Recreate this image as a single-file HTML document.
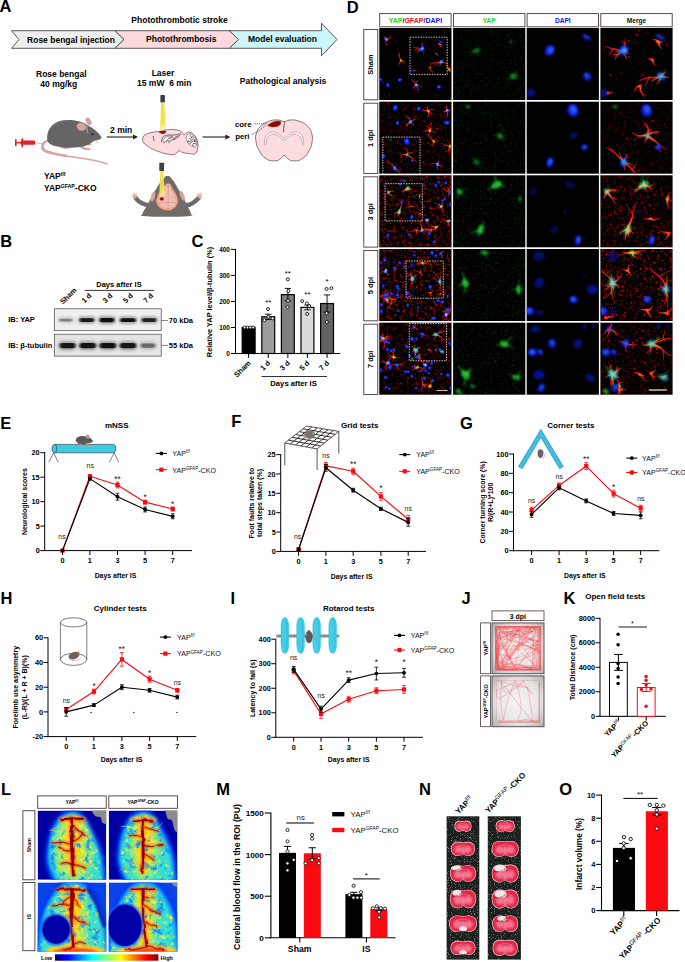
<!DOCTYPE html>
<html><head><meta charset="utf-8"><title>Figure</title>
<style>
html,body{margin:0;padding:0;background:#fff;}
body{width:685px;height:962px;overflow:hidden;font-family:"Liberation Sans", sans-serif;}
svg{display:block;font-family:"Liberation Sans", sans-serif;}
</style></head><body>
<svg width="685" height="962" viewBox="0 0 685 962">
<defs>
<linearGradient id="beam" x1="0" x2="0" y1="0" y2="1"><stop offset="0" stop-color="#efdc3a"/><stop offset="0.75" stop-color="#f4e658"/><stop offset="1" stop-color="#f9f0a0" stop-opacity="0.7"/></linearGradient>
<filter id="blurB" x="-30%" y="-80%" width="160%" height="260%"><feGaussianBlur stdDeviation="1.5 1.3"/></filter>
<filter id="blurB2" x="-30%" y="-80%" width="160%" height="260%"><feGaussianBlur stdDeviation="0.9 0.7"/></filter>
<clipPath id="clipB1"><rect x="54.3" y="308.8" width="106.9" height="21.9"/></clipPath>
<clipPath id="clipB2"><rect x="54.3" y="334.2" width="106.9" height="21.9"/></clipPath>
<filter id="bl04" x="-20%" y="-20%" width="140%" height="140%"><feGaussianBlur stdDeviation="0.45"/></filter>
<filter id="bl07" x="-20%" y="-20%" width="140%" height="140%"><feGaussianBlur stdDeviation="0.8"/></filter>
<filter id="bl03" x="-20%" y="-20%" width="140%" height="140%"><feGaussianBlur stdDeviation="0.3"/></filter>
<filter id="nR0" x="0" y="0" width="100%" height="100%" color-interpolation-filters="sRGB"><feTurbulence type="fractalNoise" baseFrequency="0.5" numOctaves="2" seed="3"/><feColorMatrix type="matrix" values="0 0 0 0 0.93 0 0 0 0 0.06 0 0 0 0 0.05 9 0 0 0 -6.615"/></filter>
<filter id="nRo0" x="0" y="0" width="100%" height="100%" color-interpolation-filters="sRGB"><feTurbulence type="fractalNoise" baseFrequency="0.85" numOctaves="2" seed="23"/><feColorMatrix type="matrix" values="0 0 0 0 0.8 0 0 0 0 0.05 0 0 0 0 0.05 7 0 0 0 -5.145"/></filter>
<filter id="nH0" x="0" y="0" width="100%" height="100%" color-interpolation-filters="sRGB"><feTurbulence type="fractalNoise" baseFrequency="0.3" numOctaves="2" seed="63"/><feColorMatrix type="matrix" values="0 0 0 0 0.8 0 0 0 0 0.04 0 0 0 0 0.04 0.0 0 0 0 -0.000"/></filter>
<filter id="nG0" x="0" y="0" width="100%" height="100%" color-interpolation-filters="sRGB"><feTurbulence type="fractalNoise" baseFrequency="0.4" numOctaves="2" seed="43"/><feColorMatrix type="matrix" values="0 0 0 0 0.06 0 0 0 0 0.5 0 0 0 0 0.08 1.3 0 0 0 -0.780"/></filter>
<filter id="nGf0" x="0" y="0" width="100%" height="100%" color-interpolation-filters="sRGB"><feTurbulence type="fractalNoise" baseFrequency="0.7" numOctaves="2" seed="44"/><feColorMatrix type="matrix" values="0 0 0 0 0.12 0 0 0 0 0.75 0 0 0 0 0.15 9 0 0 0 -6.300"/></filter>
<clipPath id="cd00"><rect x="379.3" y="28.0" width="72.2" height="72.0"/></clipPath>
<clipPath id="cd01"><rect x="453.1" y="28.0" width="72.2" height="72.0"/></clipPath>
<clipPath id="cd02"><rect x="526.7" y="28.0" width="72.2" height="72.0"/></clipPath>
<clipPath id="cd03"><rect x="600.4" y="28.0" width="72.2" height="72.0"/></clipPath>
<filter id="nR1" x="0" y="0" width="100%" height="100%" color-interpolation-filters="sRGB"><feTurbulence type="fractalNoise" baseFrequency="0.5" numOctaves="2" seed="5"/><feColorMatrix type="matrix" values="0 0 0 0 0.93 0 0 0 0 0.06 0 0 0 0 0.05 9 0 0 0 -6.480"/></filter>
<filter id="nRo1" x="0" y="0" width="100%" height="100%" color-interpolation-filters="sRGB"><feTurbulence type="fractalNoise" baseFrequency="0.85" numOctaves="2" seed="25"/><feColorMatrix type="matrix" values="0 0 0 0 0.8 0 0 0 0 0.05 0 0 0 0 0.05 7 0 0 0 -4.970"/></filter>
<filter id="nH1" x="0" y="0" width="100%" height="100%" color-interpolation-filters="sRGB"><feTurbulence type="fractalNoise" baseFrequency="0.3" numOctaves="2" seed="65"/><feColorMatrix type="matrix" values="0 0 0 0 0.8 0 0 0 0 0.04 0 0 0 0 0.04 1.0 0 0 0 -0.520"/></filter>
<filter id="nG1" x="0" y="0" width="100%" height="100%" color-interpolation-filters="sRGB"><feTurbulence type="fractalNoise" baseFrequency="0.4" numOctaves="2" seed="45"/><feColorMatrix type="matrix" values="0 0 0 0 0.06 0 0 0 0 0.5 0 0 0 0 0.08 1.3 0 0 0 -0.780"/></filter>
<filter id="nGf1" x="0" y="0" width="100%" height="100%" color-interpolation-filters="sRGB"><feTurbulence type="fractalNoise" baseFrequency="0.7" numOctaves="2" seed="46"/><feColorMatrix type="matrix" values="0 0 0 0 0.12 0 0 0 0 0.75 0 0 0 0 0.15 9 0 0 0 -6.300"/></filter>
<clipPath id="cd10"><rect x="379.3" y="101.7" width="72.2" height="72.0"/></clipPath>
<clipPath id="cd11"><rect x="453.1" y="101.7" width="72.2" height="72.0"/></clipPath>
<clipPath id="cd12"><rect x="526.7" y="101.7" width="72.2" height="72.0"/></clipPath>
<clipPath id="cd13"><rect x="600.4" y="101.7" width="72.2" height="72.0"/></clipPath>
<filter id="nR2" x="0" y="0" width="100%" height="100%" color-interpolation-filters="sRGB"><feTurbulence type="fractalNoise" baseFrequency="0.5" numOctaves="2" seed="7"/><feColorMatrix type="matrix" values="0 0 0 0 0.93 0 0 0 0 0.06 0 0 0 0 0.05 9 0 0 0 -6.210"/></filter>
<filter id="nRo2" x="0" y="0" width="100%" height="100%" color-interpolation-filters="sRGB"><feTurbulence type="fractalNoise" baseFrequency="0.85" numOctaves="2" seed="27"/><feColorMatrix type="matrix" values="0 0 0 0 0.8 0 0 0 0 0.05 0 0 0 0 0.05 7 0 0 0 -4.690"/></filter>
<filter id="nH2" x="0" y="0" width="100%" height="100%" color-interpolation-filters="sRGB"><feTurbulence type="fractalNoise" baseFrequency="0.3" numOctaves="2" seed="67"/><feColorMatrix type="matrix" values="0 0 0 0 0.8 0 0 0 0 0.04 0 0 0 0 0.04 2.25 0 0 0 -1.170"/></filter>
<filter id="nG2" x="0" y="0" width="100%" height="100%" color-interpolation-filters="sRGB"><feTurbulence type="fractalNoise" baseFrequency="0.4" numOctaves="2" seed="47"/><feColorMatrix type="matrix" values="0 0 0 0 0.06 0 0 0 0 0.5 0 0 0 0 0.08 1.3 0 0 0 -0.767"/></filter>
<filter id="nGf2" x="0" y="0" width="100%" height="100%" color-interpolation-filters="sRGB"><feTurbulence type="fractalNoise" baseFrequency="0.7" numOctaves="2" seed="48"/><feColorMatrix type="matrix" values="0 0 0 0 0.12 0 0 0 0 0.75 0 0 0 0 0.15 9 0 0 0 -6.300"/></filter>
<clipPath id="cd20"><rect x="379.3" y="175.3" width="72.2" height="72.0"/></clipPath>
<clipPath id="cd21"><rect x="453.1" y="175.3" width="72.2" height="72.0"/></clipPath>
<clipPath id="cd22"><rect x="526.7" y="175.3" width="72.2" height="72.0"/></clipPath>
<clipPath id="cd23"><rect x="600.4" y="175.3" width="72.2" height="72.0"/></clipPath>
<filter id="nR3" x="0" y="0" width="100%" height="100%" color-interpolation-filters="sRGB"><feTurbulence type="fractalNoise" baseFrequency="0.5" numOctaves="2" seed="9"/><feColorMatrix type="matrix" values="0 0 0 0 0.93 0 0 0 0 0.06 0 0 0 0 0.05 9 0 0 0 -6.030"/></filter>
<filter id="nRo3" x="0" y="0" width="100%" height="100%" color-interpolation-filters="sRGB"><feTurbulence type="fractalNoise" baseFrequency="0.85" numOctaves="2" seed="29"/><feColorMatrix type="matrix" values="0 0 0 0 0.8 0 0 0 0 0.05 0 0 0 0 0.05 7 0 0 0 -4.620"/></filter>
<filter id="nH3" x="0" y="0" width="100%" height="100%" color-interpolation-filters="sRGB"><feTurbulence type="fractalNoise" baseFrequency="0.3" numOctaves="2" seed="69"/><feColorMatrix type="matrix" values="0 0 0 0 0.8 0 0 0 0 0.04 0 0 0 0 0.04 2.5 0 0 0 -1.300"/></filter>
<filter id="nG3" x="0" y="0" width="100%" height="100%" color-interpolation-filters="sRGB"><feTurbulence type="fractalNoise" baseFrequency="0.4" numOctaves="2" seed="49"/><feColorMatrix type="matrix" values="0 0 0 0 0.06 0 0 0 0 0.5 0 0 0 0 0.08 1.3 0 0 0 -0.767"/></filter>
<filter id="nGf3" x="0" y="0" width="100%" height="100%" color-interpolation-filters="sRGB"><feTurbulence type="fractalNoise" baseFrequency="0.7" numOctaves="2" seed="50"/><feColorMatrix type="matrix" values="0 0 0 0 0.12 0 0 0 0 0.75 0 0 0 0 0.15 9 0 0 0 -6.300"/></filter>
<clipPath id="cd30"><rect x="379.3" y="249.0" width="72.2" height="72.0"/></clipPath>
<clipPath id="cd31"><rect x="453.1" y="249.0" width="72.2" height="72.0"/></clipPath>
<clipPath id="cd32"><rect x="526.7" y="249.0" width="72.2" height="72.0"/></clipPath>
<clipPath id="cd33"><rect x="600.4" y="249.0" width="72.2" height="72.0"/></clipPath>
<filter id="nR4" x="0" y="0" width="100%" height="100%" color-interpolation-filters="sRGB"><feTurbulence type="fractalNoise" baseFrequency="0.5" numOctaves="2" seed="11"/><feColorMatrix type="matrix" values="0 0 0 0 0.93 0 0 0 0 0.06 0 0 0 0 0.05 9 0 0 0 -6.345"/></filter>
<filter id="nRo4" x="0" y="0" width="100%" height="100%" color-interpolation-filters="sRGB"><feTurbulence type="fractalNoise" baseFrequency="0.85" numOctaves="2" seed="31"/><feColorMatrix type="matrix" values="0 0 0 0 0.8 0 0 0 0 0.05 0 0 0 0 0.05 7 0 0 0 -4.830"/></filter>
<filter id="nH4" x="0" y="0" width="100%" height="100%" color-interpolation-filters="sRGB"><feTurbulence type="fractalNoise" baseFrequency="0.3" numOctaves="2" seed="71"/><feColorMatrix type="matrix" values="0 0 0 0 0.8 0 0 0 0 0.04 0 0 0 0 0.04 1.5 0 0 0 -0.780"/></filter>
<filter id="nG4" x="0" y="0" width="100%" height="100%" color-interpolation-filters="sRGB"><feTurbulence type="fractalNoise" baseFrequency="0.4" numOctaves="2" seed="51"/><feColorMatrix type="matrix" values="0 0 0 0 0.06 0 0 0 0 0.5 0 0 0 0 0.08 1.3 0 0 0 -0.767"/></filter>
<filter id="nGf4" x="0" y="0" width="100%" height="100%" color-interpolation-filters="sRGB"><feTurbulence type="fractalNoise" baseFrequency="0.7" numOctaves="2" seed="52"/><feColorMatrix type="matrix" values="0 0 0 0 0.12 0 0 0 0 0.75 0 0 0 0 0.15 9 0 0 0 -6.300"/></filter>
<clipPath id="cd40"><rect x="379.3" y="322.7" width="72.2" height="72.0"/></clipPath>
<clipPath id="cd41"><rect x="453.1" y="322.7" width="72.2" height="72.0"/></clipPath>
<clipPath id="cd42"><rect x="526.7" y="322.7" width="72.2" height="72.0"/></clipPath>
<clipPath id="cd43"><rect x="600.4" y="322.7" width="72.2" height="72.0"/></clipPath>
<radialGradient id="gJ" cx="50%" cy="50%" r="70%"><stop offset="0" stop-color="#f4f4f4"/><stop offset="0.6" stop-color="#e6e6e6"/><stop offset="1" stop-color="#b0b0b0"/></radialGradient>
<filter id="lb05" x="-40%" y="-40%" width="180%" height="180%"><feGaussianBlur stdDeviation="0.4"/></filter>
<filter id="lb1" x="-40%" y="-40%" width="180%" height="180%"><feGaussianBlur stdDeviation="0.9"/></filter>
<filter id="lb2" x="-40%" y="-40%" width="180%" height="180%"><feGaussianBlur stdDeviation="1.8"/></filter>
<filter id="lb3" x="-40%" y="-40%" width="180%" height="180%"><feGaussianBlur stdDeviation="3.0"/></filter>
<filter id="lb5" x="-40%" y="-40%" width="180%" height="180%"><feGaussianBlur stdDeviation="5.0"/></filter>
<filter id="lwob" x="-10%" y="-10%" width="120%" height="120%"><feTurbulence type="fractalNoise" baseFrequency="0.09" numOctaves="2" seed="4" result="n"/><feDisplacementMap in="SourceGraphic" in2="n" scale="3.2" xChannelSelector="R" yChannelSelector="G"/><feGaussianBlur stdDeviation="0.35"/></filter>
<linearGradient id="jet" x1="0" x2="1" y1="0" y2="0"><stop offset="0" stop-color="#00007f"/><stop offset="0.12" stop-color="#0000ff"/><stop offset="0.36" stop-color="#00ffff"/><stop offset="0.5" stop-color="#7fff7f"/><stop offset="0.64" stop-color="#ffff00"/><stop offset="0.88" stop-color="#ff0000"/><stop offset="1" stop-color="#7f0000"/></linearGradient>
<clipPath id="cl0"><rect x="37.6" y="810.6" width="68.7" height="69.2"/></clipPath>
<clipPath id="clb0"><path d="M72.6 814.8 C76.1 814.8 79.1 816.6 82.2 819.9 C85.3 823.3 88.6 829.9 91.1 834.7 C93.7 839.6 95.9 844.1 97.5 848.9 C99.1 853.7 100.4 858.0 100.7 863.7 C101.0 869.4 104.2 879.4 99.4 883.0 C94.6 886.7 78.7 885.6 72.0 885.6 C65.2 885.6 62.8 886.4 59.2 883.0 C55.6 879.6 51.8 870.4 50.2 865.0 C48.6 859.6 49.2 856.0 49.6 850.8 C50.0 845.7 50.9 839.2 52.8 834.1 C54.7 829.0 57.8 823.2 61.1 819.9 C64.4 816.7 69.1 814.8 72.6 814.8Z"/></clipPath>
<filter id="lnB0" x="0" y="0" width="100%" height="100%" color-interpolation-filters="sRGB"><feTurbulence type="fractalNoise" baseFrequency="0.14" numOctaves="3" seed="2"/><feColorMatrix type="matrix" values="0 0 0 0 0.05 0 0 0 0 0.55 0 0 0 0 1 4.5 0 0 0 -2.45"/></filter>
<filter id="lnY0" x="0" y="0" width="100%" height="100%" color-interpolation-filters="sRGB"><feTurbulence type="fractalNoise" baseFrequency="0.2" numOctaves="3" seed="12"/><feColorMatrix type="matrix" values="0 0 0 0 1 0 0 0 0 0.95 0 0 0 0 0.2 0 4 0 0 -2.3"/></filter>
<clipPath id="cl1"><rect x="108.7" y="810.6" width="68.7" height="69.2"/></clipPath>
<clipPath id="clb1"><path d="M143.7 814.8 C147.2 814.8 150.2 816.6 153.3 819.9 C156.4 823.3 159.7 829.9 162.2 834.7 C164.8 839.6 167.0 844.1 168.6 848.9 C170.2 853.7 171.5 858.0 171.8 863.7 C172.1 869.4 175.3 879.4 170.5 883.0 C165.7 886.7 149.8 885.6 143.1 885.6 C136.3 885.6 133.9 886.4 130.3 883.0 C126.7 879.6 122.9 870.4 121.3 865.0 C119.7 859.6 120.3 856.0 120.7 850.8 C121.1 845.7 122.0 839.2 123.9 834.1 C125.8 829.0 128.9 823.2 132.2 819.9 C135.5 816.7 140.2 814.8 143.7 814.8Z"/></clipPath>
<filter id="lnB1" x="0" y="0" width="100%" height="100%" color-interpolation-filters="sRGB"><feTurbulence type="fractalNoise" baseFrequency="0.14" numOctaves="3" seed="3"/><feColorMatrix type="matrix" values="0 0 0 0 0.05 0 0 0 0 0.55 0 0 0 0 1 4.5 0 0 0 -2.45"/></filter>
<filter id="lnY1" x="0" y="0" width="100%" height="100%" color-interpolation-filters="sRGB"><feTurbulence type="fractalNoise" baseFrequency="0.2" numOctaves="3" seed="13"/><feColorMatrix type="matrix" values="0 0 0 0 1 0 0 0 0 0.95 0 0 0 0 0.2 0 4 0 0 -2.3"/></filter>
<clipPath id="cl2"><rect x="37.6" y="882.4" width="68.7" height="69.2"/></clipPath>
<clipPath id="clb2"><path d="M72.6 884.0 C76.6 883.9 81.0 885.0 84.7 887.9 C88.5 890.8 92.2 896.5 95.0 901.4 C97.7 906.3 99.8 911.8 101.3 917.5 C102.8 923.2 103.7 929.1 103.9 935.5 C104.1 941.9 107.9 952.5 102.6 956.1 C97.3 959.7 82.0 957.4 72.0 957.4 C61.9 957.4 47.7 959.5 42.6 956.1 C37.4 952.7 41.2 942.7 41.3 936.8 C41.4 930.9 41.8 926.3 43.2 920.7 C44.6 915.1 46.7 908.7 49.6 903.3 C52.5 898.0 56.6 891.7 60.4 888.5 C64.3 885.3 68.5 884.1 72.6 884.0Z"/></clipPath>
<filter id="lnB2" x="0" y="0" width="100%" height="100%" color-interpolation-filters="sRGB"><feTurbulence type="fractalNoise" baseFrequency="0.14" numOctaves="3" seed="4"/><feColorMatrix type="matrix" values="0 0 0 0 0.05 0 0 0 0 0.55 0 0 0 0 1 4.5 0 0 0 -2.45"/></filter>
<filter id="lnY2" x="0" y="0" width="100%" height="100%" color-interpolation-filters="sRGB"><feTurbulence type="fractalNoise" baseFrequency="0.2" numOctaves="3" seed="14"/><feColorMatrix type="matrix" values="0 0 0 0 1 0 0 0 0 0.95 0 0 0 0 0.2 0 4 0 0 -2.3"/></filter>
<clipPath id="cl3"><rect x="108.7" y="882.4" width="68.7" height="69.2"/></clipPath>
<clipPath id="clb3"><path d="M143.7 884.0 C147.7 883.9 152.1 885.0 155.8 887.9 C159.6 890.8 163.3 896.5 166.1 901.4 C168.8 906.3 170.9 911.8 172.4 917.5 C173.9 923.2 174.8 929.1 175.0 935.5 C175.2 941.9 179.0 952.5 173.7 956.1 C168.4 959.7 153.1 957.4 143.1 957.4 C133.0 957.4 118.8 959.5 113.7 956.1 C108.5 952.7 112.3 942.7 112.4 936.8 C112.5 930.9 112.9 926.3 114.3 920.7 C115.7 915.1 117.8 908.7 120.7 903.3 C123.6 898.0 127.7 891.7 131.5 888.5 C135.4 885.3 139.6 884.1 143.7 884.0Z"/></clipPath>
<filter id="lnB3" x="0" y="0" width="100%" height="100%" color-interpolation-filters="sRGB"><feTurbulence type="fractalNoise" baseFrequency="0.14" numOctaves="3" seed="5"/><feColorMatrix type="matrix" values="0 0 0 0 0.05 0 0 0 0 0.55 0 0 0 0 1 4.5 0 0 0 -2.45"/></filter>
<filter id="lnY3" x="0" y="0" width="100%" height="100%" color-interpolation-filters="sRGB"><feTurbulence type="fractalNoise" baseFrequency="0.2" numOctaves="3" seed="15"/><feColorMatrix type="matrix" values="0 0 0 0 1 0 0 0 0 0.95 0 0 0 0 0.2 0 4 0 0 -2.3"/></filter>
<filter id="nb1" x="-40%" y="-40%" width="180%" height="180%"><feGaussianBlur stdDeviation="0.9"/></filter>
<filter id="nb05" x="-40%" y="-40%" width="180%" height="180%"><feGaussianBlur stdDeviation="0.5"/></filter>
<filter id="nsp" x="0" y="0" width="100%" height="100%" color-interpolation-filters="sRGB"><feTurbulence type="fractalNoise" baseFrequency="1.3" numOctaves="1" seed="8"/><feColorMatrix type="matrix" values="0 0 0 0 0.60 0 0 0 0 0.64 0 0 0 0 0.62 5 0 0 0 -2.9"/></filter>
</defs>
<rect width="685" height="962" fill="#fff"/>
<g id="panelA">
<text x="-0.60" y="11.90" font-size="16.5" font-weight="bold" text-anchor="start" fill="#000" >A</text>
<text x="179.50" y="23.20" font-size="8.5" font-weight="bold" text-anchor="middle" fill="#000" >Photothrombotic stroke</text>
<path d="M11.5 30.7 L115 30.7 L124 39.5 L115 48.3 L11.5 48.3 L19 39.5 Z" fill="#efefef" stroke="#3a3030" stroke-width="0.8" />
<path d="M115 30.7 L229.5 30.7 L238.5 39.5 L229.5 48.3 L115 48.3 L124 39.5 Z" fill="#fcd9dc" stroke="#3a3030" stroke-width="0.8" />
<path d="M229.5 30.7 L321.5 30.7 L321.5 23.2 L337 39.5 L321.5 55.8 L321.5 48.3 L229.5 48.3 L238.5 39.5 Z" fill="#ccf6f8" stroke="#3a3030" stroke-width="0.8" />
<text x="71.00" y="42.60" font-size="8.5" font-weight="bold" text-anchor="middle" fill="#000" >Rose bengal injection</text>
<text x="181.20" y="42.00" font-size="8.5" font-weight="bold" text-anchor="middle" fill="#000" >Photothrombosis</text>
<text x="282.50" y="42.00" font-size="8.5" font-weight="bold" text-anchor="middle" fill="#000" >Model evaluation</text>
<text x="61.30" y="77.20" font-size="8.5" font-weight="bold" text-anchor="middle" fill="#000" >Rose bengal</text>
<text x="58.80" y="86.80" font-size="8.5" font-weight="bold" text-anchor="middle" fill="#000" >40 mg/kg</text>
<text x="163.00" y="76.20" font-size="8.5" font-weight="bold" text-anchor="middle" fill="#000" >Laser</text>
<text x="164.20" y="86.20" font-size="8.5" font-weight="bold" text-anchor="middle" fill="#000" xml:space="preserve">15 mW  6 min</text>
<text x="283.00" y="84.20" font-size="8.5" font-weight="bold" text-anchor="middle" fill="#000" >Pathological analysis</text>
<g><rect x="20.50" y="140.60" width="14.50" height="4.20" fill="#e0202a" stroke="none" stroke-width="1" rx="1"/>
<rect x="15.50" y="142.00" width="5.50" height="1.40" fill="#e0202a" stroke="none" stroke-width="1" />
<rect x="15.00" y="139.30" width="1.60" height="6.80" fill="#e0202a" stroke="none" stroke-width="1" />
<rect x="21.50" y="138.30" width="1.60" height="8.80" fill="#e0202a" stroke="none" stroke-width="1" />
<line x1="35.00" y1="142.70" x2="43.00" y2="143.60" stroke="#888" stroke-width="0.5" />
</g><path d="M49 140 C42 142 39 148 45 151.5 C58 157.5 88 156.5 107 164" fill="none" stroke="#d4a6a0" stroke-width="1.5" stroke-linecap="round"/>
<path d="M49.5 139.5 C43 142 40.5 147 45 150.5 C50 153 58 154.6 66 155.6" fill="none" stroke="#d4a6a0" stroke-width="2.3" stroke-linecap="round"/>
<path d="M60 146 q4 3 9 1.6" fill="none" stroke="#d4a6a0" stroke-width="2" stroke-linecap="round"/>
<path d="M80 146.5 q5 3 9.5 2.5" fill="none" stroke="#d4a6a0" stroke-width="2.2" stroke-linecap="round"/>
<path d="M84 143.5 q4 1.6 7 0.6" fill="none" stroke="#d4a6a0" stroke-width="1.8" stroke-linecap="round"/>
<path d="M47.5 141 C45.5 129 54 120.5 66 120 C76 119.5 84 122 89 126 C95 129 100 134.5 101.8 137.6 C101 139.6 98 140.6 94 140.8 C91 143.5 86 146.5 80 147 C72 148 64 148 58 146.5 C52.5 145.6 48.5 144 47.5 141 Z" fill="#676564" stroke="none" stroke-width="1" />
<path d="M58 146 q6 2.6 10 1 q-4 -3 -9 -3 Z" fill="#676564" stroke="none" stroke-width="1" />
<path d="M52 128 C56 122.6 62 121 68 120.8" fill="none" stroke="#8a8887" stroke-width="0.5" />
<ellipse cx="88.6" cy="121.4" rx="2.2" ry="3.8" fill="#d4a6a0" stroke="#b98884" stroke-width="0.4" transform="rotate(-28 88.6 121.4)"/>
<ellipse cx="81.4" cy="126.8" rx="4.7" ry="4.0" fill="#d4a6a0" stroke="#b98884" stroke-width="0.5" transform="rotate(20 81.4 126.8)"/>
<circle cx="92.60" cy="134.20" r="0.95" fill="#111" stroke="none" stroke-width="1" />
<circle cx="101.20" cy="137.60" r="0.80" fill="#d4a6a0" stroke="none" stroke-width="1" />
<line x1="97.50" y1="139.50" x2="94.50" y2="143.50" stroke="#bbb" stroke-width="0.35" />
<line x1="97.50" y1="139.50" x2="96.50" y2="144.50" stroke="#bbb" stroke-width="0.35" />
<line x1="97.50" y1="139.50" x2="99.00" y2="144.50" stroke="#bbb" stroke-width="0.35" />
<line x1="97.50" y1="139.50" x2="92.50" y2="142.50" stroke="#bbb" stroke-width="0.35" />
<line x1="86.70" y1="124.00" x2="87.30" y2="133.00" stroke="#ddd" stroke-width="0.6" />
<text x="121.20" y="133.20" font-size="8.5" font-weight="bold" text-anchor="middle" fill="#000" >2 min</text>
<line x1="106.80" y1="137.00" x2="134.00" y2="137.00" stroke="#2a1e1e" stroke-width="1.1" />
<path d="M133 134.6 L138 137 L133 139.4 Z" fill="#2a1e1e" stroke="none" stroke-width="1" />
<text x="44.00" y="179.40" font-size="8.5" font-weight="bold" text-anchor="start" fill="#000" >YAP<tspan font-size="5.20" dy="-3.20">f/f</tspan></text>
<text x="44.00" y="190.70" font-size="8.5" font-weight="bold" text-anchor="start" fill="#000" >YAP<tspan font-size="5.20" dy="-3.20">GFAP</tspan><tspan dy="3.20" dx="0">-CKO</tspan></text>
<rect x="160.40" y="95.10" width="4.50" height="7.40" fill="#3b4045" stroke="none" stroke-width="1" rx="0.4"/>
<rect x="159.30" y="162.80" width="4.80" height="8.20" fill="#3b4045" stroke="none" stroke-width="1" rx="0.4"/>
<path d="M161.2 102.5 L164.2 102.5 L166.0 130.6 L159.9 130.6 Z" fill="url(#beam)" stroke="none" stroke-width="1" />
<path d="M142.8 138.1 C143.4 136.1 142.8 136.2 145.6 134.6 C148.3 133.1 149.5 133.0 153.1 132.2 C156.8 131.3 155.5 132.1 159.3 131.5 C163.1 130.9 163.1 130.3 167.5 129.8 C171.9 129.4 172.1 129.4 175.8 129.8 C179.4 130.3 179.1 130.3 181.2 131.6 C183.4 132.9 182.4 134.2 183.7 134.6 C185.0 135.1 184.5 133.9 186.1 133.3 C187.6 132.6 187.1 131.4 189.5 132.2 C191.9 132.9 192.8 133.2 195.0 136.0 C197.2 138.9 197.1 139.4 197.7 142.9 C198.4 146.4 198.1 146.2 197.4 149.1 C196.8 151.9 197.4 152.4 195.2 153.6 C193.1 154.8 192.8 153.9 189.5 153.6 C186.1 153.3 185.4 153.2 182.6 152.5 C179.9 151.7 180.9 150.4 179.2 150.7 C177.4 151.0 177.9 152.5 176.0 153.6 C174.2 154.6 175.0 154.6 172.3 154.7 C169.7 154.7 169.6 154.6 166.2 153.9 C162.7 153.1 163.0 153.1 159.3 151.8 C155.6 150.5 155.7 150.7 152.4 149.1 C149.1 147.4 149.3 147.5 147.0 145.6 C144.6 143.8 144.6 144.2 143.5 142.2 C142.4 140.2 142.3 140.1 142.8 138.1Z" fill="#fcdcdf" stroke="#2e1c1c" stroke-width="0.55" />
<path d="M158.9 131.8 C158.4 132.4 159.6 132.9 160.9 133.4 C162.3 133.9 162.7 134.2 164.1 133.7 C165.5 133.2 166.5 132.3 166.2 131.6 C165.8 130.9 164.7 131.0 162.7 131.1 C160.8 131.1 159.4 131.1 158.9 131.8Z" fill="#9c1216" stroke="none" stroke-width="1" />
<path d="M161.4 142.3 C161.7 141.1 161.3 139.5 162.7 137.7 C164.2 135.8 164.3 136.0 166.8 135.3 C169.4 134.6 169.4 135.3 172.3 135.1 C175.3 134.8 175.6 134.9 177.8 134.4 C180.1 133.8 179.9 133.4 180.7 133.0" fill="none" stroke="#2e1c1c" stroke-width="0.65" />
<path d="M163.8 143.2 C164.4 142.2 164.4 140.8 166.2 139.4 C167.9 138.1 168.4 138.6 170.3 137.9 C172.2 137.3 172.5 137.3 173.3 137.1" fill="none" stroke="#2e1c1c" stroke-width="0.65" />
<path d="M168.6 143.2 C169.1 142.5 169.2 141.7 170.5 140.7 C171.9 139.7 172.1 140.0 173.7 139.3 C175.3 138.7 175.1 139.1 176.6 138.2 C178.0 137.3 178.2 137.1 179.2 136.0 C180.1 134.9 179.9 134.6 180.2 134.1" fill="none" stroke="#2e1c1c" stroke-width="0.65" />
<path d="M153.1 136.0 C153.4 137.3 153.8 139.6 154.1 141.0" fill="none" stroke="#2e1c1c" stroke-width="0.65" />
<path d="M166.2 142.2 C166.5 141.6 166.7 140.2 167.5 140.1 C168.3 140.0 168.7 141.3 169.2 141.8" fill="none" stroke="#2e1c1c" stroke-width="0.65" />
<path d="M173.7 140.1 C174.1 139.4 173.8 138.6 175.1 137.4 C176.4 136.2 177.6 136.2 178.5 135.7" fill="none" stroke="#2e1c1c" stroke-width="0.65" />
<path d="M163.1 141.8 C162.8 140.9 163.2 139.5 164.8 138.1 C166.3 136.6 166.9 136.8 168.9 136.3 C170.9 135.8 172.3 135.8 172.3 136.3 C172.3 136.8 170.5 136.9 168.9 138.2 C167.3 139.5 167.7 140.3 166.2 141.2 C164.6 142.2 163.5 142.6 163.1 141.8Z" fill="#fff" stroke="#2e1c1c" stroke-width="0.45" />
<path d="M186.5 136.0 C187.1 134.2 187.6 134.0 189.5 134.0 C191.4 134.0 191.8 134.0 193.6 136.0 C195.4 138.0 195.7 138.8 196.3 141.5 C197.0 144.2 197.0 145.0 196.1 146.3 C195.2 147.6 194.7 146.9 192.9 146.3 C191.2 145.8 191.1 145.7 189.5 144.2 C187.9 142.8 187.8 143.0 187.0 140.8 C186.2 138.6 185.8 137.8 186.5 136.0Z" fill="#fff" stroke="#2e1c1c" stroke-width="0.45" />
<path d="M187.4 142.2 C188.3 141.8 189.0 142.1 190.9 140.8 C192.7 139.5 193.4 138.3 194.3 137.4" fill="none" stroke="#2e1c1c" stroke-width="0.7" />
<path d="M189.5 144.2 C190.2 143.5 190.6 142.4 192.2 141.5 C193.9 140.6 194.7 141.0 195.7 140.8" fill="none" stroke="#2e1c1c" stroke-width="0.7" />
<path d="M188.4 138.1 C189.0 138.3 189.8 139.3 190.9 138.8 C192.0 138.2 192.1 136.7 192.5 136.0" fill="none" stroke="#2e1c1c" stroke-width="0.7" />
<path d="M192.9 146.3 C193.0 145.6 192.4 144.1 193.3 143.6 C194.2 143.0 195.5 144.1 196.3 144.2" fill="none" stroke="#2e1c1c" stroke-width="0.7" />
<path d="M190.2 135.3 C190.5 136.0 191.2 137.0 191.5 137.7" fill="none" stroke="#2e1c1c" stroke-width="0.7" />
<path d="M194.3 139.0 C194.5 140.0 195.0 141.7 195.2 142.6" fill="none" stroke="#2e1c1c" stroke-width="0.7" />
<path d="M187.8 140.1 C188.3 140.6 189.0 141.3 189.5 141.8" fill="none" stroke="#2e1c1c" stroke-width="0.7" />
<line x1="202.60" y1="137.00" x2="226.40" y2="137.00" stroke="#2a1e1e" stroke-width="1.1" />
<path d="M225.4 134.6 L230.4 137 L225.4 139.4 Z" fill="#2a1e1e" stroke="none" stroke-width="1" />
<path d="M284.2 121.6 C286.9 121.6 285.6 120.3 289.3 120.1 C293.0 119.9 293.4 119.4 298.1 120.8 C302.7 122.3 303.3 122.3 306.8 125.5 C310.4 128.7 310.1 128.5 311.5 132.8 C312.9 137.1 312.7 136.9 312.1 141.6 C311.5 146.2 311.7 145.9 309.2 150.3 C306.7 154.8 306.8 155.6 302.7 158.4 C298.7 161.2 298.0 160.8 294.0 160.8 C289.9 160.9 290.2 160.0 287.6 158.5 C285.0 157.0 286.0 155.3 284.2 155.3 C282.4 155.3 283.5 157.0 280.8 158.5 C278.2 160.0 278.5 160.9 274.4 160.8 C270.4 160.8 269.7 161.2 265.7 158.4 C261.6 155.6 261.8 154.8 259.2 150.3 C256.7 145.9 256.7 146.2 256.0 141.6 C255.3 136.9 255.1 137.1 256.6 132.8 C258.1 128.5 257.9 128.7 261.6 125.5 C265.2 122.3 265.7 122.3 270.3 120.8 C275.0 119.4 275.4 119.9 279.1 120.1 C282.8 120.3 281.5 121.6 284.2 121.6Z" fill="#fcdcdf" stroke="#2e1c1c" stroke-width="0.55" />
<path d="M284.6 121.6 C284.4 123.0 284.2 124.1 283.9 127.0 C283.6 129.8 283.6 130.8 283.5 132.2" fill="none" stroke="#2a1a1a" stroke-width="0.7" />
<path d="M267.7 125.5 C268.1 124.3 269.0 123.6 271.8 122.3 C274.6 121.1 275.9 120.9 278.4 120.8 C280.8 120.8 280.7 120.8 281.0 122.0 C281.3 123.3 281.1 124.2 279.4 125.5 C277.7 126.9 277.1 126.8 274.7 127.1 C272.3 127.5 272.2 127.3 270.3 126.8 C268.5 126.4 267.3 126.7 267.7 125.5Z" fill="#8c0c0c" stroke="#e8c0a0" stroke-width="0.35" />
<path d="M264.5 143.9 C264.3 142.6 264.2 139.4 265.2 137.2 C266.2 135.0 267.7 133.8 269.6 132.8 C271.5 131.8 272.7 131.6 274.7 132.1 C276.8 132.5 277.9 133.8 279.8 135.0 C281.7 136.2 282.5 138.1 284.2 138.1 C286.0 138.1 286.7 136.2 288.6 135.0 C290.5 133.8 291.6 132.5 293.7 132.1 C295.7 131.6 297.0 131.8 298.8 132.8 C300.6 133.8 301.8 135.0 302.7 137.2 C303.7 139.4 303.7 142.7 303.6 143.9 C303.5 145.1 302.7 144.2 302.2 143.0 C301.6 141.9 301.9 139.7 301.0 138.1 C300.1 136.4 299.2 135.6 297.8 134.9 C296.3 134.1 295.4 133.8 293.7 134.1 C292.0 134.5 291.2 135.4 289.3 136.6 C287.4 137.8 286.2 140.1 284.2 140.1 C282.2 140.1 281.0 137.8 279.1 136.6 C277.2 135.4 276.4 134.5 274.7 134.1 C273.0 133.8 272.1 134.1 270.6 134.9 C269.1 135.6 268.0 136.3 267.1 138.1 C266.2 139.9 266.8 142.7 266.2 143.9 C265.7 145.1 264.7 145.3 264.5 143.9Z" fill="#fff" stroke="#6a5050" stroke-width="0.4" />
<line x1="279.09" y1="137.20" x2="278.36" y2="143.04" stroke="#fff" stroke-width="0.5" />
<line x1="289.31" y1="137.20" x2="290.48" y2="143.04" stroke="#fff" stroke-width="0.5" />
<text x="235.00" y="126.60" font-size="7.8" font-weight="bold" text-anchor="start" fill="#000" >core</text>
<text x="235.20" y="138.80" font-size="7.8" font-weight="bold" text-anchor="start" fill="#000" >peri</text>
<line x1="254.50" y1="123.80" x2="268.00" y2="123.80" stroke="#111" stroke-width="0.65" stroke-dasharray="1.2 1"/>
<path d="M251.5 134.6 C256 132.6 261 129.4 265.6 125.6" fill="none" stroke="#111" stroke-width="0.65" stroke-dasharray="1.2 1"/>
<path d="M151.8 204.6 C150.1 204.6 149.1 205.5 145.6 204.6 C142.1 203.7 141.4 203.0 138.7 201.2 C136.1 199.4 136.5 198.7 135.7 197.8" fill="none" stroke="#6e6c6b" stroke-width="4.4" stroke-linecap="round"/>
<path d="M183.3 204.6 C185.0 204.6 186.2 205.6 189.5 204.6 C192.8 203.6 193.2 202.6 195.7 200.8 C198.1 198.9 198.0 198.6 198.8 197.8" fill="none" stroke="#6e6c6b" stroke-width="4.4" stroke-linecap="round"/>
<circle cx="134.88" cy="196.38" r="2.00" fill="#e2aca6" stroke="none" stroke-width="1" />
<line x1="134.88" y1="196.38" x2="131.33" y2="195.76" stroke="#e2aca6" stroke-width="0.85" stroke-linecap="round"/>
<line x1="134.88" y1="196.38" x2="132.33" y2="193.84" stroke="#e2aca6" stroke-width="0.85" stroke-linecap="round"/>
<line x1="134.88" y1="196.38" x2="134.25" y2="192.84" stroke="#e2aca6" stroke-width="0.85" stroke-linecap="round"/>
<line x1="134.88" y1="196.38" x2="136.40" y2="193.12" stroke="#e2aca6" stroke-width="0.85" stroke-linecap="round"/>
<circle cx="199.77" cy="196.38" r="2.00" fill="#e2aca6" stroke="none" stroke-width="1" />
<line x1="199.77" y1="196.38" x2="196.65" y2="194.58" stroke="#e2aca6" stroke-width="0.85" stroke-linecap="round"/>
<line x1="199.77" y1="196.38" x2="198.25" y2="193.12" stroke="#e2aca6" stroke-width="0.85" stroke-linecap="round"/>
<line x1="199.77" y1="196.38" x2="200.40" y2="192.84" stroke="#e2aca6" stroke-width="0.85" stroke-linecap="round"/>
<line x1="199.77" y1="196.38" x2="202.32" y2="193.84" stroke="#e2aca6" stroke-width="0.85" stroke-linecap="round"/>
<path d="M167.5 176.1 C170.1 176.1 169.6 176.4 172.3 179.6 C175.1 182.9 175.1 183.7 177.8 188.2 C180.6 192.6 180.2 192.0 182.6 196.4 C185.0 200.8 184.5 200.0 186.7 204.6 C188.9 209.2 190.1 210.5 190.9 213.5 C191.6 216.5 196.1 215.0 189.5 215.9 C182.9 216.7 178.4 216.7 166.2 216.7 C153.9 216.7 149.8 216.7 143.5 215.9 C137.2 215.0 141.5 216.5 142.6 213.5 C143.7 210.5 145.2 209.2 147.6 204.6 C150.1 200.0 149.4 200.8 151.8 196.4 C154.1 192.0 153.6 192.6 156.6 188.2 C159.5 183.7 159.8 182.9 162.7 179.6 C165.7 176.4 165.0 176.1 167.5 176.1Z" fill="#6e6c6b" stroke="none" stroke-width="1" />
<ellipse cx="152.9" cy="196.7" rx="2.0" ry="5.0" fill="#d9a49e" transform="rotate(16 152.9 196.7)"/>
<ellipse cx="182.3" cy="195.7" rx="2.0" ry="5.0" fill="#d9a49e" transform="rotate(-22 182.3 195.7)"/>
<path d="M168.2 183.3 C171.5 183.2 170.8 185.7 173.3 189.5 C175.8 193.4 176.5 193.7 177.5 197.8 C178.6 201.8 178.5 201.5 177.1 204.6 C175.7 207.7 175.0 207.9 172.3 209.4 C169.7 211.0 170.3 210.6 167.3 210.4 C164.2 210.1 163.8 210.4 160.9 208.5 C158.1 206.6 157.7 206.1 156.6 203.2 C155.5 200.4 155.7 201.2 156.8 197.8 C158.0 194.3 157.9 194.1 160.9 190.2 C164.0 186.4 164.9 183.5 168.2 183.3Z" fill="#e8b3a4" stroke="#c4683a" stroke-width="0.9" />
<path d="M168.2 185.7 C170.9 185.6 170.3 187.5 172.3 190.9 C174.3 194.3 175.0 194.9 175.8 198.4 C176.5 202.0 176.3 201.6 175.2 204.1 C174.1 206.5 173.8 206.5 171.6 207.6 C169.5 208.8 169.8 208.7 167.3 208.5 C164.7 208.2 164.4 208.3 162.0 206.8 C159.7 205.3 159.4 205.0 158.5 202.7 C157.6 200.4 157.7 201.1 158.7 198.0 C159.8 195.0 159.8 194.5 162.3 191.2 C164.8 187.9 165.5 185.8 168.2 185.7Z" fill="#eebfb2" stroke="#cf8a70" stroke-width="0.35" />
<line x1="168.22" y1="184.72" x2="167.94" y2="209.00" stroke="#c4745a" stroke-width="0.4" />
<line x1="157.65" y1="202.97" x2="177.13" y2="202.14" stroke="#c4745a" stroke-width="0.4" />
<ellipse cx="161.8" cy="198.9" rx="2.2" ry="1.7" fill="#9c1216"/>
<path d="M160.3 171.0 L163.2 171.0 L165.1 195.7 L159.3 196.4 Z" fill="url(#beam)" stroke="none" stroke-width="1" opacity="0.92"/>
<line x1="161.36" y1="179.64" x2="155.86" y2="178.55" stroke="#ccc" stroke-width="0.3" />
<line x1="161.36" y1="180.74" x2="155.86" y2="181.57" stroke="#ccc" stroke-width="0.3" />
<line x1="173.70" y1="179.64" x2="179.20" y2="178.55" stroke="#ccc" stroke-width="0.3" />
<line x1="173.70" y1="180.74" x2="179.20" y2="181.57" stroke="#ccc" stroke-width="0.3" />
</g>
<g id="panelB">
<text x="0.20" y="247.20" font-size="16.5" font-weight="bold" text-anchor="start" fill="#000" >B</text>
<text x="119.00" y="287.20" font-size="7.5" font-weight="bold" text-anchor="middle" fill="#000" >Days after IS</text>
<line x1="84.70" y1="290.40" x2="154.20" y2="290.40" stroke="#000" stroke-width="0.8" />
<text x="63.00" y="304.60" font-size="7.3" font-weight="bold" text-anchor="start" fill="#000" transform="rotate(-45 63.00 304.60)" >Sham</text>
<text x="84.50" y="303.60" font-size="7.3" font-weight="bold" text-anchor="start" fill="#000" transform="rotate(-45 84.50 303.60)" >1 d</text>
<text x="105.50" y="303.60" font-size="7.3" font-weight="bold" text-anchor="start" fill="#000" transform="rotate(-45 105.50 303.60)" >3 d</text>
<text x="126.00" y="303.60" font-size="7.3" font-weight="bold" text-anchor="start" fill="#000" transform="rotate(-45 126.00 303.60)" >5 d</text>
<text x="146.30" y="303.60" font-size="7.3" font-weight="bold" text-anchor="start" fill="#000" transform="rotate(-45 146.30 303.60)" >7 d</text>
<text x="8.20" y="321.90" font-size="7.5" font-weight="bold" text-anchor="start" fill="#000" >IB: YAP</text>
<text x="8.20" y="347.80" font-size="7.5" font-weight="bold" text-anchor="start" fill="#000" >IB: β-tubulin</text>
<text x="168.80" y="323.20" font-size="7.5" font-weight="bold" text-anchor="start" fill="#000" >70 kDa</text>
<text x="168.80" y="348.10" font-size="7.5" font-weight="bold" text-anchor="start" fill="#000" >55 kDa</text>
<line x1="161.20" y1="320.50" x2="168.00" y2="320.50" stroke="#333" stroke-width="0.6" />
<line x1="161.20" y1="345.40" x2="168.00" y2="345.40" stroke="#333" stroke-width="0.6" />
<rect x="54.30" y="308.80" width="106.90" height="21.90" fill="#efefef" stroke="none" stroke-width="1" />
<rect x="54.30" y="334.20" width="106.90" height="21.90" fill="#e4e4e4" stroke="none" stroke-width="1" />
<g clip-path="url(#clipB1)"><rect x="57.7" y="316.6" width="16.2" height="7.0" rx="3.3" fill="#606060" opacity="0.20" filter="url(#blurB)"/>
<rect x="59.3" y="318.8" width="13.0" height="2.6" rx="1.3" fill="#080808" opacity="0.40" filter="url(#blurB2)"/>
<rect x="78.0" y="316.1" width="17.7" height="8.0" rx="3.8" fill="#606060" opacity="0.46" filter="url(#blurB)"/>
<rect x="79.5" y="318.3" width="14.5" height="3.6" rx="1.8" fill="#080808" opacity="0.92" filter="url(#blurB2)"/>
<rect x="98.1" y="315.8" width="17.7" height="8.6" rx="4.1" fill="#606060" opacity="0.50" filter="url(#blurB)"/>
<rect x="99.7" y="318.0" width="14.5" height="4.2" rx="2.1" fill="#080808" opacity="1.00" filter="url(#blurB2)"/>
<rect x="118.8" y="316.0" width="18.4" height="8.3" rx="4.0" fill="#606060" opacity="0.48" filter="url(#blurB)"/>
<rect x="120.4" y="318.2" width="15.2" height="3.9" rx="1.9" fill="#080808" opacity="0.97" filter="url(#blurB2)"/>
<rect x="140.2" y="316.1" width="17.7" height="8.0" rx="3.8" fill="#606060" opacity="0.44" filter="url(#blurB)"/>
<rect x="141.8" y="318.3" width="14.5" height="3.6" rx="1.8" fill="#080808" opacity="0.88" filter="url(#blurB2)"/>
</g><g clip-path="url(#clipB2)"><rect x="58.1" y="340.8" width="18.7" height="9.6" rx="4.6" fill="#606060" opacity="0.47" filter="url(#blurB)"/>
<rect x="59.8" y="343.0" width="15.5" height="5.2" rx="2.6" fill="#080808" opacity="0.93" filter="url(#blurB2)"/>
<rect x="78.1" y="340.8" width="19.2" height="9.6" rx="4.6" fill="#606060" opacity="0.47" filter="url(#blurB)"/>
<rect x="79.7" y="343.0" width="16.0" height="5.2" rx="2.6" fill="#080808" opacity="0.95" filter="url(#blurB2)"/>
<rect x="98.2" y="340.7" width="19.2" height="9.8" rx="4.7" fill="#606060" opacity="0.48" filter="url(#blurB)"/>
<rect x="99.8" y="342.9" width="16.0" height="5.4" rx="2.7" fill="#080808" opacity="0.97" filter="url(#blurB2)"/>
<rect x="118.4" y="340.8" width="19.2" height="9.6" rx="4.6" fill="#606060" opacity="0.47" filter="url(#blurB)"/>
<rect x="120.0" y="343.0" width="16.0" height="5.2" rx="2.6" fill="#080808" opacity="0.95" filter="url(#blurB2)"/>
<rect x="139.2" y="341.3" width="17.7" height="8.6" rx="4.1" fill="#606060" opacity="0.25" filter="url(#blurB)"/>
<rect x="140.8" y="343.5" width="14.5" height="4.2" rx="2.1" fill="#080808" opacity="0.50" filter="url(#blurB2)"/>
</g><rect x="54.30" y="308.80" width="106.90" height="21.90" fill="none" stroke="#444" stroke-width="0.7" />
<rect x="54.30" y="334.20" width="106.90" height="21.90" fill="none" stroke="#444" stroke-width="0.7" />
</g>
<g id="panelC">
<text x="191.40" y="247.00" font-size="16.5" font-weight="bold" text-anchor="start" fill="#000" >C</text>
<line x1="235.50" y1="248.88" x2="235.50" y2="354.00" stroke="#000" stroke-width="1" />
<line x1="235.00" y1="353.50" x2="340.30" y2="353.50" stroke="#000" stroke-width="1" />
<line x1="230.90" y1="353.50" x2="235.50" y2="353.50" stroke="#000" stroke-width="1" />
<text x="229.90" y="355.80" font-size="6.4" font-weight="bold" text-anchor="end" fill="#000" >0</text>
<line x1="230.90" y1="327.47" x2="235.50" y2="327.47" stroke="#000" stroke-width="1" />
<text x="229.90" y="329.77" font-size="6.4" font-weight="bold" text-anchor="end" fill="#000" >100</text>
<line x1="230.90" y1="301.44" x2="235.50" y2="301.44" stroke="#000" stroke-width="1" />
<text x="229.90" y="303.74" font-size="6.4" font-weight="bold" text-anchor="end" fill="#000" >200</text>
<line x1="230.90" y1="275.41" x2="235.50" y2="275.41" stroke="#000" stroke-width="1" />
<text x="229.90" y="277.71" font-size="6.4" font-weight="bold" text-anchor="end" fill="#000" >300</text>
<line x1="230.90" y1="249.38" x2="235.50" y2="249.38" stroke="#000" stroke-width="1" />
<text x="229.90" y="251.68" font-size="6.4" font-weight="bold" text-anchor="end" fill="#000" >400</text>
<text x="212.00" y="302.00" font-size="7.4" font-weight="bold" text-anchor="middle" fill="#000" transform="rotate(-90 212.00 302.00)" >Relative YAP level/β-tubulin (%)</text>
<rect x="242.20" y="327.47" width="12.90" height="26.03" fill="#000" stroke="#000" stroke-width="1.2" />
<line x1="246.25" y1="353.50" x2="246.25" y2="353.50" stroke="#000" stroke-width="0" />
<line x1="248.65" y1="353.50" x2="248.65" y2="357.90" stroke="#000" stroke-width="1" />
<rect x="261.80" y="316.80" width="12.90" height="36.70" fill="#9b9ca0" stroke="#000" stroke-width="1.2" />
<line x1="265.85" y1="353.50" x2="265.85" y2="353.50" stroke="#000" stroke-width="0" />
<line x1="268.25" y1="353.50" x2="268.25" y2="357.90" stroke="#000" stroke-width="1" />
<line x1="268.25" y1="314.19" x2="268.25" y2="319.40" stroke="#000" stroke-width="0.9" />
<line x1="265.05" y1="314.19" x2="271.45" y2="314.19" stroke="#000" stroke-width="0.9" />
<line x1="265.05" y1="319.40" x2="271.45" y2="319.40" stroke="#000" stroke-width="0.9" />
<rect x="281.40" y="294.67" width="12.90" height="58.83" fill="#7f7f7f" stroke="#000" stroke-width="1.2" />
<line x1="285.45" y1="353.50" x2="285.45" y2="353.50" stroke="#000" stroke-width="0" />
<line x1="287.85" y1="353.50" x2="287.85" y2="357.90" stroke="#000" stroke-width="1" />
<line x1="287.85" y1="288.42" x2="287.85" y2="300.92" stroke="#000" stroke-width="0.9" />
<line x1="284.65" y1="288.42" x2="291.05" y2="288.42" stroke="#000" stroke-width="0.9" />
<line x1="284.65" y1="300.92" x2="291.05" y2="300.92" stroke="#000" stroke-width="0.9" />
<rect x="301.00" y="307.43" width="12.90" height="46.07" fill="#d9d9d9" stroke="#000" stroke-width="1.2" />
<line x1="305.05" y1="353.50" x2="305.05" y2="353.50" stroke="#000" stroke-width="0" />
<line x1="307.45" y1="353.50" x2="307.45" y2="357.90" stroke="#000" stroke-width="1" />
<line x1="307.45" y1="305.08" x2="307.45" y2="309.77" stroke="#000" stroke-width="0.9" />
<line x1="304.25" y1="305.08" x2="310.65" y2="305.08" stroke="#000" stroke-width="0.9" />
<line x1="304.25" y1="309.77" x2="310.65" y2="309.77" stroke="#000" stroke-width="0.9" />
<rect x="320.60" y="303.52" width="12.90" height="49.98" fill="#636363" stroke="#000" stroke-width="1.2" />
<line x1="324.65" y1="353.50" x2="324.65" y2="353.50" stroke="#000" stroke-width="0" />
<line x1="327.05" y1="353.50" x2="327.05" y2="357.90" stroke="#000" stroke-width="1" />
<line x1="327.05" y1="294.93" x2="327.05" y2="312.11" stroke="#000" stroke-width="0.9" />
<line x1="323.85" y1="294.93" x2="330.25" y2="294.93" stroke="#000" stroke-width="0.9" />
<line x1="323.85" y1="312.11" x2="330.25" y2="312.11" stroke="#000" stroke-width="0.9" />
<circle cx="244.60" cy="327.47" r="1.45" fill="#fff" stroke="#000" stroke-width="0.85" />
<circle cx="247.50" cy="327.47" r="1.45" fill="#fff" stroke="#000" stroke-width="0.85" />
<circle cx="250.40" cy="327.47" r="1.45" fill="#fff" stroke="#000" stroke-width="0.85" />
<circle cx="253.20" cy="327.47" r="1.45" fill="#fff" stroke="#000" stroke-width="0.85" />
<circle cx="268.00" cy="308.99" r="1.50" fill="#fff" stroke="#000" stroke-width="0.85" />
<circle cx="264.40" cy="320.18" r="1.50" fill="#fff" stroke="#000" stroke-width="0.85" />
<circle cx="268.40" cy="316.80" r="1.50" fill="#fff" stroke="#000" stroke-width="0.85" />
<circle cx="272.60" cy="318.36" r="1.50" fill="#fff" stroke="#000" stroke-width="0.85" />
<circle cx="287.80" cy="279.31" r="1.50" fill="#fff" stroke="#000" stroke-width="0.85" />
<circle cx="287.60" cy="307.17" r="1.50" fill="#fff" stroke="#000" stroke-width="0.85" />
<circle cx="288.00" cy="300.66" r="1.50" fill="#fff" stroke="#000" stroke-width="0.85" />
<circle cx="288.40" cy="291.03" r="1.50" fill="#fff" stroke="#000" stroke-width="0.85" />
<circle cx="302.20" cy="301.18" r="1.50" fill="#fff" stroke="#000" stroke-width="0.85" />
<circle cx="306.80" cy="303.52" r="1.50" fill="#fff" stroke="#000" stroke-width="0.85" />
<circle cx="307.20" cy="313.93" r="1.50" fill="#fff" stroke="#000" stroke-width="0.85" />
<circle cx="309.20" cy="306.13" r="1.50" fill="#fff" stroke="#000" stroke-width="0.85" />
<circle cx="326.60" cy="288.95" r="1.50" fill="#fff" stroke="#000" stroke-width="0.85" />
<circle cx="331.40" cy="288.16" r="1.50" fill="#fff" stroke="#000" stroke-width="0.85" />
<circle cx="326.80" cy="322.00" r="1.50" fill="#fff" stroke="#000" stroke-width="0.85" />
<circle cx="326.60" cy="313.15" r="1.50" fill="#fff" stroke="#000" stroke-width="0.85" />
<text x="268.20" y="305.12" font-size="7.8" text-anchor="middle" fill="#000" >**</text>
<text x="287.80" y="275.71" font-size="7.8" text-anchor="middle" fill="#000" >**</text>
<text x="307.40" y="297.31" font-size="7.8" text-anchor="middle" fill="#000" >**</text>
<text x="327.00" y="283.78" font-size="7.8" text-anchor="middle" fill="#000" >*</text>
<text x="251.20" y="363.50" font-size="7.4" font-weight="bold" text-anchor="end" fill="#000" transform="rotate(-45 251.20 363.50)" >Sham</text>
<text x="270.80" y="363.50" font-size="7.4" font-weight="bold" text-anchor="end" fill="#000" transform="rotate(-45 270.80 363.50)" >1 d</text>
<text x="290.40" y="363.50" font-size="7.4" font-weight="bold" text-anchor="end" fill="#000" transform="rotate(-45 290.40 363.50)" >3 d</text>
<text x="310.00" y="363.50" font-size="7.4" font-weight="bold" text-anchor="end" fill="#000" transform="rotate(-45 310.00 363.50)" >5 d</text>
<text x="329.60" y="363.50" font-size="7.4" font-weight="bold" text-anchor="end" fill="#000" transform="rotate(-45 329.60 363.50)" >7 d</text>
<line x1="261.60" y1="376.50" x2="327.00" y2="376.50" stroke="#000" stroke-width="0.8" />
<text x="293.60" y="385.80" font-size="7.7" font-weight="bold" text-anchor="middle" fill="#000" >Days after IS</text>
</g>
<g id="panelD">
<text x="346.70" y="13.00" font-size="16.5" font-weight="bold" text-anchor="start" fill="#000" >D</text>
<rect x="379.70" y="13.60" width="71.40" height="13.20" fill="#fff" stroke="#4a3a3a" stroke-width="0.9" />
<rect x="453.50" y="13.60" width="71.40" height="13.20" fill="#fff" stroke="#4a3a3a" stroke-width="0.9" />
<rect x="527.10" y="13.60" width="71.40" height="13.20" fill="#fff" stroke="#4a3a3a" stroke-width="0.9" />
<rect x="600.80" y="13.60" width="71.40" height="13.20" fill="#fff" stroke="#4a3a3a" stroke-width="0.9" />
<text x="415.40" y="22.80" font-size="7.0" font-weight="bold" text-anchor="middle" fill="#000" ><tspan fill="#1fd02c">YAP</tspan><tspan fill="#222">/</tspan><tspan fill="#f01414">GFAP</tspan><tspan fill="#222">/</tspan><tspan fill="#1414f0">DAPI</tspan></text>
<text x="489.20" y="22.80" font-size="6.6" font-weight="bold" text-anchor="middle" fill="#1fd02c" >YAP</text>
<text x="562.80" y="22.80" font-size="6.6" font-weight="bold" text-anchor="middle" fill="#1414f0" >DAPI</text>
<text x="636.50" y="22.80" font-size="6.6" font-weight="bold" text-anchor="middle" fill="#111" >Merge</text>
<rect x="363.80" y="29.50" width="14.00" height="70.30" fill="#fff" stroke="#4a3a3a" stroke-width="0.9" />
<text x="373.50" y="64.60" font-size="7.4" font-weight="bold" text-anchor="middle" fill="#000" transform="rotate(-90 373.50 64.60)" >Sham</text>
<rect x="379.30" y="28.00" width="72.20" height="72.00" fill="#000" stroke="none" stroke-width="1" />
<rect x="453.10" y="28.00" width="72.20" height="72.00" fill="#000" stroke="none" stroke-width="1" />
<rect x="526.70" y="28.00" width="72.20" height="72.00" fill="#000" stroke="none" stroke-width="1" />
<rect x="600.40" y="28.00" width="72.20" height="72.00" fill="#000" stroke="none" stroke-width="1" />
<g clip-path="url(#cd00)"><rect x="379.3" y="28.0" width="72.2" height="72.0" filter="url(#nRo0)"/><g filter="url(#bl03)"><path d="M421.9 48.2 L420.3 48.4 L418.7 48.0 L416.9 47.5 L415.3 47.3 L413.6 46.8 L411.9 46.5 L411.9 46.8 L413.5 47.3 L415.1 47.9 L416.8 48.2 L418.4 48.8 L420.1 49.3 L421.9 49.2ZM416.6 47.6 L415.7 48.9 L414.8 50.2 L414.2 51.6 L414.5 51.7 L415.2 50.4 L416.2 49.2 L417.2 48.1ZM421.7 48.3 L420.5 48.9 L419.6 49.7 L418.7 50.6 L418.0 51.6 L417.5 52.8 L417.4 54.0 L417.6 54.0 L417.9 52.8 L418.5 51.8 L419.3 51.0 L420.2 50.3 L421.1 49.5 L422.1 49.2ZM419.0 50.4 L417.9 50.6 L416.8 50.7 L415.8 50.7 L415.8 51.0 L416.8 51.1 L417.9 51.1 L419.0 51.1ZM421.5 49.0 L421.9 49.6 L422.2 50.4 L422.5 51.2 L422.8 52.1 L423.3 52.8 L423.6 53.6 L423.9 53.5 L423.7 52.6 L423.3 51.8 L423.1 51.0 L422.9 50.2 L422.8 49.4 L422.3 48.5ZM422.4 48.8 L422.5 47.7 L422.6 46.6 L422.8 45.5 L423.0 44.4 L423.0 43.3 L423.2 42.2 L423.0 42.1 L422.6 43.2 L422.4 44.3 L422.2 45.4 L421.9 46.4 L421.6 47.5 L421.4 48.7ZM422.8 45.2 L422.1 44.6 L421.5 43.7 L420.9 42.9 L420.7 43.1 L421.1 44.0 L421.6 44.9 L422.2 45.7ZM421.6 49.1 L422.2 49.5 L422.8 49.8 L423.4 50.3 L424.1 50.5 L424.8 50.6 L425.4 50.8 L425.5 50.6 L424.9 50.2 L424.3 50.0 L423.7 49.6 L423.3 49.2 L422.7 48.8 L422.2 48.3Z" fill="#e81410" opacity="1.0"/>
<ellipse cx="421.9" cy="48.7" rx="0.7" ry="0.6" fill="#e81410" opacity="1.0"/>
<path d="M421.8 48.3 L420.1 48.7 L418.5 49.2 L416.8 49.6 L416.9 49.9 L418.6 49.6 L420.3 49.3 L422.0 49.1ZM421.7 48.4 L420.7 49.1 L419.8 49.9 L418.8 50.6 L418.9 50.8 L420.0 50.3 L421.1 49.6 L422.1 49.1ZM421.5 48.8 L421.7 49.6 L421.9 50.5 L422.1 51.3 L422.3 51.3 L422.3 50.4 L422.3 49.6 L422.3 48.7ZM422.3 48.9 L422.5 47.8 L422.8 46.7 L423.2 45.7 L423.0 45.6 L422.4 46.5 L421.9 47.6 L421.5 48.6ZM421.8 49.1 L422.4 49.3 L423.0 49.5 L423.7 49.8 L423.8 49.6 L423.3 49.1 L422.7 48.7 L422.0 48.4Z" fill="#ff8a1e" opacity="0.6"/>
<path d="M439.3 44.4 L439.5 45.1 L439.8 45.9 L440.2 46.6 L440.7 47.3 L441.3 47.8 L441.7 48.4 L441.9 48.2 L441.6 47.5 L441.0 46.9 L440.8 46.3 L440.5 45.6 L440.4 44.9 L440.2 44.1ZM440.0 43.9 L439.5 43.5 L439.0 43.3 L438.4 43.0 L437.8 42.7 L437.2 42.7 L436.6 42.7 L436.5 42.9 L437.1 43.1 L437.7 43.3 L438.1 43.6 L438.5 44.0 L439.1 44.3 L439.5 44.7ZM439.6 44.7 L440.1 44.9 L440.5 44.9 L441.1 44.8 L441.5 44.7 L441.9 44.4 L442.3 44.2 L442.2 44.0 L441.7 44.1 L441.3 44.1 L440.9 44.2 L440.6 44.1 L440.2 44.0 L440.0 43.8Z" fill="#e81410" opacity="1.0"/>
<ellipse cx="439.8" cy="44.3" rx="0.7" ry="0.6" fill="#e81410" opacity="1.0"/>
<path d="M439.4 44.4 L439.8 45.1 L440.2 45.7 L440.6 46.4 L440.8 46.3 L440.7 45.6 L440.4 44.8 L440.1 44.1ZM440.1 44.0 L439.6 43.6 L439.1 43.3 L438.6 42.9 L438.4 43.1 L438.8 43.6 L439.1 44.1 L439.5 44.5ZM439.6 44.6 L440.1 44.7 L440.6 44.7 L441.0 44.6 L441.0 44.3 L440.6 44.2 L440.2 44.1 L439.9 43.9Z" fill="#ff8a1e" opacity="0.6"/>
<path d="M441.1 61.6 L439.2 62.1 L437.2 62.3 L435.0 62.3 L433.0 62.8 L431.1 63.6 L429.4 64.8 L429.5 65.0 L431.3 64.0 L433.2 63.4 L435.2 62.9 L437.2 63.1 L439.3 63.0 L441.4 62.6ZM434.8 62.5 L434.2 64.2 L433.4 65.9 L432.8 67.7 L433.1 67.7 L433.8 66.0 L434.7 64.5 L435.5 62.7ZM441.2 62.6 L442.0 62.6 L442.7 62.6 L443.5 62.8 L444.2 62.9 L445.0 63.0 L445.8 63.1 L445.8 62.9 L445.1 62.6 L444.4 62.4 L443.6 62.1 L442.9 61.9 L442.1 61.7 L441.3 61.6ZM441.6 62.5 L442.1 61.9 L442.5 61.4 L442.8 60.9 L443.4 60.4 L443.8 59.8 L444.0 59.1 L443.8 59.0 L443.5 59.6 L443.0 60.0 L442.4 60.3 L441.9 60.9 L441.4 61.3 L440.9 61.8ZM440.8 61.9 L440.5 62.8 L440.4 63.6 L440.0 64.3 L439.7 65.0 L439.0 65.6 L438.5 66.3 L438.7 66.5 L439.3 65.9 L440.0 65.4 L440.6 64.7 L441.1 63.9 L441.3 63.0 L441.7 62.3Z" fill="#e81410" opacity="1.0"/>
<ellipse cx="441.2" cy="62.1" rx="0.7" ry="0.6" fill="#e81410" opacity="1.0"/>
<path d="M441.1 61.8 L439.2 62.6 L437.4 63.7 L435.7 64.8 L435.8 65.0 L437.6 64.1 L439.5 63.2 L441.4 62.5ZM441.2 62.5 L441.9 62.6 L442.7 62.7 L443.4 62.9 L443.5 62.7 L442.8 62.3 L442.1 62.0 L441.3 61.7ZM441.6 62.4 L441.9 61.7 L442.2 61.1 L442.5 60.5 L442.3 60.4 L441.8 60.9 L441.4 61.4 L440.9 61.9ZM440.9 61.9 L440.5 62.7 L440.1 63.5 L439.9 64.3 L440.1 64.4 L440.5 63.7 L441.1 63.0 L441.6 62.3Z" fill="#ff8a1e" opacity="0.6"/>
<path d="M436.3 53.8 L436.7 54.4 L437.0 54.7 L437.2 55.3 L437.4 55.9 L437.8 56.5 L438.2 56.9 L438.4 56.7 L438.1 56.2 L437.9 55.7 L437.9 55.1 L437.7 54.5 L437.4 53.9 L437.2 53.4ZM436.9 53.1 L436.5 53.0 L436.0 52.9 L435.7 52.9 L435.3 52.8 L434.9 52.7 L434.5 52.5 L434.4 52.7 L434.7 53.0 L435.0 53.3 L435.4 53.5 L435.9 53.7 L436.2 53.9 L436.7 54.0Z" fill="#e81410" opacity="0.9"/>
<ellipse cx="436.8" cy="53.6" rx="0.7" ry="0.6" fill="#e81410" opacity="0.9"/>
<path d="M436.4 53.7 L436.6 54.2 L436.8 54.8 L437.1 55.4 L437.3 55.3 L437.2 54.7 L437.2 54.1 L437.2 53.5ZM436.9 53.2 L436.5 53.1 L436.1 53.0 L435.7 52.9 L435.6 53.2 L435.9 53.4 L436.2 53.7 L436.6 53.9Z" fill="#ff8a1e" opacity="0.6"/>
<path d="M430.3 66.5 L429.5 66.8 L428.8 67.3 L428.2 67.9 L427.8 68.5 L427.4 69.2 L427.1 70.0 L427.3 70.1 L427.7 69.4 L428.2 68.9 L428.7 68.3 L429.3 67.9 L430.0 67.6 L430.6 67.4ZM430.0 67.0 L430.0 68.2 L430.3 69.5 L430.9 70.6 L431.6 71.6 L432.2 72.6 L432.8 73.6 L433.0 73.5 L432.5 72.4 L432.1 71.3 L431.4 70.2 L431.0 69.2 L430.9 68.1 L431.0 67.0ZM431.0 70.7 L431.9 71.3 L432.9 71.9 L433.9 72.1 L434.0 71.9 L433.0 71.5 L432.2 70.8 L431.4 70.1Z" fill="#e81410" opacity="0.9"/>
<ellipse cx="430.5" cy="67.0" rx="0.7" ry="0.6" fill="#e81410" opacity="0.9"/>
<path d="M430.4 66.6 L429.6 66.8 L428.9 67.0 L428.2 67.2 L428.2 67.5 L429.0 67.5 L429.8 67.4 L430.5 67.3ZM430.1 67.0 L430.3 68.2 L430.6 69.4 L431.0 70.5 L431.2 70.5 L431.1 69.3 L430.9 68.1 L430.8 66.9Z" fill="#ff8a1e" opacity="0.6"/>
<path d="M413.9 71.2 L414.3 71.0 L414.7 70.8 L415.3 70.7 L415.7 70.5 L416.3 70.5 L416.8 70.2 L416.7 70.0 L416.2 70.1 L415.7 70.0 L415.1 70.0 L414.7 70.0 L414.1 70.1 L413.6 70.2Z" fill="#e81410" opacity="0.9"/>
<ellipse cx="413.7" cy="70.7" rx="0.7" ry="0.6" fill="#e81410" opacity="0.9"/>
<path d="M413.7 71.1 L414.2 71.0 L414.7 71.0 L415.2 71.0 L415.3 70.7 L414.8 70.6 L414.3 70.4 L413.7 70.3Z" fill="#ff8a1e" opacity="0.6"/>
<path d="M386.1 39.4 L385.7 40.5 L385.6 41.6 L385.6 42.7 L385.8 43.8 L386.2 44.8 L386.7 45.8 L386.9 45.7 L386.6 44.6 L386.3 43.6 L386.2 42.6 L386.4 41.6 L386.6 40.6 L387.0 39.7ZM385.6 42.8 L386.1 43.7 L386.7 44.5 L387.5 45.0 L387.6 44.9 L387.0 44.2 L386.5 43.4 L386.2 42.5ZM386.9 39.2 L386.2 38.5 L385.6 38.0 L385.0 37.3 L384.4 36.5 L383.7 36.0 L383.1 35.3 L382.9 35.5 L383.4 36.2 L384.1 36.9 L384.5 37.6 L384.9 38.4 L385.6 39.2 L386.2 39.8ZM386.7 40.0 L387.6 39.6 L388.6 39.1 L389.2 38.4 L390.1 37.8 L390.6 37.0 L391.2 36.2 L391.0 36.1 L390.3 36.7 L389.6 37.4 L388.8 37.8 L388.0 38.5 L387.2 38.8 L386.4 39.1ZM389.2 38.4 L390.0 37.8 L390.5 37.0 L390.7 36.2 L390.5 36.1 L390.1 36.9 L389.5 37.5 L388.8 37.8Z" fill="#e81410" opacity="1.0"/>
<ellipse cx="386.5" cy="39.5" rx="0.7" ry="0.6" fill="#e81410" opacity="1.0"/>
<path d="M386.2 39.4 L385.8 40.4 L385.6 41.5 L385.4 42.5 L385.6 42.6 L386.0 41.6 L386.4 40.6 L386.9 39.7ZM386.8 39.3 L386.3 38.5 L385.7 37.9 L385.0 37.2 L384.8 37.4 L385.3 38.2 L385.8 38.9 L386.2 39.7ZM386.5 39.9 L387.5 39.9 L388.4 39.9 L389.4 39.8 L389.4 39.6 L388.5 39.4 L387.5 39.3 L386.6 39.1Z" fill="#ff8a1e" opacity="0.6"/>
<path d="M416.5 85.1 L417.0 84.2 L417.1 83.5 L417.4 82.6 L417.7 81.8 L417.9 80.9 L417.9 80.1 L417.7 80.0 L417.5 80.9 L417.2 81.7 L416.9 82.4 L416.4 83.2 L416.2 84.1 L415.7 84.7ZM417.4 82.4 L417.2 81.7 L416.8 81.0 L416.3 80.4 L416.1 80.5 L416.4 81.2 L416.7 81.9 L416.8 82.6ZM416.1 85.3 L417.1 85.2 L418.1 85.5 L419.1 85.8 L420.1 86.0 L420.9 86.7 L421.5 87.5 L421.7 87.4 L421.2 86.4 L420.4 85.7 L419.3 85.2 L418.3 84.9 L417.3 84.5 L416.1 84.4ZM419.1 85.8 L420.0 86.2 L420.9 86.3 L421.8 86.7 L421.9 86.5 L421.1 86.0 L420.1 85.7 L419.4 85.2ZM415.7 85.1 L416.4 86.2 L416.7 87.5 L416.9 88.8 L416.7 90.3 L416.9 91.6 L417.2 93.0 L417.4 93.0 L417.3 91.6 L417.2 90.2 L417.5 88.9 L417.4 87.4 L417.1 86.0 L416.5 84.7ZM417.1 89.2 L418.3 89.4 L419.6 89.8 L420.8 89.7 L420.8 89.4 L419.6 89.4 L418.5 88.9 L417.2 88.5ZM415.7 84.7 L415.4 85.5 L414.7 86.3 L414.0 86.9 L413.1 87.4 L412.2 87.8 L411.2 88.0 L411.2 88.3 L412.3 88.2 L413.3 87.9 L414.3 87.5 L415.2 86.8 L415.9 86.1 L416.5 85.1ZM413.8 87.2 L413.7 88.2 L414.0 89.0 L413.9 89.9 L414.1 90.0 L414.4 89.1 L414.3 88.1 L414.5 87.2ZM416.5 84.7 L416.0 83.6 L415.4 82.6 L414.6 81.7 L413.7 81.0 L412.9 80.3 L412.0 79.5 L411.8 79.7 L412.6 80.5 L413.4 81.4 L414.2 82.2 L414.8 83.1 L415.4 84.0 L415.7 85.0ZM414.5 81.7 L413.6 81.3 L412.6 80.8 L411.6 80.6 L411.5 80.8 L412.5 81.2 L413.3 81.7 L414.2 82.2Z" fill="#e81410" opacity="1.0"/>
<ellipse cx="416.1" cy="84.9" rx="0.6" ry="0.5" fill="#e81410" opacity="1.0"/>
<path d="M416.4 85.0 L416.7 84.2 L417.1 83.4 L417.4 82.7 L417.2 82.5 L416.7 83.2 L416.2 83.9 L415.8 84.8ZM416.2 85.2 L417.2 85.0 L418.3 85.0 L419.3 84.8 L419.3 84.5 L418.2 84.5 L417.2 84.5 L416.1 84.5ZM415.8 85.0 L416.5 86.3 L417.3 87.4 L418.2 88.5 L418.4 88.4 L417.7 87.2 L417.0 86.0 L416.4 84.7ZM415.9 84.7 L415.2 85.5 L414.6 86.3 L414.0 87.2 L414.2 87.3 L415.0 86.6 L415.7 85.9 L416.4 85.1ZM416.4 84.7 L415.9 83.7 L415.2 82.7 L414.5 81.9 L414.3 82.0 L414.9 83.0 L415.4 84.0 L415.8 85.0Z" fill="#ff8a1e" opacity="0.6"/>
<path d="M448.9 70.0 L449.3 70.6 L449.8 71.4 L450.3 71.9 L450.7 72.6 L451.2 73.2 L451.7 73.9 L451.9 73.8 L451.6 73.0 L451.2 72.3 L450.9 71.6 L450.4 70.9 L450.1 70.3 L449.8 69.5ZM449.8 69.5 L449.0 68.3 L448.5 66.7 L447.7 65.4 L446.8 64.0 L445.6 63.2 L444.7 61.9 L444.5 62.0 L445.2 63.4 L446.4 64.5 L447.2 65.7 L447.8 67.1 L448.2 68.5 L448.9 70.0ZM447.8 65.5 L447.3 64.1 L446.6 62.8 L445.5 61.9 L445.3 62.1 L446.3 63.1 L446.8 64.3 L447.1 65.6ZM449.8 70.0 L450.1 69.3 L450.7 68.5 L451.1 67.7 L451.4 66.8 L451.5 65.9 L451.5 65.1 L451.3 65.0 L451.1 65.9 L450.9 66.7 L450.5 67.5 L450.0 68.2 L449.5 68.7 L448.9 69.5Z" fill="#e81410" opacity="1.0"/>
<ellipse cx="449.3" cy="69.8" rx="0.7" ry="0.6" fill="#e81410" opacity="1.0"/>
<path d="M449.0 69.9 L449.3 70.6 L449.7 71.3 L449.9 72.0 L450.2 72.0 L450.1 71.2 L449.9 70.4 L449.7 69.6ZM449.6 69.5 L448.7 68.3 L447.6 67.2 L446.6 66.0 L446.4 66.2 L447.2 67.5 L448.2 68.7 L449.0 70.0ZM449.6 70.0 L450.1 69.3 L450.7 68.6 L451.2 67.9 L451.0 67.7 L450.3 68.3 L449.7 68.9 L449.0 69.5Z" fill="#ff8a1e" opacity="0.6"/>
<path d="M400.5 60.2 L400.2 61.1 L399.9 62.0 L399.5 62.9 L399.2 63.8 L399.1 64.7 L398.6 65.5 L398.9 65.7 L399.4 64.9 L399.7 63.9 L400.1 63.1 L400.6 62.3 L401.0 61.4 L401.4 60.6ZM399.8 62.7 L398.9 62.8 L398.0 63.1 L397.3 63.5 L397.4 63.7 L398.2 63.4 L399.0 63.4 L399.8 63.3ZM401.4 60.2 L400.6 59.0 L400.2 57.4 L399.6 56.0 L399.0 54.7 L398.7 53.2 L398.8 51.6 L398.6 51.6 L398.3 53.1 L398.5 54.7 L399.1 56.2 L399.5 57.7 L399.8 59.2 L400.6 60.6ZM399.7 56.2 L400.0 54.7 L399.8 53.4 L400.0 52.0 L399.7 52.0 L399.4 53.3 L399.4 54.8 L399.0 56.0ZM400.8 60.8 L401.6 61.1 L402.4 61.8 L403.2 62.4 L403.9 63.1 L404.5 63.9 L405.0 64.8 L405.2 64.7 L404.9 63.7 L404.4 62.8 L403.7 62.0 L402.9 61.2 L402.2 60.5 L401.1 60.0ZM403.5 62.5 L404.4 62.3 L405.3 62.1 L406.2 62.0 L406.2 61.7 L405.3 61.7 L404.3 61.8 L403.4 61.8Z" fill="#e81410" opacity="1.0"/>
<ellipse cx="401.0" cy="60.4" rx="0.6" ry="0.6" fill="#e81410" opacity="1.0"/>
<path d="M400.6 60.2 L400.2 61.1 L399.8 61.9 L399.5 62.8 L399.7 62.9 L400.2 62.2 L400.7 61.4 L401.3 60.6ZM401.3 60.3 L400.7 58.8 L400.0 57.5 L399.3 56.1 L399.1 56.2 L399.6 57.6 L400.2 59.1 L400.6 60.5ZM400.9 60.8 L401.9 60.8 L402.9 61.1 L403.8 61.4 L403.9 61.2 L403.1 60.7 L402.1 60.3 L401.0 60.0Z" fill="#ff8a1e" opacity="0.6"/>
</g><g filter="url(#bl04)"><ellipse cx="421.9" cy="48.7" rx="2.8" ry="2.4" fill="#0a22f0" opacity="1.00" transform="rotate(126 421.9 48.7)"/>
<ellipse cx="421.5" cy="48.4" rx="1.6" ry="1.3" fill="#2a58ff" opacity="1.00" transform="rotate(126 421.9 48.7)"/>
<ellipse cx="441.2" cy="62.1" rx="2.6" ry="2.1" fill="#0a22f0" opacity="0.70" transform="rotate(41 441.2 62.1)"/>
<ellipse cx="440.9" cy="61.9" rx="1.4" ry="1.1" fill="#2a58ff" opacity="0.70" transform="rotate(41 441.2 62.1)"/>
<ellipse cx="440.9" cy="42.0" rx="2.8" ry="1.0" fill="#0a22f0" opacity="0.75" transform="rotate(30 440.9 42.0)"/>
<ellipse cx="440.5" cy="41.8" rx="1.6" ry="0.5" fill="#2a58ff" opacity="0.75" transform="rotate(30 440.9 42.0)"/>
<ellipse cx="411.9" cy="70.7" rx="2.6" ry="2.1" fill="#0a22f0" opacity="0.50" transform="rotate(0 411.9 70.7)"/>
<ellipse cx="386.0" cy="38.9" rx="2.1" ry="1.7" fill="#0a22f0" opacity="0.95" transform="rotate(6 386.0 38.9)"/>
<ellipse cx="385.7" cy="38.7" rx="1.2" ry="0.9" fill="#2a58ff" opacity="0.95" transform="rotate(6 386.0 38.9)"/>
<ellipse cx="416.3" cy="85.3" rx="2.1" ry="1.8" fill="#0a22f0" opacity="0.95" transform="rotate(50 416.3 85.3)"/>
<ellipse cx="416.0" cy="85.1" rx="1.2" ry="1.0" fill="#2a58ff" opacity="0.95" transform="rotate(50 416.3 85.3)"/>
<ellipse cx="380.3" cy="79.5" rx="2.1" ry="1.5" fill="#0a22f0" opacity="0.95" transform="rotate(15 380.3 79.5)"/>
<ellipse cx="380.0" cy="79.3" rx="1.2" ry="0.8" fill="#2a58ff" opacity="0.95" transform="rotate(15 380.3 79.5)"/>
<ellipse cx="399.6" cy="79.8" rx="2.1" ry="1.7" fill="#0a22f0" opacity="0.95" transform="rotate(167 399.6 79.8)"/>
<ellipse cx="399.3" cy="79.6" rx="1.2" ry="0.9" fill="#2a58ff" opacity="0.95" transform="rotate(167 399.6 79.8)"/>
<ellipse cx="387.7" cy="85.2" rx="2.1" ry="1.6" fill="#0a22f0" opacity="0.95" transform="rotate(69 387.7 85.2)"/>
<ellipse cx="387.4" cy="84.9" rx="1.2" ry="0.9" fill="#2a58ff" opacity="0.95" transform="rotate(69 387.7 85.2)"/>
<ellipse cx="438.8" cy="86.9" rx="2.1" ry="1.9" fill="#0a22f0" opacity="0.95" transform="rotate(177 438.8 86.9)"/>
<ellipse cx="438.5" cy="86.7" rx="1.2" ry="1.0" fill="#2a58ff" opacity="0.95" transform="rotate(177 438.8 86.9)"/>
</g><g filter="url(#bl04)" style="mix-blend-mode:screen"><ellipse cx="421.9" cy="48.7" rx="2.1" ry="1.3" fill="#28d838" opacity="0.28" transform="rotate(165 421.9 48.7)"/>
<circle cx="423.1" cy="48.6" r="1.0" fill="#28d838" opacity="0.18"/>
<circle cx="422.6" cy="48.9" r="0.7" fill="#28d838" opacity="0.18"/>
<circle cx="422.4" cy="48.8" r="0.9" fill="#28d838" opacity="0.18"/>
<line x1="421.9" y1="48.7" x2="418.3" y2="49.7" stroke="#28d838" stroke-width="0.7" stroke-linecap="round" opacity="0.19"/>
<line x1="421.9" y1="48.7" x2="418.9" y2="51.3" stroke="#28d838" stroke-width="0.7" stroke-linecap="round" opacity="0.19"/>
<line x1="421.9" y1="48.7" x2="422.7" y2="51.8" stroke="#28d838" stroke-width="0.7" stroke-linecap="round" opacity="0.19"/>
<ellipse cx="439.8" cy="44.3" rx="1.2" ry="0.8" fill="#28d838" opacity="0.20" transform="rotate(60 439.8 44.3)"/>
<circle cx="439.2" cy="43.7" r="0.5" fill="#28d838" opacity="0.13"/>
<circle cx="440.0" cy="43.8" r="0.5" fill="#28d838" opacity="0.13"/>
<circle cx="439.9" cy="44.6" r="0.4" fill="#28d838" opacity="0.13"/>
<line x1="439.8" y1="44.3" x2="440.7" y2="45.8" stroke="#28d838" stroke-width="0.4" stroke-linecap="round" opacity="0.14"/>
<line x1="439.8" y1="44.3" x2="438.6" y2="42.9" stroke="#28d838" stroke-width="0.4" stroke-linecap="round" opacity="0.14"/>
<line x1="439.8" y1="44.3" x2="441.4" y2="44.9" stroke="#28d838" stroke-width="0.4" stroke-linecap="round" opacity="0.14"/>
<ellipse cx="441.2" cy="62.1" rx="2.3" ry="1.4" fill="#28d838" opacity="0.30" transform="rotate(155 441.2 62.1)"/>
<circle cx="441.1" cy="61.6" r="1.1" fill="#28d838" opacity="0.19"/>
<circle cx="440.2" cy="61.5" r="1.1" fill="#28d838" opacity="0.19"/>
<circle cx="441.6" cy="62.6" r="1.0" fill="#28d838" opacity="0.19"/>
<line x1="441.2" y1="62.1" x2="437.2" y2="64.0" stroke="#28d838" stroke-width="0.8" stroke-linecap="round" opacity="0.20"/>
<line x1="441.2" y1="62.1" x2="444.2" y2="63.2" stroke="#28d838" stroke-width="0.8" stroke-linecap="round" opacity="0.20"/>
<line x1="441.2" y1="62.1" x2="443.4" y2="58.5" stroke="#28d838" stroke-width="0.8" stroke-linecap="round" opacity="0.20"/>
<ellipse cx="386.5" cy="39.5" rx="1.7" ry="1.1" fill="#c8e020" opacity="0.40" transform="rotate(241 386.5 39.5)"/>
<circle cx="386.9" cy="39.8" r="0.8" fill="#c8e020" opacity="0.25"/>
<circle cx="387.3" cy="40.2" r="0.8" fill="#c8e020" opacity="0.25"/>
<circle cx="386.4" cy="38.5" r="0.5" fill="#c8e020" opacity="0.25"/>
<ellipse cx="416.1" cy="84.9" rx="1.7" ry="1.1" fill="#c8e020" opacity="0.40" transform="rotate(353 416.1 84.9)"/>
<circle cx="416.5" cy="85.5" r="0.6" fill="#c8e020" opacity="0.25"/>
<circle cx="416.6" cy="85.0" r="0.6" fill="#c8e020" opacity="0.25"/>
<circle cx="416.2" cy="85.7" r="0.8" fill="#c8e020" opacity="0.25"/>
<ellipse cx="449.3" cy="69.8" rx="1.7" ry="1.1" fill="#c8e020" opacity="0.40" transform="rotate(6 449.3 69.8)"/>
<circle cx="448.7" cy="70.1" r="0.8" fill="#c8e020" opacity="0.25"/>
<circle cx="449.1" cy="69.4" r="0.8" fill="#c8e020" opacity="0.25"/>
<circle cx="448.8" cy="70.2" r="0.8" fill="#c8e020" opacity="0.25"/>
<ellipse cx="401.0" cy="60.4" rx="1.7" ry="1.1" fill="#c8e020" opacity="0.40" transform="rotate(343 401.0 60.4)"/>
<circle cx="401.4" cy="60.4" r="0.7" fill="#c8e020" opacity="0.25"/>
<circle cx="401.7" cy="61.1" r="0.6" fill="#c8e020" opacity="0.25"/>
<circle cx="401.4" cy="61.4" r="0.6" fill="#c8e020" opacity="0.25"/>
</g></g>
<rect x="410.00" y="37.20" width="37.20" height="37.20" fill="none" stroke="#fff" stroke-width="0.75" stroke-dasharray="1.5 1.1"/>
<g clip-path="url(#cd01)"><rect x="453.1" y="28.0" width="72.2" height="72.0" filter="url(#nG0)"/><rect x="453.1" y="28.0" width="72.2" height="72.0" filter="url(#nGf0)" opacity="0.22"/><g transform="translate(453.1 28.0)" filter="url(#bl07)"><ellipse cx="23.1" cy="22.4" rx="4.0" ry="2.5" fill="#28d838" opacity="0.28" transform="rotate(165 23.1 22.4)"/>
<circle cx="25.5" cy="22.2" r="1.9" fill="#28d838" opacity="0.18"/>
<circle cx="24.5" cy="22.8" r="1.3" fill="#28d838" opacity="0.18"/>
<circle cx="24.0" cy="22.5" r="1.8" fill="#28d838" opacity="0.18"/>
<line x1="23.1" y1="22.4" x2="16.0" y2="24.3" stroke="#28d838" stroke-width="1.4" stroke-linecap="round" opacity="0.19"/>
<line x1="23.1" y1="22.4" x2="17.3" y2="27.3" stroke="#28d838" stroke-width="1.4" stroke-linecap="round" opacity="0.19"/>
<line x1="23.1" y1="22.4" x2="24.7" y2="28.4" stroke="#28d838" stroke-width="1.4" stroke-linecap="round" opacity="0.19"/>
<ellipse cx="57.8" cy="13.7" rx="2.4" ry="1.5" fill="#28d838" opacity="0.20" transform="rotate(60 57.8 13.7)"/>
<circle cx="56.7" cy="12.7" r="1.0" fill="#28d838" opacity="0.13"/>
<circle cx="58.2" cy="12.8" r="1.1" fill="#28d838" opacity="0.13"/>
<circle cx="58.1" cy="14.4" r="0.8" fill="#28d838" opacity="0.13"/>
<line x1="57.8" y1="13.7" x2="59.5" y2="16.7" stroke="#28d838" stroke-width="0.8" stroke-linecap="round" opacity="0.14"/>
<line x1="57.8" y1="13.7" x2="55.5" y2="11.1" stroke="#28d838" stroke-width="0.8" stroke-linecap="round" opacity="0.14"/>
<line x1="57.8" y1="13.7" x2="61.0" y2="14.9" stroke="#28d838" stroke-width="0.8" stroke-linecap="round" opacity="0.14"/>
<ellipse cx="60.6" cy="48.4" rx="4.4" ry="2.8" fill="#28d838" opacity="0.30" transform="rotate(155 60.6 48.4)"/>
<circle cx="60.3" cy="47.3" r="2.2" fill="#28d838" opacity="0.19"/>
<circle cx="58.6" cy="47.2" r="2.2" fill="#28d838" opacity="0.19"/>
<circle cx="61.3" cy="49.3" r="1.9" fill="#28d838" opacity="0.19"/>
<line x1="60.6" y1="48.4" x2="52.8" y2="52.1" stroke="#28d838" stroke-width="1.5" stroke-linecap="round" opacity="0.20"/>
<line x1="60.6" y1="48.4" x2="66.5" y2="50.5" stroke="#28d838" stroke-width="1.5" stroke-linecap="round" opacity="0.20"/>
<line x1="60.6" y1="48.4" x2="64.8" y2="41.2" stroke="#28d838" stroke-width="1.5" stroke-linecap="round" opacity="0.20"/>
</g></g>
<g clip-path="url(#cd02)"><g transform="translate(526.7 28.0)" filter="url(#bl07)"><ellipse cx="23.1" cy="22.4" rx="5.5" ry="4.6" fill="#0a22f0" opacity="1.00" transform="rotate(126 23.1 22.4)"/>
<ellipse cx="22.3" cy="21.8" rx="3.0" ry="2.5" fill="#2a58ff" opacity="1.00" transform="rotate(126 23.1 22.4)"/>
<ellipse cx="60.6" cy="48.4" rx="5.0" ry="4.0" fill="#0a22f0" opacity="0.70" transform="rotate(41 60.6 48.4)"/>
<ellipse cx="59.9" cy="47.9" rx="2.8" ry="2.2" fill="#2a58ff" opacity="0.70" transform="rotate(41 60.6 48.4)"/>
<ellipse cx="59.9" cy="9.4" rx="5.5" ry="1.9" fill="#0a22f0" opacity="0.75" transform="rotate(30 59.9 9.4)"/>
<ellipse cx="59.1" cy="8.8" rx="3.0" ry="1.1" fill="#2a58ff" opacity="0.75" transform="rotate(30 59.9 9.4)"/>
<ellipse cx="3.6" cy="65.0" rx="5.0" ry="4.0" fill="#0a22f0" opacity="0.50" transform="rotate(0 3.6 65.0)"/>
</g></g>
<g clip-path="url(#cd03)"><rect x="600.4" y="28.0" width="72.2" height="72.0" filter="url(#nR0)"/><rect x="600.4" y="28.0" width="72.2" height="72.0" filter="url(#nGf0)" opacity="0.2"/><g transform="translate(600.4 28.0)"><g filter="url(#bl04)"><path d="M23.0 21.2 L20.0 21.6 L16.8 20.9 L13.5 20.0 L10.3 19.7 L7.0 18.8 L3.7 18.2 L3.7 18.5 L6.8 19.5 L9.9 20.7 L13.3 21.4 L16.3 22.5 L19.5 23.6 L23.2 23.6ZM12.9 20.3 L11.1 22.7 L9.5 25.3 L8.3 28.1 L8.5 28.2 L10.1 25.6 L11.9 23.3 L13.8 21.0ZM22.6 21.3 L20.3 22.5 L18.6 24.2 L16.9 25.9 L15.5 28.0 L14.6 30.2 L14.5 32.6 L14.7 32.6 L15.4 30.4 L16.5 28.4 L18.0 26.9 L19.8 25.5 L21.6 24.1 L23.6 23.5ZM17.4 25.8 L15.4 26.1 L13.3 26.3 L11.2 26.4 L11.2 26.6 L13.3 26.9 L15.4 27.0 L17.5 27.0ZM22.1 23.0 L22.9 24.1 L23.5 25.7 L24.1 27.2 L24.8 28.9 L25.8 30.2 L26.6 31.7 L26.8 31.6 L26.5 30.0 L25.8 28.4 L25.5 26.8 L25.2 25.2 L24.9 23.6 L24.1 21.8ZM24.3 22.5 L24.3 20.4 L24.6 18.3 L25.0 16.1 L25.2 13.9 L25.1 11.8 L25.5 9.7 L25.3 9.6 L24.4 11.6 L24.1 13.8 L23.5 15.9 L22.9 17.9 L22.3 20.0 L21.9 22.3ZM24.7 15.6 L23.3 14.4 L22.2 12.7 L21.0 11.2 L20.8 11.3 L21.7 13.0 L22.5 14.8 L23.8 16.4ZM22.4 23.3 L23.6 24.1 L24.7 24.6 L26.0 25.4 L27.4 25.8 L28.7 26.0 L30.0 26.3 L30.1 26.0 L28.9 25.4 L27.7 24.8 L26.6 24.1 L25.9 23.2 L24.7 22.3 L23.8 21.5Z" fill="#e81410" opacity="1.0"/>
<ellipse cx="23.1" cy="22.4" rx="2.0" ry="1.7" fill="#e81410" opacity="1.0"/>
<path d="M23.0 21.5 L19.7 22.3 L16.5 23.3 L13.3 24.2 L13.3 24.5 L16.7 24.1 L20.0 23.6 L23.3 23.2ZM22.6 21.7 L20.8 23.1 L19.1 24.6 L17.1 26.0 L17.3 26.2 L19.5 25.4 L21.5 24.2 L23.6 23.1ZM22.2 22.5 L22.7 24.1 L23.1 25.7 L23.6 27.4 L23.8 27.3 L23.9 25.6 L24.0 24.0 L24.0 22.3ZM23.9 22.6 L24.4 20.5 L24.9 18.5 L25.6 16.4 L25.4 16.3 L24.1 18.1 L23.1 20.1 L22.3 22.1ZM22.8 23.2 L24.0 23.4 L25.3 23.9 L26.6 24.3 L26.7 24.1 L25.7 23.2 L24.7 22.3 L23.4 21.6Z" fill="#ff8a1e" opacity="0.6"/>
<path d="M56.6 14.0 L57.1 15.4 L57.7 17.0 L58.6 18.3 L59.5 19.7 L60.7 20.5 L61.7 21.6 L61.9 21.5 L61.3 20.1 L60.3 18.9 L59.8 17.6 L59.3 16.2 L59.1 14.9 L58.9 13.4ZM58.4 12.8 L57.3 12.2 L56.3 11.8 L55.2 11.2 L53.9 10.7 L52.7 10.7 L51.5 10.7 L51.5 10.9 L52.6 11.5 L53.7 11.8 L54.5 12.5 L55.2 13.2 L56.3 14.0 L57.1 14.7ZM57.3 14.8 L58.5 15.1 L59.3 15.0 L60.4 14.9 L61.2 14.5 L61.9 14.0 L62.6 13.4 L62.5 13.2 L61.6 13.4 L60.8 13.5 L60.0 13.5 L59.5 13.2 L58.6 13.0 L58.2 12.6Z" fill="#e81410" opacity="1.0"/>
<ellipse cx="57.8" cy="13.7" rx="2.0" ry="1.7" fill="#e81410" opacity="1.0"/>
<path d="M57.0 14.1 L57.9 15.3 L58.7 16.6 L59.5 17.9 L59.7 17.8 L59.5 16.3 L59.0 14.8 L58.5 13.3ZM58.4 13.1 L57.4 12.4 L56.4 11.8 L55.4 11.1 L55.2 11.3 L55.8 12.3 L56.5 13.3 L57.1 14.3ZM57.5 14.6 L58.5 14.6 L59.4 14.5 L60.2 14.2 L60.2 14.0 L59.4 13.6 L58.7 13.3 L58.0 12.9Z" fill="#ff8a1e" opacity="0.6"/>
<path d="M60.4 47.2 L56.7 48.3 L52.8 48.7 L48.6 48.6 L44.7 49.7 L40.9 51.3 L37.7 53.6 L37.8 53.8 L41.3 51.9 L45.1 50.8 L48.9 50.0 L52.7 50.4 L56.8 50.3 L60.9 49.5ZM48.2 49.1 L47.0 52.4 L45.4 55.7 L44.4 59.2 L44.7 59.3 L46.0 55.9 L47.8 52.8 L49.3 49.5ZM60.6 49.5 L62.1 49.5 L63.4 49.4 L64.9 49.7 L66.4 49.9 L67.9 50.1 L69.4 50.2 L69.5 50.0 L68.1 49.4 L66.7 48.8 L65.3 48.3 L63.9 47.7 L62.2 47.5 L60.7 47.2ZM61.5 49.2 L62.3 48.1 L63.2 47.0 L63.8 46.0 L64.8 45.0 L65.6 43.8 L65.9 42.5 L65.7 42.4 L65.0 43.5 L64.0 44.3 L62.9 44.8 L61.8 45.9 L60.8 46.7 L59.8 47.5ZM59.6 47.9 L58.9 49.7 L58.9 51.1 L58.2 52.6 L57.6 54.0 L56.4 55.2 L55.4 56.5 L55.5 56.7 L56.9 55.7 L58.3 54.8 L59.4 53.4 L60.4 52.0 L61.0 50.1 L61.7 48.9Z" fill="#e81410" opacity="1.0"/>
<ellipse cx="60.6" cy="48.4" rx="2.0" ry="1.7" fill="#e81410" opacity="1.0"/>
<path d="M60.3 47.6 L56.6 49.3 L53.2 51.4 L49.9 53.7 L50.0 53.9 L53.6 52.2 L57.3 50.5 L61.0 49.2ZM60.5 49.2 L61.9 49.3 L63.4 49.5 L64.9 49.8 L65.0 49.6 L63.7 48.7 L62.3 48.1 L60.8 47.5ZM61.3 48.9 L62.0 47.7 L62.6 46.4 L63.0 45.1 L62.8 45.0 L61.8 46.0 L60.9 46.9 L59.9 47.9ZM59.9 47.9 L59.2 49.4 L58.5 51.0 L58.1 52.7 L58.3 52.8 L59.3 51.4 L60.3 50.2 L61.4 48.8Z" fill="#ff8a1e" opacity="0.6"/>
<path d="M50.9 32.2 L51.6 33.4 L52.3 34.1 L52.7 35.1 L53.2 36.3 L53.9 37.4 L54.9 38.1 L55.0 37.9 L54.5 36.9 L54.2 35.8 L54.1 34.7 L53.9 33.5 L53.3 32.3 L53.1 31.3ZM52.3 30.6 L51.5 30.6 L50.5 30.4 L49.8 30.4 L49.1 30.3 L48.3 30.1 L47.5 29.8 L47.3 30.0 L47.9 30.7 L48.5 31.3 L49.3 31.8 L50.2 32.1 L50.8 32.5 L51.7 32.9Z" fill="#e81410" opacity="0.9"/>
<ellipse cx="52.0" cy="31.8" rx="2.0" ry="1.7" fill="#e81410" opacity="0.9"/>
<path d="M51.1 32.0 L51.6 33.0 L52.0 34.2 L52.6 35.2 L52.9 35.1 L52.9 33.9 L52.9 32.8 L52.8 31.5ZM52.3 31.0 L51.5 30.9 L50.6 30.7 L49.7 30.6 L49.7 30.9 L50.3 31.5 L50.9 32.1 L51.7 32.6Z" fill="#ff8a1e" opacity="0.6"/>
<path d="M39.3 56.7 L37.8 57.4 L36.5 58.3 L35.2 59.5 L34.5 60.8 L33.7 62.2 L33.2 63.6 L33.5 63.7 L34.4 62.5 L35.4 61.5 L36.4 60.3 L37.5 59.7 L38.8 59.2 L40.1 58.9ZM38.5 57.8 L38.7 60.2 L39.2 62.8 L40.5 64.9 L41.8 66.7 L43.1 68.7 L44.4 70.6 L44.6 70.5 L43.7 68.4 L42.8 66.2 L41.7 64.1 L40.8 62.0 L40.8 60.0 L40.9 57.7ZM40.7 65.0 L42.5 66.1 L44.4 67.2 L46.5 67.7 L46.5 67.4 L44.6 66.6 L43.0 65.4 L41.4 64.0Z" fill="#e81410" opacity="0.9"/>
<ellipse cx="39.7" cy="57.8" rx="2.0" ry="1.7" fill="#e81410" opacity="0.9"/>
<path d="M39.5 56.9 L38.1 57.4 L36.7 57.9 L35.3 58.4 L35.3 58.7 L36.8 58.8 L38.4 58.7 L39.9 58.6ZM38.8 57.8 L39.3 60.2 L40.1 62.4 L40.8 64.7 L41.1 64.6 L40.9 62.3 L40.6 59.9 L40.6 57.7Z" fill="#ff8a1e" opacity="0.6"/>
<path d="M7.5 66.1 L8.4 65.7 L9.2 65.4 L10.3 65.1 L11.1 64.7 L12.2 64.5 L13.1 64.0 L13.0 63.8 L12.0 63.8 L11.1 63.6 L10.0 63.7 L9.1 63.6 L7.9 63.7 L6.9 63.9Z" fill="#e81410" opacity="0.9"/>
<ellipse cx="7.2" cy="65.0" rx="2.0" ry="1.7" fill="#e81410" opacity="0.9"/>
<path d="M7.2 65.8 L8.1 65.7 L9.2 65.6 L10.2 65.4 L10.2 65.2 L9.2 64.8 L8.3 64.4 L7.3 64.1Z" fill="#ff8a1e" opacity="0.6"/>
</g><g filter="url(#bl07)" opacity="0.92"><ellipse cx="23.1" cy="22.4" rx="5.5" ry="4.6" fill="#0a22f0" opacity="1.00" transform="rotate(126 23.1 22.4)"/>
<ellipse cx="22.3" cy="21.8" rx="3.0" ry="2.5" fill="#2a58ff" opacity="1.00" transform="rotate(126 23.1 22.4)"/>
<ellipse cx="60.6" cy="48.4" rx="5.0" ry="4.0" fill="#0a22f0" opacity="0.70" transform="rotate(41 60.6 48.4)"/>
<ellipse cx="59.9" cy="47.9" rx="2.8" ry="2.2" fill="#2a58ff" opacity="0.70" transform="rotate(41 60.6 48.4)"/>
<ellipse cx="59.9" cy="9.4" rx="5.5" ry="1.9" fill="#0a22f0" opacity="0.75" transform="rotate(30 59.9 9.4)"/>
<ellipse cx="59.1" cy="8.8" rx="3.0" ry="1.1" fill="#2a58ff" opacity="0.75" transform="rotate(30 59.9 9.4)"/>
<ellipse cx="3.6" cy="65.0" rx="5.0" ry="4.0" fill="#0a22f0" opacity="0.50" transform="rotate(0 3.6 65.0)"/>
</g><g filter="url(#bl07)" style="mix-blend-mode:screen"><ellipse cx="23.1" cy="22.4" rx="4.0" ry="2.5" fill="#28d838" opacity="0.28" transform="rotate(165 23.1 22.4)"/>
<circle cx="25.5" cy="22.2" r="1.9" fill="#28d838" opacity="0.18"/>
<circle cx="24.5" cy="22.8" r="1.3" fill="#28d838" opacity="0.18"/>
<circle cx="24.0" cy="22.5" r="1.8" fill="#28d838" opacity="0.18"/>
<line x1="23.1" y1="22.4" x2="16.0" y2="24.3" stroke="#28d838" stroke-width="1.4" stroke-linecap="round" opacity="0.19"/>
<line x1="23.1" y1="22.4" x2="17.3" y2="27.3" stroke="#28d838" stroke-width="1.4" stroke-linecap="round" opacity="0.19"/>
<line x1="23.1" y1="22.4" x2="24.7" y2="28.4" stroke="#28d838" stroke-width="1.4" stroke-linecap="round" opacity="0.19"/>
<ellipse cx="57.8" cy="13.7" rx="2.4" ry="1.5" fill="#28d838" opacity="0.20" transform="rotate(60 57.8 13.7)"/>
<circle cx="56.7" cy="12.7" r="1.0" fill="#28d838" opacity="0.13"/>
<circle cx="58.2" cy="12.8" r="1.1" fill="#28d838" opacity="0.13"/>
<circle cx="58.1" cy="14.4" r="0.8" fill="#28d838" opacity="0.13"/>
<line x1="57.8" y1="13.7" x2="59.5" y2="16.7" stroke="#28d838" stroke-width="0.8" stroke-linecap="round" opacity="0.14"/>
<line x1="57.8" y1="13.7" x2="55.5" y2="11.1" stroke="#28d838" stroke-width="0.8" stroke-linecap="round" opacity="0.14"/>
<line x1="57.8" y1="13.7" x2="61.0" y2="14.9" stroke="#28d838" stroke-width="0.8" stroke-linecap="round" opacity="0.14"/>
<ellipse cx="60.6" cy="48.4" rx="4.4" ry="2.8" fill="#28d838" opacity="0.30" transform="rotate(155 60.6 48.4)"/>
<circle cx="60.3" cy="47.3" r="2.2" fill="#28d838" opacity="0.19"/>
<circle cx="58.6" cy="47.2" r="2.2" fill="#28d838" opacity="0.19"/>
<circle cx="61.3" cy="49.3" r="1.9" fill="#28d838" opacity="0.19"/>
<line x1="60.6" y1="48.4" x2="52.8" y2="52.1" stroke="#28d838" stroke-width="1.5" stroke-linecap="round" opacity="0.20"/>
<line x1="60.6" y1="48.4" x2="66.5" y2="50.5" stroke="#28d838" stroke-width="1.5" stroke-linecap="round" opacity="0.20"/>
<line x1="60.6" y1="48.4" x2="64.8" y2="41.2" stroke="#28d838" stroke-width="1.5" stroke-linecap="round" opacity="0.20"/>
</g></g></g>
<rect x="363.80" y="103.20" width="14.00" height="70.30" fill="#fff" stroke="#4a3a3a" stroke-width="0.9" />
<text x="373.50" y="138.30" font-size="7.4" font-weight="bold" text-anchor="middle" fill="#000" transform="rotate(-90 373.50 138.30)" >1 dpi</text>
<rect x="379.30" y="101.70" width="72.20" height="72.00" fill="#000" stroke="none" stroke-width="1" />
<rect x="453.10" y="101.70" width="72.20" height="72.00" fill="#000" stroke="none" stroke-width="1" />
<rect x="526.70" y="101.70" width="72.20" height="72.00" fill="#000" stroke="none" stroke-width="1" />
<rect x="600.40" y="101.70" width="72.20" height="72.00" fill="#000" stroke="none" stroke-width="1" />
<g clip-path="url(#cd10)"><rect x="379.3" y="101.7" width="72.2" height="72.0" filter="url(#nRo1)"/><rect x="379.3" y="101.7" width="72.2" height="72.0" filter="url(#nH1)"/><g filter="url(#bl03)"><path d="M406.7 155.0 L408.4 156.1 L410.0 157.5 L411.8 158.4 L413.3 159.8 L415.1 161.0 L416.9 161.9 L417.0 161.7 L415.3 160.6 L413.7 159.3 L412.2 157.9 L410.4 156.8 L408.9 155.4 L407.3 154.2ZM411.7 158.4 L412.7 159.8 L413.2 161.6 L413.9 163.3 L414.1 163.3 L413.6 161.5 L413.3 159.7 L412.3 158.0ZM407.5 154.6 L407.5 153.4 L407.9 152.0 L407.7 150.7 L407.2 149.4 L406.5 148.3 L405.7 147.3 L405.5 147.5 L406.2 148.6 L406.7 149.7 L407.1 150.9 L407.1 152.1 L406.7 153.2 L406.5 154.5ZM407.7 150.6 L406.9 149.7 L406.0 148.8 L405.0 148.2 L404.9 148.4 L405.8 149.2 L406.4 150.1 L407.1 151.0ZM407.0 154.1 L405.4 154.0 L404.1 154.3 L402.7 154.4 L401.4 154.1 L400.2 153.3 L398.9 152.6 L398.8 152.8 L399.9 153.7 L401.1 154.5 L402.5 155.1 L404.1 155.1 L405.6 154.8 L406.9 155.1ZM402.5 154.4 L401.4 155.2 L400.3 156.1 L399.6 157.2 L399.8 157.4 L400.7 156.4 L401.7 155.7 L402.8 155.0ZM407.3 155.0 L408.1 154.2 L409.0 153.6 L410.2 153.3 L411.3 152.9 L412.4 152.6 L413.6 152.6 L413.7 152.4 L412.5 152.2 L411.2 152.3 L410.0 152.6 L408.9 152.9 L407.7 153.4 L406.6 154.2ZM410.1 153.3 L411.2 153.4 L412.3 153.2 L413.3 153.2 L413.4 153.0 L412.3 152.8 L411.2 152.8 L410.2 152.6ZM406.5 154.6 L406.5 155.1 L406.4 155.8 L406.2 156.4 L406.0 157.0 L405.5 157.6 L405.2 158.2 L405.5 158.3 L405.9 157.8 L406.4 157.3 L406.8 156.7 L407.1 156.0 L407.4 155.4 L407.5 154.6Z" fill="#e81410" opacity="1.0"/>
<ellipse cx="407.0" cy="154.6" rx="0.7" ry="0.6" fill="#e81410" opacity="1.0"/>
<path d="M406.8 154.9 L408.5 156.0 L410.3 157.0 L412.0 158.2 L412.1 158.0 L410.6 156.6 L408.9 155.5 L407.2 154.3ZM407.3 154.8 L407.8 153.6 L408.5 152.5 L409.1 151.4 L408.9 151.2 L408.1 152.2 L407.3 153.3 L406.6 154.4ZM407.0 154.2 L405.5 154.3 L404.1 154.5 L402.6 154.5 L402.6 154.8 L404.1 154.9 L405.5 154.9 L407.0 155.0ZM407.2 154.9 L408.2 154.2 L409.1 153.4 L410.1 152.8 L410.0 152.5 L408.8 153.0 L407.8 153.7 L406.8 154.3ZM406.6 154.5 L406.5 155.2 L406.4 155.9 L406.5 156.6 L406.7 156.6 L406.9 155.9 L407.1 155.3 L407.4 154.7Z" fill="#ff8a1e" opacity="0.6"/>
<path d="M395.1 168.1 L393.9 166.3 L392.3 165.1 L390.8 163.5 L389.1 162.4 L387.4 161.2 L385.5 160.4 L385.4 160.6 L387.2 161.6 L388.7 162.9 L390.4 164.1 L391.7 165.6 L393.3 167.0 L394.3 168.6ZM390.9 163.5 L389.5 162.3 L388.2 161.0 L387.2 159.4 L387.0 159.6 L387.9 161.2 L389.0 162.7 L390.4 164.0ZM394.5 168.8 L396.1 169.6 L397.5 170.7 L398.6 172.3 L400.1 173.6 L401.5 174.7 L402.7 176.2 L402.9 176.1 L401.9 174.4 L400.4 173.1 L399.1 171.8 L398.1 170.3 L396.6 168.9 L395.0 167.9ZM399.1 172.3 L400.3 171.0 L401.2 169.5 L401.7 167.8 L401.4 167.8 L400.8 169.4 L399.9 170.7 L398.6 171.8ZM394.2 168.5 L394.5 169.2 L394.8 169.6 L394.8 170.3 L394.8 171.1 L395.0 171.7 L395.1 172.4 L395.3 172.4 L395.4 171.7 L395.3 171.0 L395.5 170.4 L395.6 169.6 L395.3 168.8 L395.2 168.2ZM395.2 168.6 L395.5 167.8 L395.9 167.0 L396.1 166.2 L396.5 165.3 L396.6 164.4 L396.4 163.5 L396.2 163.6 L396.1 164.4 L395.9 165.2 L395.5 165.9 L395.1 166.7 L394.7 167.4 L394.3 168.1Z" fill="#e81410" opacity="1.0"/>
<ellipse cx="394.7" cy="168.3" rx="0.7" ry="0.6" fill="#e81410" opacity="1.0"/>
<path d="M395.1 168.2 L394.1 166.3 L393.2 164.5 L392.6 162.6 L392.3 162.6 L392.8 164.7 L393.6 166.6 L394.3 168.5ZM394.6 168.7 L396.5 169.1 L398.3 169.5 L400.2 169.9 L400.2 169.7 L398.4 169.1 L396.6 168.5 L394.8 168.0ZM394.4 168.5 L394.8 169.1 L395.2 169.6 L395.5 170.2 L395.8 170.1 L395.6 169.5 L395.3 168.8 L395.0 168.2ZM395.1 168.5 L395.3 167.7 L395.6 166.8 L395.7 166.0 L395.5 165.9 L395.1 166.7 L394.7 167.4 L394.3 168.2Z" fill="#ff8a1e" opacity="0.6"/>
<path d="M428.5 110.6 L427.1 110.4 L425.8 110.2 L424.6 109.7 L423.3 109.3 L422.2 108.7 L421.2 107.7 L421.0 107.9 L421.9 108.9 L423.1 109.7 L424.3 110.3 L425.6 110.9 L427.0 111.2 L428.3 111.5ZM424.4 109.7 L423.2 110.2 L422.1 110.5 L420.9 110.7 L420.9 111.0 L422.1 110.9 L423.4 110.7 L424.6 110.3ZM428.7 110.8 L428.2 110.2 L427.7 109.6 L427.5 108.8 L427.4 107.9 L427.4 107.0 L427.2 106.1 L427.0 106.2 L427.0 107.1 L426.9 107.9 L426.9 108.8 L427.0 109.7 L427.5 110.6 L428.1 111.3ZM427.5 108.8 L427.6 108.1 L427.8 107.3 L428.0 106.6 L427.8 106.5 L427.5 107.2 L427.1 107.9 L426.9 108.7ZM428.7 111.4 L429.4 110.7 L430.5 110.2 L431.5 109.9 L432.8 109.9 L433.9 109.6 L435.0 109.1 L434.9 108.9 L433.8 109.2 L432.6 109.5 L431.6 109.3 L430.3 109.6 L429.2 109.9 L428.1 110.7ZM431.5 110.0 L432.6 109.9 L433.6 110.0 L434.6 110.3 L434.7 110.1 L433.7 109.6 L432.6 109.4 L431.5 109.3ZM428.1 111.4 L429.2 112.2 L430.2 112.6 L431.1 113.4 L432.2 113.9 L433.2 114.7 L434.4 115.0 L434.4 114.8 L433.3 114.3 L432.5 113.5 L431.5 112.8 L430.6 112.0 L429.5 111.5 L428.7 110.7ZM431.0 113.0 L430.9 114.1 L430.7 115.2 L430.7 116.3 L430.9 116.3 L431.1 115.2 L431.4 114.2 L431.6 113.2ZM428.0 111.1 L428.0 112.2 L428.1 113.4 L428.3 114.5 L428.6 115.5 L428.7 116.6 L428.5 117.7 L428.7 117.7 L429.1 116.7 L429.1 115.5 L428.9 114.3 L428.7 113.2 L428.8 112.2 L428.8 111.0ZM428.3 114.2 L427.8 115.1 L427.3 116.1 L427.2 117.1 L427.5 117.1 L427.7 116.1 L428.2 115.3 L428.8 114.6Z" fill="#e81410" opacity="1.0"/>
<ellipse cx="428.4" cy="111.1" rx="0.6" ry="0.5" fill="#e81410" opacity="1.0"/>
<path d="M428.4 110.7 L427.1 110.7 L425.7 110.6 L424.4 110.3 L424.3 110.5 L425.6 111.0 L427.0 111.3 L428.4 111.4ZM428.7 110.9 L428.3 110.1 L428.0 109.4 L427.7 108.6 L427.4 108.6 L427.5 109.5 L427.8 110.3 L428.1 111.2ZM428.6 111.3 L429.6 110.6 L430.4 109.8 L431.3 109.1 L431.2 108.9 L430.1 109.5 L429.2 110.2 L428.2 110.8ZM428.1 111.2 L428.8 112.2 L429.5 113.2 L430.2 114.2 L430.4 114.1 L429.9 113.0 L429.3 111.9 L428.7 110.9ZM428.1 111.1 L428.3 112.2 L428.5 113.3 L428.7 114.4 L428.9 114.4 L428.9 113.3 L428.9 112.1 L428.7 111.0Z" fill="#ff8a1e" opacity="0.6"/>
<path d="M446.8 110.0 L446.4 110.6 L445.7 111.0 L444.9 111.2 L444.0 111.2 L443.2 111.1 L442.4 110.7 L442.3 110.9 L443.0 111.4 L443.9 111.7 L444.8 111.9 L445.8 111.8 L446.8 111.4 L447.5 110.7ZM444.6 111.4 L444.3 112.3 L444.2 113.1 L444.2 113.9 L444.4 113.9 L444.6 113.1 L444.9 112.4 L445.2 111.7ZM447.6 110.2 L447.3 109.3 L447.0 108.3 L446.6 107.5 L446.4 106.5 L446.2 105.6 L446.2 104.7 L446.0 104.6 L445.8 105.6 L445.9 106.6 L445.9 107.6 L446.3 108.6 L446.4 109.5 L446.7 110.5ZM446.4 107.8 L447.2 107.2 L447.7 106.4 L447.9 105.6 L447.7 105.5 L447.3 106.3 L446.7 106.9 L446.0 107.3ZM447.1 110.8 L448.2 110.8 L449.2 110.8 L450.3 110.9 L451.4 110.9 L452.5 110.6 L453.5 110.3 L453.4 110.0 L452.4 110.2 L451.3 110.4 L450.4 110.2 L449.3 110.0 L448.2 110.0 L447.2 109.9ZM450.1 110.8 L451.0 111.3 L451.8 111.8 L452.7 112.2 L452.8 112.0 L452.0 111.4 L451.3 110.8 L450.5 110.3ZM446.7 110.4 L446.8 112.0 L447.3 113.3 L447.2 114.8 L447.2 116.2 L446.7 117.7 L446.7 119.2 L447.0 119.2 L447.2 117.7 L447.7 116.4 L447.9 114.8 L448.0 113.3 L447.6 111.7 L447.6 110.3ZM447.3 114.5 L446.4 115.4 L445.2 116.0 L443.9 116.5 L444.0 116.7 L445.3 116.4 L446.6 115.9 L447.8 115.1Z" fill="#e81410" opacity="1.0"/>
<ellipse cx="447.2" cy="110.3" rx="0.7" ry="0.6" fill="#e81410" opacity="1.0"/>
<path d="M447.0 110.0 L446.2 110.5 L445.5 111.0 L444.8 111.6 L444.9 111.8 L445.7 111.4 L446.5 111.0 L447.3 110.7ZM447.5 110.3 L447.3 109.3 L447.0 108.4 L446.8 107.4 L446.6 107.5 L446.5 108.4 L446.7 109.4 L446.8 110.4ZM447.2 110.7 L448.2 110.6 L449.3 110.5 L450.3 110.4 L450.3 110.1 L449.3 110.1 L448.2 110.0 L447.1 110.0ZM446.8 110.4 L447.0 111.8 L447.1 113.3 L447.2 114.9 L447.4 114.9 L447.5 113.4 L447.6 111.8 L447.5 110.3Z" fill="#ff8a1e" opacity="0.6"/>
<path d="M410.1 121.5 L409.1 122.3 L408.4 123.3 L407.5 124.2 L407.1 125.3 L406.5 126.3 L405.6 127.1 L405.8 127.3 L406.8 126.6 L407.5 125.6 L408.1 124.5 L408.9 123.8 L409.7 122.9 L410.6 122.2ZM407.8 124.0 L406.8 124.2 L405.7 124.2 L404.7 123.9 L404.6 124.1 L405.6 124.5 L406.7 124.7 L407.8 124.7ZM410.8 121.7 L410.2 120.4 L409.7 119.0 L409.0 117.6 L408.0 116.5 L406.9 115.6 L405.6 114.8 L405.5 115.0 L406.7 115.9 L407.6 116.9 L408.5 118.0 L409.0 119.3 L409.4 120.7 L409.9 122.0ZM408.9 117.5 L407.5 117.1 L406.3 117.1 L405.0 117.1 L404.9 117.3 L406.2 117.5 L407.5 117.6 L408.6 118.1ZM410.6 122.2 L411.5 121.5 L412.6 120.9 L413.5 120.2 L414.4 119.3 L414.9 118.2 L415.5 117.2 L415.3 117.0 L414.6 118.0 L413.9 119.0 L413.1 119.7 L412.1 120.3 L411.1 120.8 L410.1 121.5ZM413.3 120.3 L414.4 120.2 L415.4 120.1 L416.5 120.0 L416.5 119.7 L415.4 119.6 L414.4 119.7 L413.3 119.6ZM410.0 122.2 L410.9 123.0 L411.8 123.4 L412.6 124.0 L413.3 124.9 L414.0 125.6 L414.6 126.5 L414.8 126.4 L414.4 125.4 L413.7 124.5 L413.2 123.6 L412.3 122.8 L411.3 122.2 L410.7 121.5ZM412.6 123.9 L413.0 124.9 L413.4 125.7 L413.9 126.6 L414.1 126.5 L413.8 125.5 L413.5 124.6 L413.2 123.7ZM410.1 121.5 L409.3 122.1 L408.5 122.7 L407.4 123.2 L406.7 124.0 L406.1 124.9 L405.4 125.6 L405.5 125.8 L406.4 125.2 L407.1 124.3 L407.9 123.7 L408.8 123.4 L409.7 122.8 L410.6 122.2ZM407.3 123.5 L407.5 124.4 L407.6 125.3 L407.5 126.3 L407.7 126.3 L408.0 125.4 L408.0 124.4 L408.0 123.4Z" fill="#e81410" opacity="1.0"/>
<ellipse cx="410.3" cy="121.9" rx="0.7" ry="0.6" fill="#e81410" opacity="1.0"/>
<path d="M410.2 121.5 L409.2 122.2 L408.1 122.8 L407.1 123.4 L407.3 123.7 L408.3 123.1 L409.4 122.7 L410.5 122.2ZM410.7 121.7 L410.0 120.5 L409.4 119.1 L408.6 117.9 L408.4 118.0 L409.0 119.3 L409.4 120.7 L410.0 122.0ZM410.6 122.2 L411.5 121.4 L412.4 120.6 L413.3 120.0 L413.2 119.7 L412.1 120.3 L411.1 120.9 L410.1 121.6ZM410.0 122.0 L410.6 122.9 L411.1 123.9 L411.7 124.8 L411.9 124.7 L411.5 123.7 L411.1 122.7 L410.7 121.7ZM410.1 121.6 L409.5 122.5 L408.9 123.4 L408.5 124.4 L408.7 124.5 L409.3 123.7 L410.0 122.9 L410.6 122.1Z" fill="#ff8a1e" opacity="0.6"/>
<path d="M437.4 164.3 L437.2 165.3 L437.0 166.5 L437.0 167.6 L437.1 168.8 L437.6 169.7 L437.7 170.8 L437.9 170.8 L437.9 169.7 L437.6 168.6 L437.6 167.6 L437.7 166.5 L437.9 165.5 L438.2 164.4ZM437.0 167.7 L437.4 168.7 L437.9 169.4 L438.3 170.3 L438.5 170.3 L438.3 169.3 L437.8 168.4 L437.6 167.5ZM438.0 164.0 L437.0 163.3 L435.9 163.1 L434.8 163.1 L433.7 163.0 L432.6 163.0 L431.5 162.9 L431.5 163.1 L432.5 163.4 L433.6 163.5 L434.7 163.7 L435.8 163.8 L436.8 164.1 L437.5 164.7ZM434.7 163.1 L433.8 163.3 L432.8 163.1 L431.8 163.2 L431.8 163.4 L432.8 163.5 L433.7 163.8 L434.8 163.7ZM438.1 164.6 L438.7 163.7 L439.0 162.8 L439.0 161.8 L439.1 160.9 L439.1 159.9 L438.8 159.0 L438.6 159.1 L438.7 160.0 L438.6 160.9 L438.4 161.8 L438.3 162.7 L438.0 163.5 L437.4 164.1ZM439.0 161.8 L439.1 161.0 L439.2 160.3 L439.6 159.5 L439.4 159.4 L438.9 160.1 L438.6 160.9 L438.4 161.8ZM437.6 164.7 L438.5 165.1 L439.3 165.7 L440.2 166.2 L441.1 166.8 L442.1 167.0 L443.1 167.2 L443.2 167.0 L442.2 166.6 L441.3 166.3 L440.5 165.7 L439.7 165.1 L438.9 164.5 L438.0 164.0ZM440.4 166.3 L441.4 166.0 L442.2 165.6 L442.9 165.1 L442.8 164.8 L442.0 165.2 L441.1 165.6 L440.3 165.7Z" fill="#e81410" opacity="1.0"/>
<ellipse cx="437.8" cy="164.3" rx="0.6" ry="0.5" fill="#e81410" opacity="1.0"/>
<path d="M437.5 164.2 L437.0 165.1 L436.5 166.1 L435.9 167.0 L436.1 167.1 L436.8 166.3 L437.5 165.5 L438.1 164.5ZM438.0 164.1 L437.2 163.4 L436.3 162.7 L435.5 162.0 L435.3 162.2 L436.0 163.0 L436.8 163.8 L437.6 164.6ZM438.0 164.6 L438.6 163.8 L439.1 163.0 L439.6 162.2 L439.4 162.1 L438.8 162.8 L438.2 163.5 L437.5 164.1ZM437.6 164.6 L438.4 165.2 L439.3 165.7 L440.2 166.2 L440.3 166.0 L439.5 165.4 L438.8 164.7 L438.0 164.1Z" fill="#ff8a1e" opacity="0.6"/>
<path d="M433.7 141.6 L434.3 141.0 L434.9 140.5 L435.5 139.9 L436.1 139.3 L436.6 138.7 L437.2 138.1 L437.0 137.9 L436.3 138.4 L435.7 138.9 L435.1 139.5 L434.5 139.9 L433.8 140.5 L433.2 141.0ZM435.5 139.9 L436.1 139.5 L436.7 139.0 L437.0 138.3 L436.8 138.2 L436.4 138.7 L435.8 139.1 L435.2 139.4ZM433.4 141.7 L434.4 141.7 L435.5 141.8 L436.5 141.6 L437.5 141.2 L438.4 141.0 L439.4 141.1 L439.4 140.8 L438.4 140.7 L437.4 140.8 L436.4 141.0 L435.4 141.1 L434.5 141.0 L433.5 140.9ZM436.6 141.6 L437.3 141.1 L438.2 140.8 L439.0 140.4 L438.9 140.2 L438.1 140.5 L437.2 140.7 L436.3 141.0ZM433.0 141.2 L432.9 142.2 L432.6 143.2 L432.5 144.3 L432.5 145.3 L432.2 146.3 L432.0 147.3 L432.2 147.4 L432.5 146.4 L432.9 145.4 L433.0 144.3 L433.2 143.3 L433.6 142.5 L433.9 141.4ZM432.7 144.0 L431.8 144.3 L430.8 144.6 L430.1 145.2 L430.2 145.4 L431.1 144.9 L431.9 144.8 L432.8 144.6ZM433.8 141.0 L433.0 140.0 L432.2 139.0 L431.4 138.0 L430.7 137.0 L430.2 135.8 L429.9 134.5 L429.6 134.6 L429.8 135.9 L430.2 137.1 L430.9 138.3 L431.6 139.4 L432.4 140.5 L433.1 141.6ZM431.2 137.9 L430.0 137.6 L428.8 137.6 L427.6 137.8 L427.7 138.0 L428.8 138.0 L430.0 138.1 L431.0 138.5Z" fill="#e81410" opacity="1.0"/>
<ellipse cx="433.5" cy="141.3" rx="0.6" ry="0.5" fill="#e81410" opacity="1.0"/>
<path d="M433.8 141.4 L434.0 140.7 L434.4 140.0 L434.8 139.3 L434.6 139.1 L434.0 139.7 L433.6 140.4 L433.1 141.2ZM433.3 141.6 L434.3 141.9 L435.3 142.2 L436.3 142.3 L436.4 142.0 L435.4 141.7 L434.5 141.4 L433.6 141.0ZM433.1 141.2 L432.9 142.3 L432.8 143.3 L432.7 144.3 L433.0 144.4 L433.2 143.4 L433.4 142.3 L433.8 141.4ZM433.7 141.1 L432.7 140.2 L431.7 139.3 L430.7 138.5 L430.5 138.7 L431.4 139.7 L432.3 140.6 L433.2 141.5Z" fill="#ff8a1e" opacity="0.6"/>
<path d="M429.6 130.9 L430.6 131.4 L431.7 131.8 L432.6 131.8 L433.6 132.2 L434.6 132.5 L435.5 132.8 L435.6 132.6 L434.7 132.1 L433.8 131.7 L432.9 131.2 L431.7 131.0 L430.9 130.6 L430.1 130.1ZM432.7 131.8 L433.6 131.9 L434.6 131.8 L435.5 131.8 L435.5 131.6 L434.6 131.4 L433.6 131.3 L432.8 131.2ZM429.4 130.3 L429.1 131.5 L429.0 132.5 L428.7 133.6 L428.3 134.8 L428.3 135.8 L428.0 136.9 L428.2 137.0 L428.7 136.0 L428.8 134.8 L429.3 133.8 L429.7 132.8 L429.9 131.6 L430.3 130.7ZM428.8 133.4 L428.0 133.9 L427.0 134.2 L426.1 134.7 L426.2 134.9 L427.2 134.6 L428.1 134.4 L429.1 134.0ZM429.9 130.0 L428.7 129.9 L427.5 129.9 L426.2 130.0 L425.1 130.3 L423.9 130.6 L422.9 131.2 L423.0 131.4 L424.1 131.0 L425.2 130.8 L426.4 130.6 L427.5 130.6 L428.7 130.7 L429.8 131.0ZM426.0 130.1 L425.5 131.1 L425.3 132.2 L425.1 133.2 L425.3 133.3 L425.7 132.3 L426.0 131.3 L426.6 130.4ZM430.3 130.3 L429.7 129.3 L429.1 128.4 L428.6 127.3 L428.3 126.3 L428.4 125.2 L428.6 124.1 L428.4 124.0 L428.0 125.1 L427.8 126.3 L428.0 127.5 L428.4 128.6 L428.9 129.7 L429.4 130.7ZM428.5 127.1 L427.6 126.6 L426.6 126.2 L425.6 125.9 L425.5 126.1 L426.4 126.6 L427.3 127.1 L428.2 127.7ZM430.3 130.7 L430.8 129.2 L431.0 127.8 L431.2 126.4 L431.4 124.9 L431.3 123.5 L431.5 122.1 L431.2 122.1 L430.9 123.4 L430.8 124.9 L430.6 126.3 L430.2 127.7 L430.0 129.1 L429.4 130.3ZM431.2 126.3 L430.9 125.0 L430.3 123.9 L430.1 122.6 L429.9 122.6 L429.9 123.9 L430.4 125.2 L430.6 126.4Z" fill="#e81410" opacity="1.0"/>
<ellipse cx="429.8" cy="130.5" rx="0.7" ry="0.6" fill="#e81410" opacity="1.0"/>
<path d="M429.6 130.7 L430.3 131.5 L431.0 132.2 L431.8 132.9 L432.0 132.7 L431.3 131.9 L430.7 131.1 L430.1 130.3ZM429.5 130.4 L429.2 131.5 L428.9 132.5 L428.6 133.6 L428.9 133.7 L429.4 132.7 L429.7 131.6 L430.2 130.6ZM429.9 130.1 L428.7 130.1 L427.5 130.2 L426.3 130.3 L426.3 130.5 L427.5 130.6 L428.7 130.7 L429.8 130.9ZM430.2 130.4 L429.9 129.3 L429.5 128.2 L429.1 127.1 L428.9 127.2 L429.0 128.3 L429.3 129.5 L429.5 130.6ZM430.2 130.7 L430.8 129.5 L431.7 128.4 L432.6 127.2 L432.4 127.1 L431.4 128.1 L430.4 129.1 L429.5 130.3Z" fill="#ff8a1e" opacity="0.6"/>
<path d="M450.2 145.9 L448.8 145.5 L447.5 145.1 L446.1 144.6 L444.7 144.4 L443.4 144.0 L442.3 143.2 L442.1 143.4 L443.2 144.4 L444.6 144.9 L446.0 145.3 L447.2 145.8 L448.5 146.4 L449.9 146.8ZM445.8 144.7 L444.8 145.4 L443.8 146.2 L442.8 147.0 L442.9 147.2 L444.0 146.6 L445.1 145.9 L446.2 145.2ZM450.5 146.2 L450.3 145.4 L449.9 144.7 L449.6 144.1 L449.4 143.2 L449.0 142.6 L448.7 141.8 L448.5 141.9 L448.6 142.7 L448.9 143.4 L448.9 144.2 L449.2 145.0 L449.5 145.8 L449.6 146.5ZM450.2 146.8 L451.3 146.4 L452.3 145.8 L453.1 145.1 L453.9 144.3 L454.6 143.4 L454.9 142.4 L454.7 142.3 L454.2 143.2 L453.5 144.0 L452.7 144.6 L451.8 145.2 L450.9 145.7 L449.9 145.9ZM453.2 144.8 L453.2 143.9 L453.1 142.9 L452.9 141.9 L452.6 141.9 L452.7 142.9 L452.6 143.9 L452.5 144.8ZM449.6 146.3 L449.6 147.5 L449.6 148.8 L450.0 150.0 L450.7 151.0 L451.2 152.0 L451.8 153.1 L452.0 153.0 L451.6 151.9 L451.2 150.8 L450.6 149.7 L450.3 148.6 L450.4 147.5 L450.5 146.4ZM450.2 150.2 L451.2 150.6 L452.2 150.9 L453.2 151.2 L453.3 151.0 L452.4 150.5 L451.4 150.1 L450.5 149.6ZM449.6 146.3 L449.4 147.6 L448.7 148.9 L448.4 150.3 L448.0 151.8 L447.9 153.3 L448.2 154.7 L448.4 154.6 L448.3 153.2 L448.5 151.8 L449.0 150.5 L449.5 149.1 L450.2 148.0 L450.5 146.4ZM448.5 150.1 L447.4 150.7 L446.2 151.1 L445.0 151.7 L445.1 151.9 L446.3 151.5 L447.6 151.3 L448.8 150.7Z" fill="#e81410" opacity="1.0"/>
<ellipse cx="450.1" cy="146.3" rx="0.7" ry="0.6" fill="#e81410" opacity="1.0"/>
<path d="M450.1 146.0 L448.7 145.8 L447.3 145.6 L445.9 145.5 L445.9 145.8 L447.3 146.0 L448.6 146.4 L450.0 146.7ZM450.4 146.4 L450.4 145.6 L450.4 144.8 L450.4 144.0 L450.2 144.0 L449.9 144.7 L449.8 145.5 L449.7 146.3ZM450.2 146.7 L451.2 146.3 L452.2 145.8 L453.2 145.4 L453.1 145.2 L452.0 145.4 L451.0 145.7 L449.9 146.0ZM449.7 146.3 L449.7 147.5 L449.8 148.7 L449.9 149.9 L450.1 149.9 L450.3 148.7 L450.3 147.5 L450.4 146.4ZM449.7 146.1 L449.1 147.4 L448.4 148.8 L448.0 150.1 L448.2 150.2 L448.8 148.9 L449.6 147.7 L450.4 146.5Z" fill="#ff8a1e" opacity="0.6"/>
</g><g filter="url(#bl04)"><ellipse cx="407.0" cy="154.6" rx="1.8" ry="1.5" fill="#0a22f0" opacity="0.50" transform="rotate(161 407.0 154.6)"/>
<ellipse cx="394.7" cy="168.3" rx="2.6" ry="1.7" fill="#0a22f0" opacity="1.00" transform="rotate(100 394.7 168.3)"/>
<ellipse cx="394.3" cy="168.1" rx="1.4" ry="0.9" fill="#2a58ff" opacity="1.00" transform="rotate(100 394.7 168.3)"/>
<ellipse cx="406.6" cy="141.6" rx="3.3" ry="2.7" fill="#0a22f0" opacity="1.00" transform="rotate(80 406.6 141.6)"/>
<ellipse cx="406.1" cy="141.2" rx="1.8" ry="1.5" fill="#2a58ff" opacity="1.00" transform="rotate(80 406.6 141.6)"/>
<ellipse cx="412.6" cy="160.5" rx="1.6" ry="1.5" fill="#0a22f0" opacity="0.90" transform="rotate(0 412.6 160.5)"/>
<ellipse cx="412.3" cy="160.4" rx="0.9" ry="0.8" fill="#2a58ff" opacity="0.90" transform="rotate(0 412.6 160.5)"/>
<ellipse cx="395.1" cy="107.9" rx="2.9" ry="2.3" fill="#0a22f0" opacity="0.95" transform="rotate(105 395.1 107.9)"/>
<ellipse cx="394.7" cy="107.6" rx="1.6" ry="1.2" fill="#2a58ff" opacity="0.95" transform="rotate(105 395.1 107.9)"/>
<ellipse cx="418.6" cy="108.6" rx="2.1" ry="2.0" fill="#0a22f0" opacity="0.95" transform="rotate(128 418.6 108.6)"/>
<ellipse cx="418.3" cy="108.4" rx="1.2" ry="1.1" fill="#2a58ff" opacity="0.95" transform="rotate(128 418.6 108.6)"/>
<ellipse cx="447.5" cy="110.7" rx="2.1" ry="1.8" fill="#0a22f0" opacity="0.95" transform="rotate(9 447.5 110.7)"/>
<ellipse cx="447.1" cy="110.5" rx="1.2" ry="1.0" fill="#2a58ff" opacity="0.95" transform="rotate(9 447.5 110.7)"/>
<ellipse cx="410.9" cy="121.7" rx="2.1" ry="1.7" fill="#0a22f0" opacity="0.95" transform="rotate(130 410.9 121.7)"/>
<ellipse cx="410.6" cy="121.5" rx="1.2" ry="0.9" fill="#2a58ff" opacity="0.95" transform="rotate(130 410.9 121.7)"/>
<ellipse cx="397.4" cy="123.1" rx="2.1" ry="1.4" fill="#0a22f0" opacity="0.95" transform="rotate(83 397.4 123.1)"/>
<ellipse cx="397.1" cy="122.9" rx="1.2" ry="0.8" fill="#2a58ff" opacity="0.95" transform="rotate(83 397.4 123.1)"/>
<ellipse cx="446.7" cy="122.5" rx="2.9" ry="2.0" fill="#0a22f0" opacity="0.95" transform="rotate(169 446.7 122.5)"/>
<ellipse cx="446.3" cy="122.2" rx="1.6" ry="1.1" fill="#2a58ff" opacity="0.95" transform="rotate(169 446.7 122.5)"/>
<ellipse cx="383.4" cy="156.2" rx="2.1" ry="1.6" fill="#0a22f0" opacity="0.95" transform="rotate(118 383.4 156.2)"/>
<ellipse cx="383.0" cy="156.0" rx="1.2" ry="0.9" fill="#2a58ff" opacity="0.95" transform="rotate(118 383.4 156.2)"/>
<ellipse cx="437.4" cy="164.4" rx="2.1" ry="1.7" fill="#0a22f0" opacity="0.95" transform="rotate(50 437.4 164.4)"/>
<ellipse cx="437.0" cy="164.2" rx="1.2" ry="0.9" fill="#2a58ff" opacity="0.95" transform="rotate(50 437.4 164.4)"/>
</g><g filter="url(#bl04)" style="mix-blend-mode:screen"><ellipse cx="407.0" cy="154.6" rx="2.1" ry="1.3" fill="#28d838" opacity="0.33" transform="rotate(30 407.0 154.6)"/>
<circle cx="407.2" cy="155.5" r="1.0" fill="#28d838" opacity="0.21"/>
<circle cx="407.3" cy="154.9" r="0.7" fill="#28d838" opacity="0.21"/>
<circle cx="406.4" cy="155.5" r="0.8" fill="#28d838" opacity="0.21"/>
<line x1="407.0" y1="154.6" x2="410.2" y2="156.4" stroke="#28d838" stroke-width="0.7" stroke-linecap="round" opacity="0.23"/>
<line x1="407.0" y1="154.6" x2="408.4" y2="150.7" stroke="#28d838" stroke-width="0.7" stroke-linecap="round" opacity="0.23"/>
<line x1="407.0" y1="154.6" x2="403.9" y2="154.8" stroke="#28d838" stroke-width="0.7" stroke-linecap="round" opacity="0.23"/>
<ellipse cx="394.7" cy="168.3" rx="1.9" ry="1.2" fill="#28d838" opacity="0.28" transform="rotate(-115 394.7 168.3)"/>
<circle cx="394.5" cy="167.7" r="0.8" fill="#28d838" opacity="0.18"/>
<circle cx="395.7" cy="167.8" r="0.8" fill="#28d838" opacity="0.18"/>
<circle cx="394.0" cy="167.4" r="0.8" fill="#28d838" opacity="0.18"/>
<line x1="394.7" y1="168.3" x2="393.4" y2="165.5" stroke="#28d838" stroke-width="0.6" stroke-linecap="round" opacity="0.19"/>
<line x1="394.7" y1="168.3" x2="397.4" y2="168.8" stroke="#28d838" stroke-width="0.6" stroke-linecap="round" opacity="0.19"/>
<line x1="394.7" y1="168.3" x2="396.5" y2="171.5" stroke="#28d838" stroke-width="0.6" stroke-linecap="round" opacity="0.19"/>
<ellipse cx="390.2" cy="139.7" rx="1.5" ry="0.9" fill="#28d838" opacity="0.33" transform="rotate(20 390.2 139.7)"/>
<circle cx="391.1" cy="139.5" r="0.7" fill="#28d838" opacity="0.21"/>
<circle cx="390.0" cy="139.5" r="0.6" fill="#28d838" opacity="0.21"/>
<circle cx="390.8" cy="139.9" r="0.6" fill="#28d838" opacity="0.21"/>
<ellipse cx="428.4" cy="111.1" rx="1.7" ry="1.1" fill="#c8e020" opacity="0.40" transform="rotate(342 428.4 111.1)"/>
<circle cx="428.6" cy="111.7" r="0.7" fill="#c8e020" opacity="0.25"/>
<circle cx="428.0" cy="110.2" r="0.7" fill="#c8e020" opacity="0.25"/>
<circle cx="427.9" cy="110.4" r="0.8" fill="#c8e020" opacity="0.25"/>
<ellipse cx="447.2" cy="110.3" rx="1.7" ry="1.1" fill="#c8e020" opacity="0.40" transform="rotate(332 447.2 110.3)"/>
<circle cx="447.5" cy="109.3" r="0.6" fill="#c8e020" opacity="0.25"/>
<circle cx="446.5" cy="110.8" r="0.8" fill="#c8e020" opacity="0.25"/>
<circle cx="446.8" cy="109.6" r="0.7" fill="#c8e020" opacity="0.25"/>
<ellipse cx="410.3" cy="121.9" rx="1.7" ry="1.1" fill="#c8e020" opacity="0.40" transform="rotate(128 410.3 121.9)"/>
<circle cx="409.8" cy="122.1" r="0.6" fill="#c8e020" opacity="0.25"/>
<circle cx="409.7" cy="122.3" r="0.6" fill="#c8e020" opacity="0.25"/>
<circle cx="411.4" cy="121.7" r="0.7" fill="#c8e020" opacity="0.25"/>
<ellipse cx="437.8" cy="164.3" rx="1.7" ry="1.1" fill="#c8e020" opacity="0.40" transform="rotate(72 437.8 164.3)"/>
<circle cx="437.5" cy="163.7" r="0.8" fill="#c8e020" opacity="0.25"/>
<circle cx="437.0" cy="164.6" r="0.7" fill="#c8e020" opacity="0.25"/>
<circle cx="438.1" cy="165.3" r="0.6" fill="#c8e020" opacity="0.25"/>
<ellipse cx="433.5" cy="141.3" rx="1.7" ry="1.1" fill="#c8e020" opacity="0.40" transform="rotate(239 433.5 141.3)"/>
<circle cx="433.4" cy="140.9" r="0.7" fill="#c8e020" opacity="0.25"/>
<circle cx="434.0" cy="142.1" r="0.8" fill="#c8e020" opacity="0.25"/>
<circle cx="433.9" cy="141.8" r="0.8" fill="#c8e020" opacity="0.25"/>
<ellipse cx="429.8" cy="130.5" rx="1.7" ry="1.1" fill="#c8e020" opacity="0.40" transform="rotate(335 429.8 130.5)"/>
<circle cx="429.0" cy="129.8" r="0.6" fill="#c8e020" opacity="0.25"/>
<circle cx="430.2" cy="130.9" r="0.7" fill="#c8e020" opacity="0.25"/>
<circle cx="429.7" cy="131.3" r="0.9" fill="#c8e020" opacity="0.25"/>
<ellipse cx="450.1" cy="146.3" rx="1.7" ry="1.1" fill="#c8e020" opacity="0.40" transform="rotate(104 450.1 146.3)"/>
<circle cx="449.3" cy="147.0" r="0.6" fill="#c8e020" opacity="0.25"/>
<circle cx="449.3" cy="146.7" r="0.7" fill="#c8e020" opacity="0.25"/>
<circle cx="449.3" cy="146.6" r="0.8" fill="#c8e020" opacity="0.25"/>
</g></g>
<rect x="382.80" y="137.10" width="37.20" height="37.20" fill="none" stroke="#fff" stroke-width="0.75" stroke-dasharray="1.5 1.1"/>
<g clip-path="url(#cd11)"><rect x="453.1" y="101.7" width="72.2" height="72.0" filter="url(#nG1)"/><rect x="453.1" y="101.7" width="72.2" height="72.0" filter="url(#nGf1)" opacity="0.22"/><g transform="translate(453.1 101.7)" filter="url(#bl07)"><ellipse cx="46.9" cy="33.9" rx="4.0" ry="2.5" fill="#28d838" opacity="0.33" transform="rotate(30 46.9 33.9)"/>
<circle cx="47.3" cy="35.7" r="1.9" fill="#28d838" opacity="0.21"/>
<circle cx="47.6" cy="34.5" r="1.4" fill="#28d838" opacity="0.21"/>
<circle cx="45.8" cy="35.6" r="1.5" fill="#28d838" opacity="0.21"/>
<line x1="46.9" y1="33.9" x2="53.1" y2="37.5" stroke="#28d838" stroke-width="1.4" stroke-linecap="round" opacity="0.23"/>
<line x1="46.9" y1="33.9" x2="49.6" y2="26.5" stroke="#28d838" stroke-width="1.4" stroke-linecap="round" opacity="0.23"/>
<line x1="46.9" y1="33.9" x2="41.0" y2="34.4" stroke="#28d838" stroke-width="1.4" stroke-linecap="round" opacity="0.23"/>
<ellipse cx="23.1" cy="60.6" rx="3.6" ry="2.3" fill="#28d838" opacity="0.28" transform="rotate(-115 23.1 60.6)"/>
<circle cx="22.7" cy="59.3" r="1.5" fill="#28d838" opacity="0.18"/>
<circle cx="25.1" cy="59.7" r="1.6" fill="#28d838" opacity="0.18"/>
<circle cx="21.7" cy="58.9" r="1.5" fill="#28d838" opacity="0.18"/>
<line x1="23.1" y1="60.6" x2="20.6" y2="55.2" stroke="#28d838" stroke-width="1.2" stroke-linecap="round" opacity="0.19"/>
<line x1="23.1" y1="60.6" x2="28.3" y2="61.6" stroke="#28d838" stroke-width="1.2" stroke-linecap="round" opacity="0.19"/>
<line x1="23.1" y1="60.6" x2="26.7" y2="66.8" stroke="#28d838" stroke-width="1.2" stroke-linecap="round" opacity="0.19"/>
<ellipse cx="14.4" cy="5.1" rx="2.8" ry="1.8" fill="#28d838" opacity="0.33" transform="rotate(20 14.4 5.1)"/>
<circle cx="16.1" cy="4.7" r="1.3" fill="#28d838" opacity="0.21"/>
<circle cx="14.0" cy="4.6" r="1.2" fill="#28d838" opacity="0.21"/>
<circle cx="15.6" cy="5.5" r="1.2" fill="#28d838" opacity="0.21"/>
</g></g>
<g clip-path="url(#cd12)"><g transform="translate(526.7 101.7)" filter="url(#bl07)"><ellipse cx="46.9" cy="33.9" rx="3.5" ry="2.8" fill="#0a22f0" opacity="0.50" transform="rotate(161 46.9 33.9)"/>
<ellipse cx="23.1" cy="60.6" rx="5.0" ry="3.3" fill="#0a22f0" opacity="1.00" transform="rotate(100 23.1 60.6)"/>
<ellipse cx="22.4" cy="60.1" rx="2.8" ry="1.8" fill="#2a58ff" opacity="1.00" transform="rotate(100 23.1 60.6)"/>
<ellipse cx="46.2" cy="8.7" rx="6.5" ry="5.2" fill="#0a22f0" opacity="1.00" transform="rotate(80 46.2 8.7)"/>
<ellipse cx="45.2" cy="8.0" rx="3.6" ry="2.9" fill="#2a58ff" opacity="1.00" transform="rotate(80 46.2 8.7)"/>
<ellipse cx="57.8" cy="45.5" rx="3.2" ry="2.9" fill="#0a22f0" opacity="0.90" transform="rotate(0 57.8 45.5)"/>
<ellipse cx="57.3" cy="45.2" rx="1.8" ry="1.6" fill="#2a58ff" opacity="0.90" transform="rotate(0 57.8 45.5)"/>
</g></g>
<g clip-path="url(#cd13)"><rect x="600.4" y="101.7" width="72.2" height="72.0" filter="url(#nR1)"/><rect x="600.4" y="101.7" width="72.2" height="72.0" filter="url(#nH1)" opacity="0.7"/><rect x="600.4" y="101.7" width="72.2" height="72.0" filter="url(#nGf1)" opacity="0.2"/><g transform="translate(600.4 101.7)"><g filter="url(#bl04)"><path d="M46.2 34.9 L49.5 37.0 L52.8 39.6 L56.2 41.4 L59.3 44.1 L62.6 46.3 L66.2 48.1 L66.3 47.9 L63.0 45.6 L59.9 43.2 L57.2 40.4 L53.7 38.1 L50.9 35.5 L47.6 33.0ZM56.2 41.2 L58.2 44.0 L59.1 47.5 L60.4 50.9 L60.6 50.8 L59.7 47.3 L59.0 43.8 L57.1 40.6ZM48.1 34.0 L48.1 31.7 L48.7 29.0 L48.4 26.3 L47.4 23.9 L46.0 21.8 L44.3 19.9 L44.1 20.1 L45.4 22.2 L46.5 24.5 L47.0 26.8 L47.0 29.1 L46.2 31.2 L45.8 33.8ZM48.2 26.2 L46.6 24.6 L45.0 22.9 L43.0 21.7 L42.9 21.9 L44.6 23.4 L45.9 25.1 L47.3 26.9ZM47.1 32.8 L43.9 32.6 L41.3 33.3 L38.7 33.5 L36.1 32.9 L33.7 31.5 L31.2 30.1 L31.0 30.3 L33.3 32.1 L35.5 33.9 L38.3 34.9 L41.4 35.1 L44.3 34.6 L46.8 35.1ZM38.2 33.7 L36.1 35.2 L34.1 37.0 L32.7 39.1 L32.9 39.3 L34.6 37.3 L36.6 35.9 L38.8 34.7ZM47.7 34.8 L49.1 33.3 L51.0 32.2 L53.2 31.5 L55.3 30.6 L57.5 30.0 L59.8 30.1 L59.9 29.8 L57.6 29.3 L55.1 29.5 L52.8 30.1 L50.5 30.5 L48.2 31.5 L46.2 33.1ZM53.0 31.3 L55.1 31.5 L57.2 31.2 L59.3 31.1 L59.3 30.9 L57.2 30.6 L55.1 30.6 L53.1 30.2ZM45.8 33.9 L45.9 34.9 L45.6 36.2 L45.4 37.4 L44.9 38.6 L44.1 39.7 L43.7 41.0 L43.9 41.1 L44.8 40.1 L45.8 39.3 L46.6 38.1 L47.3 36.8 L47.9 35.6 L48.1 34.0Z" fill="#e81410" opacity="1.0"/>
<ellipse cx="46.9" cy="33.9" rx="2.0" ry="1.7" fill="#e81410" opacity="1.0"/>
<path d="M46.4 34.7 L49.9 36.7 L53.4 38.6 L56.7 40.8 L56.9 40.6 L53.9 37.9 L50.6 35.6 L47.4 33.2ZM47.7 34.3 L48.6 32.1 L49.8 29.9 L51.0 27.6 L50.8 27.5 L49.1 29.4 L47.5 31.4 L46.2 33.5ZM46.9 33.1 L44.0 33.3 L41.3 33.7 L38.5 33.9 L38.4 34.2 L41.3 34.6 L44.2 34.6 L46.9 34.8ZM47.4 34.7 L49.3 33.2 L51.0 31.7 L52.9 30.3 L52.8 30.1 L50.6 30.9 L48.5 32.1 L46.5 33.2ZM46.1 33.7 L46.0 35.1 L45.9 36.5 L46.1 37.8 L46.3 37.9 L46.8 36.6 L47.3 35.4 L47.8 34.1Z" fill="#ff8a1e" opacity="0.6"/>
<path d="M24.1 60.0 L21.6 56.5 L18.4 54.3 L15.6 51.2 L12.2 49.2 L8.8 46.8 L5.1 45.3 L5.0 45.5 L8.5 47.5 L11.5 50.0 L14.8 52.4 L17.1 55.4 L20.3 58.1 L22.1 61.3ZM15.6 51.4 L12.9 49.1 L10.4 46.5 L8.5 43.4 L8.3 43.5 L9.9 46.8 L12.2 49.6 L14.8 52.2ZM22.5 61.7 L25.6 63.3 L28.4 65.3 L30.7 68.3 L33.5 70.8 L36.3 72.9 L38.6 75.8 L38.8 75.7 L37.0 72.5 L34.2 69.9 L31.7 67.3 L29.9 64.3 L26.9 61.7 L23.7 59.6ZM31.6 68.2 L34.0 65.8 L35.7 62.8 L36.5 59.6 L36.3 59.6 L35.1 62.7 L33.2 65.3 L30.8 67.4ZM22.0 61.0 L22.6 62.3 L23.1 63.2 L23.3 64.4 L23.3 65.9 L23.7 67.1 L24.0 68.5 L24.2 68.5 L24.4 67.1 L24.4 65.7 L24.7 64.6 L24.9 63.2 L24.5 61.6 L24.2 60.3ZM24.2 61.2 L24.7 59.7 L25.5 58.0 L26.0 56.5 L26.6 54.7 L26.7 53.0 L26.3 51.3 L26.1 51.4 L25.9 53.0 L25.5 54.6 L24.7 55.9 L23.8 57.4 L22.9 58.6 L22.1 60.1Z" fill="#e81410" opacity="1.0"/>
<ellipse cx="23.1" cy="60.6" rx="2.0" ry="1.7" fill="#e81410" opacity="1.0"/>
<path d="M23.9 60.3 L22.0 56.7 L20.2 53.2 L18.8 49.5 L18.6 49.5 L19.4 53.5 L20.8 57.3 L22.3 61.0ZM22.9 61.5 L26.5 62.2 L30.1 62.9 L33.7 63.6 L33.8 63.3 L30.3 62.1 L26.9 60.9 L23.3 59.8ZM22.4 61.1 L23.2 62.1 L24.0 63.1 L24.8 64.2 L25.0 64.2 L24.8 62.8 L24.4 61.5 L23.9 60.2ZM23.9 61.0 L24.3 59.3 L24.7 57.7 L25.0 56.0 L24.8 55.9 L23.9 57.4 L23.1 58.9 L22.3 60.3Z" fill="#ff8a1e" opacity="0.6"/>
</g><g filter="url(#bl07)" opacity="0.92"><ellipse cx="46.9" cy="33.9" rx="3.5" ry="2.8" fill="#0a22f0" opacity="0.50" transform="rotate(161 46.9 33.9)"/>
<ellipse cx="23.1" cy="60.6" rx="5.0" ry="3.3" fill="#0a22f0" opacity="1.00" transform="rotate(100 23.1 60.6)"/>
<ellipse cx="22.4" cy="60.1" rx="2.8" ry="1.8" fill="#2a58ff" opacity="1.00" transform="rotate(100 23.1 60.6)"/>
<ellipse cx="46.2" cy="8.7" rx="6.5" ry="5.2" fill="#0a22f0" opacity="1.00" transform="rotate(80 46.2 8.7)"/>
<ellipse cx="45.2" cy="8.0" rx="3.6" ry="2.9" fill="#2a58ff" opacity="1.00" transform="rotate(80 46.2 8.7)"/>
<ellipse cx="57.8" cy="45.5" rx="3.2" ry="2.9" fill="#0a22f0" opacity="0.90" transform="rotate(0 57.8 45.5)"/>
<ellipse cx="57.3" cy="45.2" rx="1.8" ry="1.6" fill="#2a58ff" opacity="0.90" transform="rotate(0 57.8 45.5)"/>
</g><g filter="url(#bl07)" style="mix-blend-mode:screen"><ellipse cx="46.9" cy="33.9" rx="4.0" ry="2.5" fill="#28d838" opacity="0.33" transform="rotate(30 46.9 33.9)"/>
<circle cx="47.3" cy="35.7" r="1.9" fill="#28d838" opacity="0.21"/>
<circle cx="47.6" cy="34.5" r="1.4" fill="#28d838" opacity="0.21"/>
<circle cx="45.8" cy="35.6" r="1.5" fill="#28d838" opacity="0.21"/>
<line x1="46.9" y1="33.9" x2="53.1" y2="37.5" stroke="#28d838" stroke-width="1.4" stroke-linecap="round" opacity="0.23"/>
<line x1="46.9" y1="33.9" x2="49.6" y2="26.5" stroke="#28d838" stroke-width="1.4" stroke-linecap="round" opacity="0.23"/>
<line x1="46.9" y1="33.9" x2="41.0" y2="34.4" stroke="#28d838" stroke-width="1.4" stroke-linecap="round" opacity="0.23"/>
<ellipse cx="23.1" cy="60.6" rx="3.6" ry="2.3" fill="#28d838" opacity="0.28" transform="rotate(-115 23.1 60.6)"/>
<circle cx="22.7" cy="59.3" r="1.5" fill="#28d838" opacity="0.18"/>
<circle cx="25.1" cy="59.7" r="1.6" fill="#28d838" opacity="0.18"/>
<circle cx="21.7" cy="58.9" r="1.5" fill="#28d838" opacity="0.18"/>
<line x1="23.1" y1="60.6" x2="20.6" y2="55.2" stroke="#28d838" stroke-width="1.2" stroke-linecap="round" opacity="0.19"/>
<line x1="23.1" y1="60.6" x2="28.3" y2="61.6" stroke="#28d838" stroke-width="1.2" stroke-linecap="round" opacity="0.19"/>
<line x1="23.1" y1="60.6" x2="26.7" y2="66.8" stroke="#28d838" stroke-width="1.2" stroke-linecap="round" opacity="0.19"/>
<ellipse cx="14.4" cy="5.1" rx="2.8" ry="1.8" fill="#28d838" opacity="0.33" transform="rotate(20 14.4 5.1)"/>
<circle cx="16.1" cy="4.7" r="1.3" fill="#28d838" opacity="0.21"/>
<circle cx="14.0" cy="4.6" r="1.2" fill="#28d838" opacity="0.21"/>
<circle cx="15.6" cy="5.5" r="1.2" fill="#28d838" opacity="0.21"/>
</g></g></g>
<rect x="363.80" y="176.80" width="14.00" height="70.30" fill="#fff" stroke="#4a3a3a" stroke-width="0.9" />
<text x="373.50" y="211.90" font-size="7.4" font-weight="bold" text-anchor="middle" fill="#000" transform="rotate(-90 373.50 211.90)" >3 dpi</text>
<rect x="379.30" y="175.30" width="72.20" height="72.00" fill="#000" stroke="none" stroke-width="1" />
<rect x="453.10" y="175.30" width="72.20" height="72.00" fill="#000" stroke="none" stroke-width="1" />
<rect x="526.70" y="175.30" width="72.20" height="72.00" fill="#000" stroke="none" stroke-width="1" />
<rect x="600.40" y="175.30" width="72.20" height="72.00" fill="#000" stroke="none" stroke-width="1" />
<g clip-path="url(#cd20)"><rect x="379.3" y="175.3" width="72.2" height="72.0" filter="url(#nRo2)"/><rect x="379.3" y="175.3" width="72.2" height="72.0" filter="url(#nH2)"/><g filter="url(#bl03)"><path d="M407.2 188.1 L406.1 188.8 L405.2 189.7 L404.5 190.6 L403.6 191.3 L402.6 192.0 L401.7 192.9 L401.9 193.1 L402.8 192.3 L403.9 191.8 L404.9 191.1 L405.8 190.2 L406.7 189.5 L407.7 189.0ZM404.7 190.5 L403.6 190.5 L402.6 190.8 L401.5 190.8 L401.5 191.1 L402.6 191.2 L403.7 191.1 L404.7 191.2ZM407.3 189.0 L408.2 189.2 L409.1 189.6 L410.0 190.1 L410.9 190.7 L411.9 191.1 L413.0 191.2 L413.0 191.0 L412.0 190.7 L411.2 190.2 L410.4 189.5 L409.5 189.0 L408.6 188.4 L407.6 188.1ZM410.5 190.1 L411.0 189.4 L411.9 188.9 L412.5 188.2 L412.3 188.0 L411.6 188.6 L410.8 188.9 L410.0 189.5ZM407.9 188.6 L407.9 188.1 L407.9 187.7 L407.8 187.1 L407.6 186.8 L407.5 186.5 L407.5 186.1 L407.3 186.0 L407.1 186.4 L407.0 186.9 L407.2 187.4 L407.1 187.7 L407.0 188.1 L406.9 188.5ZM407.1 188.9 L407.5 189.3 L407.9 189.7 L408.1 190.3 L408.3 191.1 L408.7 191.7 L409.1 192.2 L409.3 192.1 L409.1 191.5 L408.8 190.8 L408.8 190.2 L408.6 189.5 L408.3 188.8 L407.8 188.2Z" fill="#e81410" opacity="1.0"/>
<ellipse cx="407.4" cy="188.5" rx="0.7" ry="0.6" fill="#e81410" opacity="1.0"/>
<path d="M407.3 188.2 L406.2 188.7 L405.1 189.2 L404.0 189.8 L404.1 190.0 L405.3 189.6 L406.4 189.3 L407.6 188.9ZM407.3 188.9 L408.3 189.1 L409.3 189.5 L410.3 189.7 L410.4 189.5 L409.4 189.1 L408.5 188.6 L407.5 188.2ZM407.8 188.5 L407.7 188.1 L407.7 187.7 L407.6 187.3 L407.4 187.2 L407.2 187.6 L407.1 188.1 L407.0 188.6ZM407.1 188.7 L407.4 189.3 L407.8 189.9 L408.2 190.4 L408.4 190.3 L408.2 189.7 L408.0 189.0 L407.8 188.4Z" fill="#ff8a1e" opacity="0.6"/>
<path d="M388.0 192.1 L388.7 193.3 L389.6 194.5 L390.7 195.3 L391.5 196.3 L392.0 197.7 L392.9 198.7 L393.1 198.5 L392.3 197.4 L392.0 196.1 L391.2 194.9 L390.1 193.9 L389.5 192.8 L388.9 191.6ZM390.8 195.4 L392.0 195.7 L393.1 196.2 L394.1 196.9 L394.2 196.7 L393.4 195.8 L392.2 195.2 L391.0 194.8ZM388.5 192.4 L389.5 192.2 L390.5 191.9 L391.6 191.7 L392.5 191.4 L393.5 191.2 L394.5 191.3 L394.6 191.0 L393.6 190.8 L392.5 190.9 L391.4 191.1 L390.4 191.2 L389.4 191.3 L388.4 191.4ZM391.4 191.7 L392.3 191.8 L393.2 192.1 L394.1 192.3 L394.2 192.0 L393.3 191.7 L392.5 191.3 L391.6 191.0ZM388.0 191.7 L387.7 192.4 L387.6 193.0 L387.4 193.6 L387.1 194.2 L386.7 194.9 L386.6 195.6 L386.8 195.6 L387.1 195.0 L387.5 194.5 L388.0 194.0 L388.3 193.4 L388.6 192.6 L388.9 192.1Z" fill="#e81410" opacity="1.0"/>
<ellipse cx="388.4" cy="191.9" rx="0.7" ry="0.6" fill="#e81410" opacity="1.0"/>
<path d="M388.1 192.1 L389.0 193.2 L390.0 194.2 L391.0 195.1 L391.2 194.9 L390.3 193.9 L389.4 192.8 L388.8 191.7ZM388.6 192.2 L389.5 191.7 L390.4 191.2 L391.3 190.7 L391.2 190.5 L390.2 190.7 L389.2 191.1 L388.3 191.5ZM388.1 191.8 L387.9 192.4 L387.8 193.1 L387.7 193.8 L387.9 193.9 L388.2 193.3 L388.5 192.6 L388.8 192.0Z" fill="#ff8a1e" opacity="0.6"/>
<path d="M399.7 211.7 L400.1 209.3 L401.4 206.9 L402.1 204.4 L402.1 201.9 L402.9 199.5 L404.3 197.3 L404.1 197.2 L402.6 199.3 L401.6 201.7 L401.4 204.4 L400.6 206.7 L399.3 208.8 L398.7 211.5ZM402.1 204.2 L401.1 202.1 L399.7 200.2 L398.5 198.3 L398.3 198.4 L399.3 200.4 L400.6 202.4 L401.4 204.5ZM398.8 211.4 L398.4 212.3 L398.0 213.4 L397.8 214.4 L397.6 215.5 L397.7 216.5 L397.6 217.5 L397.9 217.5 L398.1 216.5 L398.2 215.5 L398.5 214.5 L398.7 213.5 L399.2 212.7 L399.7 211.8ZM397.8 214.5 L397.9 215.3 L397.7 216.2 L397.5 217.1 L397.7 217.2 L398.1 216.4 L398.4 215.5 L398.5 214.5ZM399.1 211.1 L398.3 211.3 L397.4 211.7 L396.6 212.1 L395.8 212.6 L395.3 213.3 L394.9 214.1 L395.1 214.2 L395.6 213.5 L396.2 213.0 L397.0 212.7 L397.7 212.4 L398.5 212.2 L399.3 212.1ZM398.7 211.7 L398.9 212.4 L399.1 213.2 L399.2 213.9 L399.3 214.8 L399.6 215.4 L399.8 216.2 L400.0 216.1 L400.1 215.4 L399.8 214.6 L399.8 213.9 L399.8 213.1 L399.8 212.3 L399.7 211.5ZM399.0 212.0 L399.6 212.3 L400.2 212.6 L400.8 213.0 L401.4 213.2 L401.8 213.6 L402.2 214.2 L402.4 214.2 L402.2 213.5 L401.8 212.9 L401.2 212.4 L400.6 212.0 L400.1 211.6 L399.5 211.2Z" fill="#e81410" opacity="1.0"/>
<ellipse cx="399.2" cy="211.6" rx="0.7" ry="0.6" fill="#e81410" opacity="1.0"/>
<path d="M399.6 211.7 L400.4 209.3 L401.3 206.9 L402.2 204.5 L402.0 204.4 L400.9 206.7 L399.8 209.0 L398.9 211.5ZM398.9 211.4 L398.5 212.4 L398.2 213.4 L398.0 214.5 L398.3 214.5 L398.7 213.6 L399.1 212.6 L399.6 211.8ZM399.1 211.2 L398.3 211.6 L397.5 212.0 L396.8 212.5 L396.9 212.7 L397.7 212.4 L398.5 212.2 L399.4 212.0ZM398.9 211.8 L399.4 212.4 L399.9 213.0 L400.5 213.6 L400.7 213.4 L400.3 212.7 L399.9 212.1 L399.6 211.4ZM399.1 212.0 L399.8 212.1 L400.5 212.2 L401.2 212.3 L401.2 212.1 L400.6 211.7 L399.9 211.5 L399.4 211.2Z" fill="#ff8a1e" opacity="0.6"/>
<path d="M419.2 195.9 L419.2 196.9 L419.4 197.8 L419.7 198.5 L419.7 199.4 L419.8 200.2 L419.9 201.1 L420.2 201.1 L420.2 200.2 L420.3 199.4 L420.3 198.5 L420.2 197.6 L420.1 196.8 L420.2 196.0ZM420.2 196.1 L420.2 195.4 L420.4 194.8 L420.6 194.1 L420.7 193.5 L421.1 192.9 L421.4 192.3 L421.2 192.2 L420.8 192.7 L420.3 193.2 L419.9 193.9 L419.6 194.5 L419.4 195.2 L419.2 195.9Z" fill="#e81410" opacity="0.8"/>
<ellipse cx="419.7" cy="196.0" rx="0.7" ry="0.6" fill="#e81410" opacity="0.8"/>
<path d="M419.3 195.9 L419.2 196.7 L419.1 197.6 L419.1 198.5 L419.4 198.5 L419.6 197.7 L419.9 196.9 L420.1 196.0ZM420.1 196.0 L420.0 195.3 L420.1 194.7 L420.1 194.0 L419.9 193.9 L419.6 194.5 L419.4 195.2 L419.3 196.0Z" fill="#ff8a1e" opacity="0.6"/>
<path d="M420.5 213.0 L419.7 213.0 L418.8 212.9 L418.0 212.8 L417.2 212.5 L416.4 212.2 L415.5 212.1 L415.5 212.3 L416.3 212.6 L417.0 213.0 L417.8 213.4 L418.7 213.6 L419.5 213.9 L420.4 214.0ZM420.0 213.3 L419.9 213.8 L419.4 214.5 L419.2 215.1 L418.9 215.8 L418.7 216.5 L418.7 217.2 L418.9 217.2 L419.1 216.5 L419.4 216.0 L419.8 215.4 L420.1 214.8 L420.6 214.4 L420.9 213.6Z" fill="#e81410" opacity="1.0"/>
<ellipse cx="420.4" cy="213.5" rx="0.7" ry="0.6" fill="#e81410" opacity="1.0"/>
<path d="M420.6 213.1 L419.8 212.9 L419.0 212.6 L418.2 212.3 L418.1 212.5 L418.7 213.0 L419.5 213.4 L420.3 213.8ZM420.1 213.4 L419.9 214.1 L419.9 214.8 L420.0 215.5 L420.2 215.5 L420.4 214.8 L420.6 214.2 L420.8 213.6Z" fill="#ff8a1e" opacity="0.6"/>
<path d="M410.9 206.5 L411.7 206.8 L412.6 206.9 L413.5 206.8 L414.1 206.5 L414.9 206.4 L415.6 206.2 L415.6 205.9 L414.8 206.0 L414.1 206.0 L413.3 206.2 L412.6 206.1 L411.9 205.9 L411.4 205.6ZM411.0 205.5 L410.5 205.7 L410.0 205.9 L409.4 205.9 L408.8 205.9 L408.2 205.8 L407.6 205.8 L407.6 206.0 L408.2 206.2 L408.7 206.4 L409.3 206.6 L410.0 206.7 L410.6 206.6 L411.2 206.5Z" fill="#e81410" opacity="0.9"/>
<ellipse cx="411.1" cy="206.0" rx="0.7" ry="0.6" fill="#e81410" opacity="0.9"/>
<path d="M410.9 206.3 L411.6 206.8 L412.3 207.1 L413.0 207.4 L413.1 207.2 L412.5 206.7 L411.9 206.2 L411.4 205.7ZM411.1 205.6 L410.5 205.8 L409.9 206.0 L409.4 206.2 L409.4 206.4 L410.0 206.5 L410.6 206.4 L411.2 206.4Z" fill="#ff8a1e" opacity="0.6"/>
<path d="M448.5 220.8 L447.1 220.8 L445.7 220.6 L444.3 220.0 L442.8 219.6 L441.3 219.2 L439.8 219.2 L439.8 219.5 L441.3 219.6 L442.7 220.1 L444.1 220.6 L445.4 221.2 L446.9 221.5 L448.5 221.7ZM444.4 220.0 L443.3 219.3 L442.4 218.3 L441.3 217.5 L441.1 217.7 L442.1 218.6 L442.9 219.6 L444.0 220.5ZM448.5 221.7 L449.3 221.6 L450.2 221.5 L451.0 221.1 L451.7 220.8 L452.4 220.3 L453.0 219.9 L452.9 219.7 L452.2 220.0 L451.4 220.3 L450.7 220.6 L450.0 220.8 L449.2 220.8 L448.5 220.8ZM448.1 221.3 L448.1 222.3 L448.3 223.3 L448.7 224.1 L449.1 225.0 L449.8 225.6 L450.4 226.3 L450.6 226.2 L450.1 225.4 L449.5 224.6 L449.3 223.8 L448.9 223.0 L448.9 222.2 L449.0 221.3ZM448.8 223.7 L448.1 224.3 L447.6 224.9 L447.0 225.5 L447.2 225.7 L447.9 225.2 L448.5 224.7 L449.2 224.2Z" fill="#e81410" opacity="1.0"/>
<ellipse cx="448.5" cy="221.3" rx="0.6" ry="0.5" fill="#e81410" opacity="1.0"/>
<path d="M448.6 220.9 L447.2 220.7 L445.8 220.2 L444.4 219.5 L444.3 219.8 L445.6 220.6 L446.9 221.2 L448.4 221.6ZM448.6 221.6 L449.4 221.3 L450.1 221.0 L450.8 220.6 L450.7 220.4 L449.9 220.6 L449.2 220.8 L448.4 221.0ZM448.2 221.2 L448.0 222.1 L447.9 223.1 L448.0 224.0 L448.2 224.0 L448.3 223.1 L448.6 222.2 L448.8 221.4Z" fill="#ff8a1e" opacity="0.6"/>
<path d="M427.3 220.1 L426.8 219.6 L426.3 219.2 L425.7 218.9 L425.0 218.7 L424.4 218.7 L423.8 218.7 L423.8 218.9 L424.4 219.1 L425.0 219.2 L425.5 219.4 L426.0 219.8 L426.4 220.2 L426.7 220.6ZM427.1 220.7 L427.8 220.5 L428.5 220.3 L429.0 219.9 L429.7 219.7 L430.3 219.2 L430.7 218.6 L430.5 218.5 L430.0 219.0 L429.5 219.3 L428.9 219.4 L428.2 219.7 L427.6 219.8 L426.9 219.9ZM426.6 220.5 L427.0 221.6 L427.4 222.7 L427.9 223.8 L428.1 225.0 L428.7 226.0 L428.9 227.2 L429.2 227.2 L429.1 226.0 L428.5 224.8 L428.4 223.7 L428.1 222.5 L427.7 221.4 L427.4 220.2ZM427.9 223.8 L428.2 224.9 L428.8 225.9 L429.5 226.7 L429.7 226.5 L429.1 225.6 L428.6 224.7 L428.5 223.7Z" fill="#e81410" opacity="1.0"/>
<ellipse cx="427.0" cy="220.3" rx="0.6" ry="0.5" fill="#e81410" opacity="1.0"/>
<path d="M427.3 220.2 L427.0 219.7 L426.7 219.1 L426.3 218.6 L426.1 218.7 L426.4 219.3 L426.5 219.9 L426.7 220.5ZM426.9 220.7 L427.6 220.7 L428.3 220.8 L429.0 220.7 L429.1 220.5 L428.4 220.4 L427.7 220.2 L427.1 220.0ZM426.7 220.3 L426.7 221.5 L426.6 222.7 L426.7 223.9 L426.9 223.9 L427.0 222.7 L427.2 221.6 L427.3 220.3Z" fill="#ff8a1e" opacity="0.6"/>
<path d="M441.5 206.7 L442.2 205.9 L442.5 205.1 L443.1 204.3 L443.4 203.5 L443.8 202.6 L444.4 201.8 L444.2 201.7 L443.5 202.4 L443.0 203.2 L442.6 204.1 L442.0 204.7 L441.5 205.6 L440.9 206.2ZM443.2 204.2 L443.1 203.4 L443.1 202.5 L443.1 201.7 L442.8 201.7 L442.7 202.5 L442.5 203.3 L442.6 204.2ZM440.8 206.6 L441.4 207.7 L441.7 208.8 L442.1 210.1 L442.7 211.1 L443.4 212.1 L443.7 213.2 L443.9 213.2 L443.8 212.0 L443.2 210.9 L442.6 209.8 L442.4 208.6 L442.1 207.4 L441.6 206.3ZM442.0 209.9 L441.9 211.0 L442.1 212.2 L442.6 213.2 L442.8 213.1 L442.5 212.0 L442.5 211.0 L442.7 210.0ZM441.4 206.1 L440.7 205.8 L440.0 205.4 L439.2 205.1 L438.6 205.1 L437.8 204.8 L437.1 204.7 L437.0 204.9 L437.7 205.2 L438.3 205.6 L439.2 205.7 L439.7 206.1 L440.3 206.5 L441.0 206.9Z" fill="#e81410" opacity="1.0"/>
<ellipse cx="441.2" cy="206.5" rx="0.6" ry="0.5" fill="#e81410" opacity="1.0"/>
<path d="M441.5 206.6 L441.9 205.7 L442.2 204.8 L442.5 204.0 L442.3 203.9 L441.8 204.6 L441.4 205.5 L440.9 206.3ZM441.0 206.7 L441.9 207.6 L442.9 208.3 L443.9 208.9 L444.1 208.7 L443.1 207.9 L442.2 207.1 L441.4 206.2ZM441.4 206.1 L440.6 205.9 L439.9 205.6 L439.1 205.5 L439.1 205.8 L439.8 206.0 L440.4 206.4 L441.0 206.8Z" fill="#ff8a1e" opacity="0.6"/>
<path d="M449.8 191.5 L450.0 189.9 L450.3 188.4 L450.7 186.9 L451.1 185.4 L452.0 184.2 L453.2 183.1 L453.1 182.9 L451.8 183.8 L450.7 185.1 L450.1 186.7 L449.5 188.2 L449.1 189.8 L448.8 191.4ZM450.6 186.5 L449.5 185.7 L448.5 184.7 L447.7 183.5 L447.5 183.6 L448.1 184.9 L449.1 186.0 L450.2 187.0ZM449.4 191.9 L450.6 191.8 L451.8 192.2 L453.2 192.6 L454.4 192.8 L455.8 193.3 L457.1 193.4 L457.1 193.2 L455.8 192.9 L454.7 192.3 L453.3 191.9 L452.1 191.4 L450.8 191.0 L449.3 190.9ZM453.6 192.4 L454.0 191.4 L454.8 190.4 L455.3 189.3 L455.1 189.2 L454.5 190.2 L453.6 191.0 L452.9 192.1ZM448.9 191.6 L449.1 192.3 L449.3 192.9 L449.3 193.8 L449.4 194.6 L449.6 195.4 L449.9 196.1 L450.2 196.0 L450.0 195.2 L450.0 194.5 L450.0 193.7 L450.1 193.0 L450.0 192.1 L449.8 191.3ZM448.8 191.4 L448.8 192.3 L448.8 193.2 L448.5 194.1 L448.5 195.0 L448.2 196.0 L448.2 197.0 L448.5 197.0 L448.6 196.0 L449.0 195.2 L449.2 194.2 L449.6 193.5 L449.7 192.4 L449.8 191.5ZM449.5 191.0 L448.0 190.4 L446.6 190.3 L445.2 189.6 L443.8 189.2 L442.5 188.4 L441.4 187.4 L441.2 187.6 L442.2 188.7 L443.5 189.6 L444.9 190.3 L446.2 191.0 L447.9 191.3 L449.2 191.9ZM445.4 189.8 L445.0 188.5 L444.6 187.3 L444.6 185.9 L444.4 185.9 L444.2 187.3 L444.4 188.7 L444.7 190.0Z" fill="#e81410" opacity="1.0"/>
<ellipse cx="449.3" cy="191.4" rx="0.7" ry="0.6" fill="#e81410" opacity="1.0"/>
<path d="M449.7 191.3 L449.1 189.8 L448.4 188.4 L447.7 186.9 L447.5 187.0 L448.0 188.5 L448.5 190.0 L449.0 191.6ZM449.4 191.8 L450.7 191.5 L452.0 191.0 L453.3 190.6 L453.2 190.4 L451.9 190.6 L450.6 190.9 L449.3 191.0ZM449.0 191.6 L449.4 192.3 L449.9 193.0 L450.4 193.5 L450.6 193.4 L450.2 192.7 L449.9 192.0 L449.7 191.3ZM449.0 191.3 L448.7 192.2 L448.3 193.1 L448.1 194.0 L448.3 194.1 L448.8 193.2 L449.3 192.5 L449.7 191.6ZM449.3 191.0 L447.8 191.1 L446.3 191.2 L444.8 191.1 L444.8 191.3 L446.3 191.6 L447.8 191.8 L449.3 191.8Z" fill="#ff8a1e" opacity="0.6"/>
<path d="M436.2 226.8 L435.1 226.5 L433.9 226.1 L432.7 226.0 L431.5 226.2 L430.4 226.4 L429.2 226.7 L429.3 226.9 L430.5 226.7 L431.6 226.7 L432.8 226.7 L433.9 226.8 L434.8 227.3 L435.9 227.7ZM433.0 226.1 L432.3 225.5 L431.8 224.6 L431.5 223.6 L431.3 223.6 L431.4 224.7 L431.8 225.7 L432.5 226.6ZM436.4 227.6 L437.0 227.0 L437.5 226.4 L438.3 226.0 L439.0 225.4 L439.7 224.9 L440.4 224.4 L440.3 224.2 L439.5 224.6 L438.7 225.0 L437.9 225.4 L437.2 225.8 L436.4 226.3 L435.7 226.9ZM435.6 227.2 L435.5 227.9 L435.5 228.6 L435.4 229.4 L435.6 230.2 L435.8 230.9 L435.9 231.6 L436.1 231.6 L436.2 230.8 L436.1 230.1 L436.1 229.4 L436.3 228.8 L436.4 228.0 L436.5 227.3Z" fill="#e81410" opacity="1.0"/>
<ellipse cx="436.1" cy="227.2" rx="0.7" ry="0.6" fill="#e81410" opacity="1.0"/>
<path d="M436.2 226.9 L435.1 226.5 L434.1 226.1 L433.0 225.6 L432.9 225.9 L433.9 226.5 L434.9 227.1 L435.9 227.6ZM436.3 227.5 L436.9 226.9 L437.6 226.3 L438.1 225.6 L437.9 225.5 L437.3 226.0 L436.5 226.4 L435.8 227.0ZM435.7 227.1 L435.5 227.8 L435.4 228.6 L435.3 229.3 L435.5 229.3 L435.8 228.7 L436.1 228.0 L436.4 227.4Z" fill="#ff8a1e" opacity="0.6"/>
<path d="M430.6 229.9 L430.7 230.5 L430.4 231.3 L430.3 232.0 L430.2 232.8 L430.2 233.6 L430.2 234.3 L430.4 234.4 L430.6 233.6 L430.7 232.9 L431.0 232.2 L431.2 231.5 L431.5 230.8 L431.6 230.0ZM431.1 229.4 L430.0 229.6 L428.9 229.5 L427.8 229.1 L426.6 228.9 L425.4 228.8 L424.2 228.9 L424.2 229.1 L425.4 229.2 L426.5 229.4 L427.6 229.7 L428.6 230.2 L429.9 230.4 L431.2 230.4ZM427.4 229.2 L426.9 230.0 L426.1 230.6 L425.1 231.0 L425.2 231.2 L426.2 231.0 L427.2 230.5 L428.0 229.6ZM431.2 229.5 L429.8 229.2 L428.4 229.0 L427.0 228.8 L425.5 228.9 L424.1 229.4 L422.9 230.1 L423.0 230.3 L424.3 229.8 L425.6 229.4 L427.0 229.5 L428.3 229.8 L429.7 230.1 L431.0 230.4ZM427.2 228.9 L426.1 228.2 L425.1 227.5 L424.2 226.6 L424.0 226.7 L424.8 227.8 L425.8 228.6 L426.8 229.4ZM431.6 230.1 L432.0 229.1 L432.7 228.2 L433.5 227.4 L434.6 226.9 L435.7 226.5 L436.8 225.9 L436.7 225.7 L435.6 226.1 L434.4 226.4 L433.2 226.8 L432.2 227.6 L431.3 228.6 L430.7 229.7ZM433.6 227.4 L434.4 226.6 L435.1 225.8 L435.7 224.8 L435.5 224.7 L434.8 225.5 L434.0 226.2 L433.1 226.8ZM431.1 230.4 L432.3 230.3 L433.3 229.9 L434.2 229.6 L435.3 229.6 L436.4 229.4 L437.4 229.0 L437.3 228.8 L436.3 229.0 L435.3 229.1 L434.2 229.0 L433.1 229.2 L432.0 229.5 L431.1 229.4ZM433.9 229.5 L434.5 230.3 L435.1 231.1 L435.8 231.7 L436.0 231.5 L435.4 230.8 L434.9 230.0 L434.5 229.1Z" fill="#e81410" opacity="1.0"/>
<ellipse cx="431.1" cy="229.9" rx="0.7" ry="0.6" fill="#e81410" opacity="1.0"/>
<path d="M430.7 230.0 L430.9 230.7 L430.9 231.4 L431.0 232.2 L431.2 232.2 L431.4 231.4 L431.5 230.7 L431.5 229.9ZM430.9 229.6 L430.0 230.2 L429.0 230.7 L427.9 231.1 L427.9 231.4 L429.1 231.2 L430.2 230.8 L431.3 230.3ZM431.2 229.6 L429.8 229.3 L428.4 229.1 L427.0 229.0 L426.9 229.2 L428.3 229.6 L429.7 229.9 L431.0 230.3ZM431.5 230.0 L431.7 228.8 L432.0 227.7 L432.4 226.5 L432.2 226.4 L431.6 227.5 L431.1 228.6 L430.7 229.9ZM431.1 230.3 L432.2 230.2 L433.3 230.0 L434.3 229.8 L434.3 229.5 L433.2 229.6 L432.2 229.6 L431.1 229.6Z" fill="#ff8a1e" opacity="0.6"/>
<path d="M416.9 230.3 L416.4 229.7 L415.9 229.2 L415.2 228.7 L414.6 228.6 L414.1 228.1 L413.5 227.7 L413.4 227.9 L413.9 228.4 L414.3 228.9 L415.0 229.3 L415.5 229.7 L415.9 230.2 L416.2 230.7ZM416.9 230.7 L417.2 230.0 L417.4 229.2 L417.5 228.5 L417.6 227.7 L417.5 227.0 L417.1 226.3 L416.9 226.4 L417.1 227.1 L417.1 227.8 L416.9 228.4 L416.8 229.1 L416.5 229.7 L416.2 230.3ZM416.5 230.9 L417.6 231.1 L418.8 231.3 L420.0 231.4 L421.1 231.6 L422.3 232.0 L423.5 232.1 L423.5 231.8 L422.3 231.6 L421.3 231.2 L420.1 230.8 L418.9 230.6 L417.8 230.4 L416.6 230.1ZM419.9 231.3 L420.8 231.9 L421.7 232.5 L422.7 232.9 L422.8 232.7 L421.9 232.1 L421.0 231.5 L420.2 230.9ZM416.1 230.5 L416.1 231.3 L416.1 232.1 L416.2 232.9 L416.3 233.7 L416.5 234.5 L416.7 235.2 L416.9 235.2 L416.9 234.4 L416.8 233.6 L416.7 232.8 L416.8 232.1 L416.8 231.3 L417.0 230.5ZM416.2 233.0 L416.7 233.5 L417.0 234.1 L417.3 234.8 L417.5 234.7 L417.4 234.0 L417.1 233.3 L416.7 232.7ZM416.4 230.1 L415.5 230.4 L414.2 230.4 L413.1 230.8 L412.0 231.3 L411.1 232.0 L410.2 232.6 L410.3 232.8 L411.3 232.3 L412.3 231.6 L413.3 231.3 L414.4 231.0 L415.4 231.2 L416.7 230.9ZM413.3 230.8 L412.4 230.4 L411.6 229.8 L410.6 229.4 L410.5 229.7 L411.4 230.1 L412.1 230.8 L413.1 231.3Z" fill="#e81410" opacity="1.0"/>
<ellipse cx="416.5" cy="230.5" rx="0.5" ry="0.5" fill="#e81410" opacity="1.0"/>
<path d="M416.8 230.3 L416.3 229.8 L415.8 229.3 L415.3 228.9 L415.1 229.0 L415.5 229.6 L415.9 230.2 L416.3 230.7ZM416.9 230.6 L417.0 229.9 L417.1 229.2 L417.2 228.5 L417.0 228.4 L416.7 229.0 L416.4 229.7 L416.2 230.4ZM416.5 230.8 L417.7 230.9 L418.9 230.9 L420.1 230.9 L420.1 230.6 L418.9 230.5 L417.7 230.4 L416.6 230.2ZM416.2 230.5 L416.4 231.3 L416.5 232.1 L416.7 232.9 L416.9 232.9 L417.0 232.1 L416.9 231.2 L416.9 230.5ZM416.5 230.2 L415.4 230.5 L414.3 230.9 L413.2 231.4 L413.3 231.7 L414.4 231.3 L415.5 231.1 L416.6 230.8Z" fill="#ff8a1e" opacity="0.6"/>
<path d="M422.5 229.5 L421.9 228.1 L421.4 226.8 L421.3 225.2 L420.9 223.7 L420.3 222.2 L419.3 221.0 L419.1 221.2 L419.9 222.5 L420.4 223.9 L420.6 225.4 L420.6 226.8 L421.1 228.4 L421.5 229.9ZM421.3 225.5 L422.1 224.4 L422.8 223.1 L423.2 221.8 L423.0 221.7 L422.4 223.0 L421.6 224.0 L420.7 225.1ZM421.9 230.2 L423.2 230.3 L424.6 230.3 L425.7 229.9 L426.9 229.9 L428.1 230.2 L429.2 230.9 L429.4 230.7 L428.3 229.9 L427.1 229.4 L425.8 229.2 L424.4 229.5 L423.3 229.4 L422.0 229.2ZM425.8 229.9 L427.0 229.6 L428.0 229.0 L428.9 228.3 L428.8 228.1 L427.7 228.6 L426.7 229.1 L425.7 229.2ZM421.6 229.4 L421.2 230.1 L420.4 230.9 L419.9 231.6 L419.4 232.4 L418.7 233.0 L418.0 233.7 L418.2 233.9 L419.0 233.3 L419.7 232.8 L420.4 232.1 L421.1 231.4 L421.8 230.8 L422.4 230.0Z" fill="#e81410" opacity="1.0"/>
<ellipse cx="422.0" cy="229.7" rx="0.7" ry="0.6" fill="#e81410" opacity="1.0"/>
<path d="M422.4 229.6 L422.0 228.2 L421.8 226.6 L421.4 225.1 L421.1 225.2 L421.3 226.7 L421.3 228.2 L421.6 229.8ZM421.8 230.1 L423.0 230.5 L424.2 231.0 L425.4 231.4 L425.5 231.1 L424.4 230.5 L423.3 229.9 L422.2 229.3ZM421.7 229.4 L421.1 230.2 L420.6 231.0 L420.2 231.9 L420.4 232.0 L421.0 231.3 L421.6 230.6 L422.3 230.0Z" fill="#ff8a1e" opacity="0.6"/>
</g><g filter="url(#bl04)"><ellipse cx="407.4" cy="188.5" rx="2.6" ry="1.8" fill="#0a22f0" opacity="0.32" transform="rotate(16 407.4 188.5)"/>
<ellipse cx="388.4" cy="191.9" rx="2.1" ry="1.8" fill="#0a22f0" opacity="0.24" transform="rotate(107 388.4 191.9)"/>
<ellipse cx="399.2" cy="211.6" rx="2.3" ry="1.5" fill="#0a22f0" opacity="0.35" transform="rotate(134 399.2 211.6)"/>
<ellipse cx="411.5" cy="217.2" rx="2.6" ry="1.4" fill="#0a22f0" opacity="1.00" transform="rotate(100 411.5 217.2)"/>
<ellipse cx="411.1" cy="216.9" rx="1.4" ry="0.8" fill="#2a58ff" opacity="1.00" transform="rotate(100 411.5 217.2)"/>
<ellipse cx="404.8" cy="202.3" rx="0.8" ry="0.7" fill="#0a22f0" opacity="0.56" transform="rotate(0 404.8 202.3)"/>
<ellipse cx="448.6" cy="220.8" rx="1.9" ry="1.4" fill="#0a22f0" opacity="0.90" transform="rotate(11 448.6 220.8)"/>
<ellipse cx="448.3" cy="220.7" rx="1.1" ry="0.8" fill="#2a58ff" opacity="0.90" transform="rotate(11 448.6 220.8)"/>
<ellipse cx="426.8" cy="220.0" rx="1.9" ry="1.8" fill="#0a22f0" opacity="0.90" transform="rotate(50 426.8 220.0)"/>
<ellipse cx="426.5" cy="219.8" rx="1.0" ry="1.0" fill="#2a58ff" opacity="0.90" transform="rotate(50 426.8 220.0)"/>
<ellipse cx="450.3" cy="192.0" rx="1.9" ry="1.5" fill="#0a22f0" opacity="0.90" transform="rotate(158 450.3 192.0)"/>
<ellipse cx="450.0" cy="191.8" rx="1.0" ry="0.8" fill="#2a58ff" opacity="0.90" transform="rotate(158 450.3 192.0)"/>
<ellipse cx="422.6" cy="230.6" rx="2.2" ry="1.5" fill="#0a22f0" opacity="0.90" transform="rotate(37 422.6 230.6)"/>
<ellipse cx="422.3" cy="230.4" rx="1.2" ry="0.8" fill="#2a58ff" opacity="0.90" transform="rotate(37 422.6 230.6)"/>
<ellipse cx="434.3" cy="241.8" rx="1.8" ry="1.6" fill="#0a22f0" opacity="0.76" transform="rotate(152 434.3 241.8)"/>
<ellipse cx="434.0" cy="241.6" rx="1.0" ry="0.9" fill="#2a58ff" opacity="0.76" transform="rotate(152 434.3 241.8)"/>
<ellipse cx="445.6" cy="182.9" rx="1.9" ry="1.4" fill="#0a22f0" opacity="0.81" transform="rotate(159 445.6 182.9)"/>
<ellipse cx="445.4" cy="182.7" rx="1.1" ry="0.8" fill="#2a58ff" opacity="0.81" transform="rotate(159 445.6 182.9)"/>
<ellipse cx="438.8" cy="182.2" rx="1.9" ry="1.3" fill="#0a22f0" opacity="0.70" transform="rotate(44 438.8 182.2)"/>
<ellipse cx="438.5" cy="182.0" rx="1.1" ry="0.7" fill="#2a58ff" opacity="0.70" transform="rotate(44 438.8 182.2)"/>
<ellipse cx="438.7" cy="204.5" rx="1.6" ry="1.1" fill="#0a22f0" opacity="0.85" transform="rotate(150 438.7 204.5)"/>
<ellipse cx="438.5" cy="204.3" rx="0.9" ry="0.6" fill="#2a58ff" opacity="0.85" transform="rotate(150 438.7 204.5)"/>
<ellipse cx="435.8" cy="185.7" rx="2.1" ry="1.5" fill="#0a22f0" opacity="0.84" transform="rotate(52 435.8 185.7)"/>
<ellipse cx="435.5" cy="185.5" rx="1.1" ry="0.8" fill="#2a58ff" opacity="0.84" transform="rotate(52 435.8 185.7)"/>
<ellipse cx="444.5" cy="199.3" rx="1.6" ry="1.4" fill="#0a22f0" opacity="0.76" transform="rotate(123 444.5 199.3)"/>
<ellipse cx="444.2" cy="199.1" rx="0.9" ry="0.8" fill="#2a58ff" opacity="0.76" transform="rotate(123 444.5 199.3)"/>
<ellipse cx="450.4" cy="204.7" rx="2.0" ry="1.6" fill="#0a22f0" opacity="0.80" transform="rotate(96 450.4 204.7)"/>
<ellipse cx="450.1" cy="204.5" rx="1.1" ry="0.9" fill="#2a58ff" opacity="0.80" transform="rotate(96 450.4 204.7)"/>
<ellipse cx="400.2" cy="184.6" rx="2.2" ry="1.5" fill="#0a22f0" opacity="0.68" transform="rotate(97 400.2 184.6)"/>
<ellipse cx="399.9" cy="184.4" rx="1.2" ry="0.8" fill="#2a58ff" opacity="0.68" transform="rotate(97 400.2 184.6)"/>
<ellipse cx="442.2" cy="200.6" rx="1.8" ry="1.5" fill="#0a22f0" opacity="0.69" transform="rotate(130 442.2 200.6)"/>
<ellipse cx="441.9" cy="200.4" rx="1.0" ry="0.8" fill="#2a58ff" opacity="0.69" transform="rotate(130 442.2 200.6)"/>
<ellipse cx="404.0" cy="180.6" rx="1.6" ry="1.4" fill="#0a22f0" opacity="0.81" transform="rotate(169 404.0 180.6)"/>
<ellipse cx="403.7" cy="180.4" rx="0.9" ry="0.7" fill="#2a58ff" opacity="0.81" transform="rotate(169 404.0 180.6)"/>
<ellipse cx="429.2" cy="233.6" rx="2.0" ry="1.8" fill="#0a22f0" opacity="0.77" transform="rotate(40 429.2 233.6)"/>
<ellipse cx="428.9" cy="233.4" rx="1.1" ry="1.0" fill="#2a58ff" opacity="0.77" transform="rotate(40 429.2 233.6)"/>
<ellipse cx="409.0" cy="234.6" rx="1.8" ry="1.3" fill="#0a22f0" opacity="0.74" transform="rotate(169 409.0 234.6)"/>
<ellipse cx="408.7" cy="234.4" rx="1.0" ry="0.7" fill="#2a58ff" opacity="0.74" transform="rotate(169 409.0 234.6)"/>
<ellipse cx="387.8" cy="235.5" rx="2.1" ry="1.7" fill="#0a22f0" opacity="0.72" transform="rotate(102 387.8 235.5)"/>
<ellipse cx="387.5" cy="235.3" rx="1.2" ry="1.0" fill="#2a58ff" opacity="0.72" transform="rotate(102 387.8 235.5)"/>
<ellipse cx="401.3" cy="202.4" rx="1.6" ry="1.3" fill="#0a22f0" opacity="0.78" transform="rotate(139 401.3 202.4)"/>
<ellipse cx="401.0" cy="202.3" rx="0.9" ry="0.7" fill="#2a58ff" opacity="0.78" transform="rotate(139 401.3 202.4)"/>
</g><g filter="url(#bl04)" style="mix-blend-mode:screen"><ellipse cx="407.4" cy="188.5" rx="2.9" ry="1.8" fill="#28d838" opacity="0.63" transform="rotate(150 407.4 188.5)"/>
<circle cx="407.6" cy="189.4" r="1.1" fill="#28d838" opacity="0.40"/>
<circle cx="408.8" cy="188.2" r="1.5" fill="#28d838" opacity="0.40"/>
<circle cx="406.2" cy="189.5" r="1.0" fill="#28d838" opacity="0.40"/>
<line x1="407.4" y1="188.5" x2="403.2" y2="191.0" stroke="#28d838" stroke-width="1.0" stroke-linecap="round" opacity="0.43"/>
<line x1="407.4" y1="188.5" x2="411.5" y2="189.3" stroke="#28d838" stroke-width="1.0" stroke-linecap="round" opacity="0.43"/>
<line x1="407.4" y1="188.5" x2="406.6" y2="184.0" stroke="#28d838" stroke-width="1.0" stroke-linecap="round" opacity="0.43"/>
<ellipse cx="388.4" cy="191.9" rx="1.9" ry="1.2" fill="#28d838" opacity="0.53" transform="rotate(50 388.4 191.9)"/>
<circle cx="387.5" cy="191.9" r="0.7" fill="#28d838" opacity="0.34"/>
<circle cx="388.1" cy="192.9" r="0.9" fill="#28d838" opacity="0.34"/>
<circle cx="388.9" cy="191.9" r="0.7" fill="#28d838" opacity="0.34"/>
<line x1="388.4" y1="191.9" x2="390.9" y2="194.9" stroke="#28d838" stroke-width="0.6" stroke-linecap="round" opacity="0.36"/>
<line x1="388.4" y1="191.9" x2="391.5" y2="190.8" stroke="#28d838" stroke-width="0.6" stroke-linecap="round" opacity="0.36"/>
<line x1="388.4" y1="191.9" x2="387.2" y2="195.4" stroke="#28d838" stroke-width="0.6" stroke-linecap="round" opacity="0.36"/>
<ellipse cx="399.2" cy="211.6" rx="2.5" ry="1.6" fill="#28d838" opacity="0.63" transform="rotate(-65 399.2 211.6)"/>
<circle cx="399.2" cy="213.0" r="0.8" fill="#28d838" opacity="0.40"/>
<circle cx="399.5" cy="210.6" r="1.3" fill="#28d838" opacity="0.40"/>
<circle cx="399.4" cy="212.7" r="1.3" fill="#28d838" opacity="0.40"/>
<line x1="399.2" y1="211.6" x2="400.9" y2="207.9" stroke="#28d838" stroke-width="0.8" stroke-linecap="round" opacity="0.43"/>
<line x1="399.2" y1="211.6" x2="398.0" y2="214.9" stroke="#28d838" stroke-width="0.8" stroke-linecap="round" opacity="0.43"/>
<line x1="399.2" y1="211.6" x2="394.5" y2="213.3" stroke="#28d838" stroke-width="0.8" stroke-linecap="round" opacity="0.43"/>
<ellipse cx="419.7" cy="196.0" rx="1.5" ry="0.9" fill="#28d838" opacity="0.33" transform="rotate(100 419.7 196.0)"/>
<circle cx="419.1" cy="195.3" r="0.6" fill="#28d838" opacity="0.21"/>
<circle cx="419.2" cy="196.1" r="0.6" fill="#28d838" opacity="0.21"/>
<circle cx="419.2" cy="196.3" r="0.5" fill="#28d838" opacity="0.21"/>
<line x1="419.7" y1="196.0" x2="419.3" y2="198.4" stroke="#28d838" stroke-width="0.5" stroke-linecap="round" opacity="0.23"/>
<line x1="419.7" y1="196.0" x2="420.1" y2="193.9" stroke="#28d838" stroke-width="0.5" stroke-linecap="round" opacity="0.23"/>
<ellipse cx="448.5" cy="221.3" rx="2.1" ry="1.3" fill="#b8e020" opacity="0.46" transform="rotate(331 448.5 221.3)"/>
<circle cx="447.6" cy="220.7" r="0.8" fill="#b8e020" opacity="0.29"/>
<circle cx="448.2" cy="220.9" r="0.8" fill="#b8e020" opacity="0.29"/>
<circle cx="449.5" cy="220.5" r="0.9" fill="#b8e020" opacity="0.29"/>
<ellipse cx="427.0" cy="220.3" rx="2.1" ry="1.3" fill="#b8e020" opacity="0.46" transform="rotate(180 427.0 220.3)"/>
<circle cx="427.8" cy="221.2" r="0.8" fill="#b8e020" opacity="0.29"/>
<circle cx="426.5" cy="220.2" r="0.8" fill="#b8e020" opacity="0.29"/>
<circle cx="427.7" cy="220.0" r="0.8" fill="#b8e020" opacity="0.29"/>
<ellipse cx="441.2" cy="206.5" rx="2.1" ry="1.3" fill="#b8e020" opacity="0.46" transform="rotate(320 441.2 206.5)"/>
<circle cx="441.9" cy="206.6" r="1.0" fill="#b8e020" opacity="0.29"/>
<circle cx="440.6" cy="206.9" r="1.0" fill="#b8e020" opacity="0.29"/>
<circle cx="440.6" cy="205.6" r="1.0" fill="#b8e020" opacity="0.29"/>
<ellipse cx="436.1" cy="227.2" rx="2.1" ry="1.3" fill="#b8e020" opacity="0.46" transform="rotate(168 436.1 227.2)"/>
<circle cx="436.2" cy="226.7" r="0.8" fill="#b8e020" opacity="0.29"/>
<circle cx="436.8" cy="226.4" r="0.9" fill="#b8e020" opacity="0.29"/>
<circle cx="435.5" cy="228.0" r="0.9" fill="#b8e020" opacity="0.29"/>
<ellipse cx="422.0" cy="229.7" rx="2.1" ry="1.3" fill="#b8e020" opacity="0.46" transform="rotate(82 422.0 229.7)"/>
<circle cx="422.9" cy="229.8" r="0.7" fill="#b8e020" opacity="0.29"/>
<circle cx="421.8" cy="230.4" r="0.8" fill="#b8e020" opacity="0.29"/>
<circle cx="423.2" cy="229.2" r="0.8" fill="#b8e020" opacity="0.29"/>
</g></g>
<rect x="385.10" y="183.70" width="37.20" height="37.20" fill="none" stroke="#fff" stroke-width="0.75" stroke-dasharray="1.5 1.1"/>
<g clip-path="url(#cd21)"><rect x="453.1" y="175.3" width="72.2" height="72.0" filter="url(#nG2)"/><rect x="453.1" y="175.3" width="72.2" height="72.0" filter="url(#nGf2)" opacity="0.22"/><g transform="translate(453.1 175.3)" filter="url(#bl07)"><ellipse cx="43.3" cy="9.4" rx="5.7" ry="3.6" fill="#28d838" opacity="0.63" transform="rotate(150 43.3 9.4)"/>
<circle cx="43.7" cy="11.0" r="2.2" fill="#28d838" opacity="0.40"/>
<circle cx="46.0" cy="8.8" r="2.9" fill="#28d838" opacity="0.40"/>
<circle cx="40.9" cy="11.3" r="2.0" fill="#28d838" opacity="0.40"/>
<line x1="43.3" y1="9.4" x2="35.0" y2="14.2" stroke="#28d838" stroke-width="1.9" stroke-linecap="round" opacity="0.43"/>
<line x1="43.3" y1="9.4" x2="51.3" y2="10.8" stroke="#28d838" stroke-width="1.9" stroke-linecap="round" opacity="0.43"/>
<line x1="43.3" y1="9.4" x2="41.8" y2="0.5" stroke="#28d838" stroke-width="1.9" stroke-linecap="round" opacity="0.43"/>
<ellipse cx="6.5" cy="15.9" rx="3.6" ry="2.3" fill="#28d838" opacity="0.53" transform="rotate(50 6.5 15.9)"/>
<circle cx="4.6" cy="15.9" r="1.4" fill="#28d838" opacity="0.34"/>
<circle cx="5.8" cy="17.9" r="1.8" fill="#28d838" opacity="0.34"/>
<circle cx="7.4" cy="15.9" r="1.3" fill="#28d838" opacity="0.34"/>
<line x1="6.5" y1="15.9" x2="11.3" y2="21.6" stroke="#28d838" stroke-width="1.2" stroke-linecap="round" opacity="0.36"/>
<line x1="6.5" y1="15.9" x2="12.5" y2="13.7" stroke="#28d838" stroke-width="1.2" stroke-linecap="round" opacity="0.36"/>
<line x1="6.5" y1="15.9" x2="4.0" y2="22.7" stroke="#28d838" stroke-width="1.2" stroke-linecap="round" opacity="0.36"/>
<ellipse cx="27.4" cy="54.2" rx="4.8" ry="3.1" fill="#28d838" opacity="0.63" transform="rotate(-65 27.4 54.2)"/>
<circle cx="27.3" cy="56.9" r="1.5" fill="#28d838" opacity="0.40"/>
<circle cx="27.9" cy="52.2" r="2.4" fill="#28d838" opacity="0.40"/>
<circle cx="27.7" cy="56.4" r="2.5" fill="#28d838" opacity="0.40"/>
<line x1="27.4" y1="54.2" x2="30.8" y2="47.0" stroke="#28d838" stroke-width="1.6" stroke-linecap="round" opacity="0.43"/>
<line x1="27.4" y1="54.2" x2="25.1" y2="60.6" stroke="#28d838" stroke-width="1.6" stroke-linecap="round" opacity="0.43"/>
<line x1="27.4" y1="54.2" x2="18.3" y2="57.5" stroke="#28d838" stroke-width="1.6" stroke-linecap="round" opacity="0.43"/>
<ellipse cx="67.1" cy="23.8" rx="2.8" ry="1.8" fill="#28d838" opacity="0.33" transform="rotate(100 67.1 23.8)"/>
<circle cx="66.0" cy="22.5" r="1.2" fill="#28d838" opacity="0.21"/>
<circle cx="66.1" cy="24.0" r="1.1" fill="#28d838" opacity="0.21"/>
<circle cx="66.2" cy="24.4" r="1.0" fill="#28d838" opacity="0.21"/>
<line x1="67.1" y1="23.8" x2="66.3" y2="28.5" stroke="#28d838" stroke-width="1.0" stroke-linecap="round" opacity="0.23"/>
<line x1="67.1" y1="23.8" x2="67.8" y2="19.9" stroke="#28d838" stroke-width="1.0" stroke-linecap="round" opacity="0.23"/>
</g></g>
<g clip-path="url(#cd22)"><g transform="translate(526.7 175.3)" filter="url(#bl07)"><ellipse cx="43.3" cy="9.4" rx="5.0" ry="3.4" fill="#0a22f0" opacity="0.32" transform="rotate(16 43.3 9.4)"/>
<ellipse cx="6.5" cy="15.9" rx="4.0" ry="3.5" fill="#0a22f0" opacity="0.24" transform="rotate(107 6.5 15.9)"/>
<ellipse cx="27.4" cy="54.2" rx="4.5" ry="2.9" fill="#0a22f0" opacity="0.35" transform="rotate(134 27.4 54.2)"/>
<ellipse cx="51.3" cy="65.0" rx="5.0" ry="2.8" fill="#0a22f0" opacity="1.00" transform="rotate(100 51.3 65.0)"/>
<ellipse cx="50.5" cy="64.5" rx="2.8" ry="1.5" fill="#2a58ff" opacity="1.00" transform="rotate(100 51.3 65.0)"/>
<ellipse cx="38.3" cy="36.1" rx="1.5" ry="1.4" fill="#0a22f0" opacity="0.56" transform="rotate(0 38.3 36.1)"/>
</g></g>
<g clip-path="url(#cd23)"><rect x="600.4" y="175.3" width="72.2" height="72.0" filter="url(#nR2)"/><rect x="600.4" y="175.3" width="72.2" height="72.0" filter="url(#nH2)" opacity="0.7"/><rect x="600.4" y="175.3" width="72.2" height="72.0" filter="url(#nGf2)" opacity="0.2"/><g transform="translate(600.4 175.3)"><g filter="url(#bl04)"><path d="M42.7 8.4 L40.6 9.8 L38.9 11.6 L37.6 13.3 L35.9 14.8 L33.9 16.1 L32.3 17.9 L32.5 18.1 L34.4 16.7 L36.5 15.8 L38.5 14.5 L40.3 12.7 L42.0 11.3 L43.9 10.4ZM38.1 13.3 L35.9 13.4 L33.9 13.8 L31.8 13.9 L31.8 14.2 L33.9 14.4 L36.0 14.2 L38.0 14.5ZM43.0 10.5 L44.8 10.9 L46.6 11.6 L48.3 12.4 L50.1 13.5 L52.1 14.3 L54.1 14.4 L54.1 14.2 L52.2 13.6 L50.6 12.6 L49.2 11.3 L47.4 10.1 L45.7 9.0 L43.7 8.3ZM49.2 12.2 L50.3 11.0 L51.9 10.1 L53.1 8.7 L52.9 8.5 L51.5 9.6 L49.9 10.2 L48.4 11.4ZM44.5 9.6 L44.5 8.5 L44.3 7.7 L44.1 6.6 L43.7 6.1 L43.4 5.4 L43.5 4.5 L43.2 4.5 L42.7 5.2 L42.6 6.1 L42.7 7.2 L42.5 7.7 L42.4 8.6 L42.2 9.2ZM42.5 10.2 L43.4 10.9 L44.1 11.7 L44.6 12.9 L45.1 14.3 L45.8 15.5 L46.8 16.5 L47.0 16.3 L46.5 15.1 L46.0 13.8 L46.0 12.6 L45.8 11.3 L45.1 9.8 L44.2 8.6Z" fill="#e81410" opacity="1.0"/>
<ellipse cx="43.3" cy="9.4" rx="2.0" ry="1.7" fill="#e81410" opacity="1.0"/>
<path d="M43.0 8.6 L41.0 9.7 L38.8 10.6 L36.8 11.9 L36.9 12.1 L39.1 11.4 L41.4 10.9 L43.7 10.2ZM43.1 10.2 L45.0 10.6 L46.9 11.2 L48.9 11.5 L49.0 11.3 L47.2 10.4 L45.5 9.4 L43.6 8.6ZM44.2 9.3 L43.9 8.6 L43.8 7.8 L43.6 6.9 L43.3 6.9 L42.9 7.7 L42.6 8.5 L42.5 9.4ZM42.6 9.8 L43.3 10.8 L44.1 12.0 L45.0 13.0 L45.2 12.9 L44.8 11.6 L44.6 10.3 L44.1 9.0Z" fill="#ff8a1e" opacity="0.6"/>
<path d="M5.5 16.4 L6.9 18.8 L8.7 21.1 L10.7 22.5 L12.3 24.5 L13.4 27.1 L15.3 29.0 L15.5 28.8 L14.0 26.6 L13.4 24.1 L11.9 21.7 L9.8 19.8 L8.6 17.7 L7.5 15.3ZM11.2 22.7 L13.4 23.2 L15.6 24.1 L17.5 25.5 L17.7 25.3 L16.0 23.6 L13.8 22.4 L11.5 21.6ZM6.7 17.0 L8.6 16.6 L10.6 16.1 L12.6 15.6 L14.4 15.0 L16.3 14.5 L18.3 14.6 L18.3 14.4 L16.4 13.7 L14.3 13.9 L12.2 14.2 L10.3 14.4 L8.3 14.5 L6.3 14.7ZM12.3 15.5 L14.0 15.6 L15.7 16.3 L17.5 16.5 L17.6 16.3 L15.9 15.7 L14.4 14.8 L12.5 14.3ZM5.4 15.4 L5.0 16.8 L4.8 18.0 L4.4 19.2 L3.8 20.4 L3.2 21.7 L3.1 23.1 L3.3 23.1 L3.9 21.9 L4.7 21.0 L5.6 20.0 L6.4 18.8 L6.9 17.4 L7.6 16.4Z" fill="#e81410" opacity="1.0"/>
<ellipse cx="6.5" cy="15.9" rx="2.0" ry="1.7" fill="#e81410" opacity="1.0"/>
<path d="M5.8 16.4 L7.5 18.5 L9.5 20.4 L11.6 22.1 L11.7 21.9 L10.1 19.8 L8.5 17.7 L7.2 15.4ZM6.9 16.7 L8.5 15.5 L10.2 14.5 L12.0 13.5 L11.9 13.3 L9.9 13.7 L8.0 14.3 L6.1 15.1ZM5.7 15.6 L5.5 16.9 L5.3 18.3 L5.2 19.7 L5.4 19.7 L6.1 18.5 L6.7 17.4 L7.3 16.1Z" fill="#ff8a1e" opacity="0.6"/>
<path d="M28.6 54.4 L29.2 49.7 L31.7 45.2 L33.1 40.1 L33.0 35.3 L34.5 30.6 L37.2 26.4 L37.0 26.3 L33.9 30.2 L32.0 34.9 L31.6 40.1 L30.0 44.6 L27.5 48.7 L26.3 53.9ZM32.9 39.9 L30.9 35.8 L28.2 32.1 L25.8 28.3 L25.6 28.4 L27.7 32.4 L30.1 36.3 L31.8 40.4ZM26.4 53.6 L25.6 55.5 L24.9 57.6 L24.6 59.6 L24.3 61.7 L24.6 63.6 L24.4 65.6 L24.7 65.7 L25.3 63.7 L25.4 61.7 L26.0 59.9 L26.6 58.0 L27.5 56.3 L28.5 54.7ZM24.7 59.7 L24.9 61.4 L24.6 63.1 L24.1 64.9 L24.4 65.0 L25.2 63.4 L25.8 61.6 L25.9 59.7ZM27.2 53.0 L25.5 53.5 L23.8 54.2 L22.4 55.0 L20.8 56.1 L19.7 57.5 L19.1 59.0 L19.3 59.1 L20.4 57.8 L21.6 56.9 L23.0 56.3 L24.6 55.7 L26.1 55.5 L27.7 55.3ZM26.3 54.4 L26.7 55.7 L27.0 57.2 L27.2 58.7 L27.5 60.3 L28.3 61.5 L28.6 63.0 L28.9 63.0 L29.0 61.5 L28.6 59.9 L28.7 58.6 L28.7 57.0 L28.8 55.5 L28.6 53.9ZM26.8 55.2 L28.0 55.7 L29.2 56.3 L30.5 56.9 L31.6 57.3 L32.5 58.1 L33.2 59.2 L33.4 59.2 L33.2 57.8 L32.4 56.6 L31.2 55.6 L30.2 54.8 L29.1 53.9 L28.0 53.1Z" fill="#e81410" opacity="1.0"/>
<ellipse cx="27.4" cy="54.2" rx="2.0" ry="1.7" fill="#e81410" opacity="1.0"/>
<path d="M28.3 54.4 L29.7 49.7 L31.4 45.0 L33.2 40.3 L32.9 40.2 L30.6 44.6 L28.5 49.2 L26.6 53.9ZM26.7 53.8 L25.9 55.7 L25.5 57.7 L25.2 59.7 L25.4 59.8 L26.3 58.0 L27.2 56.2 L28.2 54.5ZM27.2 53.3 L25.6 54.0 L24.1 54.9 L22.8 55.9 L22.9 56.1 L24.5 55.7 L26.1 55.3 L27.7 55.0ZM26.7 54.6 L27.7 55.8 L28.8 56.9 L30.0 57.9 L30.2 57.7 L29.4 56.4 L28.8 55.0 L28.2 53.7ZM27.2 55.0 L28.6 55.2 L29.9 55.3 L31.2 55.4 L31.3 55.2 L30.2 54.4 L28.8 53.9 L27.7 53.3Z" fill="#ff8a1e" opacity="0.6"/>
<path d="M66.0 23.7 L66.0 25.7 L66.5 27.3 L67.0 28.8 L67.2 30.4 L67.4 32.1 L67.7 33.8 L68.0 33.7 L68.1 32.1 L68.3 30.4 L68.4 28.7 L68.2 26.9 L68.0 25.3 L68.3 23.9ZM68.3 24.0 L68.3 22.8 L68.5 21.6 L68.9 20.3 L69.1 19.1 L69.9 17.9 L70.4 16.7 L70.2 16.5 L69.2 17.5 L68.3 18.4 L67.5 19.7 L66.9 20.9 L66.4 22.2 L66.0 23.6Z" fill="#e81410" opacity="0.8"/>
<ellipse cx="67.1" cy="23.8" rx="2.0" ry="1.7" fill="#e81410" opacity="0.8"/>
<path d="M66.3 23.7 L66.2 25.3 L66.0 27.0 L66.1 28.7 L66.4 28.8 L66.9 27.1 L67.5 25.6 L68.0 24.0ZM68.0 23.9 L67.9 22.6 L67.8 21.3 L67.9 19.9 L67.7 19.9 L67.0 21.1 L66.6 22.4 L66.3 23.8Z" fill="#ff8a1e" opacity="0.6"/>
<path d="M68.7 56.6 L67.1 56.7 L65.4 56.5 L63.9 56.4 L62.4 55.9 L60.7 55.3 L59.0 55.2 L59.0 55.5 L60.6 56.0 L61.9 56.9 L63.3 57.7 L65.1 58.2 L66.7 58.7 L68.5 58.9ZM67.5 57.4 L67.3 58.4 L66.6 59.7 L66.1 60.9 L65.5 62.2 L65.2 63.6 L65.3 65.0 L65.6 65.0 L65.9 63.7 L66.6 62.6 L67.3 61.6 L68.1 60.5 L69.0 59.6 L69.7 58.1Z" fill="#e81410" opacity="1.0"/>
<ellipse cx="68.6" cy="57.8" rx="2.0" ry="1.7" fill="#e81410" opacity="1.0"/>
<path d="M68.9 57.0 L67.3 56.5 L65.7 56.1 L64.1 55.5 L64.0 55.7 L65.3 56.8 L66.8 57.8 L68.3 58.6ZM67.8 57.5 L67.6 58.9 L67.6 60.3 L67.8 61.7 L68.1 61.7 L68.5 60.4 L68.9 59.1 L69.4 58.0Z" fill="#ff8a1e" opacity="0.6"/>
<path d="M50.0 44.4 L51.6 45.0 L53.4 45.2 L55.1 44.9 L56.4 44.4 L57.8 44.0 L59.3 43.5 L59.2 43.3 L57.7 43.2 L56.2 43.3 L54.6 43.6 L53.3 43.4 L52.1 43.0 L51.0 42.3ZM50.3 42.2 L49.2 42.5 L48.3 42.9 L47.2 43.1 L46.1 43.0 L44.9 42.9 L43.7 43.0 L43.6 43.3 L44.8 43.6 L45.8 44.1 L46.9 44.5 L48.3 44.7 L49.6 44.5 L50.8 44.5Z" fill="#e81410" opacity="0.9"/>
<ellipse cx="50.5" cy="43.3" rx="2.0" ry="1.7" fill="#e81410" opacity="0.9"/>
<path d="M50.0 44.0 L51.4 44.8 L52.8 45.4 L54.2 46.0 L54.3 45.7 L53.2 44.7 L52.1 43.7 L51.1 42.6ZM50.4 42.5 L49.2 42.8 L48.2 43.3 L47.1 43.8 L47.1 44.0 L48.3 44.2 L49.5 44.1 L50.7 44.2Z" fill="#ff8a1e" opacity="0.6"/>
</g><g filter="url(#bl07)" opacity="0.92"><ellipse cx="43.3" cy="9.4" rx="5.0" ry="3.4" fill="#0a22f0" opacity="0.32" transform="rotate(16 43.3 9.4)"/>
<ellipse cx="6.5" cy="15.9" rx="4.0" ry="3.5" fill="#0a22f0" opacity="0.24" transform="rotate(107 6.5 15.9)"/>
<ellipse cx="27.4" cy="54.2" rx="4.5" ry="2.9" fill="#0a22f0" opacity="0.35" transform="rotate(134 27.4 54.2)"/>
<ellipse cx="51.3" cy="65.0" rx="5.0" ry="2.8" fill="#0a22f0" opacity="1.00" transform="rotate(100 51.3 65.0)"/>
<ellipse cx="50.5" cy="64.5" rx="2.8" ry="1.5" fill="#2a58ff" opacity="1.00" transform="rotate(100 51.3 65.0)"/>
<ellipse cx="38.3" cy="36.1" rx="1.5" ry="1.4" fill="#0a22f0" opacity="0.56" transform="rotate(0 38.3 36.1)"/>
</g><g filter="url(#bl07)" style="mix-blend-mode:screen"><ellipse cx="43.3" cy="9.4" rx="5.7" ry="3.6" fill="#28d838" opacity="0.63" transform="rotate(150 43.3 9.4)"/>
<circle cx="43.7" cy="11.0" r="2.2" fill="#28d838" opacity="0.40"/>
<circle cx="46.0" cy="8.8" r="2.9" fill="#28d838" opacity="0.40"/>
<circle cx="40.9" cy="11.3" r="2.0" fill="#28d838" opacity="0.40"/>
<line x1="43.3" y1="9.4" x2="35.0" y2="14.2" stroke="#28d838" stroke-width="1.9" stroke-linecap="round" opacity="0.43"/>
<line x1="43.3" y1="9.4" x2="51.3" y2="10.8" stroke="#28d838" stroke-width="1.9" stroke-linecap="round" opacity="0.43"/>
<line x1="43.3" y1="9.4" x2="41.8" y2="0.5" stroke="#28d838" stroke-width="1.9" stroke-linecap="round" opacity="0.43"/>
<ellipse cx="6.5" cy="15.9" rx="3.6" ry="2.3" fill="#28d838" opacity="0.53" transform="rotate(50 6.5 15.9)"/>
<circle cx="4.6" cy="15.9" r="1.4" fill="#28d838" opacity="0.34"/>
<circle cx="5.8" cy="17.9" r="1.8" fill="#28d838" opacity="0.34"/>
<circle cx="7.4" cy="15.9" r="1.3" fill="#28d838" opacity="0.34"/>
<line x1="6.5" y1="15.9" x2="11.3" y2="21.6" stroke="#28d838" stroke-width="1.2" stroke-linecap="round" opacity="0.36"/>
<line x1="6.5" y1="15.9" x2="12.5" y2="13.7" stroke="#28d838" stroke-width="1.2" stroke-linecap="round" opacity="0.36"/>
<line x1="6.5" y1="15.9" x2="4.0" y2="22.7" stroke="#28d838" stroke-width="1.2" stroke-linecap="round" opacity="0.36"/>
<ellipse cx="27.4" cy="54.2" rx="4.8" ry="3.1" fill="#28d838" opacity="0.63" transform="rotate(-65 27.4 54.2)"/>
<circle cx="27.3" cy="56.9" r="1.5" fill="#28d838" opacity="0.40"/>
<circle cx="27.9" cy="52.2" r="2.4" fill="#28d838" opacity="0.40"/>
<circle cx="27.7" cy="56.4" r="2.5" fill="#28d838" opacity="0.40"/>
<line x1="27.4" y1="54.2" x2="30.8" y2="47.0" stroke="#28d838" stroke-width="1.6" stroke-linecap="round" opacity="0.43"/>
<line x1="27.4" y1="54.2" x2="25.1" y2="60.6" stroke="#28d838" stroke-width="1.6" stroke-linecap="round" opacity="0.43"/>
<line x1="27.4" y1="54.2" x2="18.3" y2="57.5" stroke="#28d838" stroke-width="1.6" stroke-linecap="round" opacity="0.43"/>
<ellipse cx="67.1" cy="23.8" rx="2.8" ry="1.8" fill="#28d838" opacity="0.33" transform="rotate(100 67.1 23.8)"/>
<circle cx="66.0" cy="22.5" r="1.2" fill="#28d838" opacity="0.21"/>
<circle cx="66.1" cy="24.0" r="1.1" fill="#28d838" opacity="0.21"/>
<circle cx="66.2" cy="24.4" r="1.0" fill="#28d838" opacity="0.21"/>
<line x1="67.1" y1="23.8" x2="66.3" y2="28.5" stroke="#28d838" stroke-width="1.0" stroke-linecap="round" opacity="0.23"/>
<line x1="67.1" y1="23.8" x2="67.8" y2="19.9" stroke="#28d838" stroke-width="1.0" stroke-linecap="round" opacity="0.23"/>
</g></g></g>
<rect x="363.80" y="250.50" width="14.00" height="70.30" fill="#fff" stroke="#4a3a3a" stroke-width="0.9" />
<text x="373.50" y="285.60" font-size="7.4" font-weight="bold" text-anchor="middle" fill="#000" transform="rotate(-90 373.50 285.60)" >5 dpi</text>
<rect x="379.30" y="249.00" width="72.20" height="72.00" fill="#000" stroke="none" stroke-width="1" />
<rect x="453.10" y="249.00" width="72.20" height="72.00" fill="#000" stroke="none" stroke-width="1" />
<rect x="526.70" y="249.00" width="72.20" height="72.00" fill="#000" stroke="none" stroke-width="1" />
<rect x="600.40" y="249.00" width="72.20" height="72.00" fill="#000" stroke="none" stroke-width="1" />
<g clip-path="url(#cd30)"><rect x="379.3" y="249.0" width="72.2" height="72.0" filter="url(#nRo3)"/><rect x="379.3" y="249.0" width="72.2" height="72.0" filter="url(#nH3)"/><g filter="url(#bl03)"><path d="M412.9 278.2 L412.1 276.9 L411.1 275.6 L409.9 274.5 L408.7 273.7 L407.6 272.5 L406.3 271.7 L406.1 271.9 L407.4 272.8 L408.2 274.0 L409.5 275.0 L410.6 276.1 L411.3 277.4 L412.0 278.7ZM409.9 274.5 L408.7 273.7 L407.6 273.1 L406.6 272.1 L406.4 272.2 L407.2 273.4 L408.4 274.2 L409.5 275.1ZM412.1 278.1 L411.3 278.9 L410.7 279.7 L410.1 280.5 L409.4 281.2 L408.6 281.8 L407.7 282.4 L407.9 282.6 L408.8 282.1 L409.7 281.6 L410.5 280.9 L411.3 280.2 L412.0 279.4 L412.7 278.9ZM410.5 280.4 L409.8 279.8 L409.0 279.4 L408.2 278.9 L408.1 279.0 L408.7 279.7 L409.5 280.3 L410.0 280.9ZM412.0 278.3 L411.4 279.9 L411.3 281.5 L411.6 283.0 L411.8 284.6 L412.1 286.0 L412.0 287.6 L412.2 287.6 L412.5 286.1 L412.3 284.5 L412.3 283.0 L412.1 281.4 L412.3 280.0 L412.9 278.7ZM411.6 282.8 L410.8 283.9 L410.0 285.0 L408.9 285.8 L409.0 286.0 L410.3 285.3 L411.3 284.3 L412.2 283.2ZM412.7 278.9 L413.7 278.3 L414.8 277.5 L415.6 276.6 L416.3 275.6 L416.9 274.6 L417.7 273.7 L417.6 273.6 L416.7 274.3 L415.9 275.3 L415.1 276.2 L414.2 277.0 L413.2 277.5 L412.2 278.1ZM415.7 276.3 L415.2 275.3 L415.0 274.2 L414.4 273.3 L414.2 273.4 L414.6 274.4 L414.7 275.4 L415.0 276.5ZM412.3 279.0 L412.9 279.1 L413.5 279.5 L414.2 279.9 L414.8 280.3 L415.3 280.8 L415.8 281.4 L416.0 281.3 L415.7 280.6 L415.3 279.9 L414.6 279.4 L414.0 278.9 L413.4 278.4 L412.6 278.0Z" fill="#e81410" opacity="1.0"/>
<ellipse cx="412.4" cy="278.5" rx="0.7" ry="0.6" fill="#e81410" opacity="1.0"/>
<path d="M412.8 278.4 L412.5 276.9 L412.2 275.4 L411.7 273.9 L411.5 274.0 L411.8 275.5 L411.8 277.0 L412.0 278.6ZM412.3 278.1 L411.4 278.6 L410.4 279.0 L409.5 279.4 L409.6 279.7 L410.6 279.4 L411.6 279.2 L412.6 278.8ZM412.0 278.5 L412.2 280.1 L412.5 281.6 L412.8 283.1 L413.0 283.1 L413.0 281.5 L412.8 280.0 L412.8 278.5ZM412.6 278.8 L413.6 278.1 L414.6 277.4 L415.6 276.8 L415.5 276.6 L414.4 277.0 L413.3 277.5 L412.2 278.2ZM412.3 278.8 L413.0 279.0 L413.8 279.3 L414.5 279.5 L414.6 279.3 L413.9 278.9 L413.3 278.5 L412.6 278.1Z" fill="#ff8a1e" opacity="0.6"/>
<path d="M440.4 281.7 L439.9 279.1 L438.5 276.8 L436.7 274.9 L434.6 273.4 L432.6 271.8 L430.9 269.9 L430.7 270.1 L432.3 272.1 L434.3 273.8 L436.3 275.4 L438.0 277.3 L439.1 279.5 L439.5 281.9ZM436.7 275.5 L438.6 274.2 L440.5 273.0 L442.7 272.3 L442.7 272.1 L440.4 272.5 L438.3 273.7 L436.3 274.9ZM439.5 281.8 L439.5 283.5 L439.8 284.9 L439.9 286.5 L440.3 287.9 L440.4 289.5 L440.5 291.0 L440.7 291.0 L440.8 289.5 L440.9 287.9 L440.5 286.3 L440.6 284.9 L440.3 283.3 L440.5 281.8ZM439.9 286.3 L439.2 287.6 L439.0 288.9 L438.6 290.3 L438.8 290.3 L439.4 289.1 L439.8 287.7 L440.5 286.6ZM440.1 281.3 L439.5 281.3 L438.9 281.0 L438.3 280.7 L437.7 280.3 L437.0 280.1 L436.3 279.9 L436.3 280.1 L436.9 280.5 L437.5 280.8 L437.9 281.2 L438.5 281.7 L439.1 282.1 L439.9 282.3Z" fill="#e81410" opacity="1.0"/>
<ellipse cx="440.0" cy="281.8" rx="0.7" ry="0.6" fill="#e81410" opacity="1.0"/>
<path d="M440.3 281.9 L440.5 279.3 L440.7 276.7 L440.4 274.1 L440.2 274.1 L440.2 276.7 L439.9 279.2 L439.6 281.8ZM439.6 281.9 L440.0 283.4 L440.4 284.9 L441.0 286.4 L441.2 286.3 L440.9 284.8 L440.6 283.3 L440.3 281.8ZM439.9 281.4 L439.3 281.6 L438.6 281.6 L437.9 281.7 L437.9 281.9 L438.6 282.1 L439.3 282.2 L440.0 282.2Z" fill="#ff8a1e" opacity="0.6"/>
<path d="M422.5 263.4 L423.8 263.3 L424.9 262.8 L425.9 262.4 L427.2 262.3 L428.3 262.0 L429.5 262.0 L429.5 261.7 L428.3 261.6 L427.1 261.8 L425.9 261.7 L424.7 262.1 L423.5 262.4 L422.5 262.4ZM425.6 262.2 L426.2 263.2 L426.9 264.0 L427.6 264.8 L427.8 264.7 L427.3 263.7 L426.6 262.8 L426.3 261.9ZM422.4 262.4 L421.5 262.6 L420.4 262.5 L419.3 262.8 L418.4 263.2 L417.4 263.4 L416.4 263.6 L416.4 263.8 L417.5 263.9 L418.5 263.7 L419.6 263.4 L420.5 263.3 L421.4 263.5 L422.5 263.4ZM419.5 262.7 L418.6 262.5 L417.7 262.3 L416.7 262.4 L416.7 262.6 L417.7 262.7 L418.5 263.0 L419.3 263.4ZM422.0 263.1 L422.4 263.6 L422.7 264.3 L423.2 265.0 L423.8 265.4 L424.5 265.6 L425.2 265.6 L425.2 265.4 L424.6 265.2 L424.0 264.9 L423.6 264.4 L423.3 263.9 L423.2 263.3 L422.9 262.6Z" fill="#e81410" opacity="1.0"/>
<ellipse cx="422.5" cy="262.9" rx="0.7" ry="0.6" fill="#e81410" opacity="1.0"/>
<path d="M422.4 263.2 L423.6 263.4 L424.7 263.7 L425.9 263.9 L426.0 263.7 L424.9 263.2 L423.7 262.8 L422.5 262.5ZM422.4 262.5 L421.4 262.6 L420.4 262.8 L419.4 262.9 L419.4 263.1 L420.4 263.3 L421.5 263.2 L422.5 263.2ZM422.1 262.9 L422.3 263.6 L422.5 264.3 L422.8 264.9 L423.0 264.8 L423.0 264.1 L422.9 263.5 L422.8 262.8Z" fill="#ff8a1e" opacity="0.6"/>
<path d="M419.8 272.4 L420.2 273.0 L420.6 273.4 L421.0 274.2 L421.6 274.7 L422.2 275.0 L422.8 275.3 L422.9 275.1 L422.4 274.7 L421.9 274.2 L421.5 273.7 L421.4 273.1 L420.9 272.5 L420.7 271.9ZM420.7 272.3 L420.8 271.6 L420.8 271.0 L420.7 270.5 L420.8 269.9 L421.0 269.5 L421.5 269.0 L421.3 268.8 L420.8 269.1 L420.3 269.6 L420.1 270.3 L420.0 271.0 L419.9 271.5 L419.7 272.1ZM420.3 271.7 L419.9 271.7 L419.3 271.5 L418.8 271.5 L418.3 271.5 L417.7 271.5 L417.2 271.6 L417.2 271.8 L417.7 271.9 L418.2 272.0 L418.7 272.1 L419.2 272.3 L419.6 272.5 L420.2 272.7Z" fill="#e81410" opacity="0.9"/>
<ellipse cx="420.2" cy="272.2" rx="0.7" ry="0.6" fill="#e81410" opacity="0.9"/>
<path d="M419.9 272.4 L420.3 272.9 L420.8 273.4 L421.3 273.9 L421.5 273.8 L421.2 273.2 L420.8 272.6 L420.6 272.0ZM420.6 272.3 L420.8 271.7 L421.0 271.2 L421.1 270.6 L420.9 270.5 L420.5 271.0 L420.2 271.5 L419.9 272.0ZM420.2 271.8 L419.7 271.9 L419.2 272.0 L418.7 272.2 L418.7 272.4 L419.2 272.4 L419.7 272.5 L420.3 272.5Z" fill="#ff8a1e" opacity="0.6"/>
<path d="M429.8 292.7 L430.1 293.6 L430.6 294.3 L431.1 294.7 L431.5 295.4 L432.0 296.0 L432.5 296.6 L432.7 296.5 L432.4 295.8 L432.0 295.1 L431.7 294.4 L431.2 293.8 L430.8 293.1 L430.8 292.5ZM430.4 293.1 L431.2 292.9 L431.8 292.4 L432.4 291.8 L432.7 291.2 L432.9 290.5 L432.9 289.8 L432.7 289.7 L432.4 290.4 L432.2 291.0 L431.8 291.5 L431.3 291.8 L430.7 292.1 L430.2 292.1ZM430.4 292.1 L429.7 292.0 L429.0 291.9 L428.3 292.0 L427.6 291.9 L426.9 291.9 L426.2 291.9 L426.2 292.1 L426.9 292.3 L427.5 292.4 L428.2 292.6 L428.9 292.7 L429.5 292.9 L430.2 293.1Z" fill="#e81410" opacity="1.0"/>
<ellipse cx="430.3" cy="292.6" rx="0.7" ry="0.6" fill="#e81410" opacity="1.0"/>
<path d="M429.9 292.7 L430.1 293.5 L430.5 294.2 L430.8 294.9 L431.0 294.8 L430.9 294.0 L430.8 293.3 L430.7 292.5ZM430.4 293.0 L431.0 292.6 L431.6 292.4 L432.3 292.2 L432.2 291.9 L431.5 291.9 L430.8 292.0 L430.1 292.3ZM430.4 292.2 L429.7 292.2 L429.0 292.1 L428.3 292.0 L428.2 292.2 L428.9 292.5 L429.5 292.8 L430.2 293.0Z" fill="#ff8a1e" opacity="0.6"/>
<path d="M440.9 294.0 L439.9 293.7 L439.1 293.7 L438.3 293.7 L437.4 293.5 L436.6 293.4 L435.7 293.3 L435.7 293.5 L436.5 293.8 L437.3 294.1 L438.1 294.4 L439.0 294.5 L439.9 294.6 L440.5 294.9ZM441.2 294.6 L441.3 294.0 L441.6 293.4 L442.2 292.8 L442.6 292.1 L443.1 291.5 L443.5 290.9 L443.3 290.8 L442.8 291.3 L442.2 291.7 L441.7 292.4 L441.1 292.8 L440.6 293.5 L440.2 294.3Z" fill="#e81410" opacity="1.0"/>
<ellipse cx="440.7" cy="294.5" rx="0.7" ry="0.6" fill="#e81410" opacity="1.0"/>
<path d="M440.9 294.1 L440.1 293.9 L439.3 293.5 L438.5 293.2 L438.4 293.4 L439.0 293.9 L439.8 294.4 L440.5 294.8ZM441.1 294.5 L441.0 293.7 L441.0 293.0 L440.9 292.2 L440.7 292.2 L440.5 292.9 L440.4 293.7 L440.3 294.5Z" fill="#ff8a1e" opacity="0.6"/>
<path d="M408.8 296.8 L409.7 296.7 L410.4 296.4 L411.3 296.3 L412.2 296.1 L413.0 295.7 L413.7 295.3 L413.7 295.1 L412.8 295.3 L412.0 295.6 L411.2 295.6 L410.3 295.6 L409.4 295.8 L408.6 295.8Z" fill="#e81410" opacity="1.0"/>
<ellipse cx="408.7" cy="296.3" rx="0.7" ry="0.6" fill="#e81410" opacity="1.0"/>
<path d="M408.7 296.7 L409.6 296.7 L410.4 296.6 L411.3 296.6 L411.3 296.3 L410.4 296.2 L409.6 296.1 L408.7 296.0Z" fill="#ff8a1e" opacity="0.6"/>
<path d="M384.1 295.0 L382.7 295.3 L381.4 295.8 L380.0 296.2 L378.8 296.8 L377.5 297.2 L376.1 297.3 L376.1 297.5 L377.5 297.6 L378.9 297.3 L380.3 296.8 L381.6 296.4 L382.9 296.1 L384.3 295.9ZM380.0 296.2 L378.9 296.8 L377.8 297.3 L376.6 297.5 L376.6 297.8 L377.9 297.7 L379.1 297.3 L380.3 296.8ZM384.4 295.8 L385.1 295.4 L386.2 295.2 L387.2 294.8 L388.1 294.4 L389.0 293.9 L389.9 293.6 L389.9 293.4 L388.9 293.5 L387.9 293.9 L386.9 294.3 L386.0 294.5 L385.0 294.6 L384.0 295.0ZM387.1 294.9 L388.0 294.7 L388.9 294.5 L389.8 294.6 L389.8 294.4 L388.9 294.1 L387.9 294.2 L387.0 294.3ZM383.8 295.6 L384.2 296.7 L385.0 297.7 L386.0 298.4 L387.0 299.0 L388.1 299.4 L389.2 299.8 L389.3 299.6 L388.3 299.0 L387.2 298.5 L386.3 297.9 L385.4 297.2 L384.9 296.3 L384.6 295.3ZM385.9 298.3 L386.5 299.2 L387.2 299.9 L387.7 300.8 L387.9 300.7 L387.5 299.8 L387.0 298.9 L386.4 298.0Z" fill="#e81410" opacity="1.0"/>
<ellipse cx="384.2" cy="295.4" rx="0.6" ry="0.5" fill="#e81410" opacity="1.0"/>
<path d="M384.2 295.1 L382.8 295.1 L381.4 295.1 L380.0 295.2 L380.0 295.5 L381.4 295.6 L382.8 295.7 L384.2 295.8ZM384.4 295.7 L385.2 295.0 L385.9 294.3 L386.5 293.5 L386.3 293.3 L385.6 294.0 L384.8 294.6 L384.0 295.1ZM383.8 295.5 L384.1 296.6 L384.4 297.7 L384.6 298.9 L384.9 298.8 L384.8 297.7 L384.7 296.5 L384.5 295.4Z" fill="#ff8a1e" opacity="0.6"/>
<path d="M446.5 315.0 L447.7 314.2 L448.6 313.3 L449.6 312.6 L450.8 311.9 L451.9 311.0 L452.6 309.9 L452.4 309.8 L451.5 310.8 L450.5 311.5 L449.3 312.0 L448.2 312.7 L447.1 313.6 L446.0 314.2ZM449.8 312.4 L450.1 311.2 L450.1 309.9 L449.8 308.7 L449.5 308.8 L449.6 310.0 L449.5 311.1 L449.1 312.2ZM445.8 314.6 L445.8 316.0 L446.0 317.2 L445.8 318.6 L445.6 320.1 L446.0 321.3 L445.9 322.7 L446.1 322.7 L446.4 321.4 L446.2 320.0 L446.4 318.7 L446.8 317.4 L446.7 315.9 L446.8 314.6ZM445.8 318.4 L445.1 319.3 L444.1 320.1 L443.2 321.0 L443.4 321.1 L444.4 320.4 L445.4 319.8 L446.4 318.9ZM445.9 314.2 L445.3 314.9 L445.0 315.6 L444.4 316.3 L443.9 316.9 L443.4 317.6 L442.8 318.1 L443.0 318.3 L443.7 317.9 L444.3 317.3 L444.9 316.7 L445.5 316.2 L446.0 315.4 L446.6 315.0ZM446.7 314.5 L446.5 313.7 L446.3 312.9 L446.1 311.9 L445.8 311.2 L445.4 310.3 L444.8 309.7 L444.6 309.8 L445.0 310.6 L445.2 311.3 L445.5 312.2 L445.5 312.9 L445.6 313.8 L445.8 314.7Z" fill="#e81410" opacity="1.0"/>
<ellipse cx="446.3" cy="314.6" rx="0.7" ry="0.6" fill="#e81410" opacity="1.0"/>
<path d="M446.4 315.0 L447.7 314.5 L448.8 313.8 L450.0 313.2 L449.9 313.0 L448.6 313.4 L447.4 313.9 L446.1 314.2ZM445.9 314.6 L446.1 316.0 L446.3 317.4 L446.6 318.7 L446.9 318.6 L446.7 317.3 L446.8 315.9 L446.7 314.5ZM446.1 314.3 L445.4 314.7 L444.7 315.1 L444.0 315.7 L444.1 315.9 L444.9 315.5 L445.7 315.3 L446.5 314.9ZM446.6 314.4 L446.0 313.7 L445.3 313.1 L444.7 312.5 L444.5 312.7 L445.0 313.4 L445.5 314.1 L446.0 314.8Z" fill="#ff8a1e" opacity="0.6"/>
<path d="M386.2 270.9 L386.2 270.1 L386.0 269.4 L385.7 268.6 L385.2 268.1 L384.7 267.5 L384.1 267.2 L383.9 267.3 L384.5 267.8 L384.9 268.4 L385.2 269.0 L385.4 269.6 L385.4 270.3 L385.3 270.9ZM385.4 271.1 L385.9 271.9 L386.3 272.9 L386.8 273.7 L387.0 274.7 L387.4 275.7 L388.0 276.5 L388.2 276.4 L387.7 275.5 L387.5 274.5 L387.3 273.6 L386.9 272.6 L386.7 271.6 L386.1 270.7ZM387.1 273.9 L388.0 273.8 L388.9 273.5 L389.7 273.2 L389.7 273.0 L388.8 273.2 L387.9 273.3 L387.0 273.3ZM385.8 270.5 L384.5 270.5 L383.3 270.9 L382.3 271.4 L381.1 271.8 L379.9 272.2 L379.0 272.9 L379.1 273.1 L380.1 272.5 L381.3 272.3 L382.4 272.0 L383.6 271.5 L384.7 271.2 L385.7 271.3ZM382.1 271.6 L381.6 272.5 L381.0 273.4 L380.7 274.5 L380.9 274.6 L381.4 273.6 L382.0 272.8 L382.6 271.8Z" fill="#e81410" opacity="1.0"/>
<ellipse cx="385.8" cy="270.9" rx="0.6" ry="0.5" fill="#e81410" opacity="1.0"/>
<path d="M386.1 270.9 L386.0 270.2 L385.8 269.4 L385.6 268.7 L385.3 268.8 L385.4 269.5 L385.4 270.2 L385.4 270.9ZM385.5 271.1 L386.1 271.9 L386.8 272.7 L387.4 273.4 L387.6 273.3 L387.1 272.4 L386.6 271.6 L386.0 270.7ZM385.7 270.6 L384.6 271.0 L383.4 271.3 L382.2 271.5 L382.3 271.8 L383.5 271.7 L384.7 271.5 L385.9 271.2Z" fill="#ff8a1e" opacity="0.6"/>
<path d="M440.5 253.5 L439.9 254.0 L439.5 254.5 L439.0 255.0 L438.6 255.5 L438.2 255.9 L437.6 256.3 L437.7 256.5 L438.4 256.2 L438.9 255.9 L439.4 255.3 L439.9 255.0 L440.4 254.5 L440.9 254.3ZM441.1 254.1 L441.5 253.2 L441.9 252.4 L442.5 251.6 L443.0 250.8 L443.5 250.1 L444.2 249.4 L444.1 249.2 L443.3 249.8 L442.6 250.5 L442.0 251.3 L441.4 252.0 L440.9 252.9 L440.4 253.7ZM442.1 251.7 L443.0 252.0 L443.9 252.0 L444.7 252.2 L444.8 252.0 L444.0 251.6 L443.1 251.5 L442.4 251.2ZM440.4 254.1 L440.9 254.8 L441.2 255.7 L441.4 256.5 L441.5 257.5 L441.8 258.5 L442.2 259.3 L442.4 259.3 L442.1 258.3 L442.0 257.4 L442.0 256.5 L441.9 255.5 L441.6 254.6 L441.1 253.7ZM441.5 256.7 L442.2 257.3 L443.0 257.7 L443.7 258.1 L443.8 258.0 L443.2 257.4 L442.5 256.9 L441.9 256.3Z" fill="#e81410" opacity="1.0"/>
<ellipse cx="440.7" cy="253.9" rx="0.6" ry="0.5" fill="#e81410" opacity="1.0"/>
<path d="M440.6 253.6 L440.0 253.9 L439.4 254.2 L438.8 254.5 L438.9 254.7 L439.6 254.5 L440.2 254.4 L440.9 254.2ZM441.0 254.1 L441.5 253.3 L442.0 252.4 L442.2 251.5 L442.0 251.4 L441.6 252.2 L441.1 253.0 L440.5 253.7ZM440.4 254.0 L440.8 254.9 L441.0 255.7 L441.2 256.7 L441.4 256.7 L441.4 255.7 L441.3 254.7 L441.0 253.8Z" fill="#ff8a1e" opacity="0.6"/>
<path d="M391.7 303.6 L392.2 302.9 L393.0 302.3 L394.0 301.8 L394.8 301.2 L395.6 300.4 L396.2 299.6 L396.0 299.4 L395.3 300.2 L394.5 300.8 L393.6 301.4 L392.7 301.7 L391.8 302.2 L391.0 303.1ZM394.1 301.7 L394.3 300.8 L394.5 299.9 L395.0 299.1 L394.8 299.0 L394.2 299.7 L393.8 300.6 L393.5 301.5ZM391.0 303.1 L390.4 304.0 L389.8 304.9 L389.5 305.9 L389.0 306.8 L388.8 307.9 L388.7 308.9 L388.9 308.9 L389.1 307.9 L389.5 307.0 L390.0 306.2 L390.4 305.2 L391.0 304.4 L391.7 303.6ZM389.5 306.0 L389.5 307.0 L389.7 307.8 L389.6 308.7 L389.8 308.8 L390.1 307.9 L390.0 306.9 L390.1 306.0ZM391.5 303.0 L390.6 302.5 L389.5 302.2 L388.4 302.2 L387.4 302.4 L386.4 302.5 L385.4 302.4 L385.4 302.6 L386.4 302.9 L387.4 302.9 L388.5 302.8 L389.5 302.9 L390.3 303.2 L391.1 303.7ZM388.5 302.2 L387.5 302.2 L386.5 302.3 L385.7 302.7 L385.7 302.9 L386.7 302.7 L387.5 302.7 L388.4 302.8Z" fill="#e81410" opacity="1.0"/>
<ellipse cx="391.3" cy="303.4" rx="0.6" ry="0.5" fill="#e81410" opacity="1.0"/>
<path d="M391.5 303.6 L392.3 302.9 L393.1 302.3 L393.9 301.6 L393.7 301.4 L392.8 301.9 L391.9 302.5 L391.1 303.1ZM391.0 303.3 L390.7 304.2 L390.2 305.1 L389.8 306.1 L390.0 306.2 L390.6 305.3 L391.2 304.5 L391.6 303.5ZM391.5 303.1 L390.5 302.7 L389.5 302.3 L388.5 302.1 L388.4 302.3 L389.4 302.7 L390.3 303.2 L391.2 303.7Z" fill="#ff8a1e" opacity="0.6"/>
<path d="M392.3 298.6 L390.9 297.8 L389.2 296.9 L387.5 296.7 L385.9 296.5 L384.2 296.2 L382.5 296.3 L382.5 296.6 L384.2 296.6 L385.8 297.1 L387.5 297.4 L389.1 297.7 L390.4 298.6 L391.8 299.5ZM387.6 296.7 L386.1 296.5 L384.6 296.1 L383.2 295.7 L383.1 295.9 L384.5 296.5 L385.9 297.1 L387.4 297.4ZM392.0 299.6 L393.7 299.7 L395.4 299.4 L396.7 298.6 L398.2 298.1 L399.8 297.9 L401.3 297.5 L401.3 297.2 L399.7 297.5 L398.1 297.5 L396.5 298.0 L395.0 298.6 L393.6 298.8 L392.2 298.5ZM396.9 298.6 L398.0 297.6 L398.9 296.6 L399.9 295.5 L399.8 295.3 L398.6 296.2 L397.6 297.2 L396.4 298.0ZM391.6 299.0 L391.5 299.9 L391.4 300.8 L391.2 301.8 L390.9 302.8 L391.1 303.9 L391.5 304.7 L391.7 304.7 L391.5 303.7 L391.5 302.8 L391.8 302.0 L392.2 301.1 L392.4 300.1 L392.6 299.1Z" fill="#e81410" opacity="1.0"/>
<ellipse cx="392.1" cy="299.0" rx="0.8" ry="0.6" fill="#e81410" opacity="1.0"/>
<path d="M392.2 298.7 L390.6 298.1 L389.1 297.5 L387.5 297.0 L387.4 297.2 L388.9 297.9 L390.4 298.7 L391.9 299.4ZM392.0 299.4 L393.6 299.5 L395.2 299.5 L396.8 299.7 L396.8 299.5 L395.3 299.1 L393.7 298.9 L392.1 298.6ZM391.7 299.0 L391.6 299.9 L391.5 300.9 L391.2 301.8 L391.4 301.9 L391.9 301.0 L392.2 300.1 L392.5 299.1Z" fill="#ff8a1e" opacity="0.6"/>
<path d="M386.4 299.9 L386.8 300.7 L387.2 301.3 L387.5 301.9 L387.5 302.7 L387.4 303.5 L387.5 304.3 L387.7 304.3 L387.8 303.5 L388.0 302.8 L388.1 302.0 L388.0 301.1 L387.6 300.3 L387.3 299.6ZM386.6 299.4 L385.9 300.0 L385.3 300.6 L384.6 301.1 L383.9 301.8 L383.4 302.5 L383.0 303.3 L383.2 303.4 L383.7 302.7 L384.3 302.2 L385.0 301.6 L385.7 301.2 L386.5 300.6 L387.2 300.1ZM387.0 299.3 L385.7 299.1 L384.4 298.5 L383.2 297.7 L381.9 297.3 L380.7 296.4 L379.4 295.9 L379.3 296.1 L380.5 296.8 L381.6 297.7 L383.0 298.3 L384.0 299.1 L385.3 299.9 L386.8 300.2ZM383.3 297.8 L382.4 296.9 L381.5 296.1 L380.7 295.0 L380.5 295.1 L381.1 296.3 L381.9 297.3 L382.8 298.2ZM387.1 300.2 L387.8 299.6 L388.4 298.9 L388.7 298.2 L388.9 297.4 L389.1 296.6 L389.3 295.9 L389.0 295.8 L388.7 296.5 L388.4 297.2 L388.1 297.9 L387.7 298.6 L387.2 299.0 L386.6 299.4Z" fill="#e81410" opacity="1.0"/>
<ellipse cx="386.9" cy="299.8" rx="0.7" ry="0.6" fill="#e81410" opacity="1.0"/>
<path d="M386.6 300.0 L387.2 300.6 L387.9 301.0 L388.5 301.5 L388.7 301.4 L388.2 300.7 L387.6 300.1 L387.2 299.5ZM386.7 299.4 L385.9 299.9 L385.2 300.4 L384.6 301.1 L384.7 301.3 L385.5 300.8 L386.2 300.4 L387.0 300.1ZM387.0 299.4 L385.7 298.9 L384.4 298.3 L383.1 297.7 L383.0 297.9 L384.2 298.7 L385.5 299.4 L386.7 300.1ZM387.0 300.1 L387.7 299.7 L388.4 299.2 L389.0 298.7 L388.9 298.5 L388.1 298.8 L387.4 299.1 L386.7 299.4Z" fill="#ff8a1e" opacity="0.6"/>
<path d="M386.9 296.0 L387.7 296.1 L388.4 296.2 L389.2 296.5 L389.9 296.7 L390.7 297.0 L391.5 297.1 L391.6 296.8 L390.8 296.6 L390.1 296.2 L389.4 295.9 L388.7 295.6 L387.8 295.3 L387.1 295.1ZM386.6 295.3 L385.8 296.5 L385.3 297.7 L384.5 298.9 L384.1 300.2 L383.6 301.3 L382.7 302.4 L382.9 302.6 L383.9 301.6 L384.6 300.4 L385.1 299.1 L385.9 298.1 L386.5 296.8 L387.3 295.8ZM384.7 298.7 L383.6 299.3 L382.6 300.1 L381.7 300.9 L381.8 301.1 L382.9 300.4 L383.9 299.8 L385.0 299.3ZM387.4 295.4 L386.8 294.2 L386.4 292.9 L386.0 291.6 L385.5 290.3 L385.2 289.0 L384.7 287.7 L384.5 287.8 L384.8 289.1 L385.1 290.5 L385.4 291.8 L385.7 293.1 L386.1 294.4 L386.6 295.7ZM385.7 291.4 L384.5 291.5 L383.3 291.6 L382.1 291.5 L382.1 291.8 L383.3 292.0 L384.5 292.0 L385.7 292.0ZM387.4 295.7 L387.7 294.4 L388.2 293.3 L388.9 292.1 L389.5 291.0 L390.4 290.1 L391.3 289.1 L391.1 288.9 L390.2 289.8 L389.2 290.7 L388.4 291.8 L387.7 292.9 L387.0 294.1 L386.6 295.4ZM388.8 291.7 L387.8 291.1 L386.8 290.6 L385.8 289.8 L385.7 290.0 L386.5 290.9 L387.5 291.6 L388.5 292.2Z" fill="#e81410" opacity="1.0"/>
<ellipse cx="387.0" cy="295.5" rx="0.6" ry="0.5" fill="#e81410" opacity="1.0"/>
<path d="M387.0 295.9 L387.8 295.8 L388.6 295.8 L389.4 295.7 L389.4 295.5 L388.6 295.4 L387.8 295.3 L387.0 295.2ZM386.7 295.4 L386.0 296.6 L385.5 297.9 L385.0 299.1 L385.3 299.2 L385.9 298.0 L386.6 296.8 L387.3 295.7ZM387.2 295.3 L386.2 294.4 L385.3 293.4 L384.4 292.4 L384.2 292.6 L385.0 293.7 L385.8 294.8 L386.7 295.8ZM387.3 295.6 L387.5 294.3 L387.9 293.1 L388.2 291.8 L388.0 291.7 L387.5 293.0 L387.0 294.1 L386.6 295.5Z" fill="#ff8a1e" opacity="0.6"/>
<path d="M448.6 311.2 L449.5 311.0 L450.2 310.7 L451.1 310.7 L451.9 310.7 L452.7 311.0 L453.4 311.5 L453.6 311.3 L452.9 310.7 L452.1 310.2 L451.2 310.0 L450.3 309.9 L449.3 310.1 L448.4 310.2ZM448.0 310.7 L447.9 312.2 L447.3 313.7 L446.6 315.3 L446.5 316.9 L446.4 318.5 L446.0 320.1 L446.3 320.1 L446.8 318.6 L447.1 317.0 L447.3 315.3 L448.0 314.0 L448.7 312.5 L449.0 310.8ZM446.9 315.0 L445.5 315.3 L444.1 315.6 L442.6 315.6 L442.6 315.9 L444.1 316.0 L445.6 315.8 L447.0 315.7ZM448.4 310.2 L447.3 310.5 L446.2 310.8 L445.2 311.1 L444.1 311.2 L442.9 311.0 L441.8 311.0 L441.8 311.3 L442.9 311.4 L444.0 311.7 L445.2 311.8 L446.4 311.6 L447.5 311.4 L448.6 311.2ZM444.9 311.2 L444.2 311.9 L443.5 312.7 L443.1 313.7 L443.3 313.8 L443.8 312.9 L444.6 312.4 L445.4 311.7ZM449.0 311.0 L449.3 310.1 L449.9 309.4 L450.7 308.7 L451.3 307.8 L451.8 307.0 L452.4 306.2 L452.2 306.0 L451.4 306.7 L450.8 307.5 L450.2 308.2 L449.4 308.8 L448.6 309.5 L448.1 310.5ZM450.5 308.8 L451.3 308.3 L452.2 308.0 L453.0 307.5 L452.9 307.3 L452.0 307.7 L451.2 307.8 L450.3 308.1Z" fill="#e81410" opacity="1.0"/>
<ellipse cx="448.5" cy="310.7" rx="0.7" ry="0.6" fill="#e81410" opacity="1.0"/>
<path d="M448.6 311.1 L449.4 311.0 L450.3 310.8 L451.2 310.5 L451.1 310.3 L450.2 310.3 L449.4 310.3 L448.5 310.3ZM448.2 310.6 L447.5 312.0 L446.8 313.5 L446.2 315.0 L446.4 315.1 L447.2 313.7 L448.1 312.3 L448.9 310.9ZM448.4 310.4 L447.3 310.8 L446.3 311.3 L445.3 311.9 L445.4 312.2 L446.5 311.7 L447.6 311.4 L448.7 311.1ZM448.9 310.8 L449.0 309.8 L449.0 308.8 L449.0 307.8 L448.8 307.7 L448.5 308.7 L448.4 309.7 L448.1 310.7Z" fill="#ff8a1e" opacity="0.6"/>
</g><g filter="url(#bl04)"><ellipse cx="412.4" cy="278.5" rx="2.8" ry="2.3" fill="#0a22f0" opacity="0.48" transform="rotate(113 412.4 278.5)"/>
<ellipse cx="440.0" cy="281.8" rx="2.8" ry="2.3" fill="#0a22f0" opacity="0.56" transform="rotate(2 440.0 281.8)"/>
<ellipse cx="430.3" cy="287.0" rx="2.1" ry="1.9" fill="#0a22f0" opacity="1.00" transform="rotate(0 430.3 287.0)"/>
<ellipse cx="430.0" cy="286.8" rx="1.1" ry="1.0" fill="#2a58ff" opacity="1.00" transform="rotate(0 430.3 287.0)"/>
<ellipse cx="412.4" cy="264.7" rx="2.8" ry="2.6" fill="#0a22f0" opacity="0.40" transform="rotate(0 412.4 264.7)"/>
<ellipse cx="407.6" cy="293.0" rx="2.3" ry="2.1" fill="#0a22f0" opacity="0.95" transform="rotate(0 407.6 293.0)"/>
<ellipse cx="407.2" cy="292.8" rx="1.3" ry="1.1" fill="#2a58ff" opacity="0.95" transform="rotate(0 407.6 293.0)"/>
<ellipse cx="412.8" cy="293.7" rx="2.1" ry="1.2" fill="#0a22f0" opacity="0.40" transform="rotate(0 412.8 293.7)"/>
<ellipse cx="435.9" cy="274.4" rx="1.3" ry="0.6" fill="#0a22f0" opacity="0.32" transform="rotate(70 435.9 274.4)"/>
<ellipse cx="384.7" cy="295.3" rx="2.1" ry="1.8" fill="#0a22f0" opacity="0.95" transform="rotate(115 384.7 295.3)"/>
<ellipse cx="384.3" cy="295.0" rx="1.2" ry="1.0" fill="#2a58ff" opacity="0.95" transform="rotate(115 384.7 295.3)"/>
<ellipse cx="445.4" cy="315.4" rx="2.2" ry="1.6" fill="#0a22f0" opacity="0.95" transform="rotate(30 445.4 315.4)"/>
<ellipse cx="445.1" cy="315.1" rx="1.2" ry="0.9" fill="#2a58ff" opacity="0.95" transform="rotate(30 445.4 315.4)"/>
<ellipse cx="385.2" cy="271.5" rx="2.0" ry="1.6" fill="#0a22f0" opacity="0.95" transform="rotate(167 385.2 271.5)"/>
<ellipse cx="384.9" cy="271.3" rx="1.1" ry="0.9" fill="#2a58ff" opacity="0.95" transform="rotate(167 385.2 271.5)"/>
<ellipse cx="440.6" cy="253.3" rx="1.9" ry="1.4" fill="#0a22f0" opacity="0.95" transform="rotate(174 440.6 253.3)"/>
<ellipse cx="440.3" cy="253.2" rx="1.1" ry="0.8" fill="#2a58ff" opacity="0.95" transform="rotate(174 440.6 253.3)"/>
<ellipse cx="386.3" cy="299.6" rx="1.9" ry="1.6" fill="#0a22f0" opacity="0.95" transform="rotate(105 386.3 299.6)"/>
<ellipse cx="386.0" cy="299.4" rx="1.0" ry="0.9" fill="#2a58ff" opacity="0.95" transform="rotate(105 386.3 299.6)"/>
<ellipse cx="386.9" cy="295.3" rx="2.0" ry="1.5" fill="#0a22f0" opacity="0.95" transform="rotate(24 386.9 295.3)"/>
<ellipse cx="386.6" cy="295.2" rx="1.1" ry="0.8" fill="#2a58ff" opacity="0.95" transform="rotate(24 386.9 295.3)"/>
<ellipse cx="447.7" cy="310.3" rx="2.3" ry="2.1" fill="#0a22f0" opacity="0.95" transform="rotate(64 447.7 310.3)"/>
<ellipse cx="447.3" cy="310.1" rx="1.3" ry="1.2" fill="#2a58ff" opacity="0.95" transform="rotate(64 447.7 310.3)"/>
<ellipse cx="381.3" cy="305.0" rx="2.0" ry="1.4" fill="#0a22f0" opacity="0.84" transform="rotate(114 381.3 305.0)"/>
<ellipse cx="381.0" cy="304.8" rx="1.1" ry="0.8" fill="#2a58ff" opacity="0.84" transform="rotate(114 381.3 305.0)"/>
<ellipse cx="418.1" cy="307.7" rx="1.8" ry="1.3" fill="#0a22f0" opacity="0.72" transform="rotate(121 418.1 307.7)"/>
<ellipse cx="417.8" cy="307.5" rx="1.0" ry="0.7" fill="#2a58ff" opacity="0.72" transform="rotate(121 418.1 307.7)"/>
<ellipse cx="432.0" cy="252.9" rx="2.1" ry="1.9" fill="#0a22f0" opacity="0.82" transform="rotate(72 432.0 252.9)"/>
<ellipse cx="431.6" cy="252.7" rx="1.2" ry="1.1" fill="#2a58ff" opacity="0.82" transform="rotate(72 432.0 252.9)"/>
<ellipse cx="404.4" cy="267.0" rx="1.9" ry="1.6" fill="#0a22f0" opacity="0.77" transform="rotate(41 404.4 267.0)"/>
<ellipse cx="404.1" cy="266.8" rx="1.0" ry="0.9" fill="#2a58ff" opacity="0.77" transform="rotate(41 404.4 267.0)"/>
<ellipse cx="391.4" cy="293.6" rx="1.7" ry="1.5" fill="#0a22f0" opacity="0.90" transform="rotate(47 391.4 293.6)"/>
<ellipse cx="391.2" cy="293.4" rx="0.9" ry="0.8" fill="#2a58ff" opacity="0.90" transform="rotate(47 391.4 293.6)"/>
<ellipse cx="435.8" cy="255.8" rx="1.7" ry="1.6" fill="#0a22f0" opacity="0.73" transform="rotate(99 435.8 255.8)"/>
<ellipse cx="435.5" cy="255.6" rx="0.9" ry="0.9" fill="#2a58ff" opacity="0.73" transform="rotate(99 435.8 255.8)"/>
<ellipse cx="407.6" cy="305.0" rx="1.7" ry="1.3" fill="#0a22f0" opacity="0.94" transform="rotate(110 407.6 305.0)"/>
<ellipse cx="407.3" cy="304.9" rx="1.0" ry="0.7" fill="#2a58ff" opacity="0.94" transform="rotate(110 407.6 305.0)"/>
<ellipse cx="384.8" cy="260.2" rx="1.9" ry="1.8" fill="#0a22f0" opacity="0.85" transform="rotate(172 384.8 260.2)"/>
<ellipse cx="384.5" cy="260.0" rx="1.1" ry="1.0" fill="#2a58ff" opacity="0.85" transform="rotate(172 384.8 260.2)"/>
<ellipse cx="398.3" cy="288.9" rx="1.9" ry="1.5" fill="#0a22f0" opacity="0.85" transform="rotate(22 398.3 288.9)"/>
<ellipse cx="398.0" cy="288.7" rx="1.0" ry="0.8" fill="#2a58ff" opacity="0.85" transform="rotate(22 398.3 288.9)"/>
<ellipse cx="397.4" cy="295.1" rx="1.9" ry="1.7" fill="#0a22f0" opacity="0.95" transform="rotate(90 397.4 295.1)"/>
<ellipse cx="397.1" cy="294.9" rx="1.0" ry="0.9" fill="#2a58ff" opacity="0.95" transform="rotate(90 397.4 295.1)"/>
<ellipse cx="381.2" cy="311.7" rx="2.2" ry="1.4" fill="#0a22f0" opacity="0.92" transform="rotate(63 381.2 311.7)"/>
<ellipse cx="380.9" cy="311.5" rx="1.2" ry="0.8" fill="#2a58ff" opacity="0.92" transform="rotate(63 381.2 311.7)"/>
<ellipse cx="438.1" cy="300.9" rx="2.1" ry="1.5" fill="#0a22f0" opacity="0.83" transform="rotate(16 438.1 300.9)"/>
<ellipse cx="437.7" cy="300.7" rx="1.1" ry="0.8" fill="#2a58ff" opacity="0.83" transform="rotate(16 438.1 300.9)"/>
<ellipse cx="406.8" cy="293.4" rx="1.8" ry="1.3" fill="#0a22f0" opacity="0.74" transform="rotate(63 406.8 293.4)"/>
<ellipse cx="406.5" cy="293.2" rx="1.0" ry="0.7" fill="#2a58ff" opacity="0.74" transform="rotate(63 406.8 293.4)"/>
<ellipse cx="397.5" cy="286.4" rx="1.9" ry="1.8" fill="#0a22f0" opacity="0.85" transform="rotate(14 397.5 286.4)"/>
<ellipse cx="397.3" cy="286.2" rx="1.0" ry="1.0" fill="#2a58ff" opacity="0.85" transform="rotate(14 397.5 286.4)"/>
<ellipse cx="433.6" cy="318.4" rx="2.2" ry="1.9" fill="#0a22f0" opacity="0.92" transform="rotate(39 433.6 318.4)"/>
<ellipse cx="433.3" cy="318.2" rx="1.2" ry="1.0" fill="#2a58ff" opacity="0.92" transform="rotate(39 433.6 318.4)"/>
<ellipse cx="447.5" cy="296.3" rx="1.9" ry="1.3" fill="#0a22f0" opacity="0.83" transform="rotate(89 447.5 296.3)"/>
<ellipse cx="447.3" cy="296.2" rx="1.0" ry="0.7" fill="#2a58ff" opacity="0.83" transform="rotate(89 447.5 296.3)"/>
<ellipse cx="394.4" cy="268.4" rx="1.9" ry="1.6" fill="#0a22f0" opacity="0.73" transform="rotate(48 394.4 268.4)"/>
<ellipse cx="394.1" cy="268.2" rx="1.1" ry="0.9" fill="#2a58ff" opacity="0.73" transform="rotate(48 394.4 268.4)"/>
<ellipse cx="381.2" cy="262.4" rx="1.7" ry="1.2" fill="#0a22f0" opacity="0.76" transform="rotate(31 381.2 262.4)"/>
<ellipse cx="380.9" cy="262.3" rx="0.9" ry="0.6" fill="#2a58ff" opacity="0.76" transform="rotate(31 381.2 262.4)"/>
<ellipse cx="399.9" cy="263.0" rx="1.7" ry="1.4" fill="#0a22f0" opacity="0.89" transform="rotate(16 399.9 263.0)"/>
<ellipse cx="399.7" cy="262.9" rx="0.9" ry="0.8" fill="#2a58ff" opacity="0.89" transform="rotate(16 399.9 263.0)"/>
<ellipse cx="398.4" cy="311.1" rx="1.6" ry="1.2" fill="#0a22f0" opacity="0.77" transform="rotate(12 398.4 311.1)"/>
<ellipse cx="398.1" cy="310.9" rx="0.9" ry="0.7" fill="#2a58ff" opacity="0.77" transform="rotate(12 398.4 311.1)"/>
<ellipse cx="394.7" cy="268.3" rx="1.9" ry="1.5" fill="#0a22f0" opacity="0.92" transform="rotate(38 394.7 268.3)"/>
<ellipse cx="394.4" cy="268.1" rx="1.0" ry="0.8" fill="#2a58ff" opacity="0.92" transform="rotate(38 394.7 268.3)"/>
<ellipse cx="414.0" cy="255.3" rx="1.7" ry="1.3" fill="#0a22f0" opacity="0.77" transform="rotate(65 414.0 255.3)"/>
<ellipse cx="413.7" cy="255.1" rx="0.9" ry="0.7" fill="#2a58ff" opacity="0.77" transform="rotate(65 414.0 255.3)"/>
<ellipse cx="442.3" cy="302.1" rx="2.1" ry="1.8" fill="#0a22f0" opacity="0.79" transform="rotate(134 442.3 302.1)"/>
<ellipse cx="442.0" cy="301.9" rx="1.2" ry="1.0" fill="#2a58ff" opacity="0.79" transform="rotate(134 442.3 302.1)"/>
<ellipse cx="383.1" cy="286.0" rx="2.1" ry="1.6" fill="#0a22f0" opacity="0.73" transform="rotate(122 383.1 286.0)"/>
<ellipse cx="382.8" cy="285.7" rx="1.2" ry="0.9" fill="#2a58ff" opacity="0.73" transform="rotate(122 383.1 286.0)"/>
</g><g filter="url(#bl04)" style="mix-blend-mode:screen"><ellipse cx="412.4" cy="278.5" rx="2.7" ry="1.7" fill="#28d838" opacity="0.59" transform="rotate(-105 412.4 278.5)"/>
<circle cx="411.8" cy="278.2" r="0.9" fill="#28d838" opacity="0.38"/>
<circle cx="411.6" cy="278.5" r="0.9" fill="#28d838" opacity="0.38"/>
<circle cx="412.8" cy="279.1" r="1.3" fill="#28d838" opacity="0.38"/>
<line x1="412.4" y1="278.5" x2="411.0" y2="273.2" stroke="#28d838" stroke-width="0.9" stroke-linecap="round" opacity="0.41"/>
<line x1="412.4" y1="278.5" x2="408.7" y2="279.8" stroke="#28d838" stroke-width="0.9" stroke-linecap="round" opacity="0.41"/>
<line x1="412.4" y1="278.5" x2="412.0" y2="283.7" stroke="#28d838" stroke-width="0.9" stroke-linecap="round" opacity="0.41"/>
<ellipse cx="440.0" cy="281.8" rx="2.3" ry="1.4" fill="#28d838" opacity="0.56" transform="rotate(-88 440.0 281.8)"/>
<circle cx="439.3" cy="282.0" r="0.9" fill="#28d838" opacity="0.36"/>
<circle cx="440.3" cy="282.4" r="0.9" fill="#28d838" opacity="0.36"/>
<circle cx="439.5" cy="281.3" r="1.0" fill="#28d838" opacity="0.36"/>
<line x1="440.0" y1="281.8" x2="440.1" y2="277.2" stroke="#28d838" stroke-width="0.8" stroke-linecap="round" opacity="0.38"/>
<line x1="440.0" y1="281.8" x2="440.2" y2="285.0" stroke="#28d838" stroke-width="0.8" stroke-linecap="round" opacity="0.38"/>
<line x1="440.0" y1="281.8" x2="436.1" y2="281.8" stroke="#28d838" stroke-width="0.8" stroke-linecap="round" opacity="0.38"/>
<ellipse cx="422.5" cy="262.9" rx="1.9" ry="1.2" fill="#28d838" opacity="0.46" transform="rotate(10 422.5 262.9)"/>
<circle cx="422.3" cy="262.5" r="0.6" fill="#28d838" opacity="0.29"/>
<circle cx="422.8" cy="263.4" r="0.7" fill="#28d838" opacity="0.29"/>
<circle cx="421.3" cy="262.8" r="0.9" fill="#28d838" opacity="0.29"/>
<line x1="422.5" y1="262.9" x2="425.4" y2="263.4" stroke="#28d838" stroke-width="0.6" stroke-linecap="round" opacity="0.32"/>
<line x1="422.5" y1="262.9" x2="418.9" y2="263.5" stroke="#28d838" stroke-width="0.6" stroke-linecap="round" opacity="0.32"/>
<line x1="422.5" y1="262.9" x2="423.1" y2="266.4" stroke="#28d838" stroke-width="0.6" stroke-linecap="round" opacity="0.32"/>
<ellipse cx="446.3" cy="314.6" rx="2.1" ry="1.3" fill="#b8e020" opacity="0.46" transform="rotate(257 446.3 314.6)"/>
<circle cx="446.3" cy="314.1" r="0.8" fill="#b8e020" opacity="0.29"/>
<circle cx="446.1" cy="315.1" r="1.1" fill="#b8e020" opacity="0.29"/>
<circle cx="446.3" cy="315.1" r="1.0" fill="#b8e020" opacity="0.29"/>
<ellipse cx="385.8" cy="270.9" rx="2.1" ry="1.3" fill="#b8e020" opacity="0.46" transform="rotate(300 385.8 270.9)"/>
<circle cx="386.0" cy="269.9" r="1.1" fill="#b8e020" opacity="0.29"/>
<circle cx="386.0" cy="271.9" r="0.8" fill="#b8e020" opacity="0.29"/>
<circle cx="385.7" cy="269.8" r="1.1" fill="#b8e020" opacity="0.29"/>
<ellipse cx="386.9" cy="299.8" rx="2.1" ry="1.3" fill="#b8e020" opacity="0.46" transform="rotate(231 386.9 299.8)"/>
<circle cx="387.9" cy="299.5" r="0.7" fill="#b8e020" opacity="0.29"/>
<circle cx="387.0" cy="300.7" r="1.0" fill="#b8e020" opacity="0.29"/>
<circle cx="387.0" cy="300.5" r="0.9" fill="#b8e020" opacity="0.29"/>
</g></g>
<rect x="406.10" y="261.00" width="37.20" height="37.20" fill="none" stroke="#fff" stroke-width="0.75" stroke-dasharray="1.5 1.1"/>
<g clip-path="url(#cd31)"><rect x="453.1" y="249.0" width="72.2" height="72.0" filter="url(#nG3)"/><rect x="453.1" y="249.0" width="72.2" height="72.0" filter="url(#nGf3)" opacity="0.22"/><g transform="translate(453.1 249.0)" filter="url(#bl07)"><ellipse cx="12.3" cy="33.9" rx="5.2" ry="3.3" fill="#28d838" opacity="0.59" transform="rotate(-105 12.3 33.9)"/>
<circle cx="11.1" cy="33.3" r="1.8" fill="#28d838" opacity="0.38"/>
<circle cx="10.6" cy="33.9" r="1.8" fill="#28d838" opacity="0.38"/>
<circle cx="13.1" cy="35.0" r="2.6" fill="#28d838" opacity="0.38"/>
<line x1="12.3" y1="33.9" x2="9.5" y2="23.7" stroke="#28d838" stroke-width="1.8" stroke-linecap="round" opacity="0.41"/>
<line x1="12.3" y1="33.9" x2="5.1" y2="36.5" stroke="#28d838" stroke-width="1.8" stroke-linecap="round" opacity="0.41"/>
<line x1="12.3" y1="33.9" x2="11.4" y2="44.1" stroke="#28d838" stroke-width="1.8" stroke-linecap="round" opacity="0.41"/>
<ellipse cx="65.7" cy="40.4" rx="4.4" ry="2.8" fill="#28d838" opacity="0.56" transform="rotate(-88 65.7 40.4)"/>
<circle cx="64.3" cy="40.8" r="1.8" fill="#28d838" opacity="0.36"/>
<circle cx="66.3" cy="41.5" r="1.7" fill="#28d838" opacity="0.36"/>
<circle cx="64.7" cy="39.3" r="1.9" fill="#28d838" opacity="0.36"/>
<line x1="65.7" y1="40.4" x2="66.0" y2="31.3" stroke="#28d838" stroke-width="1.5" stroke-linecap="round" opacity="0.38"/>
<line x1="65.7" y1="40.4" x2="66.2" y2="46.6" stroke="#28d838" stroke-width="1.5" stroke-linecap="round" opacity="0.38"/>
<line x1="65.7" y1="40.4" x2="58.3" y2="40.4" stroke="#28d838" stroke-width="1.5" stroke-linecap="round" opacity="0.38"/>
<ellipse cx="31.8" cy="3.6" rx="3.6" ry="2.3" fill="#28d838" opacity="0.46" transform="rotate(10 31.8 3.6)"/>
<circle cx="31.5" cy="2.8" r="1.2" fill="#28d838" opacity="0.29"/>
<circle cx="32.4" cy="4.6" r="1.3" fill="#28d838" opacity="0.29"/>
<circle cx="29.6" cy="3.4" r="1.8" fill="#28d838" opacity="0.29"/>
<line x1="31.8" y1="3.6" x2="37.5" y2="4.6" stroke="#28d838" stroke-width="1.2" stroke-linecap="round" opacity="0.32"/>
<line x1="31.8" y1="3.6" x2="24.8" y2="4.8" stroke="#28d838" stroke-width="1.2" stroke-linecap="round" opacity="0.32"/>
<line x1="31.8" y1="3.6" x2="33.0" y2="10.4" stroke="#28d838" stroke-width="1.2" stroke-linecap="round" opacity="0.32"/>
</g></g>
<g clip-path="url(#cd32)"><g transform="translate(526.7 249.0)" filter="url(#bl07)"><ellipse cx="12.3" cy="33.9" rx="5.5" ry="4.4" fill="#0a22f0" opacity="0.48" transform="rotate(113 12.3 33.9)"/>
<ellipse cx="65.7" cy="40.4" rx="5.5" ry="4.5" fill="#0a22f0" opacity="0.56" transform="rotate(2 65.7 40.4)"/>
<ellipse cx="46.9" cy="50.5" rx="4.0" ry="3.6" fill="#0a22f0" opacity="1.00" transform="rotate(0 46.9 50.5)"/>
<ellipse cx="46.3" cy="50.1" rx="2.2" ry="2.0" fill="#2a58ff" opacity="1.00" transform="rotate(0 46.9 50.5)"/>
<ellipse cx="12.3" cy="7.2" rx="5.5" ry="5.0" fill="#0a22f0" opacity="0.40" transform="rotate(0 12.3 7.2)"/>
<ellipse cx="2.9" cy="62.1" rx="4.5" ry="4.0" fill="#0a22f0" opacity="0.95" transform="rotate(0 2.9 62.1)"/>
<ellipse cx="2.2" cy="61.6" rx="2.5" ry="2.2" fill="#2a58ff" opacity="0.95" transform="rotate(0 2.9 62.1)"/>
<ellipse cx="13.0" cy="63.5" rx="4.0" ry="2.4" fill="#0a22f0" opacity="0.40" transform="rotate(0 13.0 63.5)"/>
<ellipse cx="57.8" cy="26.0" rx="2.5" ry="1.2" fill="#0a22f0" opacity="0.32" transform="rotate(70 57.8 26.0)"/>
</g></g>
<g clip-path="url(#cd33)"><rect x="600.4" y="249.0" width="72.2" height="72.0" filter="url(#nR3)"/><rect x="600.4" y="249.0" width="72.2" height="72.0" filter="url(#nH3)" opacity="0.7"/><rect x="600.4" y="249.0" width="72.2" height="72.0" filter="url(#nGf3)" opacity="0.2"/><g transform="translate(600.4 249.0)"><g filter="url(#bl04)"><path d="M13.3 33.4 L11.7 30.7 L9.8 28.2 L7.4 26.2 L5.0 24.6 L2.9 22.3 L0.3 20.9 L0.1 21.1 L2.5 22.9 L4.1 25.3 L6.6 27.3 L8.6 29.4 L10.0 31.9 L11.2 34.5ZM7.3 26.3 L5.0 24.8 L2.8 23.5 L1.0 21.5 L0.8 21.7 L2.3 23.9 L4.5 25.6 L6.7 27.2ZM11.5 33.0 L9.9 34.6 L8.9 36.2 L7.6 37.7 L6.4 39.1 L4.8 40.3 L3.2 41.6 L3.4 41.8 L5.2 41.0 L7.0 40.1 L8.6 38.7 L10.2 37.4 L11.6 35.8 L13.0 34.8ZM8.5 37.8 L7.1 36.6 L5.5 35.9 L4.0 34.8 L3.9 34.9 L5.1 36.3 L6.6 37.4 L7.7 38.6ZM11.2 33.5 L10.1 36.6 L10.1 39.8 L10.6 42.8 L11.0 45.8 L11.7 48.6 L11.5 51.6 L11.8 51.6 L12.4 48.7 L12.1 45.6 L12.0 42.6 L11.8 39.6 L12.2 36.8 L13.4 34.4ZM10.8 42.3 L9.2 44.5 L7.7 46.6 L5.5 48.2 L5.6 48.4 L8.0 47.1 L9.9 45.1 L11.7 43.1ZM12.9 34.9 L14.8 33.6 L16.9 32.2 L18.5 30.3 L19.8 28.4 L21.0 26.5 L22.5 24.7 L22.4 24.5 L20.5 25.9 L18.9 27.7 L17.4 29.4 L15.7 30.9 L13.8 31.9 L11.7 32.9ZM18.5 29.7 L17.6 27.8 L17.1 25.7 L16.1 23.9 L15.8 24.0 L16.6 26.0 L16.8 28.0 L17.4 30.1ZM11.9 35.0 L13.1 35.3 L14.4 36.1 L15.7 36.8 L16.9 37.4 L17.9 38.4 L18.9 39.6 L19.1 39.5 L18.6 38.1 L17.8 36.7 L16.5 35.6 L15.4 34.6 L14.3 33.6 L12.7 32.8Z" fill="#e81410" opacity="1.0"/>
<ellipse cx="12.3" cy="33.9" rx="2.0" ry="1.7" fill="#e81410" opacity="1.0"/>
<path d="M13.1 33.8 L12.4 30.9 L11.8 27.9 L10.8 25.1 L10.5 25.1 L11.0 28.1 L11.1 31.1 L11.4 34.1ZM12.0 33.1 L10.2 34.0 L8.3 34.9 L6.6 35.9 L6.7 36.1 L8.7 35.7 L10.6 35.3 L12.6 34.7ZM11.4 34.0 L11.8 37.1 L12.5 39.9 L13.1 42.9 L13.3 42.9 L13.4 39.8 L13.1 36.8 L13.1 33.9ZM12.8 34.7 L14.5 33.2 L16.4 31.9 L18.4 30.6 L18.3 30.4 L16.1 31.1 L13.9 32.1 L11.8 33.2ZM12.0 34.7 L13.4 35.1 L14.9 35.5 L16.4 35.8 L16.5 35.6 L15.2 34.7 L14.0 33.9 L12.6 33.1Z" fill="#ff8a1e" opacity="0.6"/>
<path d="M66.9 40.2 L65.7 35.0 L63.1 30.5 L59.4 26.9 L55.4 24.0 L51.5 21.0 L48.0 17.4 L47.8 17.6 L50.9 21.5 L54.6 24.9 L58.5 28.1 L61.8 31.7 L63.9 36.0 L64.6 40.6ZM59.3 28.0 L63.0 25.5 L66.7 23.1 L71.1 21.9 L71.0 21.6 L66.6 22.5 L62.6 24.7 L58.7 27.0ZM64.5 40.4 L64.6 43.6 L65.3 46.4 L65.5 49.6 L66.4 52.3 L66.7 55.3 L66.8 58.3 L67.0 58.3 L67.4 55.3 L67.5 52.3 L66.9 49.2 L67.1 46.4 L66.6 43.2 L66.9 40.5ZM65.7 49.1 L64.4 51.6 L63.9 54.2 L63.2 56.8 L63.4 56.9 L64.5 54.4 L65.2 51.8 L66.7 49.7ZM65.9 39.3 L64.9 39.3 L63.7 38.8 L62.6 38.1 L61.3 37.4 L60.0 37.1 L58.6 36.8 L58.6 37.1 L59.7 37.8 L60.9 38.4 L61.7 39.3 L62.7 40.2 L63.9 41.1 L65.5 41.6Z" fill="#e81410" opacity="1.0"/>
<ellipse cx="65.7" cy="40.4" rx="2.0" ry="1.7" fill="#e81410" opacity="1.0"/>
<path d="M66.6 40.5 L66.9 35.5 L67.1 30.5 L66.5 25.5 L66.2 25.5 L66.2 30.5 L65.6 35.4 L64.8 40.3ZM64.8 40.6 L65.7 43.5 L66.7 46.4 L67.8 49.2 L68.1 49.1 L67.5 46.1 L66.9 43.2 L66.6 40.3ZM65.7 39.6 L64.4 39.8 L63.1 40.1 L61.7 40.2 L61.7 40.5 L63.0 40.9 L64.4 41.2 L65.8 41.3Z" fill="#ff8a1e" opacity="0.6"/>
<path d="M31.8 4.8 L34.4 4.6 L36.6 3.7 L38.5 2.8 L40.9 2.6 L43.1 2.0 L45.5 1.8 L45.5 1.5 L43.1 1.2 L40.7 1.5 L38.5 1.3 L36.0 2.0 L33.8 2.6 L31.8 2.4ZM38.0 2.3 L39.1 4.3 L40.5 5.7 L41.9 7.3 L42.1 7.2 L41.1 5.3 L39.7 3.7 L39.0 1.8ZM31.6 2.5 L29.9 2.9 L27.6 2.8 L25.6 3.4 L23.9 4.3 L22.0 4.8 L20.0 5.1 L20.1 5.4 L22.1 5.5 L24.1 5.3 L26.1 4.7 L28.0 4.5 L29.6 4.9 L32.0 4.8ZM26.0 3.5 L24.3 3.0 L22.4 2.6 L20.6 2.8 L20.6 3.0 L22.4 3.2 L24.0 3.8 L25.7 4.6ZM30.8 4.2 L31.4 5.0 L32.0 6.5 L33.0 7.7 L34.3 8.5 L35.7 8.9 L37.1 8.8 L37.1 8.6 L35.8 8.1 L34.7 7.5 L34.0 6.6 L33.5 5.6 L33.4 4.5 L32.8 3.0Z" fill="#e81410" opacity="1.0"/>
<ellipse cx="31.8" cy="3.6" rx="2.0" ry="1.7" fill="#e81410" opacity="1.0"/>
<path d="M31.6 4.5 L33.9 4.7 L36.2 5.2 L38.5 5.5 L38.6 5.3 L36.4 4.3 L34.2 3.5 L31.9 2.8ZM31.7 2.7 L29.7 3.1 L27.8 3.5 L25.8 3.8 L25.8 4.0 L27.8 4.4 L29.8 4.4 L31.8 4.5ZM30.9 3.8 L31.4 5.0 L31.9 6.3 L32.5 7.5 L32.8 7.5 L32.7 6.1 L32.7 4.8 L32.6 3.4Z" fill="#ff8a1e" opacity="0.6"/>
<path d="M26.4 22.3 L27.3 23.4 L28.1 24.2 L28.9 25.6 L30.0 26.5 L31.2 27.2 L32.4 27.7 L32.6 27.5 L31.6 26.6 L30.6 25.7 L30.0 24.6 L29.8 23.5 L28.9 22.2 L28.4 21.1ZM28.6 21.9 L28.7 20.6 L28.6 19.3 L28.4 18.4 L28.6 17.4 L29.0 16.4 L29.7 15.5 L29.6 15.3 L28.5 15.8 L27.6 16.8 L27.1 18.0 L26.9 19.4 L26.6 20.4 L26.3 21.4ZM27.6 20.5 L26.8 20.6 L25.7 20.3 L24.6 20.2 L23.6 20.4 L22.6 20.3 L21.6 20.6 L21.6 20.8 L22.6 21.1 L23.4 21.5 L24.5 21.7 L25.3 22.0 L26.1 22.5 L27.3 22.8Z" fill="#e81410" opacity="0.9"/>
<ellipse cx="27.4" cy="21.7" rx="2.0" ry="1.7" fill="#e81410" opacity="0.9"/>
<path d="M26.7 22.1 L27.6 23.2 L28.6 24.1 L29.6 25.0 L29.8 24.9 L29.3 23.6 L28.7 22.4 L28.2 21.2ZM28.2 22.0 L28.5 20.9 L28.8 19.7 L29.0 18.5 L28.8 18.4 L28.0 19.4 L27.3 20.3 L26.6 21.3ZM27.4 20.8 L26.4 21.1 L25.4 21.3 L24.4 21.8 L24.5 22.0 L25.5 22.2 L26.4 22.4 L27.5 22.5Z" fill="#ff8a1e" opacity="0.6"/>
<path d="M45.8 61.7 L46.4 63.4 L47.4 64.7 L48.5 65.5 L49.4 66.9 L50.4 67.9 L51.4 69.1 L51.6 69.0 L51.0 67.5 L50.3 66.2 L49.8 64.9 L48.7 63.5 L48.2 62.3 L48.1 61.1ZM47.2 62.5 L48.8 62.0 L49.9 61.1 L51.0 59.9 L51.6 58.6 L51.9 57.2 L51.9 55.9 L51.7 55.8 L51.2 57.1 L50.6 58.2 L49.8 59.2 L48.8 59.7 L47.7 60.2 L46.7 60.2ZM47.2 60.2 L45.9 60.1 L44.4 59.9 L43.1 60.0 L41.8 59.9 L40.4 59.9 L39.1 60.0 L39.0 60.3 L40.3 60.7 L41.6 61.0 L42.9 61.4 L44.3 61.7 L45.4 62.1 L46.7 62.5Z" fill="#e81410" opacity="1.0"/>
<ellipse cx="46.9" cy="61.4" rx="2.0" ry="1.7" fill="#e81410" opacity="1.0"/>
<path d="M46.1 61.6 L46.6 63.0 L47.3 64.4 L48.0 65.7 L48.3 65.7 L48.1 64.1 L47.9 62.6 L47.8 61.2ZM47.3 62.2 L48.3 61.5 L49.5 60.9 L50.8 60.4 L50.7 60.1 L49.4 60.0 L48.0 60.2 L46.6 60.6ZM47.1 60.5 L45.8 60.4 L44.4 60.4 L43.1 60.3 L43.0 60.5 L44.2 61.2 L45.5 61.7 L46.7 62.2Z" fill="#ff8a1e" opacity="0.6"/>
<path d="M67.6 63.9 L65.7 63.3 L64.0 63.3 L62.5 63.4 L60.8 63.1 L59.2 63.0 L57.5 62.8 L57.4 63.0 L59.0 63.7 L60.6 64.2 L62.1 64.8 L63.9 65.1 L65.6 65.3 L66.7 66.1ZM68.3 65.3 L68.5 64.1 L69.0 63.0 L70.2 61.7 L70.8 60.5 L71.7 59.3 L72.6 58.0 L72.4 57.8 L71.2 58.8 L70.0 59.7 L69.0 60.9 L67.9 61.6 L66.8 63.0 L66.0 64.6Z" fill="#e81410" opacity="1.0"/>
<ellipse cx="67.1" cy="65.0" rx="2.0" ry="1.7" fill="#e81410" opacity="1.0"/>
<path d="M67.5 64.2 L65.9 63.7 L64.4 63.2 L62.8 62.5 L62.7 62.7 L63.9 63.9 L65.3 64.9 L66.8 65.8ZM68.0 65.0 L67.8 63.5 L67.6 62.0 L67.5 60.5 L67.3 60.5 L66.8 61.9 L66.4 63.4 L66.3 65.0Z" fill="#ff8a1e" opacity="0.6"/>
<path d="M5.2 69.7 L6.9 69.4 L8.4 68.8 L10.1 68.5 L11.9 68.1 L13.3 67.3 L14.8 66.5 L14.7 66.2 L13.0 66.6 L11.4 67.0 L9.9 67.1 L8.2 67.1 L6.5 67.4 L4.9 67.4Z" fill="#e81410" opacity="1.0"/>
<ellipse cx="5.1" cy="68.6" rx="2.0" ry="1.7" fill="#e81410" opacity="1.0"/>
<path d="M5.0 69.5 L6.7 69.4 L8.3 69.1 L10.0 69.0 L10.1 68.7 L8.4 68.3 L6.7 68.1 L5.1 67.7Z" fill="#ff8a1e" opacity="0.6"/>
</g><g filter="url(#bl07)" opacity="0.92"><ellipse cx="12.3" cy="33.9" rx="5.5" ry="4.4" fill="#0a22f0" opacity="0.48" transform="rotate(113 12.3 33.9)"/>
<ellipse cx="65.7" cy="40.4" rx="5.5" ry="4.5" fill="#0a22f0" opacity="0.56" transform="rotate(2 65.7 40.4)"/>
<ellipse cx="46.9" cy="50.5" rx="4.0" ry="3.6" fill="#0a22f0" opacity="1.00" transform="rotate(0 46.9 50.5)"/>
<ellipse cx="46.3" cy="50.1" rx="2.2" ry="2.0" fill="#2a58ff" opacity="1.00" transform="rotate(0 46.9 50.5)"/>
<ellipse cx="12.3" cy="7.2" rx="5.5" ry="5.0" fill="#0a22f0" opacity="0.40" transform="rotate(0 12.3 7.2)"/>
<ellipse cx="2.9" cy="62.1" rx="4.5" ry="4.0" fill="#0a22f0" opacity="0.95" transform="rotate(0 2.9 62.1)"/>
<ellipse cx="2.2" cy="61.6" rx="2.5" ry="2.2" fill="#2a58ff" opacity="0.95" transform="rotate(0 2.9 62.1)"/>
<ellipse cx="13.0" cy="63.5" rx="4.0" ry="2.4" fill="#0a22f0" opacity="0.40" transform="rotate(0 13.0 63.5)"/>
<ellipse cx="57.8" cy="26.0" rx="2.5" ry="1.2" fill="#0a22f0" opacity="0.32" transform="rotate(70 57.8 26.0)"/>
</g><g filter="url(#bl07)" style="mix-blend-mode:screen"><ellipse cx="12.3" cy="33.9" rx="5.2" ry="3.3" fill="#28d838" opacity="0.59" transform="rotate(-105 12.3 33.9)"/>
<circle cx="11.1" cy="33.3" r="1.8" fill="#28d838" opacity="0.38"/>
<circle cx="10.6" cy="33.9" r="1.8" fill="#28d838" opacity="0.38"/>
<circle cx="13.1" cy="35.0" r="2.6" fill="#28d838" opacity="0.38"/>
<line x1="12.3" y1="33.9" x2="9.5" y2="23.7" stroke="#28d838" stroke-width="1.8" stroke-linecap="round" opacity="0.41"/>
<line x1="12.3" y1="33.9" x2="5.1" y2="36.5" stroke="#28d838" stroke-width="1.8" stroke-linecap="round" opacity="0.41"/>
<line x1="12.3" y1="33.9" x2="11.4" y2="44.1" stroke="#28d838" stroke-width="1.8" stroke-linecap="round" opacity="0.41"/>
<ellipse cx="65.7" cy="40.4" rx="4.4" ry="2.8" fill="#28d838" opacity="0.56" transform="rotate(-88 65.7 40.4)"/>
<circle cx="64.3" cy="40.8" r="1.8" fill="#28d838" opacity="0.36"/>
<circle cx="66.3" cy="41.5" r="1.7" fill="#28d838" opacity="0.36"/>
<circle cx="64.7" cy="39.3" r="1.9" fill="#28d838" opacity="0.36"/>
<line x1="65.7" y1="40.4" x2="66.0" y2="31.3" stroke="#28d838" stroke-width="1.5" stroke-linecap="round" opacity="0.38"/>
<line x1="65.7" y1="40.4" x2="66.2" y2="46.6" stroke="#28d838" stroke-width="1.5" stroke-linecap="round" opacity="0.38"/>
<line x1="65.7" y1="40.4" x2="58.3" y2="40.4" stroke="#28d838" stroke-width="1.5" stroke-linecap="round" opacity="0.38"/>
<ellipse cx="31.8" cy="3.6" rx="3.6" ry="2.3" fill="#28d838" opacity="0.46" transform="rotate(10 31.8 3.6)"/>
<circle cx="31.5" cy="2.8" r="1.2" fill="#28d838" opacity="0.29"/>
<circle cx="32.4" cy="4.6" r="1.3" fill="#28d838" opacity="0.29"/>
<circle cx="29.6" cy="3.4" r="1.8" fill="#28d838" opacity="0.29"/>
<line x1="31.8" y1="3.6" x2="37.5" y2="4.6" stroke="#28d838" stroke-width="1.2" stroke-linecap="round" opacity="0.32"/>
<line x1="31.8" y1="3.6" x2="24.8" y2="4.8" stroke="#28d838" stroke-width="1.2" stroke-linecap="round" opacity="0.32"/>
<line x1="31.8" y1="3.6" x2="33.0" y2="10.4" stroke="#28d838" stroke-width="1.2" stroke-linecap="round" opacity="0.32"/>
</g></g></g>
<rect x="363.80" y="324.20" width="14.00" height="70.30" fill="#fff" stroke="#4a3a3a" stroke-width="0.9" />
<text x="373.50" y="359.30" font-size="7.4" font-weight="bold" text-anchor="middle" fill="#000" transform="rotate(-90 373.50 359.30)" >7 dpi</text>
<rect x="379.30" y="322.70" width="72.20" height="72.00" fill="#000" stroke="none" stroke-width="1" />
<rect x="453.10" y="322.70" width="72.20" height="72.00" fill="#000" stroke="none" stroke-width="1" />
<rect x="526.70" y="322.70" width="72.20" height="72.00" fill="#000" stroke="none" stroke-width="1" />
<rect x="600.40" y="322.70" width="72.20" height="72.00" fill="#000" stroke="none" stroke-width="1" />
<g clip-path="url(#cd40)"><rect x="379.3" y="322.7" width="72.2" height="72.0" filter="url(#nRo4)"/><rect x="379.3" y="322.7" width="72.2" height="72.0" filter="url(#nH4)"/><g filter="url(#bl03)"><path d="M413.6 327.4 L414.6 327.7 L415.5 328.0 L416.3 328.5 L417.2 329.2 L418.1 329.7 L419.1 329.9 L419.2 329.7 L418.2 329.3 L417.4 328.7 L416.8 328.0 L415.9 327.3 L414.9 326.9 L413.9 326.5ZM416.3 328.4 L416.8 329.1 L417.1 330.0 L417.6 330.8 L417.8 330.7 L417.5 329.8 L417.3 328.9 L416.9 328.0ZM413.5 326.6 L413.0 327.0 L412.4 327.3 L411.8 327.9 L411.4 328.5 L411.2 329.1 L410.9 329.7 L411.1 329.9 L411.5 329.4 L411.9 328.7 L412.3 328.3 L412.8 328.0 L413.4 327.8 L414.1 327.3ZM414.2 327.3 L414.6 326.6 L414.8 326.0 L415.2 325.3 L415.3 324.6 L415.5 323.9 L415.5 323.2 L415.2 323.2 L415.0 323.9 L414.8 324.5 L414.5 325.1 L414.1 325.5 L413.8 326.3 L413.4 326.6ZM413.3 327.0 L413.4 327.6 L413.4 328.2 L413.3 328.8 L413.0 329.5 L412.9 330.2 L412.7 330.8 L413.0 330.9 L413.3 330.3 L413.5 329.6 L413.9 329.1 L414.2 328.4 L414.3 327.6 L414.3 326.9Z" fill="#e81410" opacity="1.0"/>
<ellipse cx="413.8" cy="326.9" rx="0.7" ry="0.6" fill="#e81410" opacity="1.0"/>
<path d="M413.6 327.3 L414.6 327.7 L415.5 328.0 L416.5 328.5 L416.6 328.2 L415.7 327.6 L414.8 327.1 L413.9 326.6ZM413.6 326.6 L413.0 327.0 L412.5 327.5 L411.9 327.9 L412.1 328.1 L412.7 327.9 L413.4 327.6 L414.0 327.3ZM414.1 327.2 L414.4 326.6 L414.8 326.0 L415.1 325.3 L414.9 325.2 L414.4 325.7 L413.9 326.2 L413.5 326.7ZM413.4 327.0 L413.5 327.6 L413.5 328.3 L413.6 329.0 L413.9 329.0 L414.0 328.3 L414.1 327.7 L414.2 326.9Z" fill="#ff8a1e" opacity="0.6"/>
<path d="M422.2 334.9 L423.2 335.0 L424.3 335.4 L425.4 335.3 L426.4 335.2 L427.4 334.9 L428.4 334.7 L428.4 334.5 L427.3 334.5 L426.3 334.7 L425.3 334.7 L424.3 334.6 L423.5 334.2 L422.4 333.9ZM425.0 335.2 L425.5 336.0 L426.0 336.7 L426.6 337.5 L426.8 337.3 L426.4 336.5 L426.0 335.7 L425.6 334.9ZM422.4 333.9 L421.8 333.8 L421.2 333.7 L420.5 333.4 L419.9 333.2 L419.3 333.0 L418.7 332.6 L418.6 332.7 L419.0 333.3 L419.6 333.7 L420.2 334.0 L420.8 334.4 L421.5 334.7 L422.2 334.9ZM421.8 334.4 L421.9 335.1 L422.1 335.5 L422.0 336.1 L422.0 336.7 L421.9 337.4 L422.1 338.0 L422.3 337.9 L422.4 337.3 L422.5 336.8 L422.7 336.3 L422.8 335.6 L422.8 334.9 L422.8 334.4Z" fill="#e81410" opacity="0.9"/>
<ellipse cx="422.3" cy="334.4" rx="0.7" ry="0.6" fill="#e81410" opacity="0.9"/>
<path d="M422.2 334.8 L423.2 335.0 L424.3 335.1 L425.3 335.2 L425.4 334.9 L424.4 334.7 L423.4 334.3 L422.4 334.0ZM422.6 334.1 L422.0 333.7 L421.4 333.4 L420.8 333.0 L420.6 333.2 L421.1 333.7 L421.6 334.2 L422.1 334.7ZM421.9 334.3 L421.8 334.9 L421.7 335.4 L421.6 336.0 L421.8 336.1 L422.2 335.6 L422.4 335.1 L422.7 334.5Z" fill="#ff8a1e" opacity="0.6"/>
<path d="M435.4 334.8 L437.5 336.0 L439.5 336.7 L441.3 337.8 L442.9 339.5 L444.9 340.5 L447.1 341.1 L447.2 340.9 L445.1 340.1 L443.2 339.0 L441.8 337.4 L439.9 336.0 L437.8 335.2 L436.0 334.0ZM441.2 337.6 L441.3 339.6 L441.5 341.6 L441.3 343.6 L441.6 343.6 L442.0 341.6 L441.9 339.6 L441.9 337.6ZM435.9 334.8 L437.7 334.0 L439.8 333.5 L441.6 332.7 L443.5 332.1 L445.5 332.0 L447.6 332.1 L447.6 331.9 L445.6 331.5 L443.5 331.5 L441.4 332.0 L439.5 332.7 L437.5 333.1 L435.5 333.9ZM441.9 332.4 L442.1 330.6 L442.5 328.8 L442.8 327.0 L442.6 326.9 L442.1 328.7 L441.6 330.5 L441.2 332.3ZM435.5 333.9 L434.8 334.3 L434.0 334.6 L433.3 334.8 L432.4 334.9 L431.5 334.9 L430.7 335.1 L430.7 335.3 L431.6 335.3 L432.4 335.5 L433.3 335.5 L434.2 335.4 L435.0 335.2 L435.9 334.8ZM435.2 334.3 L435.0 335.3 L435.0 336.3 L434.8 337.4 L434.8 338.3 L434.4 339.3 L434.1 340.3 L434.3 340.4 L434.8 339.5 L435.3 338.6 L435.5 337.5 L435.7 336.5 L435.9 335.4 L436.2 334.5ZM435.0 337.1 L434.2 337.7 L433.6 338.4 L432.9 339.0 L433.1 339.2 L433.9 338.7 L434.6 338.1 L435.4 337.7Z" fill="#e81410" opacity="1.0"/>
<ellipse cx="435.7" cy="334.4" rx="0.7" ry="0.6" fill="#e81410" opacity="1.0"/>
<path d="M435.6 334.8 L437.7 335.5 L439.8 336.3 L441.9 336.8 L442.0 336.6 L439.9 335.8 L437.9 334.9 L435.8 334.0ZM435.9 334.7 L437.6 333.5 L439.3 332.4 L441.1 331.3 L440.9 331.1 L439.1 332.0 L437.3 333.0 L435.5 334.1ZM435.6 334.0 L434.8 334.2 L434.0 334.6 L433.2 335.0 L433.3 335.2 L434.1 335.0 L435.0 334.8 L435.8 334.8ZM435.3 334.3 L435.1 335.2 L434.8 336.2 L434.5 337.2 L434.7 337.3 L435.2 336.4 L435.7 335.5 L436.1 334.5Z" fill="#ff8a1e" opacity="0.6"/>
<path d="M416.1 350.2 L415.7 349.4 L415.5 348.3 L415.1 347.3 L414.8 346.4 L414.4 345.4 L414.0 344.4 L413.8 344.5 L414.0 345.5 L414.2 346.5 L414.5 347.5 L414.8 348.5 L414.8 349.5 L415.2 350.6ZM415.2 347.4 L415.0 346.5 L415.0 345.6 L415.0 344.7 L414.8 344.6 L414.5 345.5 L414.5 346.5 L414.5 347.5ZM415.9 350.8 L416.8 350.2 L417.5 349.5 L418.3 348.8 L419.0 348.0 L419.7 347.3 L420.4 346.5 L420.3 346.3 L419.4 347.0 L418.6 347.6 L417.8 348.3 L417.0 348.8 L416.2 349.5 L415.4 350.0ZM418.4 348.4 L418.0 347.6 L417.8 346.8 L417.7 345.8 L417.5 345.8 L417.4 346.8 L417.5 347.7 L417.8 348.7ZM415.1 350.3 L415.0 351.6 L415.1 352.8 L415.4 354.0 L415.7 355.3 L416.2 356.3 L416.3 357.5 L416.6 357.5 L416.6 356.2 L416.2 355.0 L416.0 353.9 L415.9 352.7 L415.9 351.6 L416.1 350.4ZM415.4 353.8 L414.9 354.8 L414.7 355.9 L414.2 356.9 L414.5 357.0 L415.1 356.1 L415.5 355.0 L416.0 354.1ZM415.5 349.9 L414.9 350.1 L414.0 350.2 L413.2 350.5 L412.5 351.0 L412.0 351.6 L411.6 352.3 L411.8 352.4 L412.3 351.9 L412.9 351.4 L413.5 351.1 L414.2 350.9 L414.9 351.0 L415.7 350.9ZM415.5 350.9 L416.1 351.0 L416.9 351.4 L417.6 351.6 L418.3 351.9 L419.0 352.2 L419.8 352.4 L419.9 352.2 L419.2 351.8 L418.5 351.4 L417.9 351.0 L417.2 350.7 L416.6 350.3 L415.8 349.9Z" fill="#e81410" opacity="1.0"/>
<ellipse cx="415.6" cy="350.4" rx="0.7" ry="0.6" fill="#e81410" opacity="1.0"/>
<path d="M415.9 350.1 L415.2 349.4 L414.4 348.7 L413.6 348.0 L413.4 348.2 L414.1 349.0 L414.8 349.8 L415.3 350.6ZM415.9 350.7 L416.6 349.9 L417.3 349.1 L417.9 348.3 L417.7 348.1 L416.9 348.8 L416.2 349.5 L415.4 350.1ZM415.2 350.3 L415.1 351.5 L414.8 352.6 L414.6 353.8 L414.8 353.9 L415.2 352.8 L415.7 351.7 L416.0 350.5ZM415.5 350.0 L414.8 350.3 L414.1 350.5 L413.3 350.8 L413.4 351.1 L414.2 351.0 L414.9 350.9 L415.7 350.8ZM415.4 350.7 L416.1 351.1 L416.8 351.4 L417.6 351.6 L417.7 351.4 L417.1 351.0 L416.4 350.5 L415.8 350.1Z" fill="#ff8a1e" opacity="0.6"/>
<path d="M442.2 351.4 L441.4 351.3 L440.7 351.2 L440.1 351.3 L439.4 351.2 L438.6 351.2 L438.0 351.4 L438.0 351.6 L438.7 351.6 L439.3 351.8 L439.9 352.0 L440.7 352.0 L441.3 352.1 L441.9 352.4ZM442.4 352.2 L442.6 351.8 L442.9 351.5 L443.3 351.2 L443.7 351.0 L444.3 350.9 L444.7 350.7 L444.7 350.5 L444.1 350.5 L443.7 350.5 L443.1 350.6 L442.6 350.8 L442.1 351.1 L441.6 351.6Z" fill="#e81410" opacity="0.5"/>
<ellipse cx="442.0" cy="351.9" rx="0.7" ry="0.6" fill="#e81410" opacity="0.5"/>
<path d="M442.2 351.5 L441.5 351.4 L440.9 351.2 L440.3 350.9 L440.1 351.1 L440.6 351.5 L441.2 351.9 L441.9 352.2ZM442.4 352.1 L442.6 351.6 L442.7 351.1 L442.8 350.5 L442.6 350.4 L442.3 350.9 L442.0 351.3 L441.7 351.7Z" fill="#ff8a1e" opacity="0.6"/>
<path d="M419.5 358.3 L419.6 357.2 L419.6 356.1 L419.3 355.0 L418.9 354.1 L418.3 353.1 L417.7 352.3 L417.5 352.5 L418.0 353.4 L418.3 354.3 L418.6 355.3 L418.8 356.2 L418.7 357.1 L418.5 358.1ZM419.2 355.4 L419.8 354.9 L420.6 354.5 L421.5 354.0 L421.4 353.8 L420.5 354.1 L419.6 354.3 L418.7 354.9ZM418.5 358.3 L418.6 358.8 L418.6 359.4 L418.5 360.0 L418.2 360.6 L417.9 361.3 L417.6 361.9 L417.8 362.0 L418.2 361.5 L418.6 360.9 L419.1 360.4 L419.4 359.7 L419.5 358.9 L419.5 358.1ZM419.0 358.7 L419.8 358.6 L420.3 358.4 L421.0 358.4 L421.8 358.4 L422.5 358.2 L423.0 357.8 L422.9 357.6 L422.3 357.8 L421.6 357.9 L421.0 357.7 L420.4 357.6 L419.6 357.7 L418.9 357.7Z" fill="#e81410" opacity="1.0"/>
<ellipse cx="419.0" cy="358.2" rx="0.7" ry="0.6" fill="#e81410" opacity="1.0"/>
<path d="M419.4 358.2 L419.3 357.1 L419.2 356.1 L419.0 355.1 L418.8 355.1 L418.7 356.2 L418.7 357.2 L418.6 358.2ZM418.6 358.3 L418.9 359.0 L419.2 359.6 L419.6 360.2 L419.8 360.1 L419.6 359.4 L419.5 358.7 L419.3 358.1ZM418.9 358.6 L419.6 358.7 L420.3 358.7 L421.0 358.8 L421.0 358.5 L420.4 358.3 L419.7 358.0 L419.1 357.8Z" fill="#ff8a1e" opacity="0.6"/>
<path d="M429.5 350.8 L430.1 351.1 L430.7 351.8 L431.2 352.5 L431.8 353.2 L432.6 353.6 L433.5 353.9 L433.5 353.7 L432.8 353.2 L432.2 352.7 L431.8 352.1 L431.3 351.3 L430.8 350.6 L430.0 350.0ZM430.0 350.0 L429.5 349.6 L428.8 349.2 L428.1 349.0 L427.4 348.9 L426.7 348.9 L426.0 349.0 L426.0 349.2 L426.6 349.3 L427.3 349.4 L427.9 349.7 L428.5 349.9 L428.9 350.3 L429.5 350.8Z" fill="#e81410" opacity="0.9"/>
<ellipse cx="429.8" cy="350.4" rx="0.7" ry="0.6" fill="#e81410" opacity="0.9"/>
<path d="M429.7 350.8 L430.5 350.9 L431.4 351.0 L432.2 351.2 L432.3 350.9 L431.5 350.6 L430.7 350.3 L429.9 350.0ZM429.9 350.0 L429.3 349.8 L428.6 349.6 L428.0 349.3 L427.9 349.5 L428.4 350.0 L429.0 350.4 L429.6 350.7Z" fill="#ff8a1e" opacity="0.6"/>
<path d="M434.9 349.9 L435.3 350.5 L435.6 351.0 L435.8 351.6 L436.0 352.3 L436.4 353.0 L436.9 353.4 L437.1 353.2 L436.7 352.7 L436.5 352.1 L436.5 351.5 L436.4 350.8 L436.1 350.0 L435.8 349.4ZM435.6 350.1 L436.0 349.8 L436.7 349.4 L437.1 349.0 L437.6 348.5 L437.8 347.9 L438.0 347.3 L437.7 347.2 L437.4 347.7 L437.1 348.2 L436.7 348.5 L436.2 348.8 L435.7 348.9 L435.1 349.2Z" fill="#e81410" opacity="0.9"/>
<ellipse cx="435.3" cy="349.6" rx="0.7" ry="0.6" fill="#e81410" opacity="0.9"/>
<path d="M435.0 349.9 L435.5 350.3 L435.9 350.9 L436.3 351.5 L436.5 351.4 L436.3 350.7 L436.0 350.0 L435.7 349.4ZM435.6 350.0 L436.0 349.5 L436.5 349.1 L436.9 348.6 L436.7 348.5 L436.2 348.8 L435.6 349.0 L435.1 349.3Z" fill="#ff8a1e" opacity="0.6"/>
<path d="M430.1 385.8 L429.0 385.0 L427.9 384.5 L426.7 384.0 L425.5 383.6 L424.3 383.2 L423.0 382.9 L423.0 383.2 L424.2 383.5 L425.3 384.0 L426.4 384.6 L427.6 385.1 L428.7 385.7 L429.5 386.5ZM426.5 384.0 L425.5 384.3 L424.3 384.3 L423.2 384.2 L423.2 384.5 L424.3 384.7 L425.4 384.8 L426.6 384.6ZM430.2 386.4 L430.9 385.1 L431.3 383.7 L431.3 382.2 L430.8 380.9 L430.5 379.6 L430.1 378.3 L429.9 378.4 L430.1 379.7 L430.4 381.1 L430.7 382.4 L430.6 383.6 L430.1 384.8 L429.4 385.9ZM431.3 382.5 L431.9 381.4 L432.5 380.4 L433.3 379.5 L433.1 379.3 L432.2 380.1 L431.4 381.1 L430.7 382.1ZM429.5 386.4 L430.1 386.9 L430.6 387.3 L431.2 387.7 L431.8 387.9 L432.4 388.3 L433.0 388.6 L433.1 388.5 L432.6 388.0 L432.1 387.5 L431.5 387.2 L431.1 386.8 L430.5 386.3 L430.1 385.8ZM429.5 385.9 L429.0 386.5 L428.8 387.1 L428.4 387.6 L427.9 388.2 L427.5 388.9 L427.3 389.5 L427.5 389.6 L427.9 389.0 L428.3 388.5 L428.8 388.1 L429.3 387.6 L429.7 386.9 L430.2 386.4Z" fill="#e81410" opacity="1.0"/>
<ellipse cx="429.8" cy="386.1" rx="0.6" ry="0.5" fill="#e81410" opacity="1.0"/>
<path d="M430.1 386.0 L429.6 384.8 L428.9 383.8 L428.2 382.7 L427.9 382.9 L428.5 384.0 L429.1 385.1 L429.5 386.3ZM430.1 386.4 L431.0 385.3 L431.8 384.3 L432.6 383.1 L432.4 383.0 L431.5 384.0 L430.6 385.0 L429.6 385.9ZM429.5 386.3 L430.0 386.9 L430.4 387.4 L430.9 387.9 L431.1 387.7 L430.8 387.1 L430.4 386.5 L430.1 386.0ZM429.5 385.9 L429.2 386.6 L428.9 387.2 L428.6 387.9 L428.8 388.0 L429.3 387.5 L429.7 386.8 L430.1 386.3Z" fill="#ff8a1e" opacity="0.6"/>
<path d="M388.0 363.2 L388.4 361.9 L389.3 360.5 L389.7 359.1 L390.4 357.9 L391.6 356.9 L393.0 356.3 L392.9 356.0 L391.4 356.5 L390.1 357.4 L389.2 358.8 L388.6 360.2 L387.7 361.4 L387.1 362.9ZM389.6 359.2 L390.7 358.4 L391.9 357.7 L392.9 356.7 L392.8 356.5 L391.7 357.4 L390.4 357.9 L389.2 358.7ZM387.2 363.3 L387.8 364.2 L388.6 365.0 L389.5 365.5 L390.4 366.1 L391.3 366.6 L392.3 366.9 L392.4 366.7 L391.5 366.3 L390.7 365.7 L389.9 365.0 L389.0 364.4 L388.4 363.7 L388.0 362.8ZM389.7 365.6 L390.6 365.4 L391.5 365.4 L392.5 365.4 L392.5 365.2 L391.6 365.0 L390.6 364.9 L389.7 364.9ZM387.1 363.0 L386.9 364.3 L386.0 365.8 L385.7 367.3 L385.6 368.7 L384.9 370.1 L384.4 371.6 L384.6 371.7 L385.3 370.3 L386.0 369.0 L386.3 367.4 L386.7 365.9 L387.6 364.8 L388.0 363.2ZM385.7 367.4 L386.1 368.8 L386.9 370.0 L387.9 371.0 L388.0 370.8 L387.2 369.7 L386.6 368.5 L386.3 367.3ZM387.8 362.7 L386.5 362.0 L385.2 361.7 L383.9 361.7 L382.6 361.7 L381.4 361.4 L380.1 361.0 L380.0 361.2 L381.2 361.8 L382.5 362.2 L383.8 362.4 L385.2 362.4 L386.3 362.8 L387.3 363.5ZM384.2 361.9 L383.6 360.8 L383.0 359.9 L382.6 358.8 L382.4 358.8 L382.6 360.0 L383.1 361.1 L383.6 362.2Z" fill="#e81410" opacity="1.0"/>
<ellipse cx="387.6" cy="363.1" rx="0.7" ry="0.6" fill="#e81410" opacity="1.0"/>
<path d="M387.9 363.2 L388.5 361.9 L389.2 360.5 L389.7 359.0 L389.5 358.9 L388.8 360.3 L388.0 361.6 L387.2 362.9ZM387.3 363.3 L388.1 364.1 L389.0 364.6 L389.9 365.1 L390.1 364.9 L389.2 364.2 L388.5 363.6 L387.8 362.8ZM387.2 362.9 L386.5 364.2 L385.7 365.6 L385.1 367.0 L385.3 367.1 L386.1 365.8 L387.0 364.6 L387.9 363.3ZM387.7 362.7 L386.4 362.4 L385.2 362.0 L383.9 361.6 L383.8 361.8 L385.0 362.5 L386.2 363.0 L387.5 363.4Z" fill="#ff8a1e" opacity="0.6"/>
<path d="M383.4 337.9 L382.4 337.0 L381.3 336.4 L380.2 336.2 L379.0 336.0 L377.8 336.0 L376.6 335.9 L376.6 336.2 L377.8 336.3 L378.9 336.5 L380.0 336.7 L381.1 337.1 L382.1 337.6 L382.8 338.4ZM380.2 336.2 L379.2 335.9 L378.2 335.5 L377.2 335.2 L377.1 335.4 L378.1 335.8 L379.0 336.4 L380.0 336.7ZM383.5 338.2 L383.6 337.0 L383.4 335.9 L383.0 335.0 L383.0 333.9 L382.9 332.8 L382.7 331.8 L382.5 331.8 L382.5 332.9 L382.5 333.9 L382.5 335.0 L382.8 336.1 L382.9 337.1 L382.7 338.1ZM383.0 334.8 L382.4 334.1 L381.7 333.4 L381.2 332.6 L381.0 332.7 L381.4 333.6 L382.0 334.4 L382.5 335.2ZM383.1 338.6 L384.1 338.5 L385.2 338.7 L386.4 338.9 L387.5 338.8 L388.6 338.7 L389.7 338.4 L389.7 338.1 L388.6 338.3 L387.5 338.3 L386.3 338.4 L385.3 338.1 L384.3 337.8 L383.1 337.7ZM386.5 338.9 L387.3 338.6 L388.3 338.5 L389.3 338.6 L389.4 338.3 L388.4 338.1 L387.3 338.1 L386.3 338.4ZM382.7 338.2 L382.8 338.9 L382.8 339.6 L382.8 340.5 L382.9 341.3 L383.3 342.0 L383.6 342.6 L383.8 342.6 L383.6 341.8 L383.4 341.1 L383.3 340.4 L383.5 339.7 L383.5 338.9 L383.5 338.1ZM382.9 340.1 L382.3 340.4 L381.6 340.8 L381.2 341.3 L381.4 341.5 L381.9 341.1 L382.5 340.8 L383.1 340.7Z" fill="#e81410" opacity="1.0"/>
<ellipse cx="383.1" cy="338.2" rx="0.5" ry="0.5" fill="#e81410" opacity="1.0"/>
<path d="M383.3 337.9 L382.3 337.2 L381.4 336.5 L380.4 335.8 L380.3 336.0 L381.1 336.8 L382.0 337.6 L382.9 338.4ZM383.4 338.2 L383.3 337.1 L383.2 336.0 L383.0 334.9 L382.8 334.9 L382.8 336.0 L382.8 337.1 L382.7 338.2ZM383.0 338.5 L384.1 338.7 L385.2 338.8 L386.3 339.0 L386.4 338.7 L385.3 338.4 L384.2 338.2 L383.1 337.8ZM382.7 338.2 L382.9 339.0 L383.0 339.7 L383.2 340.4 L383.5 340.4 L383.4 339.6 L383.4 338.9 L383.4 338.1Z" fill="#ff8a1e" opacity="0.6"/>
<path d="M384.5 341.2 L385.1 341.5 L385.6 342.2 L386.2 342.7 L386.7 343.2 L387.1 343.8 L387.4 344.5 L387.7 344.4 L387.5 343.7 L387.1 342.9 L386.7 342.3 L386.2 341.6 L385.8 341.0 L385.1 340.4ZM384.3 340.7 L384.1 342.3 L384.3 343.8 L384.4 345.3 L384.3 346.7 L383.8 348.1 L382.9 349.3 L383.1 349.5 L384.1 348.4 L384.8 346.9 L385.0 345.4 L385.0 343.8 L385.0 342.3 L385.3 340.9ZM384.5 345.1 L383.5 345.9 L382.4 346.8 L381.5 347.9 L381.7 348.0 L382.7 347.1 L383.8 346.4 L384.9 345.6ZM384.8 340.3 L383.5 340.3 L382.2 340.3 L380.7 340.2 L379.5 340.4 L378.1 340.3 L376.7 340.5 L376.7 340.8 L378.1 340.7 L379.4 340.9 L380.8 340.9 L382.1 341.1 L383.4 341.2 L384.8 341.3ZM380.5 340.4 L379.9 341.4 L379.4 342.4 L378.5 343.3 L378.6 343.5 L379.6 342.8 L380.4 341.7 L381.1 340.7ZM385.2 341.1 L386.0 339.8 L386.5 338.5 L387.2 337.1 L387.5 335.6 L387.7 334.2 L387.6 332.7 L387.3 332.7 L387.3 334.2 L386.9 335.5 L386.5 336.9 L385.8 338.1 L385.2 339.4 L384.4 340.5ZM387.0 337.3 L388.1 336.8 L389.4 336.5 L390.6 335.8 L390.5 335.6 L389.2 336.1 L388.0 336.2 L386.7 336.7Z" fill="#e81410" opacity="1.0"/>
<ellipse cx="384.8" cy="340.8" rx="0.7" ry="0.6" fill="#e81410" opacity="1.0"/>
<path d="M384.7 341.2 L385.5 341.3 L386.2 341.4 L387.0 341.5 L387.1 341.3 L386.4 341.0 L385.7 340.7 L384.9 340.4ZM384.4 340.7 L384.0 342.2 L383.7 343.7 L383.5 345.2 L383.7 345.2 L384.1 343.8 L384.6 342.3 L385.2 340.9ZM384.8 340.4 L383.5 340.4 L382.2 340.3 L380.8 340.2 L380.8 340.4 L382.1 340.7 L383.4 341.0 L384.8 341.2ZM385.1 341.1 L385.9 339.9 L386.8 338.7 L387.7 337.6 L387.5 337.4 L386.5 338.4 L385.5 339.5 L384.5 340.6Z" fill="#ff8a1e" opacity="0.6"/>
<path d="M417.1 367.0 L416.2 367.6 L415.3 368.1 L414.1 368.4 L413.2 369.0 L412.3 369.6 L411.3 370.1 L411.4 370.3 L412.5 369.9 L413.5 369.4 L414.4 368.9 L415.4 368.7 L416.5 368.2 L417.5 367.7ZM414.0 368.6 L413.8 369.5 L413.6 370.4 L413.1 371.3 L413.3 371.4 L413.9 370.6 L414.3 369.7 L414.6 368.7ZM417.3 366.9 L416.1 366.8 L414.9 366.5 L413.7 366.4 L412.5 366.0 L411.3 365.7 L410.0 365.5 L410.0 365.8 L411.2 366.1 L412.4 366.5 L413.5 366.9 L414.8 367.1 L416.0 367.5 L417.2 367.8ZM413.6 366.4 L412.4 366.5 L411.4 366.9 L410.3 367.2 L410.4 367.4 L411.5 367.3 L412.6 367.0 L413.6 366.9ZM417.7 367.4 L417.8 366.8 L417.9 366.3 L418.3 365.6 L418.5 364.9 L418.5 364.3 L418.6 363.7 L418.4 363.6 L418.1 364.2 L418.0 364.9 L417.8 365.4 L417.4 365.9 L417.1 366.6 L416.9 367.3ZM417.3 367.8 L418.5 367.6 L419.7 367.7 L421.0 368.1 L422.3 368.2 L423.6 368.4 L424.9 368.2 L424.8 367.9 L423.6 368.0 L422.4 367.7 L421.1 367.5 L419.9 367.1 L418.6 366.9 L417.2 366.9ZM420.9 368.0 L421.8 368.7 L422.7 369.4 L423.7 370.0 L423.9 369.8 L423.0 369.1 L422.1 368.3 L421.2 367.6ZM416.9 367.4 L417.0 368.3 L417.3 369.3 L417.8 370.0 L418.1 370.9 L418.6 371.6 L419.1 372.4 L419.3 372.3 L419.0 371.4 L418.5 370.6 L418.3 369.8 L417.9 368.9 L417.7 368.1 L417.7 367.3ZM417.8 370.1 L418.4 370.6 L418.8 371.4 L419.5 371.9 L419.6 371.7 L419.1 371.1 L418.8 370.4 L418.3 369.7Z" fill="#e81410" opacity="1.0"/>
<ellipse cx="417.3" cy="367.3" rx="0.6" ry="0.5" fill="#e81410" opacity="1.0"/>
<path d="M417.0 367.1 L416.3 367.9 L415.5 368.6 L414.7 369.3 L414.8 369.5 L415.7 369.0 L416.7 368.3 L417.5 367.6ZM417.3 367.0 L416.0 367.1 L414.8 367.1 L413.5 367.1 L413.5 367.4 L414.8 367.5 L416.0 367.6 L417.3 367.7ZM417.6 367.5 L417.8 366.8 L417.9 366.1 L418.0 365.5 L417.7 365.4 L417.5 366.1 L417.3 366.6 L417.0 367.2ZM417.2 367.7 L418.4 368.0 L419.7 368.2 L420.9 368.5 L421.0 368.3 L419.8 367.8 L418.6 367.5 L417.4 367.0ZM417.0 367.4 L417.3 368.3 L417.5 369.2 L417.9 370.0 L418.1 369.9 L417.9 369.0 L417.8 368.2 L417.6 367.3Z" fill="#ff8a1e" opacity="0.6"/>
<path d="M394.4 357.1 L394.1 355.6 L393.5 354.3 L393.2 352.9 L392.7 351.5 L392.1 350.1 L391.4 348.8 L391.2 348.9 L391.7 350.3 L392.2 351.7 L392.6 353.0 L392.8 354.5 L393.3 355.9 L393.5 357.3ZM393.1 352.7 L392.2 351.8 L391.2 350.9 L390.3 350.0 L390.1 350.1 L390.9 351.2 L391.8 352.2 L392.6 353.2ZM393.8 357.6 L394.9 358.0 L396.0 357.9 L396.9 357.7 L397.9 357.7 L399.0 357.9 L400.0 358.0 L400.1 357.8 L399.0 357.5 L398.1 357.2 L397.0 357.0 L395.9 357.2 L394.9 357.1 L394.1 356.8ZM396.9 357.7 L397.8 357.7 L398.6 358.0 L399.4 358.6 L399.5 358.4 L398.9 357.7 L398.0 357.2 L397.0 357.0ZM393.5 357.0 L393.3 357.7 L392.9 358.6 L392.8 359.3 L392.6 360.0 L392.2 360.7 L391.9 361.5 L392.1 361.6 L392.5 360.9 L393.1 360.3 L393.4 359.5 L393.6 358.7 L394.0 358.1 L394.4 357.4ZM394.1 356.7 L392.7 356.4 L391.5 355.8 L390.2 354.9 L388.9 354.4 L387.8 353.5 L386.9 352.4 L386.7 352.5 L387.5 353.8 L388.6 354.8 L390.0 355.5 L391.0 356.4 L392.3 357.1 L393.8 357.6ZM389.9 354.9 L388.8 355.6 L387.7 356.4 L386.8 357.3 L387.0 357.5 L388.0 356.7 L389.1 356.1 L390.2 355.5Z" fill="#e81410" opacity="1.0"/>
<ellipse cx="393.9" cy="357.2" rx="0.7" ry="0.6" fill="#e81410" opacity="1.0"/>
<path d="M394.3 357.2 L394.2 355.7 L394.1 354.3 L393.9 352.8 L393.7 352.8 L393.6 354.3 L393.6 355.7 L393.6 357.2ZM393.7 357.5 L394.7 358.0 L395.6 358.4 L396.5 359.0 L396.6 358.8 L395.9 358.1 L395.0 357.4 L394.1 356.9ZM393.6 357.1 L393.5 357.9 L393.5 358.8 L393.5 359.6 L393.7 359.6 L393.9 358.8 L394.1 358.0 L394.3 357.2ZM394.0 356.8 L392.6 356.5 L391.2 356.0 L389.8 355.7 L389.8 355.9 L391.1 356.5 L392.4 357.0 L393.8 357.5Z" fill="#ff8a1e" opacity="0.6"/>
<path d="M383.2 338.4 L382.9 337.7 L382.9 337.0 L383.1 336.1 L383.0 335.4 L383.2 334.5 L383.3 333.7 L383.1 333.7 L382.8 334.4 L382.5 335.2 L382.4 336.1 L382.2 336.8 L382.0 337.7 L382.2 338.6ZM382.9 338.9 L384.3 338.2 L385.5 337.5 L386.9 336.9 L388.2 336.1 L389.5 335.2 L390.5 334.1 L390.3 334.0 L389.2 334.9 L387.9 335.7 L386.6 336.3 L385.2 336.8 L383.8 337.4 L382.5 338.1ZM386.7 336.9 L388.0 336.9 L389.4 337.2 L390.7 337.3 L390.8 337.1 L389.4 336.8 L388.2 336.4 L386.8 336.2ZM382.6 339.0 L383.7 339.2 L384.7 339.7 L385.6 340.3 L386.3 341.3 L387.3 342.1 L388.3 342.7 L388.4 342.5 L387.5 341.7 L386.7 340.9 L386.1 339.9 L385.2 339.1 L384.0 338.4 L382.9 338.0ZM385.9 340.5 L387.0 340.2 L387.9 339.8 L389.0 339.5 L388.9 339.2 L387.8 339.3 L386.8 339.6 L385.7 339.8ZM382.3 338.2 L381.7 339.1 L381.4 340.1 L381.0 341.0 L380.7 342.0 L380.7 343.1 L381.0 344.0 L381.2 344.0 L381.1 343.0 L381.3 342.1 L381.6 341.2 L382.1 340.4 L382.5 339.5 L383.1 338.8ZM381.3 340.8 L380.4 340.9 L379.5 341.2 L378.7 341.4 L378.7 341.6 L379.6 341.6 L380.5 341.5 L381.4 341.5ZM382.7 338.0 L381.2 338.2 L379.6 338.2 L378.1 338.4 L376.6 338.2 L375.0 337.9 L373.5 337.7 L373.5 337.9 L375.0 338.3 L376.4 338.8 L378.0 339.0 L379.6 339.0 L381.2 339.0 L382.7 339.0ZM378.3 338.4 L377.2 337.5 L375.9 336.9 L374.5 336.5 L374.4 336.8 L375.7 337.3 L376.9 338.0 L377.8 339.0Z" fill="#e81410" opacity="1.0"/>
<ellipse cx="382.7" cy="338.5" rx="0.7" ry="0.6" fill="#e81410" opacity="1.0"/>
<path d="M383.0 338.2 L382.4 337.7 L381.8 337.1 L381.2 336.6 L381.0 336.7 L381.4 337.4 L381.9 338.1 L382.4 338.8ZM382.9 338.8 L384.1 338.0 L385.4 337.3 L386.7 336.5 L386.6 336.3 L385.2 336.9 L383.8 337.4 L382.5 338.2ZM382.6 338.9 L383.7 339.3 L384.8 339.6 L385.9 340.0 L386.0 339.8 L385.0 339.2 L383.9 338.7 L382.9 338.1ZM382.4 338.2 L381.8 339.0 L381.2 339.8 L380.5 340.5 L380.7 340.7 L381.5 340.1 L382.3 339.5 L383.0 338.8ZM382.5 338.2 L381.2 338.9 L379.8 339.8 L378.7 340.9 L378.9 341.1 L380.1 340.2 L381.5 339.5 L382.9 338.9Z" fill="#ff8a1e" opacity="0.6"/>
<path d="M396.7 365.2 L397.0 366.3 L397.4 367.3 L398.0 368.2 L398.7 368.9 L399.3 369.8 L400.0 370.5 L400.2 370.4 L399.5 369.5 L399.1 368.7 L398.4 367.8 L398.0 367.0 L397.8 366.0 L397.6 365.0ZM397.9 367.8 L397.5 368.6 L396.8 369.2 L396.2 369.9 L396.4 370.1 L397.1 369.5 L397.8 369.0 L398.5 368.2ZM397.2 364.7 L395.9 364.6 L394.6 364.5 L393.2 364.5 L392.0 364.5 L390.6 364.4 L389.3 364.5 L389.3 364.8 L390.6 364.8 L391.9 365.0 L393.2 365.1 L394.5 365.2 L395.8 365.4 L397.1 365.6ZM393.0 364.5 L392.3 365.4 L391.4 366.2 L390.5 367.0 L390.7 367.2 L391.7 366.6 L392.6 365.8 L393.5 365.0ZM397.3 365.6 L398.5 365.2 L399.9 365.0 L401.2 364.5 L402.3 363.8 L403.5 363.1 L404.7 362.4 L404.5 362.2 L403.3 362.8 L402.1 363.3 L400.9 363.9 L399.7 364.3 L398.4 364.5 L397.1 364.7ZM400.9 364.4 L401.8 365.1 L402.5 366.1 L403.5 366.8 L403.7 366.6 L402.8 365.8 L402.2 364.8 L401.3 364.0Z" fill="#e81410" opacity="1.0"/>
<ellipse cx="397.2" cy="365.1" rx="0.6" ry="0.5" fill="#e81410" opacity="1.0"/>
<path d="M396.8 365.2 L397.0 366.2 L397.2 367.2 L397.5 368.2 L397.7 368.2 L397.6 367.1 L397.6 366.1 L397.5 365.1ZM397.2 364.8 L395.9 364.7 L394.6 364.6 L393.2 364.7 L393.3 365.0 L394.6 365.0 L395.8 365.2 L397.1 365.5ZM397.3 365.5 L398.6 365.1 L399.8 364.5 L400.9 363.8 L400.8 363.6 L399.6 364.1 L398.4 364.5 L397.1 364.8Z" fill="#ff8a1e" opacity="0.6"/>
<path d="M423.4 384.1 L422.8 382.9 L422.7 381.3 L422.1 380.0 L421.6 378.8 L421.3 377.4 L421.2 376.0 L421.0 376.0 L420.9 377.4 L421.1 378.8 L421.5 380.3 L422.0 381.6 L422.0 382.9 L422.5 384.4ZM422.1 380.3 L422.7 379.1 L422.8 377.7 L422.6 376.5 L422.3 376.5 L422.4 377.8 L422.2 379.0 L421.5 380.0ZM422.8 384.6 L423.8 385.1 L424.9 385.8 L426.1 386.2 L427.2 386.7 L428.5 387.0 L429.7 386.7 L429.7 386.5 L428.5 386.6 L427.3 386.2 L426.3 385.6 L425.2 385.1 L424.3 384.4 L423.1 383.8ZM426.3 386.2 L427.4 385.9 L428.4 385.5 L429.5 385.2 L429.4 385.0 L428.3 385.1 L427.2 385.4 L426.1 385.6ZM422.5 384.2 L422.3 385.6 L422.1 387.1 L421.6 388.6 L421.7 390.1 L422.1 391.6 L423.0 392.8 L423.2 392.7 L422.5 391.4 L422.2 390.0 L422.2 388.6 L422.7 387.3 L423.1 385.8 L423.4 384.3ZM421.7 388.3 L420.8 389.3 L420.0 390.3 L418.9 391.1 L419.0 391.3 L420.2 390.7 L421.2 389.7 L422.2 388.8Z" fill="#e81410" opacity="1.0"/>
<ellipse cx="422.9" cy="384.2" rx="0.6" ry="0.5" fill="#e81410" opacity="1.0"/>
<path d="M423.3 384.2 L423.0 382.7 L422.5 381.4 L422.0 380.1 L421.8 380.1 L422.1 381.5 L422.4 382.9 L422.6 384.3ZM422.8 384.5 L423.9 385.1 L424.9 385.7 L426.0 386.3 L426.1 386.1 L425.2 385.3 L424.1 384.6 L423.1 383.9ZM422.6 384.1 L422.2 385.6 L422.0 387.0 L421.6 388.5 L421.8 388.6 L422.4 387.2 L422.7 385.7 L423.3 384.4Z" fill="#ff8a1e" opacity="0.6"/>
<path d="M424.5 364.8 L424.2 365.8 L423.8 366.8 L423.3 367.9 L423.0 368.9 L422.5 369.9 L421.9 370.8 L422.1 371.0 L422.8 370.1 L423.5 369.2 L423.9 368.1 L424.4 367.2 L424.9 366.2 L425.4 365.1ZM423.4 368.3 L424.4 368.6 L425.4 368.9 L426.3 369.3 L426.4 369.0 L425.5 368.5 L424.6 368.1 L423.7 367.7ZM425.3 364.7 L424.5 363.5 L423.4 362.6 L422.6 361.5 L422.0 360.2 L421.1 359.0 L420.0 358.1 L419.8 358.3 L420.9 359.3 L421.5 360.5 L422.1 361.7 L422.8 363.0 L423.9 364.1 L424.6 365.2ZM422.3 361.3 L421.1 361.4 L419.9 361.2 L418.6 361.0 L418.5 361.2 L419.8 361.6 L421.0 361.9 L422.3 361.9ZM425.3 365.3 L426.1 364.4 L427.1 363.6 L428.3 362.8 L429.0 361.7 L429.4 360.5 L430.2 359.5 L430.1 359.3 L429.1 360.2 L428.6 361.5 L427.8 362.4 L426.7 363.0 L425.6 363.7 L424.6 364.6ZM428.3 362.5 L427.8 361.4 L427.2 360.3 L426.3 359.6 L426.2 359.7 L426.9 360.6 L427.4 361.6 L427.7 362.7Z" fill="#e81410" opacity="1.0"/>
<ellipse cx="425.0" cy="365.0" rx="0.6" ry="0.5" fill="#e81410" opacity="1.0"/>
<path d="M424.6 364.9 L424.5 366.0 L424.4 367.1 L424.2 368.2 L424.5 368.3 L424.8 367.2 L425.1 366.1 L425.3 365.0ZM425.2 364.7 L424.1 363.8 L422.9 363.0 L421.6 362.2 L421.5 362.4 L422.6 363.3 L423.7 364.2 L424.7 365.2ZM425.2 365.2 L426.0 364.1 L426.6 362.9 L427.1 361.7 L426.9 361.6 L426.2 362.7 L425.5 363.8 L424.7 364.7Z" fill="#ff8a1e" opacity="0.6"/>
</g><g filter="url(#bl04)"><ellipse cx="413.8" cy="326.9" rx="2.3" ry="1.7" fill="#0a22f0" opacity="0.51" transform="rotate(171 413.8 326.9)"/>
<ellipse cx="422.3" cy="334.4" rx="2.6" ry="2.2" fill="#0a22f0" opacity="0.64" transform="rotate(65 422.3 334.4)"/>
<ellipse cx="421.9" cy="334.1" rx="1.4" ry="1.2" fill="#2a58ff" opacity="0.64" transform="rotate(65 422.3 334.4)"/>
<ellipse cx="435.7" cy="334.4" rx="2.6" ry="2.0" fill="#0a22f0" opacity="0.51" transform="rotate(116 435.7 334.4)"/>
<ellipse cx="415.6" cy="350.4" rx="2.8" ry="2.4" fill="#0a22f0" opacity="0.59" transform="rotate(180 415.6 350.4)"/>
<ellipse cx="442.0" cy="351.9" rx="2.6" ry="1.7" fill="#0a22f0" opacity="0.51" transform="rotate(40 442.0 351.9)"/>
<ellipse cx="412.3" cy="338.9" rx="2.3" ry="2.0" fill="#0a22f0" opacity="1.00" transform="rotate(0 412.3 338.9)"/>
<ellipse cx="411.9" cy="338.6" rx="1.3" ry="1.1" fill="#2a58ff" opacity="1.00" transform="rotate(0 412.3 338.9)"/>
<ellipse cx="416.4" cy="338.9" rx="1.8" ry="1.3" fill="#0a22f0" opacity="0.77" transform="rotate(60 416.4 338.9)"/>
<ellipse cx="416.1" cy="338.7" rx="1.0" ry="0.7" fill="#2a58ff" opacity="0.77" transform="rotate(60 416.4 338.9)"/>
<ellipse cx="416.7" cy="357.1" rx="2.6" ry="1.8" fill="#0a22f0" opacity="0.68" transform="rotate(120 416.7 357.1)"/>
<ellipse cx="416.4" cy="356.8" rx="1.4" ry="1.0" fill="#2a58ff" opacity="0.68" transform="rotate(120 416.7 357.1)"/>
<ellipse cx="439.1" cy="325.5" rx="1.5" ry="0.8" fill="#0a22f0" opacity="0.59" transform="rotate(80 439.1 325.5)"/>
<ellipse cx="443.9" cy="325.5" rx="1.5" ry="0.8" fill="#0a22f0" opacity="0.42" transform="rotate(80 443.9 325.5)"/>
<ellipse cx="388.4" cy="362.5" rx="2.2" ry="2.0" fill="#0a22f0" opacity="1.00" transform="rotate(35 388.4 362.5)"/>
<ellipse cx="388.1" cy="362.2" rx="1.2" ry="1.1" fill="#2a58ff" opacity="1.00" transform="rotate(35 388.4 362.5)"/>
<ellipse cx="385.6" cy="341.2" rx="2.2" ry="1.5" fill="#0a22f0" opacity="1.00" transform="rotate(162 385.6 341.2)"/>
<ellipse cx="385.3" cy="341.0" rx="1.2" ry="0.8" fill="#2a58ff" opacity="1.00" transform="rotate(162 385.6 341.2)"/>
<ellipse cx="396.5" cy="364.8" rx="2.3" ry="1.9" fill="#0a22f0" opacity="1.00" transform="rotate(178 396.5 364.8)"/>
<ellipse cx="396.1" cy="364.6" rx="1.3" ry="1.0" fill="#2a58ff" opacity="1.00" transform="rotate(178 396.5 364.8)"/>
<ellipse cx="425.5" cy="365.5" rx="2.3" ry="1.8" fill="#0a22f0" opacity="1.00" transform="rotate(99 425.5 365.5)"/>
<ellipse cx="425.2" cy="365.3" rx="1.3" ry="1.0" fill="#2a58ff" opacity="1.00" transform="rotate(99 425.5 365.5)"/>
<ellipse cx="411.9" cy="376.5" rx="2.0" ry="1.4" fill="#0a22f0" opacity="0.77" transform="rotate(37 411.9 376.5)"/>
<ellipse cx="411.6" cy="376.3" rx="1.1" ry="0.8" fill="#2a58ff" opacity="0.77" transform="rotate(37 411.9 376.5)"/>
<ellipse cx="380.7" cy="369.9" rx="1.6" ry="1.2" fill="#0a22f0" opacity="0.95" transform="rotate(79 380.7 369.9)"/>
<ellipse cx="380.5" cy="369.8" rx="0.9" ry="0.7" fill="#2a58ff" opacity="0.95" transform="rotate(79 380.7 369.9)"/>
<ellipse cx="380.8" cy="337.3" rx="2.1" ry="1.8" fill="#0a22f0" opacity="0.99" transform="rotate(122 380.8 337.3)"/>
<ellipse cx="380.5" cy="337.1" rx="1.1" ry="1.0" fill="#2a58ff" opacity="0.99" transform="rotate(122 380.8 337.3)"/>
<ellipse cx="385.7" cy="377.4" rx="1.9" ry="1.7" fill="#0a22f0" opacity="0.78" transform="rotate(13 385.7 377.4)"/>
<ellipse cx="385.4" cy="377.2" rx="1.0" ry="0.9" fill="#2a58ff" opacity="0.78" transform="rotate(13 385.7 377.4)"/>
<ellipse cx="408.3" cy="371.7" rx="1.7" ry="1.5" fill="#0a22f0" opacity="0.91" transform="rotate(1 408.3 371.7)"/>
<ellipse cx="408.0" cy="371.6" rx="0.9" ry="0.8" fill="#2a58ff" opacity="0.91" transform="rotate(1 408.3 371.7)"/>
<ellipse cx="414.3" cy="366.2" rx="1.6" ry="1.3" fill="#0a22f0" opacity="0.94" transform="rotate(105 414.3 366.2)"/>
<ellipse cx="414.1" cy="366.0" rx="0.9" ry="0.7" fill="#2a58ff" opacity="0.94" transform="rotate(105 414.3 366.2)"/>
<ellipse cx="389.9" cy="367.7" rx="2.2" ry="1.9" fill="#0a22f0" opacity="0.89" transform="rotate(20 389.9 367.7)"/>
<ellipse cx="389.6" cy="367.5" rx="1.2" ry="1.0" fill="#2a58ff" opacity="0.89" transform="rotate(20 389.9 367.7)"/>
<ellipse cx="448.0" cy="375.4" rx="2.1" ry="1.8" fill="#0a22f0" opacity="0.83" transform="rotate(44 448.0 375.4)"/>
<ellipse cx="447.6" cy="375.2" rx="1.2" ry="1.0" fill="#2a58ff" opacity="0.83" transform="rotate(44 448.0 375.4)"/>
<ellipse cx="432.4" cy="380.6" rx="2.0" ry="1.6" fill="#0a22f0" opacity="0.78" transform="rotate(126 432.4 380.6)"/>
<ellipse cx="432.1" cy="380.4" rx="1.1" ry="0.9" fill="#2a58ff" opacity="0.78" transform="rotate(126 432.4 380.6)"/>
<ellipse cx="421.2" cy="370.7" rx="1.7" ry="1.2" fill="#0a22f0" opacity="0.89" transform="rotate(113 421.2 370.7)"/>
<ellipse cx="420.9" cy="370.5" rx="0.9" ry="0.7" fill="#2a58ff" opacity="0.89" transform="rotate(113 421.2 370.7)"/>
<ellipse cx="393.9" cy="350.1" rx="1.9" ry="1.8" fill="#0a22f0" opacity="0.79" transform="rotate(58 393.9 350.1)"/>
<ellipse cx="393.6" cy="349.9" rx="1.1" ry="1.0" fill="#2a58ff" opacity="0.79" transform="rotate(58 393.9 350.1)"/>
<ellipse cx="388.7" cy="342.8" rx="1.9" ry="1.5" fill="#0a22f0" opacity="0.88" transform="rotate(89 388.7 342.8)"/>
<ellipse cx="388.4" cy="342.6" rx="1.1" ry="0.8" fill="#2a58ff" opacity="0.88" transform="rotate(89 388.7 342.8)"/>
<ellipse cx="387.3" cy="349.6" rx="1.9" ry="1.6" fill="#0a22f0" opacity="0.83" transform="rotate(108 387.3 349.6)"/>
<ellipse cx="387.0" cy="349.4" rx="1.0" ry="0.9" fill="#2a58ff" opacity="0.83" transform="rotate(108 387.3 349.6)"/>
<ellipse cx="429.6" cy="368.1" rx="1.8" ry="1.3" fill="#0a22f0" opacity="0.99" transform="rotate(35 429.6 368.1)"/>
<ellipse cx="429.3" cy="367.9" rx="1.0" ry="0.7" fill="#2a58ff" opacity="0.99" transform="rotate(35 429.6 368.1)"/>
<ellipse cx="389.2" cy="388.6" rx="1.6" ry="1.5" fill="#0a22f0" opacity="0.78" transform="rotate(37 389.2 388.6)"/>
<ellipse cx="389.0" cy="388.4" rx="0.9" ry="0.8" fill="#2a58ff" opacity="0.78" transform="rotate(37 389.2 388.6)"/>
<ellipse cx="424.6" cy="386.5" rx="1.6" ry="1.2" fill="#0a22f0" opacity="0.88" transform="rotate(73 424.6 386.5)"/>
<ellipse cx="424.4" cy="386.4" rx="0.9" ry="0.7" fill="#2a58ff" opacity="0.88" transform="rotate(73 424.6 386.5)"/>
<ellipse cx="385.9" cy="387.3" rx="1.8" ry="1.2" fill="#0a22f0" opacity="0.88" transform="rotate(159 385.9 387.3)"/>
<ellipse cx="385.6" cy="387.2" rx="1.0" ry="0.7" fill="#2a58ff" opacity="0.88" transform="rotate(159 385.9 387.3)"/>
<ellipse cx="405.7" cy="371.9" rx="1.9" ry="1.7" fill="#0a22f0" opacity="0.79" transform="rotate(22 405.7 371.9)"/>
<ellipse cx="405.4" cy="371.7" rx="1.1" ry="0.9" fill="#2a58ff" opacity="0.79" transform="rotate(22 405.7 371.9)"/>
<ellipse cx="424.3" cy="378.5" rx="2.0" ry="1.6" fill="#0a22f0" opacity="0.92" transform="rotate(61 424.3 378.5)"/>
<ellipse cx="424.0" cy="378.3" rx="1.1" ry="0.9" fill="#2a58ff" opacity="0.92" transform="rotate(61 424.3 378.5)"/>
<ellipse cx="390.8" cy="350.8" rx="1.8" ry="1.2" fill="#0a22f0" opacity="0.94" transform="rotate(132 390.8 350.8)"/>
<ellipse cx="390.6" cy="350.6" rx="1.0" ry="0.7" fill="#2a58ff" opacity="0.94" transform="rotate(132 390.8 350.8)"/>
<ellipse cx="431.6" cy="363.0" rx="1.8" ry="1.4" fill="#0a22f0" opacity="0.99" transform="rotate(97 431.6 363.0)"/>
<ellipse cx="431.3" cy="362.8" rx="1.0" ry="0.8" fill="#2a58ff" opacity="0.99" transform="rotate(97 431.6 363.0)"/>
<ellipse cx="428.5" cy="373.2" rx="1.6" ry="1.4" fill="#0a22f0" opacity="0.78" transform="rotate(148 428.5 373.2)"/>
<ellipse cx="428.2" cy="373.1" rx="0.9" ry="0.8" fill="#2a58ff" opacity="0.78" transform="rotate(148 428.5 373.2)"/>
<ellipse cx="449.7" cy="343.6" rx="2.0" ry="1.5" fill="#0a22f0" opacity="0.79" transform="rotate(54 449.7 343.6)"/>
<ellipse cx="449.4" cy="343.4" rx="1.1" ry="0.8" fill="#2a58ff" opacity="0.79" transform="rotate(54 449.7 343.6)"/>
<ellipse cx="409.5" cy="355.7" rx="1.6" ry="1.3" fill="#0a22f0" opacity="0.93" transform="rotate(132 409.5 355.7)"/>
<ellipse cx="409.2" cy="355.5" rx="0.9" ry="0.7" fill="#2a58ff" opacity="0.93" transform="rotate(132 409.5 355.7)"/>
<ellipse cx="441.2" cy="374.1" rx="1.6" ry="1.3" fill="#0a22f0" opacity="0.85" transform="rotate(112 441.2 374.1)"/>
<ellipse cx="440.9" cy="374.0" rx="0.9" ry="0.7" fill="#2a58ff" opacity="0.85" transform="rotate(112 441.2 374.1)"/>
<ellipse cx="415.9" cy="387.9" rx="1.8" ry="1.3" fill="#0a22f0" opacity="0.80" transform="rotate(177 415.9 387.9)"/>
<ellipse cx="415.6" cy="387.7" rx="1.0" ry="0.7" fill="#2a58ff" opacity="0.80" transform="rotate(177 415.9 387.9)"/>
<ellipse cx="406.8" cy="346.7" rx="2.0" ry="1.9" fill="#0a22f0" opacity="0.94" transform="rotate(18 406.8 346.7)"/>
<ellipse cx="406.5" cy="346.5" rx="1.1" ry="1.0" fill="#2a58ff" opacity="0.94" transform="rotate(18 406.8 346.7)"/>
<ellipse cx="425.6" cy="370.9" rx="1.6" ry="1.2" fill="#0a22f0" opacity="0.85" transform="rotate(160 425.6 370.9)"/>
<ellipse cx="425.4" cy="370.7" rx="0.9" ry="0.7" fill="#2a58ff" opacity="0.85" transform="rotate(160 425.6 370.9)"/>
<ellipse cx="450.5" cy="388.2" rx="1.7" ry="1.3" fill="#0a22f0" opacity="0.81" transform="rotate(58 450.5 388.2)"/>
<ellipse cx="450.2" cy="388.1" rx="1.0" ry="0.7" fill="#2a58ff" opacity="0.81" transform="rotate(58 450.5 388.2)"/>
<ellipse cx="440.1" cy="349.5" rx="1.8" ry="1.5" fill="#0a22f0" opacity="0.83" transform="rotate(22 440.1 349.5)"/>
<ellipse cx="439.8" cy="349.3" rx="1.0" ry="0.8" fill="#2a58ff" opacity="0.83" transform="rotate(22 440.1 349.5)"/>
</g><g filter="url(#bl04)" style="mix-blend-mode:screen"><ellipse cx="435.7" cy="334.4" rx="2.5" ry="1.6" fill="#28d838" opacity="0.59" transform="rotate(25 435.7 334.4)"/>
<circle cx="434.4" cy="335.1" r="1.0" fill="#28d838" opacity="0.38"/>
<circle cx="435.7" cy="335.1" r="1.2" fill="#28d838" opacity="0.38"/>
<circle cx="435.9" cy="335.4" r="0.9" fill="#28d838" opacity="0.38"/>
<line x1="435.7" y1="334.4" x2="440.1" y2="336.4" stroke="#28d838" stroke-width="0.8" stroke-linecap="round" opacity="0.41"/>
<line x1="435.7" y1="334.4" x2="439.6" y2="331.1" stroke="#28d838" stroke-width="0.8" stroke-linecap="round" opacity="0.41"/>
<line x1="435.7" y1="334.4" x2="431.8" y2="335.1" stroke="#28d838" stroke-width="0.8" stroke-linecap="round" opacity="0.41"/>
<ellipse cx="415.6" cy="350.4" rx="2.9" ry="1.8" fill="#28d838" opacity="0.66" transform="rotate(-130 415.6 350.4)"/>
<circle cx="414.7" cy="349.9" r="1.2" fill="#28d838" opacity="0.42"/>
<circle cx="416.5" cy="349.9" r="1.4" fill="#28d838" opacity="0.42"/>
<circle cx="417.1" cy="349.4" r="1.2" fill="#28d838" opacity="0.42"/>
<line x1="415.6" y1="350.4" x2="412.2" y2="346.3" stroke="#28d838" stroke-width="1.0" stroke-linecap="round" opacity="0.45"/>
<line x1="415.6" y1="350.4" x2="418.6" y2="347.4" stroke="#28d838" stroke-width="1.0" stroke-linecap="round" opacity="0.45"/>
<line x1="415.6" y1="350.4" x2="415.2" y2="355.6" stroke="#28d838" stroke-width="1.0" stroke-linecap="round" opacity="0.45"/>
<ellipse cx="442.0" cy="351.9" rx="2.3" ry="1.4" fill="#28d838" opacity="0.49" transform="rotate(200 442.0 351.9)"/>
<circle cx="443.1" cy="351.3" r="0.9" fill="#28d838" opacity="0.32"/>
<circle cx="441.0" cy="351.8" r="1.1" fill="#28d838" opacity="0.32"/>
<circle cx="442.7" cy="351.4" r="1.0" fill="#28d838" opacity="0.32"/>
<line x1="442.0" y1="351.9" x2="437.9" y2="350.3" stroke="#28d838" stroke-width="0.8" stroke-linecap="round" opacity="0.34"/>
<line x1="442.0" y1="351.9" x2="444.1" y2="348.4" stroke="#28d838" stroke-width="0.8" stroke-linecap="round" opacity="0.34"/>
<ellipse cx="412.3" cy="359.3" rx="2.0" ry="1.2" fill="#28d838" opacity="0.46" transform="rotate(51 412.3 359.3)"/>
<circle cx="412.0" cy="358.3" r="0.8" fill="#28d838" opacity="0.29"/>
<circle cx="411.5" cy="359.2" r="0.7" fill="#28d838" opacity="0.29"/>
<circle cx="412.6" cy="358.8" r="0.7" fill="#28d838" opacity="0.29"/>
<ellipse cx="419.3" cy="356.3" rx="1.5" ry="0.9" fill="#28d838" opacity="0.40" transform="rotate(44 419.3 356.3)"/>
<circle cx="418.9" cy="355.9" r="0.8" fill="#28d838" opacity="0.25"/>
<circle cx="419.4" cy="355.9" r="0.5" fill="#28d838" opacity="0.25"/>
<circle cx="419.9" cy="356.6" r="0.6" fill="#28d838" opacity="0.25"/>
<ellipse cx="429.8" cy="386.1" rx="2.1" ry="1.3" fill="#b8e020" opacity="0.46" transform="rotate(122 429.8 386.1)"/>
<circle cx="430.5" cy="386.8" r="0.9" fill="#b8e020" opacity="0.29"/>
<circle cx="430.8" cy="386.1" r="1.0" fill="#b8e020" opacity="0.29"/>
<circle cx="430.7" cy="386.0" r="1.0" fill="#b8e020" opacity="0.29"/>
<ellipse cx="387.6" cy="363.1" rx="2.1" ry="1.3" fill="#b8e020" opacity="0.46" transform="rotate(166 387.6 363.1)"/>
<circle cx="388.3" cy="363.5" r="0.7" fill="#b8e020" opacity="0.29"/>
<circle cx="387.9" cy="363.9" r="0.8" fill="#b8e020" opacity="0.29"/>
<circle cx="387.9" cy="362.7" r="0.7" fill="#b8e020" opacity="0.29"/>
<ellipse cx="383.1" cy="338.2" rx="2.1" ry="1.3" fill="#b8e020" opacity="0.46" transform="rotate(1 383.1 338.2)"/>
<circle cx="382.4" cy="338.2" r="1.1" fill="#b8e020" opacity="0.29"/>
<circle cx="382.9" cy="337.7" r="0.7" fill="#b8e020" opacity="0.29"/>
<circle cx="382.9" cy="338.7" r="0.9" fill="#b8e020" opacity="0.29"/>
<ellipse cx="417.3" cy="367.3" rx="2.1" ry="1.3" fill="#b8e020" opacity="0.46" transform="rotate(340 417.3 367.3)"/>
<circle cx="416.5" cy="367.8" r="0.7" fill="#b8e020" opacity="0.29"/>
<circle cx="416.2" cy="367.9" r="0.7" fill="#b8e020" opacity="0.29"/>
<circle cx="417.5" cy="366.5" r="0.7" fill="#b8e020" opacity="0.29"/>
<ellipse cx="393.9" cy="357.2" rx="2.1" ry="1.3" fill="#b8e020" opacity="0.46" transform="rotate(212 393.9 357.2)"/>
<circle cx="393.5" cy="357.3" r="0.8" fill="#b8e020" opacity="0.29"/>
<circle cx="393.8" cy="356.6" r="1.0" fill="#b8e020" opacity="0.29"/>
<circle cx="393.0" cy="357.7" r="0.9" fill="#b8e020" opacity="0.29"/>
<ellipse cx="425.0" cy="365.0" rx="2.1" ry="1.3" fill="#b8e020" opacity="0.46" transform="rotate(10 425.0 365.0)"/>
<circle cx="425.3" cy="364.6" r="0.9" fill="#b8e020" opacity="0.29"/>
<circle cx="426.0" cy="365.1" r="0.7" fill="#b8e020" opacity="0.29"/>
<circle cx="424.4" cy="364.4" r="1.1" fill="#b8e020" opacity="0.29"/>
</g></g>
<rect x="409.30" y="323.60" width="37.20" height="37.20" fill="none" stroke="#fff" stroke-width="0.75" stroke-dasharray="1.5 1.1"/>
<g clip-path="url(#cd41)"><rect x="453.1" y="322.7" width="72.2" height="72.0" filter="url(#nG4)"/><rect x="453.1" y="322.7" width="72.2" height="72.0" filter="url(#nGf4)" opacity="0.22"/><g transform="translate(453.1 322.7)" filter="url(#bl07)"><ellipse cx="51.3" cy="20.9" rx="4.8" ry="3.1" fill="#28d838" opacity="0.59" transform="rotate(25 51.3 20.9)"/>
<circle cx="48.7" cy="22.3" r="1.9" fill="#28d838" opacity="0.38"/>
<circle cx="51.3" cy="22.4" r="2.3" fill="#28d838" opacity="0.38"/>
<circle cx="51.7" cy="22.9" r="1.7" fill="#28d838" opacity="0.38"/>
<line x1="51.3" y1="20.9" x2="59.7" y2="24.9" stroke="#28d838" stroke-width="1.6" stroke-linecap="round" opacity="0.41"/>
<line x1="51.3" y1="20.9" x2="58.8" y2="14.6" stroke="#28d838" stroke-width="1.6" stroke-linecap="round" opacity="0.41"/>
<line x1="51.3" y1="20.9" x2="43.7" y2="22.3" stroke="#28d838" stroke-width="1.6" stroke-linecap="round" opacity="0.41"/>
<ellipse cx="12.3" cy="52.0" rx="5.7" ry="3.6" fill="#28d838" opacity="0.66" transform="rotate(-130 12.3 52.0)"/>
<circle cx="10.5" cy="51.1" r="2.3" fill="#28d838" opacity="0.42"/>
<circle cx="14.0" cy="51.0" r="2.8" fill="#28d838" opacity="0.42"/>
<circle cx="15.1" cy="50.1" r="2.3" fill="#28d838" opacity="0.42"/>
<line x1="12.3" y1="52.0" x2="5.6" y2="44.0" stroke="#28d838" stroke-width="1.9" stroke-linecap="round" opacity="0.45"/>
<line x1="12.3" y1="52.0" x2="18.1" y2="46.1" stroke="#28d838" stroke-width="1.9" stroke-linecap="round" opacity="0.45"/>
<line x1="12.3" y1="52.0" x2="11.4" y2="62.1" stroke="#28d838" stroke-width="1.9" stroke-linecap="round" opacity="0.45"/>
<ellipse cx="63.5" cy="54.9" rx="4.4" ry="2.8" fill="#28d838" opacity="0.49" transform="rotate(200 63.5 54.9)"/>
<circle cx="65.5" cy="53.7" r="1.7" fill="#28d838" opacity="0.32"/>
<circle cx="61.6" cy="54.7" r="2.1" fill="#28d838" opacity="0.32"/>
<circle cx="64.8" cy="54.0" r="1.9" fill="#28d838" opacity="0.32"/>
<line x1="63.5" y1="54.9" x2="55.4" y2="51.9" stroke="#28d838" stroke-width="1.5" stroke-linecap="round" opacity="0.34"/>
<line x1="63.5" y1="54.9" x2="67.5" y2="48.1" stroke="#28d838" stroke-width="1.5" stroke-linecap="round" opacity="0.34"/>
<ellipse cx="5.8" cy="69.3" rx="3.8" ry="2.4" fill="#28d838" opacity="0.46" transform="rotate(51 5.8 69.3)"/>
<circle cx="5.2" cy="67.4" r="1.5" fill="#28d838" opacity="0.29"/>
<circle cx="4.3" cy="69.0" r="1.3" fill="#28d838" opacity="0.29"/>
<circle cx="6.4" cy="68.3" r="1.4" fill="#28d838" opacity="0.29"/>
<ellipse cx="19.5" cy="63.5" rx="2.8" ry="1.8" fill="#28d838" opacity="0.40" transform="rotate(44 19.5 63.5)"/>
<circle cx="18.6" cy="62.7" r="1.5" fill="#28d838" opacity="0.25"/>
<circle cx="19.6" cy="62.7" r="1.0" fill="#28d838" opacity="0.25"/>
<circle cx="20.6" cy="64.0" r="1.1" fill="#28d838" opacity="0.25"/>
</g></g>
<g clip-path="url(#cd42)"><g transform="translate(526.7 322.7)" filter="url(#bl07)"><ellipse cx="8.7" cy="6.5" rx="4.5" ry="3.3" fill="#0a22f0" opacity="0.51" transform="rotate(171 8.7 6.5)"/>
<ellipse cx="25.3" cy="20.9" rx="5.0" ry="4.3" fill="#0a22f0" opacity="0.64" transform="rotate(65 25.3 20.9)"/>
<ellipse cx="24.5" cy="20.4" rx="2.8" ry="2.4" fill="#2a58ff" opacity="0.64" transform="rotate(65 25.3 20.9)"/>
<ellipse cx="51.3" cy="20.9" rx="5.0" ry="4.0" fill="#0a22f0" opacity="0.51" transform="rotate(116 51.3 20.9)"/>
<ellipse cx="12.3" cy="52.0" rx="5.5" ry="4.6" fill="#0a22f0" opacity="0.59" transform="rotate(180 12.3 52.0)"/>
<ellipse cx="63.5" cy="54.9" rx="5.0" ry="3.4" fill="#0a22f0" opacity="0.51" transform="rotate(40 63.5 54.9)"/>
<ellipse cx="5.8" cy="29.6" rx="4.5" ry="3.8" fill="#0a22f0" opacity="1.00" transform="rotate(0 5.8 29.6)"/>
<ellipse cx="5.1" cy="29.2" rx="2.5" ry="2.1" fill="#2a58ff" opacity="1.00" transform="rotate(0 5.8 29.6)"/>
<ellipse cx="13.7" cy="29.6" rx="3.5" ry="2.4" fill="#0a22f0" opacity="0.77" transform="rotate(60 13.7 29.6)"/>
<ellipse cx="13.2" cy="29.3" rx="1.9" ry="1.3" fill="#2a58ff" opacity="0.77" transform="rotate(60 13.7 29.6)"/>
<ellipse cx="14.4" cy="65.0" rx="5.0" ry="3.5" fill="#0a22f0" opacity="0.68" transform="rotate(120 14.4 65.0)"/>
<ellipse cx="13.7" cy="64.5" rx="2.8" ry="1.9" fill="#2a58ff" opacity="0.68" transform="rotate(120 14.4 65.0)"/>
<ellipse cx="57.8" cy="3.6" rx="3.0" ry="1.5" fill="#0a22f0" opacity="0.59" transform="rotate(80 57.8 3.6)"/>
<ellipse cx="67.1" cy="3.6" rx="3.0" ry="1.5" fill="#0a22f0" opacity="0.42" transform="rotate(80 67.1 3.6)"/>
</g></g>
<g clip-path="url(#cd43)"><rect x="600.4" y="322.7" width="72.2" height="72.0" filter="url(#nR4)"/><rect x="600.4" y="322.7" width="72.2" height="72.0" filter="url(#nH4)" opacity="0.7"/><rect x="600.4" y="322.7" width="72.2" height="72.0" filter="url(#nGf4)" opacity="0.2"/><g transform="translate(600.4 322.7)"><g filter="url(#bl04)"><path d="M8.3 7.6 L10.2 8.1 L11.9 8.6 L13.6 9.5 L15.2 10.8 L17.1 11.7 L19.1 12.1 L19.2 11.9 L17.4 11.0 L15.8 9.9 L14.6 8.4 L12.9 7.1 L10.9 6.2 L9.0 5.4ZM13.6 9.3 L14.6 10.6 L15.3 12.4 L16.3 13.9 L16.5 13.8 L15.8 12.1 L15.4 10.4 L14.6 8.7ZM7.9 5.6 L7.2 6.4 L5.9 7.2 L4.8 8.2 L4.0 9.5 L3.7 10.8 L3.2 12.0 L3.3 12.1 L4.3 11.2 L5.0 9.9 L5.9 9.1 L6.9 8.6 L8.0 8.2 L9.4 7.4ZM9.6 7.2 L10.5 5.8 L10.7 4.7 L11.4 3.3 L11.7 2.0 L11.9 0.6 L11.9 -0.7 L11.6 -0.7 L11.2 0.5 L10.6 1.7 L10.0 2.9 L9.2 3.7 L8.5 5.1 L7.8 5.8ZM7.5 6.6 L7.7 7.8 L7.9 8.9 L7.7 10.1 L7.2 11.5 L7.1 12.8 L6.8 14.1 L7.0 14.2 L7.7 13.0 L8.2 11.7 L9.0 10.8 L9.6 9.4 L9.8 7.8 L9.8 6.4Z" fill="#e81410" opacity="1.0"/>
<ellipse cx="8.7" cy="6.5" rx="2.0" ry="1.7" fill="#e81410" opacity="1.0"/>
<path d="M8.3 7.3 L10.2 7.9 L12.1 8.6 L13.9 9.3 L14.1 9.1 L12.5 7.9 L10.8 6.7 L9.0 5.7ZM8.2 5.8 L7.1 6.6 L6.2 7.6 L5.2 8.5 L5.3 8.7 L6.6 8.3 L7.9 7.7 L9.1 7.2ZM9.4 7.0 L10.0 5.8 L10.6 4.6 L11.1 3.3 L10.9 3.2 L9.9 4.1 L8.9 5.0 L8.0 6.0ZM7.8 6.5 L8.0 7.8 L8.2 9.2 L8.5 10.5 L8.8 10.5 L9.1 9.2 L9.4 7.9 L9.5 6.5Z" fill="#ff8a1e" opacity="0.6"/>
<path d="M25.0 22.1 L26.9 22.4 L29.1 22.9 L31.2 22.9 L33.2 22.5 L35.1 21.9 L37.0 21.5 L37.0 21.2 L35.0 21.2 L33.0 21.5 L31.1 21.4 L29.2 21.2 L27.6 20.4 L25.5 19.8ZM30.6 22.4 L31.5 24.0 L32.6 25.4 L33.7 26.9 L33.9 26.7 L33.1 25.1 L32.2 23.5 L31.6 21.9ZM25.5 19.8 L24.2 19.6 L23.1 19.5 L21.8 19.1 L20.6 18.6 L19.4 18.2 L18.2 17.5 L18.1 17.7 L18.9 18.7 L20.1 19.6 L21.2 20.3 L22.3 21.1 L23.7 21.6 L25.0 22.1ZM24.1 21.0 L24.3 22.3 L24.7 23.1 L24.7 24.2 L24.6 25.5 L24.6 26.7 L24.9 27.9 L25.2 27.8 L25.3 26.7 L25.7 25.6 L26.1 24.6 L26.4 23.4 L26.3 21.9 L26.4 20.9Z" fill="#e81410" opacity="0.9"/>
<ellipse cx="25.3" cy="20.9" rx="2.0" ry="1.7" fill="#e81410" opacity="0.9"/>
<path d="M25.0 21.8 L27.0 22.1 L29.1 22.3 L31.1 22.3 L31.1 22.1 L29.2 21.5 L27.4 20.8 L25.5 20.1ZM25.8 20.3 L24.6 19.6 L23.4 19.0 L22.3 18.3 L22.1 18.5 L22.9 19.6 L23.8 20.6 L24.7 21.6ZM24.4 20.7 L24.3 21.8 L24.1 23.0 L24.0 24.2 L24.2 24.3 L24.9 23.3 L25.5 22.3 L26.1 21.2Z" fill="#ff8a1e" opacity="0.6"/>
<path d="M50.6 21.9 L54.6 24.2 L58.5 25.4 L62.1 27.6 L65.2 30.8 L69.2 32.9 L73.4 33.9 L73.4 33.7 L69.4 32.1 L65.8 29.9 L63.1 26.7 L59.5 24.0 L55.3 22.3 L51.9 19.9ZM62.0 27.2 L62.3 31.1 L62.7 34.9 L62.3 38.8 L62.5 38.8 L63.3 35.0 L63.2 31.0 L63.2 27.1ZM51.7 22.0 L55.2 20.3 L59.2 19.3 L62.8 17.7 L66.4 16.5 L70.4 16.2 L74.4 16.5 L74.4 16.2 L70.5 15.5 L66.4 15.4 L62.4 16.3 L58.5 17.7 L54.7 18.3 L50.8 19.9ZM63.1 17.1 L63.6 13.6 L64.3 10.0 L64.9 6.5 L64.7 6.4 L63.7 9.9 L62.7 13.4 L62.0 16.9ZM50.7 19.9 L49.5 20.7 L48.0 21.2 L46.5 21.7 L44.9 21.9 L43.1 21.9 L41.5 22.4 L41.6 22.7 L43.3 22.6 L44.8 23.0 L46.5 23.2 L48.3 22.9 L50.0 22.7 L51.8 22.0ZM50.1 20.6 L49.7 22.8 L49.7 24.7 L49.5 26.7 L49.4 28.6 L48.7 30.5 L48.2 32.4 L48.4 32.5 L49.4 30.8 L50.4 29.0 L50.9 26.9 L51.4 25.0 L51.7 23.0 L52.4 21.3ZM49.9 26.3 L48.4 27.4 L47.3 28.8 L46.0 30.1 L46.1 30.3 L47.6 29.3 L49.0 28.1 L50.5 27.3Z" fill="#e81410" opacity="1.0"/>
<ellipse cx="51.3" cy="20.9" rx="2.0" ry="1.7" fill="#e81410" opacity="1.0"/>
<path d="M51.0 21.8 L55.1 23.1 L59.2 24.6 L63.4 25.6 L63.5 25.4 L59.4 23.7 L55.6 21.9 L51.6 20.1ZM51.7 21.7 L54.9 19.3 L58.2 17.0 L61.6 14.9 L61.5 14.7 L57.8 16.2 L54.2 18.1 L50.8 20.2ZM51.1 20.1 L49.4 20.6 L47.9 21.3 L46.4 22.2 L46.5 22.4 L48.2 22.1 L49.8 21.9 L51.4 21.8ZM50.4 20.6 L50.0 22.6 L49.4 24.5 L49.1 26.5 L49.3 26.6 L50.2 24.8 L51.2 23.1 L52.1 21.2Z" fill="#ff8a1e" opacity="0.6"/>
<path d="M13.4 51.6 L12.6 50.0 L12.2 47.8 L11.4 46.0 L10.6 44.2 L9.8 42.3 L9.0 40.5 L8.8 40.6 L9.1 42.6 L9.6 44.5 L10.0 46.5 L10.6 48.4 L10.5 50.2 L11.2 52.4ZM11.3 46.2 L11.0 44.5 L10.9 42.7 L11.0 40.9 L10.8 40.9 L10.3 42.6 L10.1 44.4 L10.1 46.3ZM12.9 53.0 L14.6 51.7 L16.0 50.3 L17.6 48.9 L18.7 47.3 L20.2 45.9 L21.5 44.4 L21.4 44.2 L19.7 45.4 L18.1 46.5 L16.5 47.9 L14.9 48.9 L13.3 50.1 L11.6 51.0ZM17.6 48.2 L16.8 46.7 L16.4 45.0 L16.3 43.2 L16.0 43.2 L15.8 45.0 L15.9 46.8 L16.5 48.6ZM11.1 51.9 L11.0 54.3 L11.1 56.8 L11.7 59.1 L12.3 61.4 L13.4 63.4 L13.8 65.7 L14.0 65.7 L14.1 63.4 L13.4 61.0 L13.1 58.8 L12.9 56.5 L13.0 54.3 L13.4 52.1ZM11.9 58.7 L11.0 60.7 L10.6 62.7 L9.7 64.6 L9.9 64.7 L11.1 63.0 L11.9 61.0 L12.9 59.2ZM12.0 50.8 L10.8 51.3 L9.0 51.5 L7.5 52.2 L6.2 53.2 L5.3 54.4 L4.5 55.7 L4.7 55.9 L5.8 54.9 L7.0 54.0 L8.3 53.4 L9.6 53.2 L10.8 53.3 L12.5 53.1ZM11.9 53.1 L13.2 53.4 L14.6 54.0 L16.0 54.5 L17.5 55.0 L18.9 55.5 L20.4 55.8 L20.5 55.6 L19.2 54.8 L17.9 54.0 L16.7 53.2 L15.3 52.4 L14.2 51.6 L12.7 50.9Z" fill="#e81410" opacity="1.0"/>
<ellipse cx="12.3" cy="52.0" rx="2.0" ry="1.7" fill="#e81410" opacity="1.0"/>
<path d="M13.0 51.4 L11.5 50.0 L9.9 48.6 L8.3 47.5 L8.1 47.7 L9.4 49.3 L10.5 50.9 L11.6 52.5ZM12.9 52.6 L14.2 51.1 L15.5 49.5 L16.6 47.8 L16.4 47.7 L14.8 48.9 L13.3 50.2 L11.7 51.3ZM11.4 51.8 L11.2 54.1 L10.7 56.4 L10.3 58.7 L10.6 58.8 L11.5 56.6 L12.4 54.5 L13.1 52.2ZM12.1 51.1 L10.7 51.7 L9.2 52.2 L7.9 52.9 L7.9 53.2 L9.5 53.1 L11.0 53.0 L12.5 52.8ZM11.8 52.7 L13.2 53.4 L14.7 53.9 L16.1 54.3 L16.2 54.1 L15.1 53.1 L13.9 52.2 L12.7 51.2Z" fill="#ff8a1e" opacity="0.6"/>
<path d="M63.8 53.7 L62.4 53.5 L60.9 53.5 L59.7 53.7 L58.4 53.6 L56.9 53.6 L55.6 54.1 L55.7 54.3 L57.0 54.4 L58.2 54.7 L59.4 55.2 L61.0 55.3 L62.1 55.6 L63.2 56.0ZM64.5 55.6 L64.8 54.9 L65.3 54.2 L66.0 53.7 L66.8 53.2 L67.9 53.0 L68.7 52.5 L68.7 52.2 L67.6 52.3 L66.8 52.1 L65.6 52.3 L64.5 52.7 L63.5 53.3 L62.6 54.2Z" fill="#e81410" opacity="0.5"/>
<ellipse cx="63.5" cy="54.9" rx="2.0" ry="1.7" fill="#e81410" opacity="0.5"/>
<path d="M63.8 54.0 L62.6 53.9 L61.3 53.5 L60.0 53.0 L59.9 53.2 L60.8 54.2 L62.0 55.0 L63.3 55.7ZM64.3 55.3 L64.7 54.3 L64.9 53.3 L65.0 52.2 L64.8 52.2 L64.1 53.0 L63.5 53.7 L62.8 54.4Z" fill="#ff8a1e" opacity="0.6"/>
<path d="M19.9 67.3 L20.1 65.3 L20.1 63.0 L19.4 61.0 L18.6 59.1 L17.5 57.3 L16.2 55.8 L16.0 56.0 L16.9 57.8 L17.5 59.6 L18.1 61.5 L18.4 63.4 L18.1 65.1 L17.6 67.0ZM19.1 61.7 L20.4 60.6 L22.0 59.8 L23.6 59.0 L23.5 58.8 L21.8 59.2 L20.0 59.8 L18.4 60.8ZM17.6 67.3 L18.0 68.3 L18.0 69.5 L17.8 70.6 L17.2 71.9 L16.7 73.1 L16.2 74.4 L16.4 74.5 L17.3 73.5 L18.1 72.4 L19.0 71.5 L19.7 70.0 L20.0 68.6 L19.9 66.9ZM18.9 68.3 L20.3 68.1 L21.3 67.6 L22.7 67.6 L24.2 67.6 L25.5 67.0 L26.6 66.2 L26.5 66.0 L25.2 66.4 L23.9 66.5 L22.8 66.2 L21.5 65.9 L19.9 66.1 L18.7 66.0Z" fill="#e81410" opacity="1.0"/>
<ellipse cx="18.8" cy="67.1" rx="2.0" ry="1.7" fill="#e81410" opacity="1.0"/>
<path d="M19.6 67.2 L19.5 65.1 L19.1 63.1 L18.7 61.2 L18.5 61.2 L18.2 63.2 L18.2 65.2 L17.9 67.1ZM17.9 67.4 L18.5 68.7 L19.2 69.8 L20.0 70.9 L20.3 70.9 L20.0 69.5 L19.8 68.2 L19.6 66.9ZM18.6 68.0 L19.9 68.1 L21.3 68.1 L22.6 68.2 L22.7 67.9 L21.5 67.3 L20.2 66.8 L19.0 66.3Z" fill="#ff8a1e" opacity="0.6"/>
<path d="M39.0 52.9 L40.3 53.5 L41.4 54.8 L42.5 56.1 L43.8 57.4 L45.3 58.2 L46.9 58.7 L47.0 58.4 L45.6 57.5 L44.4 56.5 L43.6 55.2 L42.8 53.8 L41.9 52.3 L40.4 51.0ZM40.4 51.0 L39.2 50.4 L37.8 49.6 L36.5 49.3 L35.0 49.1 L33.7 49.2 L32.4 49.4 L32.3 49.6 L33.7 49.9 L35.0 50.2 L36.1 50.7 L37.3 51.2 L38.0 52.0 L39.0 52.9Z" fill="#e81410" opacity="0.9"/>
<ellipse cx="39.7" cy="52.0" rx="2.0" ry="1.7" fill="#e81410" opacity="0.9"/>
<path d="M39.5 52.8 L41.2 53.0 L42.8 53.2 L44.5 53.4 L44.6 53.2 L43.1 52.4 L41.5 51.7 L39.9 51.1ZM40.1 51.2 L38.8 50.9 L37.5 50.5 L36.2 50.0 L36.1 50.2 L37.1 51.2 L38.2 52.1 L39.4 52.8Z" fill="#ff8a1e" opacity="0.6"/>
<path d="M49.5 51.1 L50.2 52.2 L50.9 53.1 L51.4 54.3 L51.9 55.7 L52.7 57.0 L53.7 57.8 L53.9 57.6 L53.2 56.5 L52.9 55.3 L52.8 54.0 L52.6 52.7 L52.1 51.2 L51.6 50.0ZM51.1 51.6 L51.9 50.9 L53.2 50.2 L54.0 49.3 L54.9 48.3 L55.3 47.1 L55.5 46.0 L55.3 45.9 L54.6 46.8 L53.9 47.8 L53.1 48.3 L52.1 48.9 L51.2 49.0 L50.0 49.5Z" fill="#e81410" opacity="0.9"/>
<ellipse cx="50.5" cy="50.5" rx="2.0" ry="1.7" fill="#e81410" opacity="0.9"/>
<path d="M49.8 51.1 L50.8 51.9 L51.6 52.9 L52.4 54.0 L52.7 53.9 L52.4 52.6 L51.9 51.3 L51.2 50.0ZM51.0 51.3 L51.9 50.4 L52.7 49.5 L53.4 48.5 L53.3 48.3 L52.2 48.9 L51.1 49.3 L50.0 49.8Z" fill="#ff8a1e" opacity="0.6"/>
</g><g filter="url(#bl07)" opacity="0.92"><ellipse cx="8.7" cy="6.5" rx="4.5" ry="3.3" fill="#0a22f0" opacity="0.51" transform="rotate(171 8.7 6.5)"/>
<ellipse cx="25.3" cy="20.9" rx="5.0" ry="4.3" fill="#0a22f0" opacity="0.64" transform="rotate(65 25.3 20.9)"/>
<ellipse cx="24.5" cy="20.4" rx="2.8" ry="2.4" fill="#2a58ff" opacity="0.64" transform="rotate(65 25.3 20.9)"/>
<ellipse cx="51.3" cy="20.9" rx="5.0" ry="4.0" fill="#0a22f0" opacity="0.51" transform="rotate(116 51.3 20.9)"/>
<ellipse cx="12.3" cy="52.0" rx="5.5" ry="4.6" fill="#0a22f0" opacity="0.59" transform="rotate(180 12.3 52.0)"/>
<ellipse cx="63.5" cy="54.9" rx="5.0" ry="3.4" fill="#0a22f0" opacity="0.51" transform="rotate(40 63.5 54.9)"/>
<ellipse cx="5.8" cy="29.6" rx="4.5" ry="3.8" fill="#0a22f0" opacity="1.00" transform="rotate(0 5.8 29.6)"/>
<ellipse cx="5.1" cy="29.2" rx="2.5" ry="2.1" fill="#2a58ff" opacity="1.00" transform="rotate(0 5.8 29.6)"/>
<ellipse cx="13.7" cy="29.6" rx="3.5" ry="2.4" fill="#0a22f0" opacity="0.77" transform="rotate(60 13.7 29.6)"/>
<ellipse cx="13.2" cy="29.3" rx="1.9" ry="1.3" fill="#2a58ff" opacity="0.77" transform="rotate(60 13.7 29.6)"/>
<ellipse cx="14.4" cy="65.0" rx="5.0" ry="3.5" fill="#0a22f0" opacity="0.68" transform="rotate(120 14.4 65.0)"/>
<ellipse cx="13.7" cy="64.5" rx="2.8" ry="1.9" fill="#2a58ff" opacity="0.68" transform="rotate(120 14.4 65.0)"/>
<ellipse cx="57.8" cy="3.6" rx="3.0" ry="1.5" fill="#0a22f0" opacity="0.59" transform="rotate(80 57.8 3.6)"/>
<ellipse cx="67.1" cy="3.6" rx="3.0" ry="1.5" fill="#0a22f0" opacity="0.42" transform="rotate(80 67.1 3.6)"/>
</g><g filter="url(#bl07)" style="mix-blend-mode:screen"><ellipse cx="51.3" cy="20.9" rx="4.8" ry="3.1" fill="#28d838" opacity="0.59" transform="rotate(25 51.3 20.9)"/>
<circle cx="48.7" cy="22.3" r="1.9" fill="#28d838" opacity="0.38"/>
<circle cx="51.3" cy="22.4" r="2.3" fill="#28d838" opacity="0.38"/>
<circle cx="51.7" cy="22.9" r="1.7" fill="#28d838" opacity="0.38"/>
<line x1="51.3" y1="20.9" x2="59.7" y2="24.9" stroke="#28d838" stroke-width="1.6" stroke-linecap="round" opacity="0.41"/>
<line x1="51.3" y1="20.9" x2="58.8" y2="14.6" stroke="#28d838" stroke-width="1.6" stroke-linecap="round" opacity="0.41"/>
<line x1="51.3" y1="20.9" x2="43.7" y2="22.3" stroke="#28d838" stroke-width="1.6" stroke-linecap="round" opacity="0.41"/>
<ellipse cx="12.3" cy="52.0" rx="5.7" ry="3.6" fill="#28d838" opacity="0.66" transform="rotate(-130 12.3 52.0)"/>
<circle cx="10.5" cy="51.1" r="2.3" fill="#28d838" opacity="0.42"/>
<circle cx="14.0" cy="51.0" r="2.8" fill="#28d838" opacity="0.42"/>
<circle cx="15.1" cy="50.1" r="2.3" fill="#28d838" opacity="0.42"/>
<line x1="12.3" y1="52.0" x2="5.6" y2="44.0" stroke="#28d838" stroke-width="1.9" stroke-linecap="round" opacity="0.45"/>
<line x1="12.3" y1="52.0" x2="18.1" y2="46.1" stroke="#28d838" stroke-width="1.9" stroke-linecap="round" opacity="0.45"/>
<line x1="12.3" y1="52.0" x2="11.4" y2="62.1" stroke="#28d838" stroke-width="1.9" stroke-linecap="round" opacity="0.45"/>
<ellipse cx="63.5" cy="54.9" rx="4.4" ry="2.8" fill="#28d838" opacity="0.49" transform="rotate(200 63.5 54.9)"/>
<circle cx="65.5" cy="53.7" r="1.7" fill="#28d838" opacity="0.32"/>
<circle cx="61.6" cy="54.7" r="2.1" fill="#28d838" opacity="0.32"/>
<circle cx="64.8" cy="54.0" r="1.9" fill="#28d838" opacity="0.32"/>
<line x1="63.5" y1="54.9" x2="55.4" y2="51.9" stroke="#28d838" stroke-width="1.5" stroke-linecap="round" opacity="0.34"/>
<line x1="63.5" y1="54.9" x2="67.5" y2="48.1" stroke="#28d838" stroke-width="1.5" stroke-linecap="round" opacity="0.34"/>
<ellipse cx="5.8" cy="69.3" rx="3.8" ry="2.4" fill="#28d838" opacity="0.46" transform="rotate(51 5.8 69.3)"/>
<circle cx="5.2" cy="67.4" r="1.5" fill="#28d838" opacity="0.29"/>
<circle cx="4.3" cy="69.0" r="1.3" fill="#28d838" opacity="0.29"/>
<circle cx="6.4" cy="68.3" r="1.4" fill="#28d838" opacity="0.29"/>
<ellipse cx="19.5" cy="63.5" rx="2.8" ry="1.8" fill="#28d838" opacity="0.40" transform="rotate(44 19.5 63.5)"/>
<circle cx="18.6" cy="62.7" r="1.5" fill="#28d838" opacity="0.25"/>
<circle cx="19.6" cy="62.7" r="1.0" fill="#28d838" opacity="0.25"/>
<circle cx="20.6" cy="64.0" r="1.1" fill="#28d838" opacity="0.25"/>
</g></g></g>
<line x1="436.40" y1="390.50" x2="447.30" y2="390.50" stroke="#ddd" stroke-width="0.9" />
<line x1="648.77" y1="390.02" x2="666.82" y2="390.02" stroke="#ddd" stroke-width="1.3" />
</g>
<g id="panelE">
<text x="0.30" y="429.40" font-size="16.5" font-weight="bold" text-anchor="start" fill="#000" >E</text>
<line x1="44.70" y1="452.20" x2="44.70" y2="551.10" stroke="#000" stroke-width="1" />
<line x1="44.20" y1="550.60" x2="192.00" y2="550.60" stroke="#000" stroke-width="1" />
<line x1="40.30" y1="550.60" x2="44.70" y2="550.60" stroke="#000" stroke-width="1" />
<text x="39.70" y="553.20" font-size="7.3" font-weight="bold" text-anchor="end" fill="#000" >0</text>
<line x1="40.30" y1="526.12" x2="44.70" y2="526.12" stroke="#000" stroke-width="1" />
<text x="39.70" y="528.73" font-size="7.3" font-weight="bold" text-anchor="end" fill="#000" >5</text>
<line x1="40.30" y1="501.65" x2="44.70" y2="501.65" stroke="#000" stroke-width="1" />
<text x="39.70" y="504.25" font-size="7.3" font-weight="bold" text-anchor="end" fill="#000" >10</text>
<line x1="40.30" y1="477.18" x2="44.70" y2="477.18" stroke="#000" stroke-width="1" />
<text x="39.70" y="479.78" font-size="7.3" font-weight="bold" text-anchor="end" fill="#000" >15</text>
<line x1="40.30" y1="452.70" x2="44.70" y2="452.70" stroke="#000" stroke-width="1" />
<text x="39.70" y="455.30" font-size="7.3" font-weight="bold" text-anchor="end" fill="#000" >20</text>
<line x1="62.50" y1="550.60" x2="62.50" y2="555.00" stroke="#000" stroke-width="1" />
<text x="62.50" y="563.00" font-size="7.3" font-weight="bold" text-anchor="middle" fill="#000" >0</text>
<line x1="89.90" y1="550.60" x2="89.90" y2="555.00" stroke="#000" stroke-width="1" />
<text x="89.90" y="563.00" font-size="7.3" font-weight="bold" text-anchor="middle" fill="#000" >1</text>
<line x1="117.50" y1="550.60" x2="117.50" y2="555.00" stroke="#000" stroke-width="1" />
<text x="117.50" y="563.00" font-size="7.3" font-weight="bold" text-anchor="middle" fill="#000" >3</text>
<line x1="145.10" y1="550.60" x2="145.10" y2="555.00" stroke="#000" stroke-width="1" />
<text x="145.10" y="563.00" font-size="7.3" font-weight="bold" text-anchor="middle" fill="#000" >5</text>
<line x1="172.70" y1="550.60" x2="172.70" y2="555.00" stroke="#000" stroke-width="1" />
<text x="172.70" y="563.00" font-size="7.3" font-weight="bold" text-anchor="middle" fill="#000" >7</text>
<text x="26.80" y="501.65" font-size="7.0" font-weight="bold" text-anchor="middle" fill="#000" transform="rotate(-90 26.80 501.65)" >Neurological scores</text>
<text x="115.50" y="578.00" font-size="6.9" font-weight="bold" text-anchor="middle" fill="#000" >Days after IS</text>
<text x="116.70" y="428.30" font-size="8.0" font-weight="bold" text-anchor="middle" fill="#000" >mNSS</text>
<polyline points="62.50,550.60 89.90,476.20 117.50,485.01 145.10,502.14 172.70,508.99" fill="none" stroke="#fc0a12" stroke-width="1.15" stroke-linejoin="round"/>
<rect x="60.40" y="548.50" width="4.20" height="4.20" fill="#fc0a12" stroke="none" stroke-width="1" />
<line x1="89.90" y1="474.48" x2="89.90" y2="477.91" stroke="#fc0a12" stroke-width="0.8" />
<line x1="88.00" y1="474.48" x2="91.80" y2="474.48" stroke="#fc0a12" stroke-width="0.8" />
<line x1="88.00" y1="477.91" x2="91.80" y2="477.91" stroke="#fc0a12" stroke-width="0.8" />
<rect x="87.80" y="474.10" width="4.20" height="4.20" fill="#fc0a12" stroke="none" stroke-width="1" />
<line x1="117.50" y1="482.07" x2="117.50" y2="487.94" stroke="#fc0a12" stroke-width="0.8" />
<line x1="115.60" y1="482.07" x2="119.40" y2="482.07" stroke="#fc0a12" stroke-width="0.8" />
<line x1="115.60" y1="487.94" x2="119.40" y2="487.94" stroke="#fc0a12" stroke-width="0.8" />
<rect x="115.40" y="482.91" width="4.20" height="4.20" fill="#fc0a12" stroke="none" stroke-width="1" />
<line x1="145.10" y1="500.18" x2="145.10" y2="504.10" stroke="#fc0a12" stroke-width="0.8" />
<line x1="143.20" y1="500.18" x2="147.00" y2="500.18" stroke="#fc0a12" stroke-width="0.8" />
<line x1="143.20" y1="504.10" x2="147.00" y2="504.10" stroke="#fc0a12" stroke-width="0.8" />
<rect x="143.00" y="500.04" width="4.20" height="4.20" fill="#fc0a12" stroke="none" stroke-width="1" />
<line x1="172.70" y1="507.03" x2="172.70" y2="510.95" stroke="#fc0a12" stroke-width="0.8" />
<line x1="170.80" y1="507.03" x2="174.60" y2="507.03" stroke="#fc0a12" stroke-width="0.8" />
<line x1="170.80" y1="510.95" x2="174.60" y2="510.95" stroke="#fc0a12" stroke-width="0.8" />
<rect x="170.60" y="506.89" width="4.20" height="4.20" fill="#fc0a12" stroke="none" stroke-width="1" />
<polyline points="62.50,550.60 89.90,478.64 117.50,496.75 145.10,509.48 172.70,516.34" fill="none" stroke="#000" stroke-width="1.15" stroke-linejoin="round"/>
<circle cx="62.50" cy="550.60" r="1.90" fill="#000" stroke="none" stroke-width="1" />
<line x1="89.90" y1="477.18" x2="89.90" y2="480.11" stroke="#000" stroke-width="0.8" />
<line x1="88.00" y1="477.18" x2="91.80" y2="477.18" stroke="#000" stroke-width="0.8" />
<line x1="88.00" y1="480.11" x2="91.80" y2="480.11" stroke="#000" stroke-width="0.8" />
<circle cx="89.90" cy="478.64" r="1.90" fill="#000" stroke="none" stroke-width="1" />
<line x1="117.50" y1="493.33" x2="117.50" y2="500.18" stroke="#000" stroke-width="0.8" />
<line x1="115.60" y1="493.33" x2="119.40" y2="493.33" stroke="#000" stroke-width="0.8" />
<line x1="115.60" y1="500.18" x2="119.40" y2="500.18" stroke="#000" stroke-width="0.8" />
<circle cx="117.50" cy="496.75" r="1.90" fill="#000" stroke="none" stroke-width="1" />
<line x1="145.10" y1="507.03" x2="145.10" y2="511.93" stroke="#000" stroke-width="0.8" />
<line x1="143.20" y1="507.03" x2="147.00" y2="507.03" stroke="#000" stroke-width="0.8" />
<line x1="143.20" y1="511.93" x2="147.00" y2="511.93" stroke="#000" stroke-width="0.8" />
<circle cx="145.10" cy="509.48" r="1.90" fill="#000" stroke="none" stroke-width="1" />
<line x1="172.70" y1="513.89" x2="172.70" y2="518.78" stroke="#000" stroke-width="0.8" />
<line x1="170.80" y1="513.89" x2="174.60" y2="513.89" stroke="#000" stroke-width="0.8" />
<line x1="170.80" y1="518.78" x2="174.60" y2="518.78" stroke="#000" stroke-width="0.8" />
<circle cx="172.70" cy="516.34" r="1.90" fill="#000" stroke="none" stroke-width="1" />
<line x1="155.90" y1="453.40" x2="166.90" y2="453.40" stroke="#000" stroke-width="1.1" />
<circle cx="161.40" cy="453.40" r="1.90" fill="#000" stroke="none" stroke-width="1" />
<line x1="155.90" y1="469.70" x2="166.90" y2="469.70" stroke="#fc0a12" stroke-width="1.1" />
<rect x="159.30" y="467.60" width="4.20" height="4.20" fill="#fc0a12" stroke="none" stroke-width="1" />
<text x="172.30" y="456.00" font-size="7.1" text-anchor="start" fill="#111" >YAP<tspan font-size="4.60" dy="-2.90">f/f</tspan></text>
<text x="172.30" y="472.50" font-size="7.1" text-anchor="start" fill="#111" >YAP<tspan font-size="4.60" dy="-2.90">GFAP</tspan><tspan dy="2.90" dx="0">-CKO</tspan></text>
<text x="62.00" y="538.60" font-size="6.9" text-anchor="middle" fill="#222" >ns</text>
<text x="90.20" y="468.20" font-size="6.9" text-anchor="middle" fill="#222" >ns</text>
<text x="117.40" y="481.80" font-size="8.2" text-anchor="middle" fill="#222" >**</text>
<text x="145.00" y="499.60" font-size="8.2" text-anchor="middle" fill="#222" >*</text>
<text x="172.60" y="506.60" font-size="8.2" text-anchor="middle" fill="#222" >*</text>
<path d="M54.4 444.4 L113.6 444.4 C116.4 444.4 116.4 452.8 113.6 452.8 L54.4 452.8 C51.2 452.8 51.2 444.4 54.4 444.4 Z" fill="#3bcde6" stroke="#2a2a2a" stroke-width="0.6" />
<path d="M54.4 444.4 C57.4 444.4 57.4 452.8 54.4 452.8" fill="none" stroke="#2a2a2a" stroke-width="0.6" />
<line x1="53.60" y1="452.80" x2="48.80" y2="462.20" stroke="#2a2a2a" stroke-width="0.6" />
<line x1="53.60" y1="452.80" x2="58.20" y2="462.20" stroke="#2a2a2a" stroke-width="0.6" />
<line x1="114.20" y1="452.80" x2="109.40" y2="462.20" stroke="#2a2a2a" stroke-width="0.6" />
<line x1="114.20" y1="452.80" x2="118.80" y2="462.20" stroke="#2a2a2a" stroke-width="0.6" />
<g transform="translate(83.4 439.6) scale(1.0 1.0)"><path d="M-8 4.2 C-10 4.6 -10.6 6 -7 6.2 C-2 6.4 4 6 8 7.4" fill="none" stroke="#c98f88" stroke-width="0.6" />
<ellipse cx="-1" cy="0.6" rx="6.6" ry="4.2" fill="#5c5a59"/><path d="M2 -2.6 C5 -3.6 8.6 -0.6 9.6 1.8 C8 3.4 5 3.8 3 3.6 Z" fill="#5c5a59" stroke="none" stroke-width="1" />
<ellipse cx="4.2" cy="-3.0" rx="1.9" ry="2.1" fill="#c98f88"/><line x1="-4.00" y1="4.60" x2="-1.40" y2="5.00" stroke="#c98f88" stroke-width="0.8" />
<line x1="3.00" y1="4.40" x2="5.60" y2="4.60" stroke="#c98f88" stroke-width="0.8" />
<circle cx="7.00" cy="0.20" r="0.40" fill="#111" stroke="none" stroke-width="1" />
</g>
</g>
<g id="panelF">
<text x="231.20" y="427.40" font-size="16.5" font-weight="bold" text-anchor="start" fill="#000" >F</text>
<line x1="280.70" y1="454.10" x2="280.70" y2="551.90" stroke="#000" stroke-width="1" />
<line x1="280.20" y1="551.40" x2="426.00" y2="551.40" stroke="#000" stroke-width="1" />
<line x1="276.30" y1="551.40" x2="280.70" y2="551.40" stroke="#000" stroke-width="1" />
<text x="275.70" y="554.00" font-size="7.3" font-weight="bold" text-anchor="end" fill="#000" >0</text>
<line x1="276.30" y1="532.04" x2="280.70" y2="532.04" stroke="#000" stroke-width="1" />
<text x="275.70" y="534.64" font-size="7.3" font-weight="bold" text-anchor="end" fill="#000" >5</text>
<line x1="276.30" y1="512.68" x2="280.70" y2="512.68" stroke="#000" stroke-width="1" />
<text x="275.70" y="515.28" font-size="7.3" font-weight="bold" text-anchor="end" fill="#000" >10</text>
<line x1="276.30" y1="493.32" x2="280.70" y2="493.32" stroke="#000" stroke-width="1" />
<text x="275.70" y="495.92" font-size="7.3" font-weight="bold" text-anchor="end" fill="#000" >15</text>
<line x1="276.30" y1="473.96" x2="280.70" y2="473.96" stroke="#000" stroke-width="1" />
<text x="275.70" y="476.56" font-size="7.3" font-weight="bold" text-anchor="end" fill="#000" >20</text>
<line x1="276.30" y1="454.60" x2="280.70" y2="454.60" stroke="#000" stroke-width="1" />
<text x="275.70" y="457.20" font-size="7.3" font-weight="bold" text-anchor="end" fill="#000" >25</text>
<line x1="298.60" y1="551.40" x2="298.60" y2="555.80" stroke="#000" stroke-width="1" />
<text x="298.60" y="563.80" font-size="7.3" font-weight="bold" text-anchor="middle" fill="#000" >0</text>
<line x1="325.90" y1="551.40" x2="325.90" y2="555.80" stroke="#000" stroke-width="1" />
<text x="325.90" y="563.80" font-size="7.3" font-weight="bold" text-anchor="middle" fill="#000" >1</text>
<line x1="353.20" y1="551.40" x2="353.20" y2="555.80" stroke="#000" stroke-width="1" />
<text x="353.20" y="563.80" font-size="7.3" font-weight="bold" text-anchor="middle" fill="#000" >3</text>
<line x1="380.90" y1="551.40" x2="380.90" y2="555.80" stroke="#000" stroke-width="1" />
<text x="380.90" y="563.80" font-size="7.3" font-weight="bold" text-anchor="middle" fill="#000" >5</text>
<line x1="408.20" y1="551.40" x2="408.20" y2="555.80" stroke="#000" stroke-width="1" />
<text x="408.20" y="563.80" font-size="7.3" font-weight="bold" text-anchor="middle" fill="#000" >7</text>
<text x="253.60" y="503.00" font-size="7.0" font-weight="bold" text-anchor="middle" fill="#000" transform="rotate(-90 253.60 503.00)" >Foot faults relative to</text>
<text x="261.80" y="503.00" font-size="7.0" font-weight="bold" text-anchor="middle" fill="#000" transform="rotate(-90 261.80 503.00)" >total steps taken (%)</text>
<text x="351.70" y="578.80" font-size="6.9" font-weight="bold" text-anchor="middle" fill="#000" >Days after IS</text>
<text x="359.70" y="428.20" font-size="8.0" font-weight="bold" text-anchor="middle" fill="#000" >Grid tests</text>
<polyline points="298.60,549.08 325.90,465.83 353.20,471.25 380.90,496.42 408.20,519.26" fill="none" stroke="#fc0a12" stroke-width="1.15" stroke-linejoin="round"/>
<line x1="298.60" y1="547.92" x2="298.60" y2="550.24" stroke="#fc0a12" stroke-width="0.8" />
<line x1="296.70" y1="547.92" x2="300.50" y2="547.92" stroke="#fc0a12" stroke-width="0.8" />
<line x1="296.70" y1="550.24" x2="300.50" y2="550.24" stroke="#fc0a12" stroke-width="0.8" />
<rect x="296.50" y="546.98" width="4.20" height="4.20" fill="#fc0a12" stroke="none" stroke-width="1" />
<line x1="325.90" y1="462.34" x2="325.90" y2="469.31" stroke="#fc0a12" stroke-width="0.8" />
<line x1="324.00" y1="462.34" x2="327.80" y2="462.34" stroke="#fc0a12" stroke-width="0.8" />
<line x1="324.00" y1="469.31" x2="327.80" y2="469.31" stroke="#fc0a12" stroke-width="0.8" />
<rect x="323.80" y="463.73" width="4.20" height="4.20" fill="#fc0a12" stroke="none" stroke-width="1" />
<line x1="353.20" y1="468.15" x2="353.20" y2="474.35" stroke="#fc0a12" stroke-width="0.8" />
<line x1="351.30" y1="468.15" x2="355.10" y2="468.15" stroke="#fc0a12" stroke-width="0.8" />
<line x1="351.30" y1="474.35" x2="355.10" y2="474.35" stroke="#fc0a12" stroke-width="0.8" />
<rect x="351.10" y="469.15" width="4.20" height="4.20" fill="#fc0a12" stroke="none" stroke-width="1" />
<line x1="380.90" y1="492.55" x2="380.90" y2="500.29" stroke="#fc0a12" stroke-width="0.8" />
<line x1="379.00" y1="492.55" x2="382.80" y2="492.55" stroke="#fc0a12" stroke-width="0.8" />
<line x1="379.00" y1="500.29" x2="382.80" y2="500.29" stroke="#fc0a12" stroke-width="0.8" />
<rect x="378.80" y="494.32" width="4.20" height="4.20" fill="#fc0a12" stroke="none" stroke-width="1" />
<line x1="408.20" y1="515.39" x2="408.20" y2="523.13" stroke="#fc0a12" stroke-width="0.8" />
<line x1="406.30" y1="515.39" x2="410.10" y2="515.39" stroke="#fc0a12" stroke-width="0.8" />
<line x1="406.30" y1="523.13" x2="410.10" y2="523.13" stroke="#fc0a12" stroke-width="0.8" />
<rect x="406.10" y="517.16" width="4.20" height="4.20" fill="#fc0a12" stroke="none" stroke-width="1" />
<polyline points="298.60,549.46 325.90,467.76 353.20,490.22 380.90,508.81 408.20,522.36" fill="none" stroke="#000" stroke-width="1.15" stroke-linejoin="round"/>
<line x1="298.60" y1="548.30" x2="298.60" y2="550.63" stroke="#000" stroke-width="0.8" />
<line x1="296.70" y1="548.30" x2="300.50" y2="548.30" stroke="#000" stroke-width="0.8" />
<line x1="296.70" y1="550.63" x2="300.50" y2="550.63" stroke="#000" stroke-width="0.8" />
<circle cx="298.60" cy="549.46" r="1.90" fill="#000" stroke="none" stroke-width="1" />
<line x1="325.90" y1="464.28" x2="325.90" y2="471.25" stroke="#000" stroke-width="0.8" />
<line x1="324.00" y1="464.28" x2="327.80" y2="464.28" stroke="#000" stroke-width="0.8" />
<line x1="324.00" y1="471.25" x2="327.80" y2="471.25" stroke="#000" stroke-width="0.8" />
<circle cx="325.90" cy="467.76" r="1.90" fill="#000" stroke="none" stroke-width="1" />
<line x1="353.20" y1="488.29" x2="353.20" y2="492.16" stroke="#000" stroke-width="0.8" />
<line x1="351.30" y1="488.29" x2="355.10" y2="488.29" stroke="#000" stroke-width="0.8" />
<line x1="351.30" y1="492.16" x2="355.10" y2="492.16" stroke="#000" stroke-width="0.8" />
<circle cx="353.20" cy="490.22" r="1.90" fill="#000" stroke="none" stroke-width="1" />
<line x1="380.90" y1="507.26" x2="380.90" y2="510.36" stroke="#000" stroke-width="0.8" />
<line x1="379.00" y1="507.26" x2="382.80" y2="507.26" stroke="#000" stroke-width="0.8" />
<line x1="379.00" y1="510.36" x2="382.80" y2="510.36" stroke="#000" stroke-width="0.8" />
<circle cx="380.90" cy="508.81" r="1.90" fill="#000" stroke="none" stroke-width="1" />
<line x1="408.20" y1="518.49" x2="408.20" y2="526.23" stroke="#000" stroke-width="0.8" />
<line x1="406.30" y1="518.49" x2="410.10" y2="518.49" stroke="#000" stroke-width="0.8" />
<line x1="406.30" y1="526.23" x2="410.10" y2="526.23" stroke="#000" stroke-width="0.8" />
<circle cx="408.20" cy="522.36" r="1.90" fill="#000" stroke="none" stroke-width="1" />
<line x1="399.30" y1="454.60" x2="410.30" y2="454.60" stroke="#000" stroke-width="1.1" />
<circle cx="404.80" cy="454.60" r="1.90" fill="#000" stroke="none" stroke-width="1" />
<line x1="399.30" y1="471.30" x2="410.30" y2="471.30" stroke="#fc0a12" stroke-width="1.1" />
<rect x="402.70" y="469.20" width="4.20" height="4.20" fill="#fc0a12" stroke="none" stroke-width="1" />
<text x="416.20" y="457.20" font-size="7.1" text-anchor="start" fill="#111" >YAP<tspan font-size="4.60" dy="-2.90">f/f</tspan></text>
<text x="416.20" y="474.10" font-size="7.1" text-anchor="start" fill="#111" >YAP<tspan font-size="4.60" dy="-2.90">GFAP</tspan><tspan dy="2.90" dx="0">-CKO</tspan></text>
<text x="297.60" y="538.80" font-size="6.9" text-anchor="middle" fill="#222" >ns</text>
<text x="326.00" y="458.20" font-size="6.9" text-anchor="middle" fill="#222" >ns</text>
<text x="353.20" y="466.80" font-size="8.2" text-anchor="middle" fill="#222" >**</text>
<text x="381.00" y="490.80" font-size="8.2" text-anchor="middle" fill="#222" >*</text>
<text x="408.20" y="511.20" font-size="6.9" text-anchor="middle" fill="#222" >ns</text>
<path d="M284.8 443.0 L306.5 426.0 L338.8 431.4 L317.1 448.9 Z" fill="#fff" stroke="#2a2a2a" stroke-width="0.8" />
<line x1="288.42" y1="440.17" x2="320.72" y2="445.98" stroke="#33282a" stroke-width="0.95" />
<line x1="290.18" y1="443.98" x2="311.88" y2="426.90" stroke="#33282a" stroke-width="0.95" />
<line x1="292.03" y1="437.33" x2="324.33" y2="443.07" stroke="#33282a" stroke-width="0.95" />
<line x1="295.57" y1="444.97" x2="317.27" y2="427.80" stroke="#33282a" stroke-width="0.95" />
<line x1="295.65" y1="434.50" x2="327.95" y2="440.15" stroke="#33282a" stroke-width="0.95" />
<line x1="300.95" y1="445.95" x2="322.65" y2="428.70" stroke="#33282a" stroke-width="0.95" />
<line x1="299.27" y1="431.67" x2="331.57" y2="437.23" stroke="#33282a" stroke-width="0.95" />
<line x1="306.33" y1="446.93" x2="328.03" y2="429.60" stroke="#33282a" stroke-width="0.95" />
<line x1="302.88" y1="428.83" x2="335.18" y2="434.32" stroke="#33282a" stroke-width="0.95" />
<line x1="311.72" y1="447.92" x2="333.42" y2="430.50" stroke="#33282a" stroke-width="0.95" />
<line x1="284.80" y1="443.00" x2="284.80" y2="465.20" stroke="#2a2a2a" stroke-width="0.8" />
<line x1="317.10" y1="448.90" x2="317.10" y2="469.90" stroke="#2a2a2a" stroke-width="0.8" />
<line x1="338.80" y1="431.40" x2="338.80" y2="453.60" stroke="#2a2a2a" stroke-width="0.8" />
<ellipse cx="309.8" cy="434.6" rx="5.6" ry="4.0" fill="#777372"/>
<ellipse cx="305.2" cy="437.2" rx="1.4" ry="1.2" fill="#c98f88"/>
<ellipse cx="313.4" cy="433.6" rx="1.2" ry="1.0" fill="#c98f88"/>
</g>
<g id="panelG">
<text x="460.00" y="429.30" font-size="16.5" font-weight="bold" text-anchor="start" fill="#000" >G</text>
<line x1="513.50" y1="453.50" x2="513.50" y2="551.20" stroke="#000" stroke-width="1" />
<line x1="513.00" y1="550.70" x2="659.30" y2="550.70" stroke="#000" stroke-width="1" />
<line x1="509.10" y1="550.70" x2="513.50" y2="550.70" stroke="#000" stroke-width="1" />
<text x="508.50" y="553.30" font-size="7.3" font-weight="bold" text-anchor="end" fill="#000" >0</text>
<line x1="509.10" y1="531.36" x2="513.50" y2="531.36" stroke="#000" stroke-width="1" />
<text x="508.50" y="533.96" font-size="7.3" font-weight="bold" text-anchor="end" fill="#000" >20</text>
<line x1="509.10" y1="512.02" x2="513.50" y2="512.02" stroke="#000" stroke-width="1" />
<text x="508.50" y="514.62" font-size="7.3" font-weight="bold" text-anchor="end" fill="#000" >40</text>
<line x1="509.10" y1="492.68" x2="513.50" y2="492.68" stroke="#000" stroke-width="1" />
<text x="508.50" y="495.28" font-size="7.3" font-weight="bold" text-anchor="end" fill="#000" >60</text>
<line x1="509.10" y1="473.34" x2="513.50" y2="473.34" stroke="#000" stroke-width="1" />
<text x="508.50" y="475.94" font-size="7.3" font-weight="bold" text-anchor="end" fill="#000" >80</text>
<line x1="509.10" y1="454.00" x2="513.50" y2="454.00" stroke="#000" stroke-width="1" />
<text x="508.50" y="456.60" font-size="7.3" font-weight="bold" text-anchor="end" fill="#000" >100</text>
<line x1="531.60" y1="550.70" x2="531.60" y2="555.10" stroke="#000" stroke-width="1" />
<text x="531.60" y="563.10" font-size="7.3" font-weight="bold" text-anchor="middle" fill="#000" >0</text>
<line x1="559.10" y1="550.70" x2="559.10" y2="555.10" stroke="#000" stroke-width="1" />
<text x="559.10" y="563.10" font-size="7.3" font-weight="bold" text-anchor="middle" fill="#000" >1</text>
<line x1="586.20" y1="550.70" x2="586.20" y2="555.10" stroke="#000" stroke-width="1" />
<text x="586.20" y="563.10" font-size="7.3" font-weight="bold" text-anchor="middle" fill="#000" >3</text>
<line x1="613.60" y1="550.70" x2="613.60" y2="555.10" stroke="#000" stroke-width="1" />
<text x="613.60" y="563.10" font-size="7.3" font-weight="bold" text-anchor="middle" fill="#000" >5</text>
<line x1="640.70" y1="550.70" x2="640.70" y2="555.10" stroke="#000" stroke-width="1" />
<text x="640.70" y="563.10" font-size="7.3" font-weight="bold" text-anchor="middle" fill="#000" >7</text>
<text x="484.80" y="502.35" font-size="7.0" font-weight="bold" text-anchor="middle" fill="#000" transform="rotate(-90 484.80 502.35)" >Corner turning score (%)</text>
<text x="493.00" y="502.35" font-size="7.0" font-weight="bold" text-anchor="middle" fill="#000" transform="rotate(-90 493.00 502.35)" >R/(R+L)*100</text>
<text x="584.80" y="577.80" font-size="6.9" font-weight="bold" text-anchor="middle" fill="#000" >Days after IS</text>
<text x="570.80" y="427.90" font-size="8.0" font-weight="bold" text-anchor="middle" fill="#000" >Corner tests</text>
<polyline points="531.60,510.09 559.10,485.43 586.20,466.09 613.60,493.65 640.70,508.15" fill="none" stroke="#fc0a12" stroke-width="1.15" stroke-linejoin="round"/>
<line x1="531.60" y1="507.19" x2="531.60" y2="512.99" stroke="#fc0a12" stroke-width="0.8" />
<line x1="529.70" y1="507.19" x2="533.50" y2="507.19" stroke="#fc0a12" stroke-width="0.8" />
<line x1="529.70" y1="512.99" x2="533.50" y2="512.99" stroke="#fc0a12" stroke-width="0.8" />
<rect x="529.50" y="507.99" width="4.20" height="4.20" fill="#fc0a12" stroke="none" stroke-width="1" />
<line x1="559.10" y1="483.01" x2="559.10" y2="487.85" stroke="#fc0a12" stroke-width="0.8" />
<line x1="557.20" y1="483.01" x2="561.00" y2="483.01" stroke="#fc0a12" stroke-width="0.8" />
<line x1="557.20" y1="487.85" x2="561.00" y2="487.85" stroke="#fc0a12" stroke-width="0.8" />
<rect x="557.00" y="483.33" width="4.20" height="4.20" fill="#fc0a12" stroke="none" stroke-width="1" />
<line x1="586.20" y1="462.70" x2="586.20" y2="469.47" stroke="#fc0a12" stroke-width="0.8" />
<line x1="584.30" y1="462.70" x2="588.10" y2="462.70" stroke="#fc0a12" stroke-width="0.8" />
<line x1="584.30" y1="469.47" x2="588.10" y2="469.47" stroke="#fc0a12" stroke-width="0.8" />
<rect x="584.10" y="463.99" width="4.20" height="4.20" fill="#fc0a12" stroke="none" stroke-width="1" />
<line x1="613.60" y1="490.26" x2="613.60" y2="497.03" stroke="#fc0a12" stroke-width="0.8" />
<line x1="611.70" y1="490.26" x2="615.50" y2="490.26" stroke="#fc0a12" stroke-width="0.8" />
<line x1="611.70" y1="497.03" x2="615.50" y2="497.03" stroke="#fc0a12" stroke-width="0.8" />
<rect x="611.50" y="491.55" width="4.20" height="4.20" fill="#fc0a12" stroke="none" stroke-width="1" />
<line x1="640.70" y1="505.25" x2="640.70" y2="511.05" stroke="#fc0a12" stroke-width="0.8" />
<line x1="638.80" y1="505.25" x2="642.60" y2="505.25" stroke="#fc0a12" stroke-width="0.8" />
<line x1="638.80" y1="511.05" x2="642.60" y2="511.05" stroke="#fc0a12" stroke-width="0.8" />
<rect x="638.60" y="506.05" width="4.20" height="4.20" fill="#fc0a12" stroke="none" stroke-width="1" />
<polyline points="531.60,514.44 559.10,487.85 586.20,500.90 613.60,513.47 640.70,515.40" fill="none" stroke="#000" stroke-width="1.15" stroke-linejoin="round"/>
<line x1="531.60" y1="511.54" x2="531.60" y2="517.34" stroke="#000" stroke-width="0.8" />
<line x1="529.70" y1="511.54" x2="533.50" y2="511.54" stroke="#000" stroke-width="0.8" />
<line x1="529.70" y1="517.34" x2="533.50" y2="517.34" stroke="#000" stroke-width="0.8" />
<circle cx="531.60" cy="514.44" r="1.90" fill="#000" stroke="none" stroke-width="1" />
<line x1="559.10" y1="485.91" x2="559.10" y2="489.78" stroke="#000" stroke-width="0.8" />
<line x1="557.20" y1="485.91" x2="561.00" y2="485.91" stroke="#000" stroke-width="0.8" />
<line x1="557.20" y1="489.78" x2="561.00" y2="489.78" stroke="#000" stroke-width="0.8" />
<circle cx="559.10" cy="487.85" r="1.90" fill="#000" stroke="none" stroke-width="1" />
<line x1="586.20" y1="498.97" x2="586.20" y2="502.83" stroke="#000" stroke-width="0.8" />
<line x1="584.30" y1="498.97" x2="588.10" y2="498.97" stroke="#000" stroke-width="0.8" />
<line x1="584.30" y1="502.83" x2="588.10" y2="502.83" stroke="#000" stroke-width="0.8" />
<circle cx="586.20" cy="500.90" r="1.90" fill="#000" stroke="none" stroke-width="1" />
<line x1="613.60" y1="511.54" x2="613.60" y2="515.40" stroke="#000" stroke-width="0.8" />
<line x1="611.70" y1="511.54" x2="615.50" y2="511.54" stroke="#000" stroke-width="0.8" />
<line x1="611.70" y1="515.40" x2="615.50" y2="515.40" stroke="#000" stroke-width="0.8" />
<circle cx="613.60" cy="513.47" r="1.90" fill="#000" stroke="none" stroke-width="1" />
<line x1="640.70" y1="512.02" x2="640.70" y2="518.79" stroke="#000" stroke-width="0.8" />
<line x1="638.80" y1="512.02" x2="642.60" y2="512.02" stroke="#000" stroke-width="0.8" />
<line x1="638.80" y1="518.79" x2="642.60" y2="518.79" stroke="#000" stroke-width="0.8" />
<circle cx="640.70" cy="515.40" r="1.90" fill="#000" stroke="none" stroke-width="1" />
<line x1="626.30" y1="458.10" x2="637.30" y2="458.10" stroke="#000" stroke-width="1.1" />
<circle cx="631.80" cy="458.10" r="1.90" fill="#000" stroke="none" stroke-width="1" />
<line x1="626.30" y1="472.50" x2="637.30" y2="472.50" stroke="#fc0a12" stroke-width="1.1" />
<rect x="629.70" y="470.40" width="4.20" height="4.20" fill="#fc0a12" stroke="none" stroke-width="1" />
<text x="642.10" y="460.70" font-size="7.1" text-anchor="start" fill="#111" >YAP<tspan font-size="4.60" dy="-2.90">f/f</tspan></text>
<text x="642.10" y="475.30" font-size="7.1" text-anchor="start" fill="#111" >YAP<tspan font-size="4.60" dy="-2.90">GFAP</tspan><tspan dy="2.90" dx="0">-CKO</tspan></text>
<text x="531.60" y="502.60" font-size="6.9" text-anchor="middle" fill="#222" >ns</text>
<text x="559.20" y="479.00" font-size="6.9" text-anchor="middle" fill="#222" >ns</text>
<text x="586.20" y="461.80" font-size="8.2" text-anchor="middle" fill="#222" >**</text>
<text x="613.60" y="490.20" font-size="8.2" text-anchor="middle" fill="#222" >*</text>
<text x="640.80" y="501.20" font-size="6.9" text-anchor="middle" fill="#222" >ns</text>
<path d="M540.9 429.2 L563.4 466.6 L559.6 468.8 L540.9 437.6 L522.2 468.8 L518.4 466.6 Z" fill="#3bbfe2" stroke="#2a6f86" stroke-width="0.5" />
<ellipse cx="540.4" cy="453.6" rx="2.8" ry="4.4" fill="#6a6665"/>
<path d="M542.6 450 C545 454 544.6 458 542.4 459.4" fill="none" stroke="#a0645c" stroke-width="0.5" />
</g>
<g id="panelH">
<text x="0.60" y="603.80" font-size="16.5" font-weight="bold" text-anchor="start" fill="#000" >H</text>
<line x1="48.00" y1="637.30" x2="48.00" y2="737.10" stroke="#000" stroke-width="1" />
<line x1="47.50" y1="736.60" x2="196.20" y2="736.60" stroke="#000" stroke-width="1" />
<line x1="43.60" y1="736.60" x2="48.00" y2="736.60" stroke="#000" stroke-width="1" />
<text x="43.00" y="739.20" font-size="7.3" font-weight="bold" text-anchor="end" fill="#000" >-20</text>
<line x1="43.60" y1="711.90" x2="48.00" y2="711.90" stroke="#000" stroke-width="1" />
<text x="43.00" y="714.50" font-size="7.3" font-weight="bold" text-anchor="end" fill="#000" >0</text>
<line x1="43.60" y1="687.20" x2="48.00" y2="687.20" stroke="#000" stroke-width="1" />
<text x="43.00" y="689.80" font-size="7.3" font-weight="bold" text-anchor="end" fill="#000" >20</text>
<line x1="43.60" y1="662.50" x2="48.00" y2="662.50" stroke="#000" stroke-width="1" />
<text x="43.00" y="665.10" font-size="7.3" font-weight="bold" text-anchor="end" fill="#000" >40</text>
<line x1="43.60" y1="637.80" x2="48.00" y2="637.80" stroke="#000" stroke-width="1" />
<text x="43.00" y="640.40" font-size="7.3" font-weight="bold" text-anchor="end" fill="#000" >60</text>
<line x1="66.20" y1="736.60" x2="66.20" y2="741.00" stroke="#000" stroke-width="1" />
<text x="66.20" y="749.00" font-size="7.3" font-weight="bold" text-anchor="middle" fill="#000" >0</text>
<line x1="93.90" y1="736.60" x2="93.90" y2="741.00" stroke="#000" stroke-width="1" />
<text x="93.90" y="749.00" font-size="7.3" font-weight="bold" text-anchor="middle" fill="#000" >1</text>
<line x1="121.90" y1="736.60" x2="121.90" y2="741.00" stroke="#000" stroke-width="1" />
<text x="121.90" y="749.00" font-size="7.3" font-weight="bold" text-anchor="middle" fill="#000" >3</text>
<line x1="149.60" y1="736.60" x2="149.60" y2="741.00" stroke="#000" stroke-width="1" />
<text x="149.60" y="749.00" font-size="7.3" font-weight="bold" text-anchor="middle" fill="#000" >5</text>
<line x1="177.30" y1="736.60" x2="177.30" y2="741.00" stroke="#000" stroke-width="1" />
<text x="177.30" y="749.00" font-size="7.3" font-weight="bold" text-anchor="middle" fill="#000" >7</text>
<text x="18.00" y="687.20" font-size="7.0" font-weight="bold" text-anchor="middle" fill="#000" transform="rotate(-90 18.00 687.20)" >Forelimb use asymmetry</text>
<text x="27.40" y="687.20" font-size="7.0" font-weight="bold" text-anchor="middle" fill="#000" transform="rotate(-90 27.40 687.20)" >(L-R)/(L + R + B)(%)</text>
<text x="121.60" y="761.80" font-size="6.9" font-weight="bold" text-anchor="middle" fill="#000" >Days after IS</text>
<text x="120.20" y="610.60" font-size="8.0" font-weight="bold" text-anchor="middle" fill="#000" >Cylinder tests</text>
<polyline points="66.20,709.43 93.90,691.52 121.90,659.41 149.60,679.17 177.30,690.29" fill="none" stroke="#fc0a12" stroke-width="1.15" stroke-linejoin="round"/>
<line x1="66.20" y1="707.58" x2="66.20" y2="711.28" stroke="#fc0a12" stroke-width="0.8" />
<line x1="64.30" y1="707.58" x2="68.10" y2="707.58" stroke="#fc0a12" stroke-width="0.8" />
<line x1="64.30" y1="711.28" x2="68.10" y2="711.28" stroke="#fc0a12" stroke-width="0.8" />
<rect x="64.10" y="707.33" width="4.20" height="4.20" fill="#fc0a12" stroke="none" stroke-width="1" />
<line x1="93.90" y1="689.05" x2="93.90" y2="693.99" stroke="#fc0a12" stroke-width="0.8" />
<line x1="92.00" y1="689.05" x2="95.80" y2="689.05" stroke="#fc0a12" stroke-width="0.8" />
<line x1="92.00" y1="693.99" x2="95.80" y2="693.99" stroke="#fc0a12" stroke-width="0.8" />
<rect x="91.80" y="689.42" width="4.20" height="4.20" fill="#fc0a12" stroke="none" stroke-width="1" />
<line x1="121.90" y1="652.62" x2="121.90" y2="666.21" stroke="#fc0a12" stroke-width="0.8" />
<line x1="120.00" y1="652.62" x2="123.80" y2="652.62" stroke="#fc0a12" stroke-width="0.8" />
<line x1="120.00" y1="666.21" x2="123.80" y2="666.21" stroke="#fc0a12" stroke-width="0.8" />
<rect x="119.80" y="657.31" width="4.20" height="4.20" fill="#fc0a12" stroke="none" stroke-width="1" />
<line x1="149.60" y1="676.09" x2="149.60" y2="682.26" stroke="#fc0a12" stroke-width="0.8" />
<line x1="147.70" y1="676.09" x2="151.50" y2="676.09" stroke="#fc0a12" stroke-width="0.8" />
<line x1="147.70" y1="682.26" x2="151.50" y2="682.26" stroke="#fc0a12" stroke-width="0.8" />
<rect x="147.50" y="677.07" width="4.20" height="4.20" fill="#fc0a12" stroke="none" stroke-width="1" />
<line x1="177.30" y1="688.44" x2="177.30" y2="692.14" stroke="#fc0a12" stroke-width="0.8" />
<line x1="175.40" y1="688.44" x2="179.20" y2="688.44" stroke="#fc0a12" stroke-width="0.8" />
<line x1="175.40" y1="692.14" x2="179.20" y2="692.14" stroke="#fc0a12" stroke-width="0.8" />
<rect x="175.20" y="688.19" width="4.20" height="4.20" fill="#fc0a12" stroke="none" stroke-width="1" />
<polyline points="66.20,711.90 93.90,705.11 121.90,687.20 149.60,690.29 177.30,697.08" fill="none" stroke="#000" stroke-width="1.15" stroke-linejoin="round"/>
<line x1="66.20" y1="707.58" x2="66.20" y2="716.22" stroke="#000" stroke-width="0.8" />
<line x1="64.30" y1="707.58" x2="68.10" y2="707.58" stroke="#000" stroke-width="0.8" />
<line x1="64.30" y1="716.22" x2="68.10" y2="716.22" stroke="#000" stroke-width="0.8" />
<circle cx="66.20" cy="711.90" r="1.90" fill="#000" stroke="none" stroke-width="1" />
<line x1="93.90" y1="703.63" x2="93.90" y2="706.59" stroke="#000" stroke-width="0.8" />
<line x1="92.00" y1="703.63" x2="95.80" y2="703.63" stroke="#000" stroke-width="0.8" />
<line x1="92.00" y1="706.59" x2="95.80" y2="706.59" stroke="#000" stroke-width="0.8" />
<circle cx="93.90" cy="705.11" r="1.90" fill="#000" stroke="none" stroke-width="1" />
<line x1="121.90" y1="684.73" x2="121.90" y2="689.67" stroke="#000" stroke-width="0.8" />
<line x1="120.00" y1="684.73" x2="123.80" y2="684.73" stroke="#000" stroke-width="0.8" />
<line x1="120.00" y1="689.67" x2="123.80" y2="689.67" stroke="#000" stroke-width="0.8" />
<circle cx="121.90" cy="687.20" r="1.90" fill="#000" stroke="none" stroke-width="1" />
<line x1="149.60" y1="688.44" x2="149.60" y2="692.14" stroke="#000" stroke-width="0.8" />
<line x1="147.70" y1="688.44" x2="151.50" y2="688.44" stroke="#000" stroke-width="0.8" />
<line x1="147.70" y1="692.14" x2="151.50" y2="692.14" stroke="#000" stroke-width="0.8" />
<circle cx="149.60" cy="690.29" r="1.90" fill="#000" stroke="none" stroke-width="1" />
<line x1="177.30" y1="695.23" x2="177.30" y2="698.93" stroke="#000" stroke-width="0.8" />
<line x1="175.40" y1="695.23" x2="179.20" y2="695.23" stroke="#000" stroke-width="0.8" />
<line x1="175.40" y1="698.93" x2="179.20" y2="698.93" stroke="#000" stroke-width="0.8" />
<circle cx="177.30" cy="697.08" r="1.90" fill="#000" stroke="none" stroke-width="1" />
<line x1="159.90" y1="637.10" x2="170.90" y2="637.10" stroke="#000" stroke-width="1.1" />
<circle cx="165.40" cy="637.10" r="1.90" fill="#000" stroke="none" stroke-width="1" />
<line x1="159.90" y1="653.60" x2="170.90" y2="653.60" stroke="#fc0a12" stroke-width="1.1" />
<rect x="163.30" y="651.50" width="4.20" height="4.20" fill="#fc0a12" stroke="none" stroke-width="1" />
<text x="177.00" y="639.70" font-size="7.1" text-anchor="start" fill="#111" >YAP<tspan font-size="4.60" dy="-2.90">f/f</tspan></text>
<text x="177.00" y="656.40" font-size="7.1" text-anchor="start" fill="#111" >YAP<tspan font-size="4.60" dy="-2.90">GFAP</tspan><tspan dy="2.90" dx="0">-CKO</tspan></text>
<text x="66.40" y="703.20" font-size="6.9" text-anchor="middle" fill="#222" >ns</text>
<text x="94.00" y="688.60" font-size="8.2" text-anchor="middle" fill="#222" >*</text>
<text x="121.80" y="651.60" font-size="8.2" text-anchor="middle" fill="#222" >**</text>
<text x="149.60" y="676.20" font-size="8.2" text-anchor="middle" fill="#222" >*</text>
<text x="177.40" y="684.60" font-size="6.9" text-anchor="middle" fill="#222" >ns</text>
<circle cx="91.00" cy="712.60" r="0.75" fill="#222" stroke="none" stroke-width="1" />
<circle cx="133.80" cy="712.60" r="0.75" fill="#222" stroke="none" stroke-width="1" />
<circle cx="177.00" cy="712.60" r="0.75" fill="#222" stroke="none" stroke-width="1" />
<ellipse cx="73.6" cy="622.4" rx="13.2" ry="4.6" fill="#fff" stroke="#2a2a2a" stroke-width="0.6"/>
<ellipse cx="73.6" cy="659.4" rx="13.2" ry="6.0" fill="#fff" stroke="#2a2a2a" stroke-width="0.6"/>
<line x1="60.40" y1="622.40" x2="60.40" y2="659.40" stroke="#2a2a2a" stroke-width="0.6" />
<line x1="86.80" y1="622.40" x2="86.80" y2="659.40" stroke="#2a2a2a" stroke-width="0.6" />
<ellipse cx="74.0" cy="655.6" rx="5.6" ry="3.6" fill="#6a6665" transform="rotate(-20 74 655.6)"/>
<path d="M68.6 658.4 C72 661.6 78 661.0 81.4 657.6" fill="none" stroke="#c98f88" stroke-width="0.6" />
<circle cx="78.60" cy="652.40" r="1.20" fill="#c98f88" stroke="none" stroke-width="1" />
</g>
<g id="panelI">
<text x="230.60" y="603.80" font-size="16.5" font-weight="bold" text-anchor="start" fill="#000" >I</text>
<line x1="275.80" y1="638.70" x2="275.80" y2="737.80" stroke="#000" stroke-width="1" />
<line x1="275.30" y1="737.30" x2="423.00" y2="737.30" stroke="#000" stroke-width="1" />
<line x1="271.40" y1="737.30" x2="275.80" y2="737.30" stroke="#000" stroke-width="1" />
<text x="270.80" y="739.90" font-size="7.3" font-weight="bold" text-anchor="end" fill="#000" >0</text>
<line x1="271.40" y1="712.77" x2="275.80" y2="712.77" stroke="#000" stroke-width="1" />
<text x="270.80" y="715.38" font-size="7.3" font-weight="bold" text-anchor="end" fill="#000" >100</text>
<line x1="271.40" y1="688.25" x2="275.80" y2="688.25" stroke="#000" stroke-width="1" />
<text x="270.80" y="690.85" font-size="7.3" font-weight="bold" text-anchor="end" fill="#000" >200</text>
<line x1="271.40" y1="663.73" x2="275.80" y2="663.73" stroke="#000" stroke-width="1" />
<text x="270.80" y="666.33" font-size="7.3" font-weight="bold" text-anchor="end" fill="#000" >300</text>
<line x1="271.40" y1="639.20" x2="275.80" y2="639.20" stroke="#000" stroke-width="1" />
<text x="270.80" y="641.80" font-size="7.3" font-weight="bold" text-anchor="end" fill="#000" >400</text>
<line x1="293.70" y1="737.30" x2="293.70" y2="741.70" stroke="#000" stroke-width="1" />
<text x="293.70" y="749.70" font-size="7.3" font-weight="bold" text-anchor="middle" fill="#000" >0</text>
<line x1="321.00" y1="737.30" x2="321.00" y2="741.70" stroke="#000" stroke-width="1" />
<text x="321.00" y="749.70" font-size="7.3" font-weight="bold" text-anchor="middle" fill="#000" >1</text>
<line x1="348.70" y1="737.30" x2="348.70" y2="741.70" stroke="#000" stroke-width="1" />
<text x="348.70" y="749.70" font-size="7.3" font-weight="bold" text-anchor="middle" fill="#000" >3</text>
<line x1="376.40" y1="737.30" x2="376.40" y2="741.70" stroke="#000" stroke-width="1" />
<text x="376.40" y="749.70" font-size="7.3" font-weight="bold" text-anchor="middle" fill="#000" >5</text>
<line x1="404.00" y1="737.30" x2="404.00" y2="741.70" stroke="#000" stroke-width="1" />
<text x="404.00" y="749.70" font-size="7.3" font-weight="bold" text-anchor="middle" fill="#000" >7</text>
<text x="254.60" y="688.25" font-size="7.0" font-weight="bold" text-anchor="middle" fill="#000" transform="rotate(-90 254.60 688.25)" >Latency to fall (s)</text>
<text x="348.70" y="761.80" font-size="6.9" font-weight="bold" text-anchor="middle" fill="#000" >Days after IS</text>
<text x="348.70" y="610.60" font-size="8.0" font-weight="bold" text-anchor="middle" fill="#000" >Rotarod tests</text>
<polyline points="293.70,670.59 321.00,714.00 348.70,699.29 376.40,690.70 404.00,689.48" fill="none" stroke="#fc0a12" stroke-width="1.15" stroke-linejoin="round"/>
<line x1="293.70" y1="667.16" x2="293.70" y2="674.03" stroke="#fc0a12" stroke-width="0.8" />
<line x1="291.80" y1="667.16" x2="295.60" y2="667.16" stroke="#fc0a12" stroke-width="0.8" />
<line x1="291.80" y1="674.03" x2="295.60" y2="674.03" stroke="#fc0a12" stroke-width="0.8" />
<rect x="291.60" y="668.49" width="4.20" height="4.20" fill="#fc0a12" stroke="none" stroke-width="1" />
<line x1="321.00" y1="709.59" x2="321.00" y2="718.42" stroke="#fc0a12" stroke-width="0.8" />
<line x1="319.10" y1="709.59" x2="322.90" y2="709.59" stroke="#fc0a12" stroke-width="0.8" />
<line x1="319.10" y1="718.42" x2="322.90" y2="718.42" stroke="#fc0a12" stroke-width="0.8" />
<rect x="318.90" y="711.90" width="4.20" height="4.20" fill="#fc0a12" stroke="none" stroke-width="1" />
<line x1="348.70" y1="696.34" x2="348.70" y2="702.23" stroke="#fc0a12" stroke-width="0.8" />
<line x1="346.80" y1="696.34" x2="350.60" y2="696.34" stroke="#fc0a12" stroke-width="0.8" />
<line x1="346.80" y1="702.23" x2="350.60" y2="702.23" stroke="#fc0a12" stroke-width="0.8" />
<rect x="346.60" y="697.19" width="4.20" height="4.20" fill="#fc0a12" stroke="none" stroke-width="1" />
<line x1="376.40" y1="687.76" x2="376.40" y2="693.65" stroke="#fc0a12" stroke-width="0.8" />
<line x1="374.50" y1="687.76" x2="378.30" y2="687.76" stroke="#fc0a12" stroke-width="0.8" />
<line x1="374.50" y1="693.65" x2="378.30" y2="693.65" stroke="#fc0a12" stroke-width="0.8" />
<rect x="374.30" y="688.60" width="4.20" height="4.20" fill="#fc0a12" stroke="none" stroke-width="1" />
<line x1="404.00" y1="685.55" x2="404.00" y2="693.40" stroke="#fc0a12" stroke-width="0.8" />
<line x1="402.10" y1="685.55" x2="405.90" y2="685.55" stroke="#fc0a12" stroke-width="0.8" />
<line x1="402.10" y1="693.40" x2="405.90" y2="693.40" stroke="#fc0a12" stroke-width="0.8" />
<rect x="401.90" y="687.38" width="4.20" height="4.20" fill="#fc0a12" stroke="none" stroke-width="1" />
<polyline points="293.70,669.37 321.00,709.10 348.70,680.16 376.40,673.53 404.00,672.80" fill="none" stroke="#000" stroke-width="1.15" stroke-linejoin="round"/>
<line x1="293.70" y1="666.42" x2="293.70" y2="672.31" stroke="#000" stroke-width="0.8" />
<line x1="291.80" y1="666.42" x2="295.60" y2="666.42" stroke="#000" stroke-width="0.8" />
<line x1="291.80" y1="672.31" x2="295.60" y2="672.31" stroke="#000" stroke-width="0.8" />
<circle cx="293.70" cy="669.37" r="1.90" fill="#000" stroke="none" stroke-width="1" />
<line x1="321.00" y1="706.15" x2="321.00" y2="712.04" stroke="#000" stroke-width="0.8" />
<line x1="319.10" y1="706.15" x2="322.90" y2="706.15" stroke="#000" stroke-width="0.8" />
<line x1="319.10" y1="712.04" x2="322.90" y2="712.04" stroke="#000" stroke-width="0.8" />
<circle cx="321.00" cy="709.10" r="1.90" fill="#000" stroke="none" stroke-width="1" />
<line x1="348.70" y1="677.70" x2="348.70" y2="682.61" stroke="#000" stroke-width="0.8" />
<line x1="346.80" y1="677.70" x2="350.60" y2="677.70" stroke="#000" stroke-width="0.8" />
<line x1="346.80" y1="682.61" x2="350.60" y2="682.61" stroke="#000" stroke-width="0.8" />
<circle cx="348.70" cy="680.16" r="1.90" fill="#000" stroke="none" stroke-width="1" />
<line x1="376.40" y1="667.16" x2="376.40" y2="679.91" stroke="#000" stroke-width="0.8" />
<line x1="374.50" y1="667.16" x2="378.30" y2="667.16" stroke="#000" stroke-width="0.8" />
<line x1="374.50" y1="679.91" x2="378.30" y2="679.91" stroke="#000" stroke-width="0.8" />
<circle cx="376.40" cy="673.53" r="1.90" fill="#000" stroke="none" stroke-width="1" />
<line x1="404.00" y1="668.38" x2="404.00" y2="677.21" stroke="#000" stroke-width="0.8" />
<line x1="402.10" y1="668.38" x2="405.90" y2="668.38" stroke="#000" stroke-width="0.8" />
<line x1="402.10" y1="677.21" x2="405.90" y2="677.21" stroke="#000" stroke-width="0.8" />
<circle cx="404.00" cy="672.80" r="1.90" fill="#000" stroke="none" stroke-width="1" />
<line x1="394.00" y1="635.40" x2="405.00" y2="635.40" stroke="#000" stroke-width="1.1" />
<circle cx="399.50" cy="635.40" r="1.90" fill="#000" stroke="none" stroke-width="1" />
<line x1="394.00" y1="650.00" x2="405.00" y2="650.00" stroke="#fc0a12" stroke-width="1.1" />
<rect x="397.40" y="647.90" width="4.20" height="4.20" fill="#fc0a12" stroke="none" stroke-width="1" />
<text x="410.70" y="638.00" font-size="7.1" text-anchor="start" fill="#111" >YAP<tspan font-size="4.60" dy="-2.90">f/f</tspan></text>
<text x="410.70" y="652.80" font-size="7.1" text-anchor="start" fill="#111" >YAP<tspan font-size="4.60" dy="-2.90">GFAP</tspan><tspan dy="2.90" dx="0">-CKO</tspan></text>
<text x="293.60" y="659.60" font-size="6.9" text-anchor="middle" fill="#222" >ns</text>
<text x="321.20" y="698.40" font-size="6.9" text-anchor="middle" fill="#222" >ns</text>
<text x="348.80" y="676.20" font-size="8.2" text-anchor="middle" fill="#222" >**</text>
<text x="376.40" y="665.00" font-size="8.2" text-anchor="middle" fill="#222" >*</text>
<text x="404.00" y="665.00" font-size="8.2" text-anchor="middle" fill="#222" >*</text>
<line x1="277.60" y1="636.00" x2="338.00" y2="636.00" stroke="#8c8c8c" stroke-width="3.0" stroke-linecap="round"/>
<rect x="281.0" y="617.2" width="7.8" height="36.4" rx="3.9" ry="9" fill="#40cfe9" stroke="#2fb4d0" stroke-width="0.4"/>
<path d="M286.1 619.5 C287.5 628 287.5 643 286.1 651.5" fill="none" stroke="#3a8fa6" stroke-width="0.4"/>
<rect x="296.7" y="617.2" width="7.8" height="36.4" rx="3.9" ry="9" fill="#40cfe9" stroke="#2fb4d0" stroke-width="0.4"/>
<path d="M301.8 619.5 C303.2 628 303.2 643 301.8 651.5" fill="none" stroke="#3a8fa6" stroke-width="0.4"/>
<rect x="312.8" y="617.2" width="7.8" height="36.4" rx="3.9" ry="9" fill="#40cfe9" stroke="#2fb4d0" stroke-width="0.4"/>
<path d="M317.9 619.5 C319.3 628 319.3 643 317.9 651.5" fill="none" stroke="#3a8fa6" stroke-width="0.4"/>
<rect x="328.8" y="617.2" width="7.8" height="36.4" rx="3.9" ry="9" fill="#40cfe9" stroke="#2fb4d0" stroke-width="0.4"/>
<path d="M333.9 619.5 C335.3 628 335.3 643 333.9 651.5" fill="none" stroke="#3a8fa6" stroke-width="0.4"/>
<ellipse cx="309.0" cy="637.0" rx="3.6" ry="6.2" fill="#5c5a59"/>
<path d="M307.2 631.6 l1.6 -2.2 l1.6 2.0 Z" fill="#5c5a59" stroke="none" stroke-width="1" />
<path d="M311.6 641.6 C314 642.6 315 638 314.6 630" fill="none" stroke="#c98f88" stroke-width="0.5" />
<circle cx="306.60" cy="635.00" r="0.80" fill="#c98f88" stroke="none" stroke-width="1" />
</g>
<g id="panelJ">
<text x="461.40" y="603.60" font-size="16.5" font-weight="bold" text-anchor="start" fill="#000" >J</text>
<rect x="492.00" y="610.90" width="52.00" height="9.70" fill="#fff" stroke="#4a3a3a" stroke-width="0.8" />
<text x="517.80" y="618.50" font-size="6.9" font-weight="bold" text-anchor="middle" fill="#000" >3 dpi</text>
<rect x="480.60" y="622.90" width="10.00" height="50.80" fill="#fff" stroke="#4a3a3a" stroke-width="0.8" />
<text x="487.80" y="648.30" font-size="5.6" font-weight="bold" text-anchor="middle" fill="#000" transform="rotate(-90 487.80 648.30)" >YAP<tspan font-size="3.40" dy="-2.10">f/f</tspan></text>
<rect x="492.00" y="622.90" width="52.00" height="50.80" fill="url(#gJ)" stroke="#555" stroke-width="1.0" />
<rect x="496.60" y="627.70" width="42.80" height="41.20" fill="none" stroke="#fc0a12" stroke-width="3.4" opacity="0.30"/>
<rect x="495.80" y="626.90" width="44.40" height="42.80" fill="none" stroke="#fc0a12" stroke-width="1.2" opacity="0.40"/>
<path d="M507.0 629.6 Q507.4 639.1 506.5 658.3 Q504.7 662.6 498.2 661.7 Q497.8 650.3 500.7 636.9 Q516.1 635.9 531.8 631.2 Q518.0 630.3 510.7 638.7 Q508.3 637.2 514.0 627.1 Q525.4 632.2 527.1 642.0 Q521.1 642.9 510.5 649.1 Q511.2 653.0 509.8 659.2 Q524.4 657.7 537.8 648.0 Q541.4 654.7 537.5 652.9 Q522.7 659.4 501.3 666.3 Q506.0 651.2 516.8 629.5 Q521.2 634.4 522.8 646.5 Q527.4 652.3 534.2 667.0 Q535.5 652.6 531.2 629.4 Q510.2 631.9 499.1 631.9 Q510.7 634.4 514.5 629.0 Q527.9 633.6 536.6 645.8 Q538.4 641.4 538.9 640.1 Q522.0 653.0 503.5 668.7 Q514.4 649.2 531.1 627.8 Q510.4 644.8 497.3 669.1 Q515.3 651.9 531.0 630.0 Q511.7 628.3 500.0 635.2 Q504.6 643.3 510.6 659.5 Q509.4 655.0 499.3 654.7 Q504.5 642.5 519.4 630.6 Q509.6 633.6 499.0 638.0 Q520.2 640.8 539.8 652.0 Q515.5 641.5 498.1 629.0 Q513.1 634.3 537.4 640.8 Q517.9 636.8 503.6 627.6" fill="none" stroke="#fc0a12" stroke-width="0.35" opacity="0.6" stroke-linejoin="round"/>
<path d="M509.3 628.9 Q505.4 627.5 497.3 633.5 Q504.8 647.8 514.5 668.8 Q520.3 650.0 519.7 627.3 Q510.7 632.7 499.5 640.0 Q497.2 640.1 498.0 634.7 Q494.1 648.8 499.6 669.7 Q517.7 672.8 537.5 668.0 Q533.7 658.3 537.6 641.2 Q514.4 637.6 499.9 632.9 Q495.0 653.2 497.8 666.7 Q513.0 651.1 536.9 632.6 Q514.0 635.9 499.1 632.5 Q503.0 654.0 516.0 668.3 Q511.1 669.1 500.1 662.8 Q516.6 663.6 531.0 667.8 Q523.9 664.5 515.4 669.0 Q529.1 666.6 536.5 666.7 Q529.6 669.8 521.7 665.6 Q512.9 666.9 497.7 666.3 Q513.1 646.8 537.3 634.9 Q514.8 650.0 499.6 668.4 Q510.6 664.1 528.4 667.9 Q532.8 673.5 531.1 669.3 Q532.5 660.5 536.4 646.6 Q520.2 637.4 502.3 630.4 Q515.2 649.6 536.3 666.0 Q537.5 650.8 537.8 629.5 Q519.6 635.2 497.6 646.1 Q521.1 645.5 538.9 645.8 Q528.7 639.3 519.5 629.6 Q505.9 649.4 496.9 666.5 Q511.5 661.7 533.3 666.6 Q530.6 647.4 536.3 627.8 Q532.3 627.9 524.6 627.1 Q531.5 625.9 536.3 631.2 Q523.8 633.8 520.2 628.6 Q508.7 638.8 498.3 648.4 Q503.7 636.9 517.6 630.0 Q511.8 642.5 497.2 651.3 Q494.2 665.3 500.7 669.6 Q519.0 644.4 527.6 627.2 Q515.6 624.8 499.5 628.4 Q498.9 650.1 497.8 663.4 Q518.3 645.4 535.9 627.4 Q519.5 644.2 502.7 669.3 Q504.5 656.8 496.6 648.5 Q519.0 650.7 538.5 647.6 Q523.0 659.6 514.4 666.5 Q506.5 649.0 496.9 640.4 Q501.4 649.1 497.0 660.5 Q493.7 644.4 498.1 637.0 Q497.3 634.4 499.7 634.6 Q519.4 645.8 536.4 649.0 Q534.0 646.4 537.4 640.7 Q525.7 654.1 516.3 669.2 Q510.7 671.6 512.6 668.9 Q508.3 669.8 497.0 668.1 Q499.5 668.0 497.3 665.9 Q498.3 655.1 498.8 642.6" fill="none" stroke="#fc0a12" stroke-width="0.4" opacity="0.55" stroke-linejoin="round"/>
<rect x="480.60" y="675.90" width="10.00" height="50.80" fill="#fff" stroke="#4a3a3a" stroke-width="0.8" />
<text x="487.80" y="701.30" font-size="5.6" font-weight="bold" text-anchor="middle" fill="#000" transform="rotate(-90 487.80 701.30)" >YAP<tspan font-size="3.40" dy="-2.10">GFAP</tspan><tspan dy="2.10" dx="0">-CKO</tspan></text>
<rect x="492.00" y="675.90" width="52.00" height="50.80" fill="url(#gJ)" stroke="#555" stroke-width="1.0" />
<path d="M536.2 722.0 Q524.6 717.2 520.3 721.2 Q516.0 720.2 521.0 712.1 Q521.9 698.8 515.4 680.5 Q505.6 701.9 503.7 720.0 Q498.9 705.1 501.6 682.3 Q518.7 704.6 532.7 721.8 Q531.0 703.6 527.1 686.9 Q517.4 688.3 500.7 680.5 Q500.4 685.8 505.3 692.4 Q516.3 688.3 522.7 680.6 Q526.2 686.7 531.6 693.7 Q527.5 685.9 514.0 682.6 Q502.3 688.2 496.4 690.0 Q495.5 698.1 499.1 698.2 Q510.2 693.9 524.7 681.2" fill="none" stroke="#fc0a12" stroke-width="0.4" opacity="0.5" stroke-linejoin="round"/>
<rect x="496.20" y="680.30" width="43.60" height="42.00" fill="none" stroke="#fc0a12" stroke-width="0.7" opacity="0.22"/>
<line x1="539.20" y1="682.50" x2="539.20" y2="722.10" stroke="#fc0a12" stroke-width="1.6" opacity="0.25"/>
<line x1="498.60" y1="721.50" x2="539.40" y2="721.50" stroke="#fc0a12" stroke-width="1.8" opacity="0.28"/>
</g>
<g id="panelK">
<text x="563.60" y="603.60" font-size="16.5" font-weight="bold" text-anchor="start" fill="#000" >K</text>
<text x="615.20" y="599.20" font-size="8.0" font-weight="bold" text-anchor="middle" fill="#000" >Open field tests</text>
<line x1="600.00" y1="617.80" x2="600.00" y2="716.80" stroke="#000" stroke-width="1" />
<line x1="599.50" y1="716.30" x2="665.90" y2="716.30" stroke="#000" stroke-width="1" />
<line x1="595.60" y1="716.30" x2="600.00" y2="716.30" stroke="#000" stroke-width="1" />
<text x="595.00" y="718.90" font-size="7.3" font-weight="bold" text-anchor="end" fill="#000" >0</text>
<line x1="595.60" y1="691.80" x2="600.00" y2="691.80" stroke="#000" stroke-width="1" />
<text x="595.00" y="694.40" font-size="7.3" font-weight="bold" text-anchor="end" fill="#000" >2000</text>
<line x1="595.60" y1="667.30" x2="600.00" y2="667.30" stroke="#000" stroke-width="1" />
<text x="595.00" y="669.90" font-size="7.3" font-weight="bold" text-anchor="end" fill="#000" >4000</text>
<line x1="595.60" y1="642.80" x2="600.00" y2="642.80" stroke="#000" stroke-width="1" />
<text x="595.00" y="645.40" font-size="7.3" font-weight="bold" text-anchor="end" fill="#000" >6000</text>
<line x1="595.60" y1="618.30" x2="600.00" y2="618.30" stroke="#000" stroke-width="1" />
<text x="595.00" y="620.90" font-size="7.3" font-weight="bold" text-anchor="end" fill="#000" >8000</text>
<text x="574.60" y="667.40" font-size="7.2" font-weight="bold" text-anchor="middle" fill="#000" transform="rotate(-90 574.60 667.40)" >Total Distance (cm)</text>
<rect x="609.50" y="662.40" width="17.80" height="53.90" fill="#fff" stroke="#000" stroke-width="1.0" />
<rect x="637.30" y="687.51" width="17.80" height="28.79" fill="#fff" stroke="#fc0a12" stroke-width="1.0" />
<line x1="618.40" y1="716.30" x2="618.40" y2="720.70" stroke="#000" stroke-width="1" />
<line x1="646.20" y1="716.30" x2="646.20" y2="720.70" stroke="#000" stroke-width="1" />
<line x1="618.40" y1="654.44" x2="618.40" y2="670.36" stroke="#000" stroke-width="1.0" />
<line x1="614.00" y1="654.44" x2="622.80" y2="654.44" stroke="#000" stroke-width="1.0" />
<line x1="614.00" y1="670.36" x2="622.80" y2="670.36" stroke="#000" stroke-width="1.0" />
<line x1="646.20" y1="683.47" x2="646.20" y2="691.55" stroke="#fc0a12" stroke-width="1.0" />
<line x1="641.80" y1="683.47" x2="650.60" y2="683.47" stroke="#fc0a12" stroke-width="1.0" />
<line x1="641.80" y1="691.55" x2="650.60" y2="691.55" stroke="#fc0a12" stroke-width="1.0" />
<circle cx="618.10" cy="634.30" r="1.75" fill="#000" stroke="none" stroke-width="1" />
<circle cx="618.10" cy="644.70" r="1.75" fill="#000" stroke="none" stroke-width="1" />
<circle cx="618.10" cy="663.50" r="1.75" fill="#000" stroke="none" stroke-width="1" />
<circle cx="618.10" cy="668.40" r="1.75" fill="#000" stroke="none" stroke-width="1" />
<circle cx="618.10" cy="677.00" r="1.75" fill="#000" stroke="none" stroke-width="1" />
<circle cx="618.10" cy="683.60" r="1.75" fill="#000" stroke="none" stroke-width="1" />
<circle cx="646.10" cy="676.60" r="1.75" fill="#fc0a12" stroke="none" stroke-width="1" />
<circle cx="646.10" cy="680.30" r="1.75" fill="#fc0a12" stroke="none" stroke-width="1" />
<circle cx="646.10" cy="684.90" r="1.75" fill="#fc0a12" stroke="none" stroke-width="1" />
<circle cx="641.40" cy="689.40" r="1.75" fill="#fc0a12" stroke="none" stroke-width="1" />
<circle cx="651.00" cy="688.90" r="1.75" fill="#fc0a12" stroke="none" stroke-width="1" />
<circle cx="646.10" cy="706.20" r="1.75" fill="#fc0a12" stroke="none" stroke-width="1" />
<line x1="618.50" y1="627.00" x2="647.00" y2="627.00" stroke="#000" stroke-width="0.9" />
<text x="632.40" y="626.20" font-size="7.2" text-anchor="middle" fill="#000" >*</text>
<text x="620.80" y="723.60" font-size="7.5" font-weight="bold" text-anchor="end" fill="#000" transform="rotate(-45 620.80 723.60)" >YAP<tspan font-size="5.20" dy="-2.90" font-weight="normal">f/f</tspan></text>
<text x="648.80" y="723.60" font-size="7.5" font-weight="bold" text-anchor="end" fill="#000" transform="rotate(-45 648.80 723.60)" >YAP<tspan font-size="5.20" dy="-2.90" font-weight="normal">GFAP</tspan><tspan dy="2.90" dx="1.2">-CKO</tspan></text>
</g>
<g id="panelL">
<text x="0.90" y="794.80" font-size="16.5" font-weight="bold" text-anchor="start" fill="#000" >L</text>
<rect x="37.70" y="795.90" width="68.50" height="12.40" fill="#fff" stroke="#4a3a3a" stroke-width="0.9" />
<rect x="108.80" y="795.90" width="68.70" height="12.40" fill="#fff" stroke="#4a3a3a" stroke-width="0.9" />
<text x="71.90" y="804.20" font-size="5.0" font-weight="bold" text-anchor="middle" fill="#000" >YAP<tspan font-size="3.10" dy="-1.90">f/f</tspan></text>
<text x="143.10" y="804.20" font-size="5.0" font-weight="bold" text-anchor="middle" fill="#000" >YAP<tspan font-size="3.10" dy="-1.90">GFAP</tspan><tspan dy="1.90" dx="0">-CKO</tspan></text>
<rect x="22.90" y="810.70" width="12.00" height="69.10" fill="#fff" stroke="#4a3a3a" stroke-width="0.9" />
<rect x="22.90" y="882.50" width="12.00" height="68.20" fill="#fff" stroke="#4a3a3a" stroke-width="0.9" />
<text x="30.90" y="845.20" font-size="5.2" font-weight="bold" text-anchor="middle" fill="#000" transform="rotate(-90 30.90 845.20)" >Sham</text>
<text x="30.90" y="916.60" font-size="5.2" font-weight="bold" text-anchor="middle" fill="#000" transform="rotate(-90 30.90 916.60)" >IS</text>
<g clip-path="url(#cl0)"><rect x="37.60" y="810.60" width="68.70" height="69.20" fill="#0000a2" stroke="none" stroke-width="1" />
<path d="M72.7 808.3 C76.9 808.3 80.4 810.5 84.0 814.4 C87.7 818.3 91.6 826.2 94.6 831.9 C97.6 837.6 100.3 843.0 102.2 848.7 C104.1 854.4 105.6 859.4 106.0 866.2 C106.3 872.9 110.1 884.7 104.4 889.0 C98.8 893.3 79.9 892.0 72.0 892.0 C64.0 892.0 61.1 893.1 56.8 889.0 C52.6 884.9 48.1 874.0 46.3 867.7 C44.4 861.3 45.0 857.0 45.5 850.9 C46.0 844.9 47.0 837.2 49.3 831.2 C51.5 825.1 55.2 818.2 59.1 814.4 C63.0 810.6 68.5 808.3 72.7 808.3Z" fill="#0038f0" filter="url(#lb2)" opacity="0.95"/>
<path d="M72.6 812.0 C76.4 812.0 79.6 813.9 82.9 817.5 C86.3 821.1 89.8 828.2 92.6 833.4 C95.3 838.6 97.7 843.5 99.4 848.7 C101.1 853.9 102.5 858.5 102.9 864.6 C103.2 870.7 106.6 881.4 101.5 885.3 C96.3 889.3 79.2 888.1 72.0 888.1 C64.7 888.1 62.1 889.0 58.2 885.3 C54.3 881.6 50.3 871.7 48.6 866.0 C46.9 860.2 47.4 856.3 47.9 850.7 C48.4 845.2 49.3 838.3 51.3 832.7 C53.4 827.2 56.7 821.0 60.3 817.5 C63.8 814.1 68.9 812.0 72.6 812.0Z" fill="#0c98ff" filter="url(#lb1)"/>
<path d="M72.6 816.0 C76.0 816.0 78.9 817.8 81.8 821.0 C84.8 824.2 88.0 830.6 90.5 835.3 C93.0 840.0 95.1 844.3 96.7 849.0 C98.2 853.7 99.5 857.8 99.8 863.3 C100.1 868.8 103.2 878.5 98.5 882.0 C93.9 885.5 78.4 884.5 72.0 884.5 C65.5 884.5 63.1 885.3 59.6 882.0 C56.1 878.7 52.5 869.8 50.9 864.6 C49.4 859.4 49.9 855.9 50.3 850.9 C50.7 845.9 51.5 839.7 53.4 834.7 C55.3 829.7 58.2 824.1 61.4 821.0 C64.6 817.9 69.2 816.0 72.6 816.0Z" fill="#38e4d0" filter="url(#lb2)" opacity="0.95"/>
<ellipse cx="73.3" cy="848.7" rx="18.5" ry="31.8" fill="#b4f058" filter="url(#lb3)" opacity="0.95"/>
<ellipse cx="72.6" cy="843.8" rx="8.2" ry="29.1" fill="#ffd21a" filter="url(#lb2)" opacity="0.95"/>
<ellipse cx="72.0" cy="819.6" rx="13.7" ry="3.5" fill="#ffc41a" filter="url(#lb2)" opacity="0.95"/>
<g clip-path="url(#clb0)"><rect x="37.6" y="810.6" width="68.7" height="69.2" filter="url(#lnB0)"/><rect x="37.6" y="810.6" width="68.7" height="69.2" filter="url(#lnY0)"/></g>
<path d="M68.9 830.8 C67.3 830.8 62.4 831.2 59.2 831.2 C55.9 831.1 51.0 830.4 49.4 830.2" fill="none" stroke="#ffe860" stroke-width="0.7" opacity="0.75" filter="url(#lb05)"/>
<path d="M68.1 847.2 C66.8 846.9 63.1 846.8 60.6 845.8 C58.0 844.7 54.3 841.6 53.0 840.8" fill="none" stroke="#ffe860" stroke-width="0.7" opacity="0.75" filter="url(#lb05)"/>
<path d="M74.4 866.1 C75.3 866.1 78.1 867.3 80.0 866.1 C81.8 864.9 84.6 860.1 85.5 858.9" fill="none" stroke="#ffb020" stroke-width="0.7" opacity="0.75" filter="url(#lb05)"/>
<path d="M68.7 827.5 C67.3 827.4 62.9 826.5 59.9 826.8 C57.0 827.2 52.6 829.0 51.1 829.4" fill="none" stroke="#ffe040" stroke-width="0.7" opacity="0.75" filter="url(#lb05)"/>
<path d="M74.6 859.3 C76.2 860.2 81.0 864.2 84.2 865.0 C87.4 865.7 92.1 863.9 93.7 863.7" fill="none" stroke="#ffb020" stroke-width="0.7" opacity="0.75" filter="url(#lb05)"/>
<path d="M76.0 830.9 C77.0 830.1 80.2 827.7 82.4 826.1 C84.5 824.5 87.7 822.1 88.7 821.3" fill="none" stroke="#ffb020" stroke-width="0.7" opacity="0.75" filter="url(#lb05)"/>
<path d="M75.5 865.9 C76.6 866.5 79.9 868.8 82.2 869.9 C84.4 871.1 87.8 872.3 88.9 872.8" fill="none" stroke="#ffe860" stroke-width="0.7" opacity="0.75" filter="url(#lb05)"/>
<path d="M74.9 868.2 C76.3 869.5 80.5 874.2 83.3 875.7 C86.0 877.1 90.2 876.9 91.6 877.1" fill="none" stroke="#ffe860" stroke-width="0.7" opacity="0.75" filter="url(#lb05)"/>
<path d="M68.7 840.3 C67.4 839.8 63.7 837.5 61.2 837.7 C58.7 838.0 55.0 841.1 53.7 841.7" fill="none" stroke="#ffe860" stroke-width="0.7" opacity="0.75" filter="url(#lb05)"/>
<path d="M68.8 872.3 C67.9 871.6 65.0 869.6 63.1 868.3 C61.1 867.0 58.3 865.1 57.3 864.5" fill="none" stroke="#ffe860" stroke-width="0.7" opacity="0.75" filter="url(#lb05)"/>
<path d="M73.6 863.2 C74.7 862.3 78.0 859.1 80.2 857.9 C82.4 856.7 85.8 856.3 86.9 856.0" fill="none" stroke="#ffb020" stroke-width="0.7" opacity="0.75" filter="url(#lb05)"/>
<path d="M70.5 854.2 C69.7 854.4 67.5 854.3 66.1 855.1 C64.6 855.8 62.4 858.1 61.7 858.7" fill="none" stroke="#ffb020" stroke-width="0.7" opacity="0.75" filter="url(#lb05)"/>
<path d="M67.8 839.4 C67.1 839.0 64.8 836.2 63.2 836.6 C61.7 836.9 59.4 840.7 58.6 841.5" fill="none" stroke="#ffe040" stroke-width="0.7" opacity="0.75" filter="url(#lb05)"/>
<path d="M74.1 837.2 C75.5 837.8 79.7 839.2 82.5 840.8 C85.3 842.5 89.5 846.1 90.9 847.2" fill="none" stroke="#ffb020" stroke-width="0.7" opacity="0.75" filter="url(#lb05)"/>
<path d="M68.1 842.7 C67.0 843.0 63.5 844.1 61.1 844.1 C58.8 844.2 55.3 843.3 54.2 843.2" fill="none" stroke="#ffe860" stroke-width="0.7" opacity="0.75" filter="url(#lb05)"/>
<path d="M68.9 870.0 C67.7 870.2 64.0 871.4 61.6 871.1 C59.2 870.9 55.6 869.0 54.4 868.6" fill="none" stroke="#ffe040" stroke-width="0.7" opacity="0.75" filter="url(#lb05)"/>
<g filter="url(#lb1)" opacity="0.9"><g filter="url(#lwob)"><path d="M72.0 818.9 C71.8 821.0 71.2 827.0 71.3 831.4 C71.3 835.7 72.1 840.6 72.3 845.2 C72.5 849.8 72.5 854.2 72.6 859.0 C72.8 863.9 73.2 871.7 73.3 874.3" fill="none" stroke="#ff4a10" stroke-width="4.2" stroke-linecap="round"/>
<path d="M61.6 819.2 C63.4 819.1 68.4 818.6 72.0 818.6 C75.5 818.5 81.1 818.8 82.9 818.9" fill="none" stroke="#ff4a10" stroke-width="3.7" stroke-linecap="round"/>
<path d="M72.0 845.2 C70.6 844.7 66.9 842.8 63.7 842.4 C60.5 842.1 54.5 843.0 52.7 843.1" fill="none" stroke="#ff4a10" stroke-width="2.5" stroke-linecap="round"/>
<path d="M72.0 825.8 C73.1 826.7 76.3 829.5 78.8 831.4 C81.3 833.2 85.7 836.0 87.1 836.9" fill="none" stroke="#ff4a10" stroke-width="2.5" stroke-linecap="round"/>
<path d="M72.6 864.6 C71.6 864.2 68.5 862.6 66.5 862.5 C64.4 862.4 61.3 863.7 60.3 863.9" fill="none" stroke="#ff4a10" stroke-width="2.5" stroke-linecap="round"/>
<path d="M73.3 864.6 C74.5 864.8 78.1 865.3 80.2 866.0 C82.3 866.7 84.8 868.3 85.7 868.7" fill="none" stroke="#ff4a10" stroke-width="2.5" stroke-linecap="round"/>
<path d="M72.0 848.7 C70.8 849.0 67.4 850.9 65.1 850.7 C62.8 850.6 59.4 848.4 58.2 848.0" fill="none" stroke="#ff4a10" stroke-width="2.5" stroke-linecap="round"/>
<path d="M72.6 841.7 C73.7 841.2 77.1 839.7 78.8 838.3 C80.5 836.9 82.3 834.2 82.9 833.4" fill="none" stroke="#ff4a10" stroke-width="2.5" stroke-linecap="round"/>
</g></g><g filter="url(#lwob)"><path d="M72.0 818.9 C71.8 821.0 71.2 827.0 71.3 831.4 C71.3 835.7 72.1 840.6 72.3 845.2 C72.5 849.8 72.5 854.2 72.6 859.0 C72.8 863.9 73.2 871.7 73.3 874.3" fill="none" stroke="#920000" stroke-width="2.6" stroke-linecap="round"/>
<path d="M61.6 819.2 C63.4 819.1 68.4 818.6 72.0 818.6 C75.5 818.5 81.1 818.8 82.9 818.9" fill="none" stroke="#920000" stroke-width="2.1" stroke-linecap="round"/>
<path d="M72.0 845.2 C70.6 844.7 66.9 842.8 63.7 842.4 C60.5 842.1 54.5 843.0 52.7 843.1" fill="none" stroke="#920000" stroke-width="0.9" stroke-linecap="round"/>
<path d="M72.0 825.8 C73.1 826.7 76.3 829.5 78.8 831.4 C81.3 833.2 85.7 836.0 87.1 836.9" fill="none" stroke="#920000" stroke-width="0.9" stroke-linecap="round"/>
<path d="M72.6 864.6 C71.6 864.2 68.5 862.6 66.5 862.5 C64.4 862.4 61.3 863.7 60.3 863.9" fill="none" stroke="#920000" stroke-width="0.9" stroke-linecap="round"/>
<path d="M73.3 864.6 C74.5 864.8 78.1 865.3 80.2 866.0 C82.3 866.7 84.8 868.3 85.7 868.7" fill="none" stroke="#920000" stroke-width="0.9" stroke-linecap="round"/>
<path d="M72.0 848.7 C70.8 849.0 67.4 850.9 65.1 850.7 C62.8 850.6 59.4 848.4 58.2 848.0" fill="none" stroke="#920000" stroke-width="0.9" stroke-linecap="round"/>
<path d="M72.6 841.7 C73.7 841.2 77.1 839.7 78.8 838.3 C80.5 836.9 82.3 834.2 82.9 833.4" fill="none" stroke="#920000" stroke-width="0.9" stroke-linecap="round"/>
<path d="M71.3 831.4 C71.4 833.7 72.1 840.6 72.3 845.2 C72.5 849.8 72.6 856.7 72.6 859.0" fill="none" stroke="#920000" stroke-width="3.8" stroke-linecap="round"/>
</g>
<path d="M91.9 809.2 C93.1 808.5 106.1 807.8 107.7 809.2 C109.3 810.7 108.2 822.4 107.7 823.7 C107.1 825.1 102.9 823.0 102.2 822.4 C101.5 821.7 101.5 818.1 100.8 817.5 C100.1 816.9 96.2 817.0 95.3 816.1 C94.4 815.3 90.6 809.9 91.9 809.2Z" fill="#8c8c8c"/>
</g>
<g clip-path="url(#cl1)"><rect x="108.70" y="810.60" width="68.70" height="69.20" fill="#0000a2" stroke="none" stroke-width="1" />
<path d="M143.8 808.3 C148.0 808.3 151.5 810.5 155.1 814.4 C158.8 818.3 162.7 826.2 165.7 831.9 C168.7 837.6 171.4 843.0 173.3 848.7 C175.2 854.4 176.7 859.4 177.1 866.2 C177.4 872.9 181.2 884.7 175.5 889.0 C169.9 893.3 151.0 892.0 143.1 892.0 C135.1 892.0 132.2 893.1 127.9 889.0 C123.7 884.9 119.2 874.0 117.4 867.7 C115.5 861.3 116.1 857.0 116.6 850.9 C117.1 844.9 118.1 837.2 120.4 831.2 C122.6 825.1 126.3 818.2 130.2 814.4 C134.1 810.6 139.6 808.3 143.8 808.3Z" fill="#0038f0" filter="url(#lb2)" opacity="0.95"/>
<path d="M143.7 812.0 C147.5 812.0 150.7 813.9 154.0 817.5 C157.4 821.1 160.9 828.2 163.7 833.4 C166.4 838.6 168.8 843.5 170.5 848.7 C172.2 853.9 173.6 858.5 174.0 864.6 C174.3 870.7 177.7 881.4 172.6 885.3 C167.4 889.3 150.3 888.1 143.1 888.1 C135.8 888.1 133.2 889.0 129.3 885.3 C125.4 881.6 121.4 871.7 119.7 866.0 C118.0 860.2 118.5 856.3 119.0 850.7 C119.5 845.2 120.4 838.3 122.4 832.7 C124.5 827.2 127.8 821.0 131.4 817.5 C134.9 814.1 140.0 812.0 143.7 812.0Z" fill="#0c98ff" filter="url(#lb1)"/>
<path d="M143.7 816.0 C147.1 816.0 150.0 817.8 152.9 821.0 C155.9 824.2 159.1 830.6 161.6 835.3 C164.1 840.0 166.2 844.3 167.8 849.0 C169.3 853.7 170.6 857.8 170.9 863.3 C171.2 868.8 174.3 878.5 169.6 882.0 C165.0 885.5 149.5 884.5 143.1 884.5 C136.6 884.5 134.2 885.3 130.7 882.0 C127.2 878.7 123.6 869.8 122.0 864.6 C120.5 859.4 121.0 855.9 121.4 850.9 C121.8 845.9 122.6 839.7 124.5 834.7 C126.4 829.7 129.3 824.1 132.5 821.0 C135.7 817.9 140.3 816.0 143.7 816.0Z" fill="#38e4d0" filter="url(#lb2)" opacity="0.95"/>
<ellipse cx="144.4" cy="848.7" rx="13.1" ry="31.8" fill="#b4f058" filter="url(#lb3)" opacity="0.95"/>
<ellipse cx="143.7" cy="843.8" rx="8.2" ry="29.1" fill="#ffd21a" filter="url(#lb2)" opacity="0.95"/>
<ellipse cx="143.1" cy="819.6" rx="13.7" ry="3.5" fill="#ffc41a" filter="url(#lb2)" opacity="0.95"/>
<g clip-path="url(#clb1)"><rect x="108.7" y="810.6" width="68.7" height="69.2" filter="url(#lnB1)"/><rect x="108.7" y="810.6" width="68.7" height="69.2" filter="url(#lnY1)"/></g>
<path d="M140.8 859.4 C139.7 858.0 136.1 852.6 133.8 851.1 C131.4 849.7 127.9 850.9 126.7 850.9" fill="none" stroke="#ffe860" stroke-width="0.7" opacity="0.75" filter="url(#lb05)"/>
<path d="M146.6 861.5 C147.5 861.3 150.3 859.9 152.1 860.0 C153.9 860.2 156.7 861.9 157.6 862.3" fill="none" stroke="#ffe040" stroke-width="0.7" opacity="0.75" filter="url(#lb05)"/>
<path d="M141.0 870.1 C140.2 870.0 138.1 869.1 136.7 869.6 C135.2 870.1 133.1 872.5 132.4 873.0" fill="none" stroke="#ffb020" stroke-width="0.7" opacity="0.75" filter="url(#lb05)"/>
<path d="M141.2 838.5 C139.6 839.7 134.9 844.6 131.7 846.1 C128.6 847.7 123.8 847.7 122.3 848.0" fill="none" stroke="#ffb020" stroke-width="0.7" opacity="0.75" filter="url(#lb05)"/>
<path d="M139.4 840.8 C138.3 840.0 135.0 836.9 132.8 836.1 C130.7 835.2 127.4 835.7 126.3 835.6" fill="none" stroke="#ffb020" stroke-width="0.7" opacity="0.75" filter="url(#lb05)"/>
<path d="M139.1 864.1 C137.4 864.0 132.4 862.3 129.1 863.5 C125.8 864.7 120.8 869.9 119.2 871.1" fill="none" stroke="#ffb020" stroke-width="0.7" opacity="0.75" filter="url(#lb05)"/>
<path d="M146.8 849.1 C147.9 849.1 151.2 849.2 153.4 849.5 C155.7 849.9 159.0 850.9 160.1 851.1" fill="none" stroke="#ffe040" stroke-width="0.7" opacity="0.75" filter="url(#lb05)"/>
<path d="M140.8 863.8 C140.1 863.2 137.9 861.7 136.4 860.1 C135.0 858.6 132.8 855.3 132.1 854.4" fill="none" stroke="#ffb020" stroke-width="0.7" opacity="0.75" filter="url(#lb05)"/>
<path d="M146.4 831.5 C147.7 831.3 151.9 831.9 154.6 830.4 C157.4 828.9 161.5 823.8 162.9 822.5" fill="none" stroke="#ffe860" stroke-width="0.7" opacity="0.75" filter="url(#lb05)"/>
<path d="M145.2 841.7 C146.6 841.4 151.0 840.9 153.9 840.3 C156.8 839.7 161.2 838.3 162.7 838.0" fill="none" stroke="#ffb020" stroke-width="0.7" opacity="0.75" filter="url(#lb05)"/>
<path d="M139.4 858.7 C138.4 859.4 135.5 862.3 133.5 862.6 C131.6 862.9 128.7 860.8 127.7 860.4" fill="none" stroke="#ffe040" stroke-width="0.7" opacity="0.75" filter="url(#lb05)"/>
<path d="M147.0 838.5 C147.7 837.7 149.8 834.1 151.3 833.6 C152.7 833.1 154.8 835.2 155.6 835.6" fill="none" stroke="#ffb020" stroke-width="0.7" opacity="0.75" filter="url(#lb05)"/>
<path d="M144.5 838.4 C146.2 838.8 151.2 839.6 154.6 840.6 C157.9 841.5 163.0 843.6 164.7 844.2" fill="none" stroke="#ffe860" stroke-width="0.7" opacity="0.75" filter="url(#lb05)"/>
<path d="M140.9 833.7 C139.7 832.9 136.3 830.2 134.0 829.0 C131.7 827.7 128.3 826.6 127.1 826.2" fill="none" stroke="#ffe040" stroke-width="0.7" opacity="0.75" filter="url(#lb05)"/>
<path d="M146.0 842.0 C147.2 842.2 150.6 843.6 152.9 843.2 C155.2 842.7 158.7 839.9 159.9 839.2" fill="none" stroke="#ffb020" stroke-width="0.7" opacity="0.75" filter="url(#lb05)"/>
<path d="M140.5 834.5 C138.8 833.2 133.9 828.2 130.7 826.8 C127.4 825.5 122.5 826.5 120.9 826.5" fill="none" stroke="#ffe860" stroke-width="0.7" opacity="0.75" filter="url(#lb05)"/>
<g filter="url(#lb1)" opacity="0.9"><g filter="url(#lwob)"><path d="M143.1 819.6 C142.9 821.6 142.4 827.1 142.4 831.4 C142.4 835.6 142.9 840.6 143.1 845.2 C143.2 849.8 143.2 854.4 143.1 859.0 C142.9 863.7 142.5 870.6 142.4 872.9" fill="none" stroke="#ff4a10" stroke-width="3.5" stroke-linecap="round"/>
<path d="M134.1 821.3 C135.6 821.2 140.0 820.3 143.1 820.3 C146.1 820.2 151.1 820.9 152.7 821.0" fill="none" stroke="#ff4a10" stroke-width="3.1" stroke-linecap="round"/>
<path d="M143.1 825.8 C144.2 826.3 147.4 827.7 149.9 828.6 C152.4 829.5 156.8 830.9 158.2 831.4" fill="none" stroke="#ff4a10" stroke-width="2.5" stroke-linecap="round"/>
<path d="M143.1 845.2 C144.4 845.4 147.9 846.6 151.3 846.6 C154.7 846.6 161.6 845.4 163.7 845.2" fill="none" stroke="#ff4a10" stroke-width="2.5" stroke-linecap="round"/>
<path d="M143.1 838.3 C141.9 837.8 138.5 835.7 136.2 835.5 C133.9 835.3 130.5 836.7 129.3 836.9" fill="none" stroke="#ff4a10" stroke-width="2.5" stroke-linecap="round"/>
<path d="M143.1 853.5 C144.0 854.0 146.7 855.1 148.5 856.3 C150.4 857.4 153.1 859.7 154.0 860.4" fill="none" stroke="#ff4a10" stroke-width="2.5" stroke-linecap="round"/>
</g></g><g filter="url(#lwob)"><path d="M143.1 819.6 C142.9 821.6 142.4 827.1 142.4 831.4 C142.4 835.6 142.9 840.6 143.1 845.2 C143.2 849.8 143.2 854.4 143.1 859.0 C142.9 863.7 142.5 870.6 142.4 872.9" fill="none" stroke="#920000" stroke-width="1.9" stroke-linecap="round"/>
<path d="M134.1 821.3 C135.6 821.2 140.0 820.3 143.1 820.3 C146.1 820.2 151.1 820.9 152.7 821.0" fill="none" stroke="#920000" stroke-width="1.5" stroke-linecap="round"/>
<path d="M143.1 825.8 C144.2 826.3 147.4 827.7 149.9 828.6 C152.4 829.5 156.8 830.9 158.2 831.4" fill="none" stroke="#920000" stroke-width="0.9" stroke-linecap="round"/>
<path d="M143.1 845.2 C144.4 845.4 147.9 846.6 151.3 846.6 C154.7 846.6 161.6 845.4 163.7 845.2" fill="none" stroke="#920000" stroke-width="0.9" stroke-linecap="round"/>
<path d="M143.1 838.3 C141.9 837.8 138.5 835.7 136.2 835.5 C133.9 835.3 130.5 836.7 129.3 836.9" fill="none" stroke="#920000" stroke-width="0.9" stroke-linecap="round"/>
<path d="M143.1 853.5 C144.0 854.0 146.7 855.1 148.5 856.3 C150.4 857.4 153.1 859.7 154.0 860.4" fill="none" stroke="#920000" stroke-width="0.9" stroke-linecap="round"/>
<path d="M142.4 831.4 C142.5 833.7 142.9 840.6 143.1 845.2 C143.2 849.8 143.1 856.7 143.1 859.0" fill="none" stroke="#920000" stroke-width="2.8" stroke-linecap="round"/>
</g>
<path d="M165.7 809.2 C166.8 808.2 177.5 807.0 178.8 809.2 C180.1 811.4 179.2 829.3 178.8 831.4 C178.4 833.4 175.3 831.1 174.7 830.0 C174.0 828.9 172.6 821.4 171.9 820.3 C171.2 819.2 168.4 820.0 167.8 818.9 C167.2 817.8 164.6 810.2 165.7 809.2Z" fill="#8c8c8c"/>
</g>
<g clip-path="url(#cl2)"><rect x="37.60" y="882.40" width="68.70" height="69.20" fill="#0a44e8" stroke="none" stroke-width="1" />
<path d="M72.7 877.1 C77.5 876.9 82.7 878.2 87.1 881.6 C91.5 885.1 95.9 891.8 99.2 897.6 C102.4 903.5 104.9 909.9 106.7 916.7 C108.5 923.4 109.5 930.4 109.7 938.0 C110.0 945.6 114.5 958.0 108.2 962.3 C101.9 966.6 83.8 963.8 72.0 963.8 C60.1 963.8 43.2 966.4 37.2 962.3 C31.1 958.3 35.6 946.5 35.7 939.5 C35.8 932.5 36.3 927.1 37.9 920.5 C39.6 913.9 42.1 906.3 45.5 899.9 C48.9 893.6 53.8 886.2 58.3 882.4 C62.9 878.6 67.9 877.2 72.7 877.1Z" fill="#0038f0" filter="url(#lb2)" opacity="0.95"/>
<path d="M72.6 881.0 C77.0 880.9 81.7 882.1 85.7 885.2 C89.7 888.3 93.7 894.4 96.7 899.7 C99.7 905.0 101.9 910.9 103.6 917.0 C105.2 923.1 106.1 929.5 106.3 936.4 C106.5 943.3 110.7 954.6 104.9 958.5 C99.2 962.4 82.7 959.9 72.0 959.9 C61.2 959.9 45.8 962.2 40.3 958.5 C34.9 954.8 38.9 944.1 39.0 937.8 C39.1 931.4 39.5 926.5 41.0 920.5 C42.5 914.5 44.8 907.5 47.9 901.8 C51.0 896.0 55.5 889.3 59.6 885.9 C63.7 882.4 68.3 881.1 72.6 881.0Z" fill="#0c98ff" filter="url(#lb1)"/>
<path d="M72.6 885.3 C76.5 885.2 80.7 886.2 84.3 889.0 C87.9 891.8 91.5 897.3 94.2 902.1 C96.9 906.9 98.9 912.2 100.4 917.7 C101.8 923.2 102.7 928.9 102.9 935.1 C103.1 941.4 106.8 951.5 101.6 955.1 C96.5 958.6 81.6 956.3 72.0 956.3 C62.3 956.3 48.5 958.4 43.5 955.1 C38.6 951.7 42.2 942.1 42.3 936.4 C42.4 930.7 42.8 926.2 44.1 920.8 C45.5 915.4 47.5 909.2 50.3 904.0 C53.1 898.8 57.1 892.8 60.8 889.7 C64.5 886.6 68.7 885.4 72.6 885.3Z" fill="#38e4d0" filter="url(#lb2)" opacity="0.95"/>
<ellipse cx="73.3" cy="920.5" rx="13.7" ry="31.8" fill="#b4f058" filter="url(#lb3)" opacity="0.95"/>
<ellipse cx="72.6" cy="915.6" rx="8.2" ry="29.1" fill="#ffd21a" filter="url(#lb2)" opacity="0.95"/>
<ellipse cx="72.0" cy="891.4" rx="13.7" ry="3.5" fill="#ffc41a" filter="url(#lb2)" opacity="0.95"/>
<g clip-path="url(#clb2)"><rect x="37.6" y="882.4" width="68.7" height="69.2" filter="url(#lnB2)"/><rect x="37.6" y="882.4" width="68.7" height="69.2" filter="url(#lnY2)"/></g>
<ellipse cx="75.4" cy="951.6" rx="30.2" ry="6.9" fill="#ffd020" filter="url(#lb2)"/>
<ellipse cx="75.4" cy="951.6" rx="22.0" ry="3.5" fill="#ff4a10" filter="url(#lb1)"/>
<path d="M75.4 934.8 C77.0 935.8 82.0 939.9 85.3 940.8 C88.6 941.6 93.6 939.9 95.3 939.7" fill="none" stroke="#ffe040" stroke-width="0.7" opacity="0.75" filter="url(#lb05)"/>
<path d="M75.5 908.3 C76.2 907.5 78.4 904.9 79.9 903.7 C81.4 902.5 83.6 901.6 84.3 901.2" fill="none" stroke="#ffe040" stroke-width="0.7" opacity="0.75" filter="url(#lb05)"/>
<path d="M74.8 924.0 C75.5 923.2 77.6 920.3 79.0 919.3 C80.4 918.3 82.5 918.3 83.2 918.2" fill="none" stroke="#ffb020" stroke-width="0.7" opacity="0.75" filter="url(#lb05)"/>
<path d="M68.5 899.7 C67.2 899.1 63.2 896.3 60.5 896.1 C57.9 895.9 53.9 898.2 52.6 898.6" fill="none" stroke="#ffe040" stroke-width="0.7" opacity="0.75" filter="url(#lb05)"/>
<path d="M68.5 942.7 C67.6 941.9 65.0 938.9 63.3 937.7 C61.6 936.6 59.0 936.1 58.2 935.8" fill="none" stroke="#ffe040" stroke-width="0.7" opacity="0.75" filter="url(#lb05)"/>
<path d="M70.1 943.2 C69.2 943.8 66.5 945.4 64.7 947.0 C63.0 948.6 60.3 951.8 59.4 952.8" fill="none" stroke="#ffe040" stroke-width="0.7" opacity="0.75" filter="url(#lb05)"/>
<path d="M74.5 941.6 C75.4 941.7 78.3 943.0 80.2 942.5 C82.1 941.9 85.0 938.8 86.0 938.1" fill="none" stroke="#ffe860" stroke-width="0.7" opacity="0.75" filter="url(#lb05)"/>
<path d="M68.9 930.5 C68.2 930.0 65.9 927.9 64.4 927.4 C62.9 926.9 60.6 927.5 59.9 927.5" fill="none" stroke="#ffe860" stroke-width="0.7" opacity="0.75" filter="url(#lb05)"/>
<path d="M73.8 919.1 C74.7 919.3 77.3 921.1 79.0 920.2 C80.8 919.4 83.4 915.1 84.3 914.1" fill="none" stroke="#ffe860" stroke-width="0.7" opacity="0.75" filter="url(#lb05)"/>
<path d="M75.6 897.1 C77.1 897.0 81.6 896.8 84.6 896.4 C87.6 895.9 92.1 894.7 93.6 894.3" fill="none" stroke="#ffe040" stroke-width="0.7" opacity="0.75" filter="url(#lb05)"/>
<path d="M73.5 905.0 C75.1 904.8 80.1 905.0 83.5 904.0 C86.8 902.9 91.8 899.6 93.5 898.7" fill="none" stroke="#ffb020" stroke-width="0.7" opacity="0.75" filter="url(#lb05)"/>
<path d="M74.7 939.5 C75.7 939.5 78.5 940.0 80.4 939.8 C82.3 939.7 85.1 938.9 86.1 938.7" fill="none" stroke="#ffb020" stroke-width="0.7" opacity="0.75" filter="url(#lb05)"/>
<path d="M73.4 942.1 C74.2 941.9 76.5 941.9 78.1 941.3 C79.7 940.8 82.0 939.2 82.8 938.7" fill="none" stroke="#ffe040" stroke-width="0.7" opacity="0.75" filter="url(#lb05)"/>
<path d="M74.1 930.3 C74.9 930.3 77.2 930.0 78.8 930.6 C80.3 931.2 82.7 933.5 83.5 934.1" fill="none" stroke="#ffe040" stroke-width="0.7" opacity="0.75" filter="url(#lb05)"/>
<path d="M68.6 911.2 C67.4 911.0 63.9 909.3 61.5 910.0 C59.1 910.8 55.6 914.8 54.4 915.8" fill="none" stroke="#ffe860" stroke-width="0.7" opacity="0.75" filter="url(#lb05)"/>
<path d="M73.4 932.1 C74.5 931.9 77.6 931.6 79.7 930.8 C81.7 929.9 84.9 927.6 85.9 926.9" fill="none" stroke="#ffe040" stroke-width="0.7" opacity="0.75" filter="url(#lb05)"/>
<g filter="url(#lb1)" opacity="0.9"><g filter="url(#lwob)"><path d="M72.0 889.3 C72.0 891.6 72.1 898.5 72.0 903.2 C71.8 907.8 71.3 912.4 71.3 917.0 C71.3 921.6 71.6 925.9 72.0 930.8 C72.3 935.8 73.1 944.1 73.3 946.8" fill="none" stroke="#ff4a10" stroke-width="4.0" stroke-linecap="round"/>
<path d="M58.2 889.7 C60.5 889.6 67.7 889.3 72.0 889.3 C76.2 889.3 81.7 889.6 83.6 889.7" fill="none" stroke="#ff4a10" stroke-width="3.5" stroke-linecap="round"/>
<path d="M71.3 905.2 C69.8 905.2 65.7 905.1 62.3 905.2 C59.0 905.4 53.2 905.8 51.3 905.9" fill="none" stroke="#ff4a10" stroke-width="2.5" stroke-linecap="round"/>
<path d="M71.3 896.2 C70.2 896.9 66.6 898.8 65.1 900.4 C63.6 902.0 62.8 905.0 62.3 905.9" fill="none" stroke="#ff4a10" stroke-width="2.5" stroke-linecap="round"/>
<path d="M72.0 915.6 C73.1 916.5 76.3 919.8 78.8 921.2 C81.3 922.5 85.7 923.5 87.1 923.9" fill="none" stroke="#ff4a10" stroke-width="2.5" stroke-linecap="round"/>
<path d="M72.0 897.6 C72.9 898.3 76.1 900.2 77.4 901.8 C78.8 903.4 79.7 906.4 80.2 907.3" fill="none" stroke="#ff4a10" stroke-width="2.5" stroke-linecap="round"/>
<path d="M73.3 944.7 C74.5 944.2 78.1 941.9 80.2 941.9 C82.3 941.9 84.8 944.2 85.7 944.7" fill="none" stroke="#ff4a10" stroke-width="2.5" stroke-linecap="round"/>
<path d="M73.3 946.1 C72.4 946.5 69.7 948.5 67.8 948.8 C66.0 949.2 63.2 948.3 62.3 948.1" fill="none" stroke="#ff4a10" stroke-width="2.5" stroke-linecap="round"/>
</g></g><g filter="url(#lwob)"><path d="M72.0 889.3 C72.0 891.6 72.1 898.5 72.0 903.2 C71.8 907.8 71.3 912.4 71.3 917.0 C71.3 921.6 71.6 925.9 72.0 930.8 C72.3 935.8 73.1 944.1 73.3 946.8" fill="none" stroke="#920000" stroke-width="2.4" stroke-linecap="round"/>
<path d="M58.2 889.7 C60.5 889.6 67.7 889.3 72.0 889.3 C76.2 889.3 81.7 889.6 83.6 889.7" fill="none" stroke="#920000" stroke-width="1.9" stroke-linecap="round"/>
<path d="M71.3 905.2 C69.8 905.2 65.7 905.1 62.3 905.2 C59.0 905.4 53.2 905.8 51.3 905.9" fill="none" stroke="#920000" stroke-width="0.9" stroke-linecap="round"/>
<path d="M71.3 896.2 C70.2 896.9 66.6 898.8 65.1 900.4 C63.6 902.0 62.8 905.0 62.3 905.9" fill="none" stroke="#920000" stroke-width="0.9" stroke-linecap="round"/>
<path d="M72.0 915.6 C73.1 916.5 76.3 919.8 78.8 921.2 C81.3 922.5 85.7 923.5 87.1 923.9" fill="none" stroke="#920000" stroke-width="0.9" stroke-linecap="round"/>
<path d="M72.0 897.6 C72.9 898.3 76.1 900.2 77.4 901.8 C78.8 903.4 79.7 906.4 80.2 907.3" fill="none" stroke="#920000" stroke-width="0.9" stroke-linecap="round"/>
<path d="M73.3 944.7 C74.5 944.2 78.1 941.9 80.2 941.9 C82.3 941.9 84.8 944.2 85.7 944.7" fill="none" stroke="#920000" stroke-width="0.9" stroke-linecap="round"/>
<path d="M73.3 946.1 C72.4 946.5 69.7 948.5 67.8 948.8 C66.0 949.2 63.2 948.3 62.3 948.1" fill="none" stroke="#920000" stroke-width="0.9" stroke-linecap="round"/>
<path d="M72.0 889.3 C72.0 891.6 72.1 898.5 72.0 903.2 C71.8 907.8 71.4 914.7 71.3 917.0" fill="none" stroke="#920000" stroke-width="3.5" stroke-linecap="round"/>
</g>
<ellipse cx="56.1" cy="929.5" rx="15.3" ry="15.8" fill="#0a60ff" filter="url(#lb1)"/>
<ellipse cx="56.1" cy="929.5" rx="13.7" ry="14.2" fill="#0000a6" filter="url(#lb05)"/>
<path d="M88.4 889.3 C89.8 891.6 94.0 897.2 96.7 903.2 C99.3 909.2 103.0 921.6 104.2 925.3" fill="none" stroke="#0010b8" stroke-width="4.5" stroke-linecap="round" filter="url(#lb1)" opacity="0.85"/>
</g>
<g clip-path="url(#cl3)"><rect x="108.70" y="882.40" width="68.70" height="69.20" fill="#0a44e8" stroke="none" stroke-width="1" />
<path d="M143.8 877.1 C148.6 876.9 153.8 878.2 158.2 881.6 C162.6 885.1 167.0 891.8 170.3 897.6 C173.5 903.5 176.0 909.9 177.8 916.7 C179.6 923.4 180.6 930.4 180.8 938.0 C181.1 945.6 185.6 958.0 179.3 962.3 C173.0 966.6 154.9 963.8 143.1 963.8 C131.2 963.8 114.3 966.4 108.3 962.3 C102.2 958.3 106.7 946.5 106.8 939.5 C106.9 932.5 107.4 927.1 109.0 920.5 C110.7 913.9 113.2 906.3 116.6 899.9 C120.0 893.6 124.9 886.2 129.4 882.4 C134.0 878.6 139.0 877.2 143.8 877.1Z" fill="#0038f0" filter="url(#lb2)" opacity="0.95"/>
<path d="M143.7 881.0 C148.1 880.9 152.8 882.1 156.8 885.2 C160.8 888.3 164.8 894.4 167.8 899.7 C170.8 905.0 173.0 910.9 174.7 917.0 C176.3 923.1 177.2 929.5 177.4 936.4 C177.6 943.3 181.8 954.6 176.0 958.5 C170.3 962.4 153.8 959.9 143.1 959.9 C132.3 959.9 116.9 962.2 111.4 958.5 C106.0 954.8 110.0 944.1 110.1 937.8 C110.2 931.4 110.6 926.5 112.1 920.5 C113.6 914.5 115.9 907.5 119.0 901.8 C122.1 896.0 126.6 889.3 130.7 885.9 C134.8 882.4 139.4 881.1 143.7 881.0Z" fill="#0c98ff" filter="url(#lb1)"/>
<path d="M143.7 885.3 C147.6 885.2 151.8 886.2 155.4 889.0 C159.0 891.8 162.6 897.3 165.3 902.1 C168.0 906.9 170.0 912.2 171.5 917.7 C172.9 923.2 173.8 928.9 174.0 935.1 C174.2 941.4 177.9 951.5 172.7 955.1 C167.6 958.6 152.7 956.3 143.1 956.3 C133.4 956.3 119.6 958.4 114.6 955.1 C109.7 951.7 113.3 942.1 113.4 936.4 C113.5 930.7 113.9 926.2 115.2 920.8 C116.6 915.4 118.6 909.2 121.4 904.0 C124.2 898.8 128.2 892.8 131.9 889.7 C135.6 886.6 139.8 885.4 143.7 885.3Z" fill="#38e4d0" filter="url(#lb2)" opacity="0.95"/>
<ellipse cx="144.4" cy="920.5" rx="12.4" ry="31.8" fill="#b4f058" filter="url(#lb3)" opacity="0.95"/>
<ellipse cx="143.7" cy="915.6" rx="8.2" ry="29.1" fill="#ffd21a" filter="url(#lb2)" opacity="0.95"/>
<ellipse cx="143.1" cy="891.4" rx="13.7" ry="3.5" fill="#ffc41a" filter="url(#lb2)" opacity="0.95"/>
<g clip-path="url(#clb3)"><rect x="108.7" y="882.4" width="68.7" height="69.2" filter="url(#lnB3)"/><rect x="108.7" y="882.4" width="68.7" height="69.2" filter="url(#lnY3)"/></g>
<ellipse cx="146.5" cy="951.6" rx="30.2" ry="6.9" fill="#ffd020" filter="url(#lb2)"/>
<ellipse cx="146.5" cy="951.6" rx="22.0" ry="3.5" fill="#ff4a10" filter="url(#lb1)"/>
<path d="M140.3 908.9 C139.7 909.2 137.6 909.8 136.2 910.4 C134.8 910.9 132.8 912.0 132.1 912.3" fill="none" stroke="#ffe860" stroke-width="0.7" opacity="0.75" filter="url(#lb05)"/>
<path d="M145.3 897.3 C146.5 897.3 150.1 898.3 152.4 897.3 C154.8 896.2 158.4 892.1 159.6 891.0" fill="none" stroke="#ffe860" stroke-width="0.7" opacity="0.75" filter="url(#lb05)"/>
<path d="M141.1 923.1 C139.6 923.1 135.1 924.0 132.0 923.1 C129.0 922.3 124.5 919.0 122.9 918.2" fill="none" stroke="#ffe860" stroke-width="0.7" opacity="0.75" filter="url(#lb05)"/>
<path d="M139.4 912.5 C138.6 913.4 136.2 917.1 134.7 918.1 C133.1 919.2 130.7 918.6 130.0 918.7" fill="none" stroke="#ffb020" stroke-width="0.7" opacity="0.75" filter="url(#lb05)"/>
<path d="M139.6 930.2 C138.1 928.9 133.6 923.6 130.6 922.2 C127.5 920.8 123.0 921.9 121.5 921.8" fill="none" stroke="#ffe040" stroke-width="0.7" opacity="0.75" filter="url(#lb05)"/>
<path d="M145.8 936.6 C146.6 937.4 149.3 941.0 151.1 941.3 C152.9 941.5 155.5 938.7 156.4 938.2" fill="none" stroke="#ffe860" stroke-width="0.7" opacity="0.75" filter="url(#lb05)"/>
<path d="M139.9 908.1 C138.8 907.3 135.4 904.0 133.2 903.5 C130.9 903.0 127.5 904.9 126.4 905.1" fill="none" stroke="#ffe860" stroke-width="0.7" opacity="0.75" filter="url(#lb05)"/>
<path d="M141.4 928.3 C140.3 927.8 137.3 926.1 135.3 925.1 C133.3 924.0 130.3 922.5 129.2 922.0" fill="none" stroke="#ffe040" stroke-width="0.7" opacity="0.75" filter="url(#lb05)"/>
<path d="M139.4 938.7 C138.2 937.7 134.5 933.8 132.0 932.7 C129.6 931.6 125.9 932.3 124.7 932.2" fill="none" stroke="#ffe860" stroke-width="0.7" opacity="0.75" filter="url(#lb05)"/>
<path d="M146.0 928.8 C147.3 928.6 151.3 928.1 153.9 927.7 C156.6 927.3 160.5 926.4 161.9 926.2" fill="none" stroke="#ffb020" stroke-width="0.7" opacity="0.75" filter="url(#lb05)"/>
<path d="M139.8 919.9 C138.9 920.8 136.3 924.7 134.5 925.0 C132.8 925.4 130.2 922.4 129.3 921.9" fill="none" stroke="#ffe040" stroke-width="0.7" opacity="0.75" filter="url(#lb05)"/>
<path d="M145.1 943.7 C146.7 944.5 151.5 948.1 154.7 948.7 C157.9 949.3 162.8 947.5 164.4 947.2" fill="none" stroke="#ffb020" stroke-width="0.7" opacity="0.75" filter="url(#lb05)"/>
<path d="M146.6 921.3 C147.8 921.5 151.3 921.9 153.6 922.6 C156.0 923.4 159.5 925.1 160.7 925.5" fill="none" stroke="#ffe040" stroke-width="0.7" opacity="0.75" filter="url(#lb05)"/>
<path d="M139.6 909.1 C138.4 909.2 134.9 908.4 132.5 909.3 C130.1 910.3 126.5 914.1 125.4 915.0" fill="none" stroke="#ffe040" stroke-width="0.7" opacity="0.75" filter="url(#lb05)"/>
<path d="M141.0 935.1 C140.1 934.8 137.5 933.7 135.7 933.7 C133.9 933.7 131.3 934.9 130.4 935.1" fill="none" stroke="#ffe860" stroke-width="0.7" opacity="0.75" filter="url(#lb05)"/>
<path d="M147.1 941.1 C148.2 941.3 151.6 941.9 153.9 941.8 C156.1 941.8 159.5 941.0 160.6 940.8" fill="none" stroke="#ffe860" stroke-width="0.7" opacity="0.75" filter="url(#lb05)"/>
<g filter="url(#lb1)" opacity="0.9"><g filter="url(#lwob)"><path d="M143.1 889.3 C143.1 891.6 143.1 898.5 143.1 903.2 C143.1 907.8 142.8 912.4 143.1 917.0 C143.3 921.6 143.9 926.0 144.4 930.8 C145.0 935.7 146.1 943.5 146.5 946.1" fill="none" stroke="#ff4a10" stroke-width="3.5" stroke-linecap="round"/>
<path d="M131.4 889.3 C133.3 889.3 139.2 889.0 143.1 889.0 C146.9 889.0 152.8 889.3 154.7 889.3" fill="none" stroke="#ff4a10" stroke-width="3.1" stroke-linecap="round"/>
<path d="M143.1 903.2 C144.4 904.3 148.3 908.2 151.3 910.1 C154.3 911.9 159.3 913.5 160.9 914.2" fill="none" stroke="#ff4a10" stroke-width="2.5" stroke-linecap="round"/>
<path d="M143.7 920.5 C144.8 921.3 147.7 924.3 149.9 925.3 C152.1 926.3 155.6 926.5 156.8 926.7" fill="none" stroke="#ff4a10" stroke-width="2.5" stroke-linecap="round"/>
<path d="M143.1 896.2 C144.0 896.5 146.7 897.6 148.5 897.6 C150.4 897.6 153.1 896.5 154.0 896.2" fill="none" stroke="#ff4a10" stroke-width="2.5" stroke-linecap="round"/>
<path d="M146.5 946.1 C147.7 946.2 151.2 946.2 154.0 946.8 C156.9 947.3 162.1 949.1 163.7 949.5" fill="none" stroke="#ff4a10" stroke-width="2.5" stroke-linecap="round"/>
<path d="M146.5 946.8 C144.8 947.2 139.6 949.1 136.2 949.5 C132.7 950.0 127.6 949.5 125.9 949.5" fill="none" stroke="#ff4a10" stroke-width="2.5" stroke-linecap="round"/>
</g></g><g filter="url(#lwob)"><path d="M143.1 889.3 C143.1 891.6 143.1 898.5 143.1 903.2 C143.1 907.8 142.8 912.4 143.1 917.0 C143.3 921.6 143.9 926.0 144.4 930.8 C145.0 935.7 146.1 943.5 146.5 946.1" fill="none" stroke="#920000" stroke-width="1.9" stroke-linecap="round"/>
<path d="M131.4 889.3 C133.3 889.3 139.2 889.0 143.1 889.0 C146.9 889.0 152.8 889.3 154.7 889.3" fill="none" stroke="#920000" stroke-width="1.5" stroke-linecap="round"/>
<path d="M143.1 903.2 C144.4 904.3 148.3 908.2 151.3 910.1 C154.3 911.9 159.3 913.5 160.9 914.2" fill="none" stroke="#920000" stroke-width="0.9" stroke-linecap="round"/>
<path d="M143.7 920.5 C144.8 921.3 147.7 924.3 149.9 925.3 C152.1 926.3 155.6 926.5 156.8 926.7" fill="none" stroke="#920000" stroke-width="0.9" stroke-linecap="round"/>
<path d="M143.1 896.2 C144.0 896.5 146.7 897.6 148.5 897.6 C150.4 897.6 153.1 896.5 154.0 896.2" fill="none" stroke="#920000" stroke-width="0.9" stroke-linecap="round"/>
<path d="M146.5 946.1 C147.7 946.2 151.2 946.2 154.0 946.8 C156.9 947.3 162.1 949.1 163.7 949.5" fill="none" stroke="#920000" stroke-width="0.9" stroke-linecap="round"/>
<path d="M146.5 946.8 C144.8 947.2 139.6 949.1 136.2 949.5 C132.7 950.0 127.6 949.5 125.9 949.5" fill="none" stroke="#920000" stroke-width="0.9" stroke-linecap="round"/>
<path d="M143.1 889.3 C143.1 891.6 143.1 900.9 143.1 903.2" fill="none" stroke="#920000" stroke-width="2.8" stroke-linecap="round"/>
</g>
<ellipse cx="124.8" cy="925.3" rx="18.4" ry="22.4" fill="#0a60ff" filter="url(#lb1)"/>
<ellipse cx="124.8" cy="925.3" rx="16.8" ry="20.8" fill="#0000a6" filter="url(#lb05)"/>
<path d="M170.5 881.0 C171.0 880.5 177.9 880.5 178.8 881.0 C179.6 881.6 179.3 886.1 178.8 886.6 C178.3 887.0 174.8 886.4 174.0 885.9 C173.1 885.3 170.0 881.5 170.5 881.0Z" fill="#8c8c8c"/>
</g>
<rect x="55.00" y="954.30" width="103.40" height="6.40" fill="url(#jet)" stroke="none" stroke-width="1" />
<text x="41.00" y="960.00" font-size="5.6" font-weight="bold" text-anchor="start" fill="#000" >Low</text>
<text x="160.60" y="960.00" font-size="5.6" font-weight="bold" text-anchor="start" fill="#000" >High</text>
</g>
<g id="panelM">
<text x="216.20" y="794.80" font-size="16.5" font-weight="bold" text-anchor="start" fill="#000" >M</text>
<line x1="270.90" y1="812.50" x2="270.90" y2="938.30" stroke="#000" stroke-width="1.1" />
<line x1="270.40" y1="937.80" x2="395.50" y2="937.80" stroke="#000" stroke-width="1.1" />
<line x1="264.90" y1="937.80" x2="270.90" y2="937.80" stroke="#000" stroke-width="1.1" />
<text x="263.70" y="940.70" font-size="8.1" font-weight="bold" text-anchor="end" fill="#000" >0</text>
<line x1="264.90" y1="896.20" x2="270.90" y2="896.20" stroke="#000" stroke-width="1.1" />
<text x="263.70" y="899.10" font-size="8.1" font-weight="bold" text-anchor="end" fill="#000" >500</text>
<line x1="264.90" y1="854.60" x2="270.90" y2="854.60" stroke="#000" stroke-width="1.1" />
<text x="263.70" y="857.50" font-size="8.1" font-weight="bold" text-anchor="end" fill="#000" >1000</text>
<line x1="264.90" y1="813.00" x2="270.90" y2="813.00" stroke="#000" stroke-width="1.1" />
<text x="263.70" y="815.90" font-size="8.1" font-weight="bold" text-anchor="end" fill="#000" >1500</text>
<text x="239.60" y="877.00" font-size="8.75" font-weight="bold" text-anchor="middle" fill="#000" transform="rotate(-90 239.60 877.00)" >Cerebral blood flow in the ROI (PU)</text>
<rect x="279.00" y="852.85" width="17.00" height="84.95" fill="#000" stroke="none" stroke-width="1" />
<line x1="287.50" y1="846.36" x2="287.50" y2="859.34" stroke="#000" stroke-width="1.0" />
<line x1="283.90" y1="846.36" x2="291.10" y2="846.36" stroke="#000" stroke-width="1.0" />
<line x1="283.90" y1="859.34" x2="291.10" y2="859.34" stroke="#000" stroke-width="1.0" />
<rect x="303.80" y="853.27" width="17.00" height="84.53" fill="#fc0a12" stroke="none" stroke-width="1" />
<line x1="312.30" y1="847.78" x2="312.30" y2="858.76" stroke="#000" stroke-width="1.0" />
<line x1="308.70" y1="847.78" x2="315.90" y2="847.78" stroke="#000" stroke-width="1.0" />
<line x1="308.70" y1="858.76" x2="315.90" y2="858.76" stroke="#000" stroke-width="1.0" />
<rect x="345.40" y="894.12" width="17.00" height="43.68" fill="#000" stroke="none" stroke-width="1" />
<line x1="353.90" y1="892.29" x2="353.90" y2="895.95" stroke="#000" stroke-width="1.0" />
<line x1="350.30" y1="892.29" x2="357.50" y2="892.29" stroke="#000" stroke-width="1.0" />
<line x1="350.30" y1="895.95" x2="357.50" y2="895.95" stroke="#000" stroke-width="1.0" />
<rect x="370.30" y="909.10" width="17.00" height="28.70" fill="#fc0a12" stroke="none" stroke-width="1" />
<line x1="378.80" y1="907.60" x2="378.80" y2="910.59" stroke="#000" stroke-width="1.0" />
<line x1="375.20" y1="907.60" x2="382.40" y2="907.60" stroke="#000" stroke-width="1.0" />
<line x1="375.20" y1="910.59" x2="382.40" y2="910.59" stroke="#000" stroke-width="1.0" />
<line x1="299.80" y1="937.80" x2="299.80" y2="942.50" stroke="#000" stroke-width="1.1" />
<line x1="366.40" y1="937.80" x2="366.40" y2="942.50" stroke="#000" stroke-width="1.1" />
<text x="299.70" y="952.20" font-size="8.7" font-weight="bold" text-anchor="middle" fill="#000" >Sham</text>
<text x="366.40" y="952.20" font-size="8.7" font-weight="bold" text-anchor="middle" fill="#000" >IS</text>
<circle cx="287.50" cy="830.00" r="1.60" fill="#fff" stroke="#000" stroke-width="0.8" />
<circle cx="287.50" cy="841.40" r="1.60" fill="#fff" stroke="#000" stroke-width="0.8" />
<circle cx="287.50" cy="851.40" r="1.60" fill="#fff" stroke="#000" stroke-width="0.8" />
<circle cx="293.70" cy="859.80" r="1.60" fill="#fff" stroke="#000" stroke-width="0.8" />
<circle cx="287.50" cy="863.30" r="1.60" fill="#fff" stroke="#000" stroke-width="0.8" />
<circle cx="287.50" cy="870.30" r="1.60" fill="#fff" stroke="#000" stroke-width="0.8" />
<circle cx="312.10" cy="834.90" r="1.60" fill="#fff" stroke="#000" stroke-width="0.8" />
<circle cx="312.10" cy="838.60" r="1.60" fill="#fff" stroke="#000" stroke-width="0.8" />
<circle cx="318.70" cy="858.10" r="1.60" fill="#fff" stroke="#000" stroke-width="0.8" />
<circle cx="312.10" cy="860.20" r="1.60" fill="#fff" stroke="#000" stroke-width="0.8" />
<circle cx="305.60" cy="863.30" r="1.60" fill="#fff" stroke="#000" stroke-width="0.8" />
<circle cx="318.70" cy="863.30" r="1.60" fill="#fff" stroke="#000" stroke-width="0.8" />
<circle cx="353.60" cy="885.80" r="1.60" fill="#fff" stroke="#000" stroke-width="0.8" />
<circle cx="361.00" cy="892.21" r="1.60" fill="#fff" stroke="#000" stroke-width="0.8" />
<circle cx="349.40" cy="894.95" r="1.60" fill="#fff" stroke="#000" stroke-width="0.8" />
<circle cx="353.40" cy="897.70" r="1.60" fill="#fff" stroke="#000" stroke-width="0.8" />
<circle cx="357.40" cy="897.70" r="1.60" fill="#fff" stroke="#000" stroke-width="0.8" />
<circle cx="361.20" cy="897.70" r="1.60" fill="#fff" stroke="#000" stroke-width="0.8" />
<circle cx="372.80" cy="908.26" r="1.60" fill="#fff" stroke="#000" stroke-width="0.8" />
<circle cx="376.80" cy="906.35" r="1.60" fill="#fff" stroke="#000" stroke-width="0.8" />
<circle cx="380.80" cy="908.18" r="1.60" fill="#fff" stroke="#000" stroke-width="0.8" />
<circle cx="385.00" cy="908.68" r="1.60" fill="#fff" stroke="#000" stroke-width="0.8" />
<circle cx="379.00" cy="911.84" r="1.60" fill="#fff" stroke="#000" stroke-width="0.8" />
<circle cx="379.20" cy="917.42" r="1.60" fill="#fff" stroke="#000" stroke-width="0.8" />
<line x1="286.30" y1="823.00" x2="314.00" y2="823.00" stroke="#000" stroke-width="1.0" />
<text x="300.70" y="819.60" font-size="7.8" text-anchor="middle" fill="#222" >ns</text>
<line x1="353.10" y1="878.90" x2="379.70" y2="878.90" stroke="#000" stroke-width="1.0" />
<text x="366.40" y="878.20" font-size="8" text-anchor="middle" fill="#000" >*</text>
<rect x="332.20" y="812.00" width="12.20" height="4.40" fill="#000" stroke="none" stroke-width="1" />
<rect x="332.20" y="827.80" width="12.20" height="4.40" fill="#fc0a12" stroke="none" stroke-width="1" />
<text x="350.60" y="817.40" font-size="7.8" text-anchor="start" fill="#111" >YAP<tspan font-size="5.00" dy="-3.10">f/f</tspan></text>
<text x="350.60" y="833.40" font-size="7.8" text-anchor="start" fill="#111" >YAP<tspan font-size="5.00" dy="-3.10">GFAP</tspan><tspan dy="3.10" dx="0">-CKO</tspan></text>
</g>
<g id="panelN">
<text x="419.00" y="795.20" font-size="16.5" font-weight="bold" text-anchor="start" fill="#000" >N</text>
<text x="458.60" y="814.60" font-size="8.0" font-weight="bold" text-anchor="start" fill="#000" transform="rotate(-45 458.60 814.60)" >YAP<tspan font-size="6.00" dy="-3.10" font-weight="normal">f/f</tspan></text>
<text x="488.40" y="813.40" font-size="8.0" font-weight="bold" text-anchor="start" fill="#000" transform="rotate(-45 488.40 813.40)" >YAP<tspan font-size="6.00" dy="-3.10" font-weight="normal">GFAP</tspan><tspan dy="3.10" dx="1.2">-CKO</tspan></text>
<rect x="446.60" y="816.30" width="32.70" height="143.30" fill="#1b201d" stroke="none" stroke-width="1" />
<rect x="446.6" y="816.3" width="32.7" height="143.3" filter="url(#nsp)" opacity="0.9"/>
<path d="M454.5 826.3 C454.5 820.1 460.0 820.5 463.0 821.3 C466.0 820.5 471.5 820.1 471.5 826.3 C471.5 831.7 466.4 833.0 463.0 830.2 C459.6 833.0 454.5 831.7 454.5 826.3Z" fill="#f4d6d8"/>
<path d="M455.1 826.3 C455.1 820.8 460.2 821.2 463.0 821.9 C465.8 821.2 470.9 820.8 470.9 826.3 C470.9 831.1 466.2 832.3 463.0 829.8 C459.8 832.3 455.1 831.1 455.1 826.3Z" fill="#e32449"/>
<ellipse cx="459.6" cy="826.8" rx="2.5" ry="2.4" fill="#f58da0" opacity="0.8" filter="url(#nb1)"/>
<ellipse cx="466.4" cy="826.8" rx="2.5" ry="2.4" fill="#f58da0" opacity="0.8" filter="url(#nb1)"/>
<ellipse cx="463.0" cy="827.4" rx="1.4" ry="3.0" fill="#f7a9b6" opacity="0.7" filter="url(#nb1)"/>
<path d="M458.3 824.4 Q463.0 822.2 467.7 824.4" fill="none" stroke="#f9c3cb" stroke-width="0.7" opacity="0.45" filter="url(#nb05)"/>
<path d="M451.0 849.0 C451.0 840.8 458.8 841.3 463.0 842.5 C467.2 841.3 475.0 840.8 475.0 849.0 C475.0 856.1 467.8 857.9 463.0 854.1 C458.2 857.9 451.0 856.1 451.0 849.0Z" fill="#f4d6d8"/>
<path d="M451.6 849.0 C451.6 841.6 459.0 842.0 463.0 843.1 C467.0 842.0 474.4 841.6 474.4 849.0 C474.4 855.5 467.6 857.2 463.0 853.7 C458.4 857.2 451.6 855.5 451.6 849.0Z" fill="#e32449"/>
<ellipse cx="458.2" cy="849.7" rx="3.6" ry="3.2" fill="#f58da0" opacity="0.8" filter="url(#nb1)"/>
<ellipse cx="467.8" cy="849.7" rx="3.6" ry="3.2" fill="#f58da0" opacity="0.8" filter="url(#nb1)"/>
<ellipse cx="463.0" cy="850.4" rx="1.9" ry="3.9" fill="#f7a9b6" opacity="0.7" filter="url(#nb1)"/>
<path d="M456.4 846.5 Q463.0 843.7 469.6 846.5" fill="none" stroke="#f9c3cb" stroke-width="0.7" opacity="0.45" filter="url(#nb05)"/>
<path d="M450.0 873.6 C450.0 864.1 458.4 864.6 463.0 866.0 C467.6 864.6 476.0 864.1 476.0 873.6 C476.0 881.9 468.2 884.0 463.0 879.6 C457.8 884.0 450.0 881.9 450.0 873.6Z" fill="#f4d6d8"/>
<path d="M450.6 873.6 C450.6 864.8 458.7 865.3 463.0 866.6 C467.3 865.3 475.4 864.8 475.4 873.6 C475.4 881.4 468.0 883.3 463.0 879.2 C458.0 883.3 450.6 881.4 450.6 873.6Z" fill="#e32449"/>
<ellipse cx="457.8" cy="874.4" rx="3.9" ry="3.7" fill="#f58da0" opacity="0.8" filter="url(#nb1)"/>
<ellipse cx="468.2" cy="874.4" rx="3.9" ry="3.7" fill="#f58da0" opacity="0.8" filter="url(#nb1)"/>
<ellipse cx="463.0" cy="875.3" rx="2.1" ry="4.6" fill="#f7a9b6" opacity="0.7" filter="url(#nb1)"/>
<path d="M455.9 870.7 Q463.0 867.4 470.1 870.7" fill="none" stroke="#f9c3cb" stroke-width="0.7" opacity="0.45" filter="url(#nb05)"/>
<ellipse cx="456.5" cy="868.0" rx="5.0" ry="2.6" fill="#f7e6e4" filter="url(#nb05)"/>
<path d="M451.2 870.3 Q456.5 871.6 461.8 867.2" fill="none" stroke="#111" stroke-width="0.9" stroke-dasharray="0.9 0.9"/>
<path d="M449.8 899.1 C449.8 888.4 458.4 889.1 463.0 890.5 C467.6 889.1 476.2 888.4 476.2 899.1 C476.2 908.4 468.3 910.7 463.0 905.8 C457.7 910.7 449.8 908.4 449.8 899.1Z" fill="#f4d6d8"/>
<path d="M450.4 899.1 C450.4 889.1 458.6 889.8 463.0 891.1 C467.4 889.8 475.6 889.1 475.6 899.1 C475.6 907.9 468.0 910.0 463.0 905.4 C458.0 910.0 450.4 907.9 450.4 899.1Z" fill="#e32449"/>
<ellipse cx="457.7" cy="900.0" rx="4.0" ry="4.2" fill="#f58da0" opacity="0.8" filter="url(#nb1)"/>
<ellipse cx="468.3" cy="900.0" rx="4.0" ry="4.2" fill="#f58da0" opacity="0.8" filter="url(#nb1)"/>
<ellipse cx="463.0" cy="901.0" rx="2.1" ry="5.1" fill="#f7a9b6" opacity="0.7" filter="url(#nb1)"/>
<path d="M455.7 895.8 Q463.0 892.1 470.3 895.8" fill="none" stroke="#f9c3cb" stroke-width="0.7" opacity="0.45" filter="url(#nb05)"/>
<ellipse cx="457.0" cy="893.1" rx="4.6" ry="3.0" fill="#f7e6e4" filter="url(#nb05)"/>
<path d="M452.1 895.8 Q457.0 897.3 461.9 892.2" fill="none" stroke="#111" stroke-width="0.9" stroke-dasharray="0.9 0.9"/>
<path d="M449.1 923.7 C449.1 914.3 458.1 914.8 463.0 916.2 C467.9 914.8 476.9 914.3 476.9 923.7 C476.9 931.9 468.6 934.0 463.0 929.6 C457.4 934.0 449.1 931.9 449.1 923.7Z" fill="#f4d6d8"/>
<path d="M449.7 923.8 C449.7 915.0 458.3 915.5 463.0 916.8 C467.7 915.5 476.3 915.0 476.3 923.8 C476.3 931.4 468.3 933.2 463.0 929.2 C457.7 933.2 449.7 931.4 449.7 923.8Z" fill="#e32449"/>
<ellipse cx="457.4" cy="924.5" rx="4.2" ry="3.7" fill="#f58da0" opacity="0.8" filter="url(#nb1)"/>
<ellipse cx="468.6" cy="924.5" rx="4.2" ry="3.7" fill="#f58da0" opacity="0.8" filter="url(#nb1)"/>
<ellipse cx="463.0" cy="925.3" rx="2.2" ry="4.5" fill="#f7a9b6" opacity="0.7" filter="url(#nb1)"/>
<path d="M455.4 920.8 Q463.0 917.6 470.6 920.8" fill="none" stroke="#f9c3cb" stroke-width="0.7" opacity="0.45" filter="url(#nb05)"/>
<ellipse cx="463.0" cy="928.784" rx="4.17" ry="2.4599999999999995" fill="#f7e4e6" filter="url(#nb05)"/>
<path d="M450.5 947.9 C450.5 939.7 458.6 940.2 463.0 941.4 C467.4 940.2 475.5 939.7 475.5 947.9 C475.5 955.0 468.0 956.8 463.0 953.0 C458.0 956.8 450.5 955.0 450.5 947.9Z" fill="#f4d6d8"/>
<path d="M451.1 947.9 C451.1 940.5 458.8 940.9 463.0 942.0 C467.2 940.9 474.9 940.5 474.9 947.9 C474.9 954.4 467.8 956.1 463.0 952.6 C458.2 956.1 451.1 954.4 451.1 947.9Z" fill="#e32449"/>
<ellipse cx="458.0" cy="948.6" rx="3.8" ry="3.2" fill="#f58da0" opacity="0.8" filter="url(#nb1)"/>
<ellipse cx="468.0" cy="948.6" rx="3.8" ry="3.2" fill="#f58da0" opacity="0.8" filter="url(#nb1)"/>
<ellipse cx="463.0" cy="949.3" rx="2.0" ry="3.9" fill="#f7a9b6" opacity="0.7" filter="url(#nb1)"/>
<path d="M456.1 945.4 Q463.0 942.6 469.9 945.4" fill="none" stroke="#f9c3cb" stroke-width="0.7" opacity="0.45" filter="url(#nb05)"/>
<ellipse cx="463.0" cy="952.302" rx="3.75" ry="2.13" fill="#f7e4e6" filter="url(#nb05)"/>
<rect x="487.80" y="816.30" width="33.10" height="143.30" fill="#1b201d" stroke="none" stroke-width="1" />
<rect x="487.8" y="816.3" width="33.1" height="143.3" filter="url(#nsp)" opacity="0.9"/>
<path d="M495.7 826.3 C495.7 819.4 501.9 819.8 505.2 820.8 C508.5 819.8 514.7 819.4 514.7 826.3 C514.7 832.3 509.0 833.8 505.2 830.6 C501.4 833.8 495.7 832.3 495.7 826.3Z" fill="#f4d6d8"/>
<path d="M496.3 826.3 C496.3 820.1 502.1 820.5 505.2 821.4 C508.3 820.5 514.1 820.1 514.1 826.3 C514.1 831.7 508.8 833.1 505.2 830.2 C501.6 833.1 496.3 831.7 496.3 826.3Z" fill="#e32449"/>
<ellipse cx="501.4" cy="826.9" rx="2.9" ry="2.7" fill="#f58da0" opacity="0.8" filter="url(#nb1)"/>
<ellipse cx="509.0" cy="826.9" rx="2.9" ry="2.7" fill="#f58da0" opacity="0.8" filter="url(#nb1)"/>
<ellipse cx="505.2" cy="827.5" rx="1.5" ry="3.3" fill="#f7a9b6" opacity="0.7" filter="url(#nb1)"/>
<path d="M500.0 824.2 Q505.2 821.8 510.4 824.2" fill="none" stroke="#f9c3cb" stroke-width="0.7" opacity="0.45" filter="url(#nb05)"/>
<path d="M491.7 849.0 C491.7 839.8 500.5 840.4 505.2 841.6 C509.9 840.4 518.7 839.8 518.7 849.0 C518.7 857.0 510.6 859.0 505.2 854.8 C499.8 859.0 491.7 857.0 491.7 849.0Z" fill="#f4d6d8"/>
<path d="M492.3 849.0 C492.3 840.5 500.7 841.1 505.2 842.2 C509.7 841.1 518.1 840.5 518.1 849.0 C518.1 856.4 510.4 858.3 505.2 854.4 C500.0 858.3 492.3 856.4 492.3 849.0Z" fill="#e32449"/>
<ellipse cx="499.8" cy="849.8" rx="4.0" ry="3.6" fill="#f58da0" opacity="0.8" filter="url(#nb1)"/>
<ellipse cx="510.6" cy="849.8" rx="4.0" ry="3.6" fill="#f58da0" opacity="0.8" filter="url(#nb1)"/>
<ellipse cx="505.2" cy="850.6" rx="2.2" ry="4.4" fill="#f7a9b6" opacity="0.7" filter="url(#nb1)"/>
<path d="M497.8 846.2 Q505.2 843.0 512.6 846.2" fill="none" stroke="#f9c3cb" stroke-width="0.7" opacity="0.45" filter="url(#nb05)"/>
<path d="M491.7 873.6 C491.7 863.2 500.5 863.9 505.2 865.3 C509.9 863.9 518.7 863.2 518.7 873.6 C518.7 882.6 510.6 884.9 505.2 880.1 C499.8 884.9 491.7 882.6 491.7 873.6Z" fill="#f4d6d8"/>
<path d="M492.3 873.6 C492.3 864.0 500.7 864.6 505.2 865.9 C509.7 864.6 518.1 864.0 518.1 873.6 C518.1 882.0 510.4 884.1 505.2 879.7 C500.0 884.1 492.3 882.0 492.3 873.6Z" fill="#e32449"/>
<ellipse cx="499.8" cy="874.5" rx="4.0" ry="4.0" fill="#f58da0" opacity="0.8" filter="url(#nb1)"/>
<ellipse cx="510.6" cy="874.5" rx="4.0" ry="4.0" fill="#f58da0" opacity="0.8" filter="url(#nb1)"/>
<ellipse cx="505.2" cy="875.4" rx="2.2" ry="5.0" fill="#f7a9b6" opacity="0.7" filter="url(#nb1)"/>
<path d="M497.8 870.5 Q505.2 866.9 512.6 870.5" fill="none" stroke="#f9c3cb" stroke-width="0.7" opacity="0.45" filter="url(#nb05)"/>
<ellipse cx="500.2" cy="868.4" rx="6.0" ry="3.4" fill="#f7e6e4" filter="url(#nb05)"/>
<path d="M493.9 871.5 Q500.2 873.2 506.5 867.4" fill="none" stroke="#111" stroke-width="0.9" stroke-dasharray="0.9 0.9"/>
<path d="M491.7 899.1 C491.7 888.2 500.5 888.8 505.2 890.4 C509.9 888.8 518.7 888.2 518.7 899.1 C518.7 908.6 510.6 911.0 505.2 905.9 C499.8 911.0 491.7 908.6 491.7 899.1Z" fill="#f4d6d8"/>
<path d="M492.3 899.1 C492.3 888.9 500.7 889.5 505.2 891.0 C509.7 889.5 518.1 888.9 518.1 899.1 C518.1 908.0 510.4 910.3 505.2 905.6 C500.0 910.3 492.3 908.0 492.3 899.1Z" fill="#e32449"/>
<ellipse cx="499.8" cy="900.1" rx="4.0" ry="4.3" fill="#f58da0" opacity="0.8" filter="url(#nb1)"/>
<ellipse cx="510.6" cy="900.1" rx="4.0" ry="4.3" fill="#f58da0" opacity="0.8" filter="url(#nb1)"/>
<ellipse cx="505.2" cy="901.0" rx="2.2" ry="5.2" fill="#f7a9b6" opacity="0.7" filter="url(#nb1)"/>
<path d="M497.8 895.8 Q505.2 892.0 512.6 895.8" fill="none" stroke="#f9c3cb" stroke-width="0.7" opacity="0.45" filter="url(#nb05)"/>
<ellipse cx="500.59999999999997" cy="894.1" rx="6.2" ry="3.8" fill="#f7e6e4" filter="url(#nb05)"/>
<path d="M494.1 897.5 Q500.6 899.4 507.1 893.0" fill="none" stroke="#111" stroke-width="0.9" stroke-dasharray="0.9 0.9"/>
<path d="M492.2 923.7 C492.2 914.3 500.6 914.8 505.2 916.2 C509.8 914.8 518.2 914.3 518.2 923.7 C518.2 931.9 510.4 934.0 505.2 929.6 C500.0 934.0 492.2 931.9 492.2 923.7Z" fill="#f4d6d8"/>
<path d="M492.8 923.8 C492.8 915.0 500.9 915.5 505.2 916.8 C509.5 915.5 517.6 915.0 517.6 923.8 C517.6 931.4 510.2 933.2 505.2 929.2 C500.2 933.2 492.8 931.4 492.8 923.8Z" fill="#e32449"/>
<ellipse cx="500.0" cy="924.5" rx="3.9" ry="3.7" fill="#f58da0" opacity="0.8" filter="url(#nb1)"/>
<ellipse cx="510.4" cy="924.5" rx="3.9" ry="3.7" fill="#f58da0" opacity="0.8" filter="url(#nb1)"/>
<ellipse cx="505.2" cy="925.3" rx="2.1" ry="4.5" fill="#f7a9b6" opacity="0.7" filter="url(#nb1)"/>
<path d="M498.1 920.8 Q505.2 917.6 512.4 920.8" fill="none" stroke="#f9c3cb" stroke-width="0.7" opacity="0.45" filter="url(#nb05)"/>
<ellipse cx="501.8" cy="918.5" rx="4.4" ry="2.6" fill="#f7e6e4" filter="url(#nb05)"/>
<path d="M497.1 920.8 Q501.8 922.1 506.5 917.7" fill="none" stroke="#111" stroke-width="0.9" stroke-dasharray="0.9 0.9"/>
<path d="M492.6 947.9 C492.6 938.7 500.8 939.3 505.2 940.5 C509.6 939.3 517.8 938.7 517.8 947.9 C517.8 955.9 510.2 957.9 505.2 953.7 C500.2 957.9 492.6 955.9 492.6 947.9Z" fill="#f4d6d8"/>
<path d="M493.2 947.9 C493.2 939.4 501.0 940.0 505.2 941.1 C509.4 940.0 517.2 939.4 517.2 947.9 C517.2 955.3 510.0 957.2 505.2 953.3 C500.4 957.2 493.2 955.3 493.2 947.9Z" fill="#e32449"/>
<ellipse cx="500.2" cy="948.7" rx="3.8" ry="3.6" fill="#f58da0" opacity="0.8" filter="url(#nb1)"/>
<ellipse cx="510.2" cy="948.7" rx="3.8" ry="3.6" fill="#f58da0" opacity="0.8" filter="url(#nb1)"/>
<ellipse cx="505.2" cy="949.5" rx="2.0" ry="4.4" fill="#f7a9b6" opacity="0.7" filter="url(#nb1)"/>
<path d="M498.3 945.1 Q505.2 941.9 512.1 945.1" fill="none" stroke="#f9c3cb" stroke-width="0.7" opacity="0.45" filter="url(#nb05)"/>
</g>
<g id="panelO">
<text x="559.20" y="795.20" font-size="16.5" font-weight="bold" text-anchor="start" fill="#000" >O</text>
<line x1="601.50" y1="794.60" x2="601.50" y2="911.10" stroke="#000" stroke-width="1.1" />
<line x1="601.00" y1="910.60" x2="679.50" y2="910.60" stroke="#000" stroke-width="1.1" />
<line x1="596.20" y1="910.60" x2="601.50" y2="910.60" stroke="#000" stroke-width="1.1" />
<text x="595.30" y="913.30" font-size="7.5" font-weight="bold" text-anchor="end" fill="#000" >0</text>
<line x1="596.20" y1="887.50" x2="601.50" y2="887.50" stroke="#000" stroke-width="1.1" />
<text x="595.30" y="890.20" font-size="7.5" font-weight="bold" text-anchor="end" fill="#000" >2</text>
<line x1="596.20" y1="864.40" x2="601.50" y2="864.40" stroke="#000" stroke-width="1.1" />
<text x="595.30" y="867.10" font-size="7.5" font-weight="bold" text-anchor="end" fill="#000" >4</text>
<line x1="596.20" y1="841.30" x2="601.50" y2="841.30" stroke="#000" stroke-width="1.1" />
<text x="595.30" y="844.00" font-size="7.5" font-weight="bold" text-anchor="end" fill="#000" >6</text>
<line x1="596.20" y1="818.20" x2="601.50" y2="818.20" stroke="#000" stroke-width="1.1" />
<text x="595.30" y="820.90" font-size="7.5" font-weight="bold" text-anchor="end" fill="#000" >8</text>
<line x1="596.20" y1="795.10" x2="601.50" y2="795.10" stroke="#000" stroke-width="1.1" />
<text x="595.30" y="797.80" font-size="7.5" font-weight="bold" text-anchor="end" fill="#000" >10</text>
<text x="582.20" y="854.00" font-size="8.3" font-weight="bold" text-anchor="middle" fill="#000" transform="rotate(-90 582.20 854.00)" >Infarct volume (%)</text>
<rect x="612.90" y="847.88" width="22.10" height="62.72" fill="#000" stroke="none" stroke-width="1" />
<rect x="645.80" y="811.27" width="22.10" height="99.33" fill="#fc0a12" stroke="none" stroke-width="1" />
<line x1="623.80" y1="843.49" x2="623.80" y2="852.27" stroke="#000" stroke-width="1.0" />
<line x1="619.10" y1="843.49" x2="628.50" y2="843.49" stroke="#000" stroke-width="1.0" />
<line x1="619.10" y1="852.27" x2="628.50" y2="852.27" stroke="#000" stroke-width="1.0" />
<line x1="656.80" y1="807.57" x2="656.80" y2="814.97" stroke="#000" stroke-width="1.0" />
<line x1="652.10" y1="807.57" x2="661.50" y2="807.57" stroke="#000" stroke-width="1.0" />
<line x1="652.10" y1="814.97" x2="661.50" y2="814.97" stroke="#000" stroke-width="1.0" />
<line x1="623.80" y1="910.60" x2="623.80" y2="915.90" stroke="#000" stroke-width="1.1" />
<line x1="656.60" y1="910.60" x2="656.60" y2="915.90" stroke="#000" stroke-width="1.1" />
<circle cx="624.00" cy="837.20" r="1.70" fill="#fff" stroke="#000" stroke-width="0.85" />
<circle cx="630.70" cy="839.10" r="1.70" fill="#fff" stroke="#000" stroke-width="0.85" />
<circle cx="623.70" cy="848.10" r="1.70" fill="#fff" stroke="#000" stroke-width="0.85" />
<circle cx="617.00" cy="861.00" r="1.70" fill="#fff" stroke="#000" stroke-width="0.85" />
<circle cx="630.70" cy="858.20" r="1.70" fill="#fff" stroke="#000" stroke-width="0.85" />
<circle cx="623.70" cy="843.40" r="1.70" fill="#fff" stroke="#000" stroke-width="0.85" />
<circle cx="649.80" cy="805.00" r="1.70" fill="#fff" stroke="#000" stroke-width="0.85" />
<circle cx="656.80" cy="805.00" r="1.70" fill="#fff" stroke="#000" stroke-width="0.85" />
<circle cx="663.40" cy="805.60" r="1.70" fill="#fff" stroke="#000" stroke-width="0.85" />
<circle cx="656.80" cy="810.30" r="1.70" fill="#fff" stroke="#000" stroke-width="0.85" />
<circle cx="656.80" cy="814.50" r="1.70" fill="#fff" stroke="#000" stroke-width="0.85" />
<circle cx="656.80" cy="828.60" r="1.70" fill="#fff" stroke="#000" stroke-width="0.85" />
<line x1="623.30" y1="798.40" x2="657.70" y2="798.40" stroke="#000" stroke-width="1.0" />
<text x="640.10" y="797.40" font-size="8" text-anchor="middle" fill="#000" >**</text>
<text x="628.40" y="920.80" font-size="8.2" font-weight="bold" text-anchor="end" fill="#000" transform="rotate(-45 628.40 920.80)" >YAP<tspan font-size="6.20" dy="-3.20" font-weight="normal">f/f</tspan></text>
<text x="661.20" y="920.80" font-size="8.2" font-weight="bold" text-anchor="end" fill="#000" transform="rotate(-45 661.20 920.80)" >YAP<tspan font-size="6.20" dy="-3.20" font-weight="normal">GFAP</tspan><tspan dy="3.20" dx="1.2">-CKO</tspan></text>
</g>
</svg>
</body></html>
